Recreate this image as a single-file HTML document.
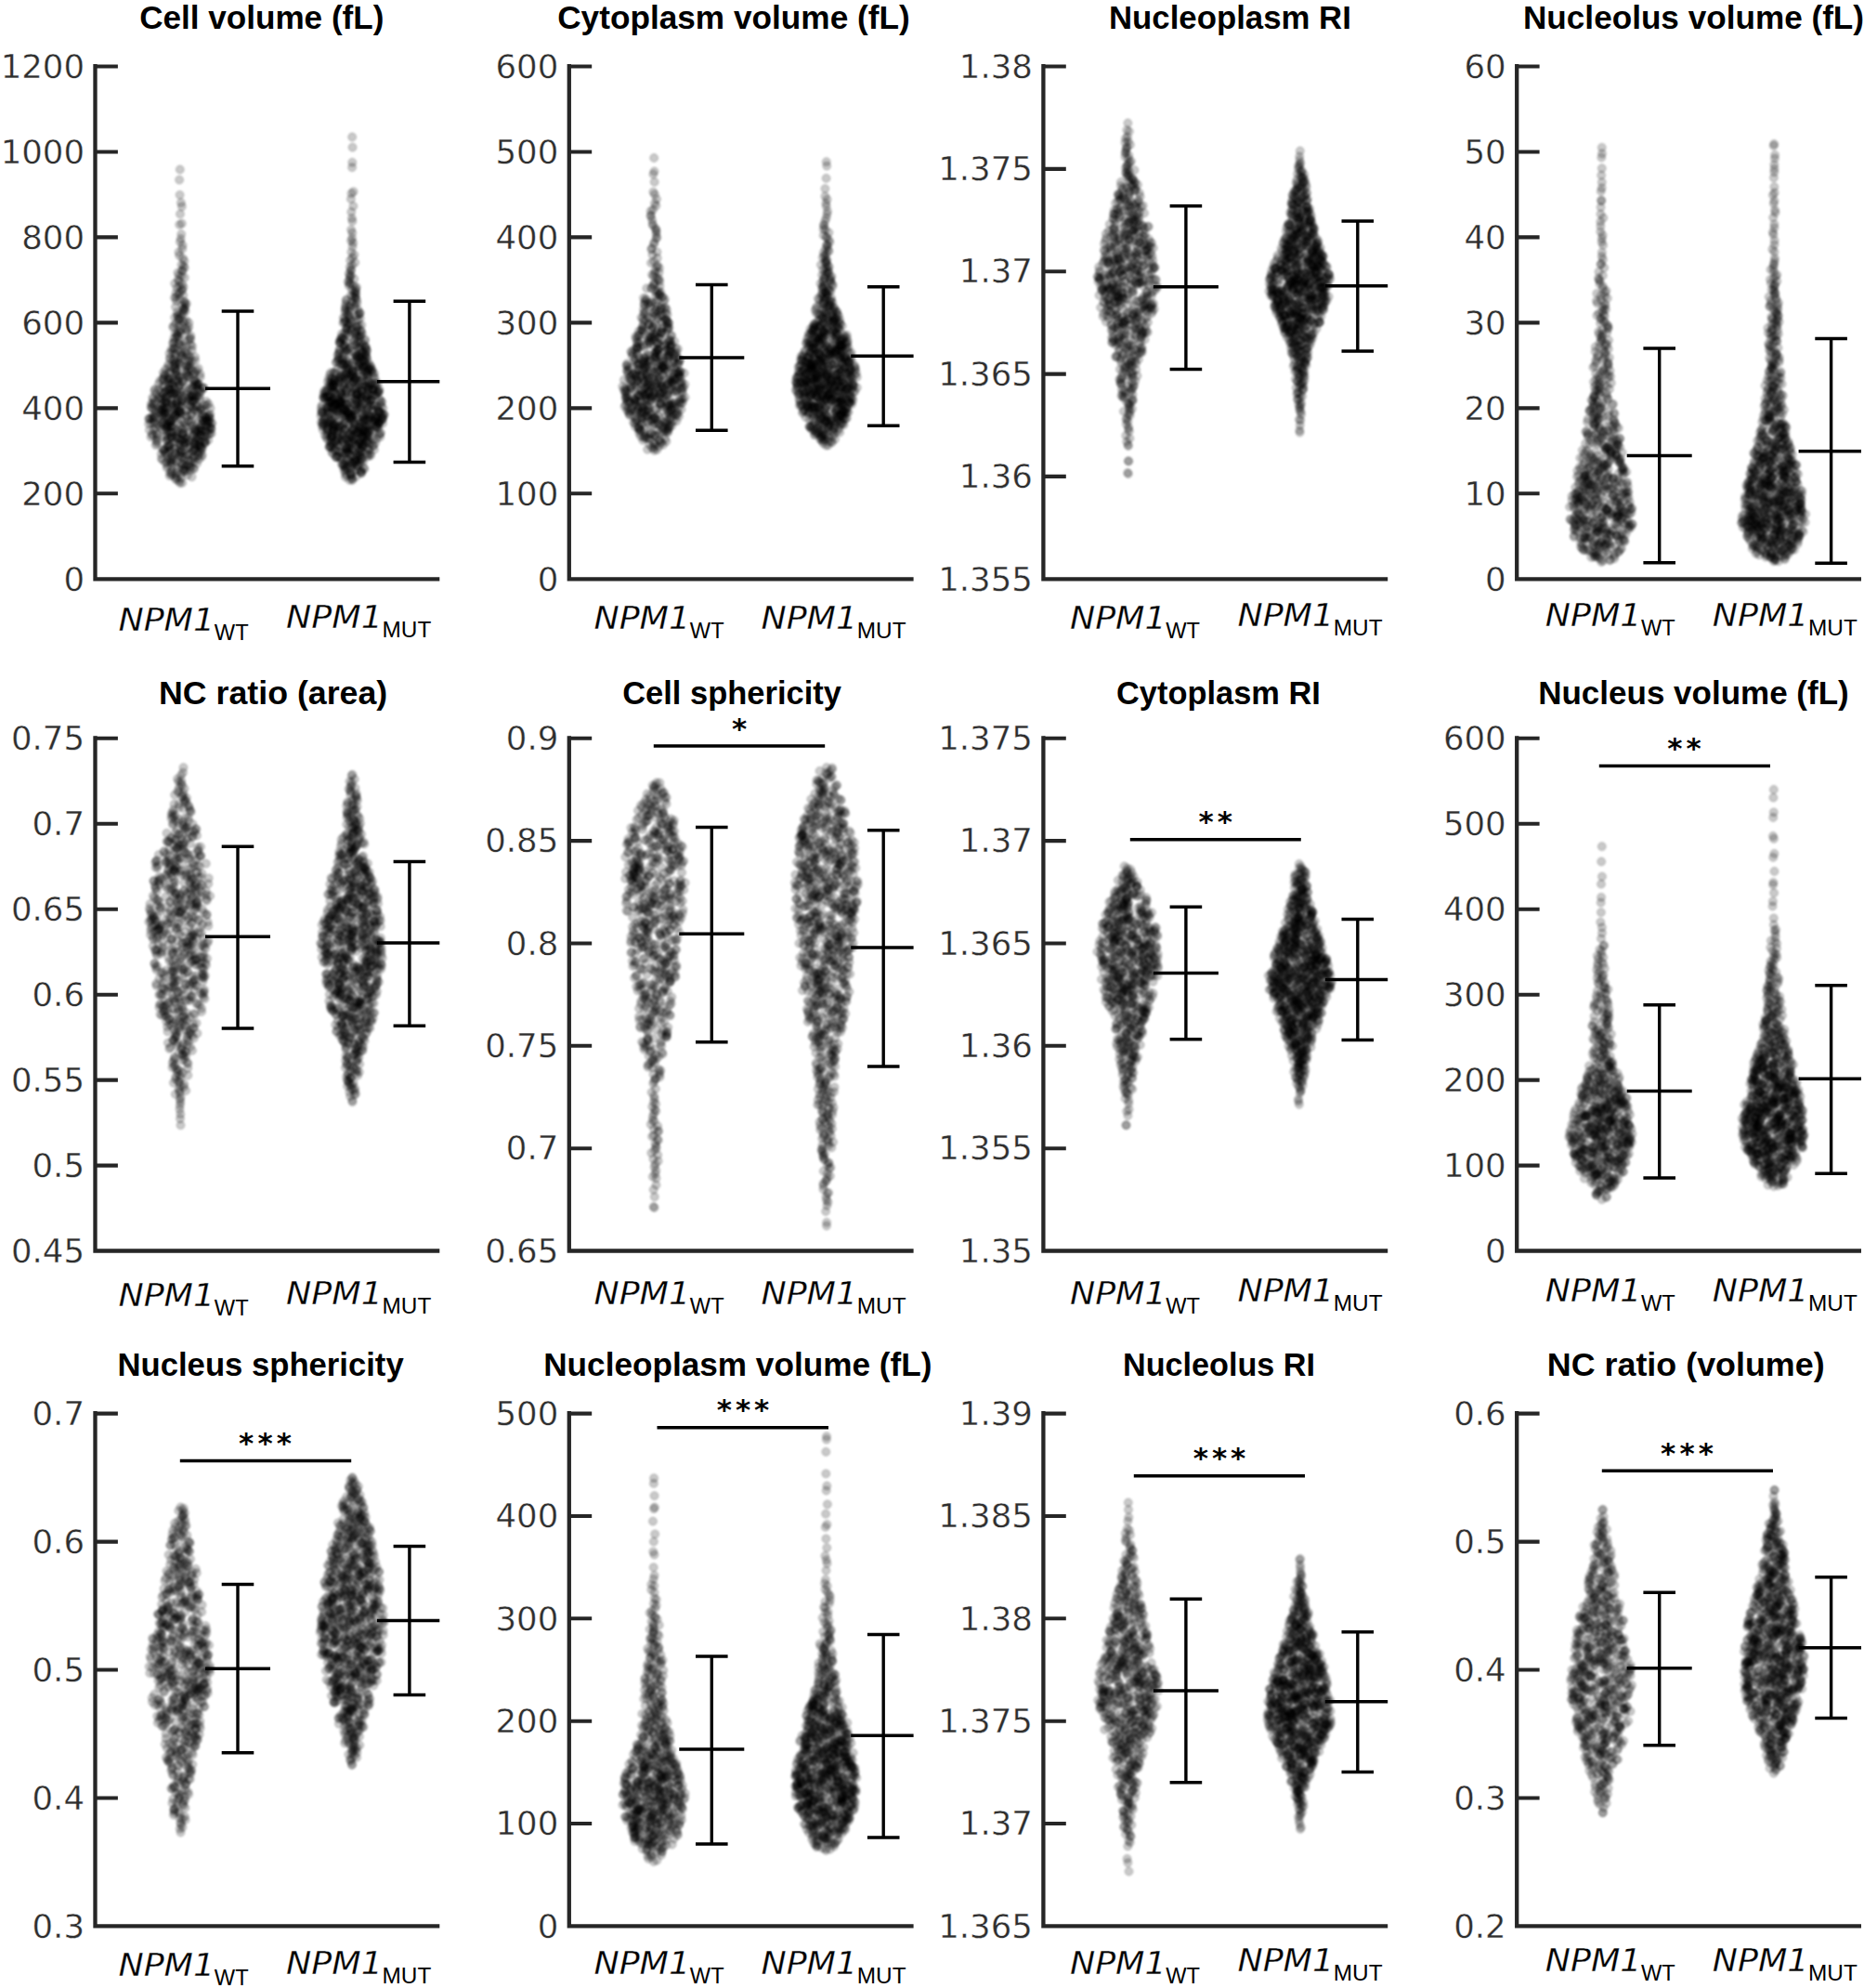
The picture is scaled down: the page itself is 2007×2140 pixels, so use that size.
<!DOCTYPE html><html lang="en"><head><meta charset="utf-8"><title>Figure</title><style>html,body{margin:0;padding:0;background:#fff}svg{display:block}.g{filter:blur(.85px)}.t{font:bold 35px "Liberation Sans",sans-serif;fill:#000}.k{font:35.5px "DejaVu Sans","Liberation Sans",sans-serif;fill:#2e2e2e;text-anchor:end;stroke:#fff;stroke-width:.35px}.n{font:italic 34px "DejaVu Sans","Liberation Sans",sans-serif;fill:#000;stroke:#fff;stroke-width:.3px}.s{font:23px "Liberation Sans",sans-serif;fill:#000}.a{font:bold 31px "DejaVu Sans","Liberation Sans",sans-serif;fill:#000;text-anchor:middle}.d{fill:none;stroke:none;marker-start:url(#d);marker-mid:url(#d);marker-end:url(#d)}.e{stroke:#000;stroke-width:3.4;fill:none}.x{stroke:#262626;stroke-width:4.3;fill:none}.y{stroke:#262626;stroke-width:4.1;fill:none}</style></head><body>
<svg width="2007" height="2140" viewBox="0 0 2007 2140">
<defs><marker id="d" markerUnits="userSpaceOnUse" markerWidth="12" markerHeight="12" refX="6" refY="6" orient="0"><circle cx="6" cy="6" r="4.4" fill="#000" fill-opacity=".21" stroke="#000" stroke-opacity=".2" stroke-width="1"/></marker></defs>
<g class="g"><rect x="-20" y="-20" width="2047" height="2180" fill="#fff"/>
<polyline class="d" points="171,412.9 209.7,493.3 192.5,415 219.8,476.7 175.1,408 169.6,457 193,391.7 180.1,456.3 176.6,416.6 208.8,481.8 217.4,463.5 165.6,453.9 225,463.3 189.4,320 200.9,326.9 226.7,459.6 183.4,459.9 177.3,470.6 195.9,311.3 180.3,439.1 199.6,484.3 179,433.5 203.8,475.9 212.6,418.9 199.7,354 172.8,426.9 179.6,503.5 209.6,441.7 205.2,371.2 213,442.8 227.4,461.2 213.5,469.7 188.3,486.9 194,230.4 184.6,494.6 209.7,400.3 174.5,462 226,466.9 202.1,389.6 183.8,453.5 209,461.6 193.1,405.4 179.6,469.5 173.8,436.3 188.7,436.6 180.3,480.2 192.8,296.3 188.7,395.8 227.7,466.7 222.1,432.2 198.5,281 179,427.5 207.7,403.7 190.1,471.3 160.1,456.3 196,445 183.8,470.8 192.2,486.9 195.1,433.2 211.7,398.7 189.2,363.2 191.2,425.4 175.8,401.1 165.4,462.3 178.7,487.2 167,442.1 181,494.1 219.6,417.7 212,498.9 196.3,328.6 189.8,403.5 198.5,366.5 200.8,457.3 186.9,422.7 213,413.9 208.8,468.2 201.4,490.1 169.3,470.9 182.5,485.5 174.8,495 193.6,209.8 205,506 213.7,462.7 205.3,365 222.1,436.1 165.3,435.8 183,464.4 189.6,390.4 170.9,428.9 182.9,478.5 183.1,407.8 225.2,449.3 208.4,415.7 196.5,410.4 216.6,440.4 222.2,453.3 213.7,465.1 214.8,429.4 192.4,271.5 191.5,455.8 171.8,458.4 187.9,320.5 192.8,442.6 178.9,438.9 187.2,364.4 195.9,462 188.2,305.2 218.5,452.5 206.9,473.6 222.5,458.6 183.1,466.1 173.7,450.9 203.3,352 199,454.2 185,491.1 194.1,342.2 197.3,317.8 179.9,497.6 208.4,485 198.8,298.8 202.7,452.9 189,348.6 173.8,493.4 187.5,428 193.1,478.4 179.9,458.3 197.1,337.2 178.8,420.5 217.8,461.1 177,483.8 178.8,474.3 204.9,396.2 192.4,465.3 203,365.8 178.2,397.7 211.9,416 218.1,417.4 180.8,408.3 193.2,307.5 162.7,437.8 196.1,312.8 178,431.2 175.8,449.7 177.2,444.2 224.3,474 204,440 180.9,481.5 191.2,340.3 194.1,442.3 207.4,451.6 181.7,418.6 194.8,484.5 176.5,437.9 191.2,443.4 194,414.4 210.3,482.5 214,413.1 198.9,325.9 193.7,390.9 209.7,413.9 197.4,421.4 198.1,480.6 191.5,361.9 202.4,397.2 207.9,492.7 206.9,389 176.2,484.9 199.5,492 189,514.9 184.7,464.8 197.7,286.5 186.7,465.4 216.6,480.9 202.6,429 189.1,488.2 196.4,435.3 221,475.9 187.9,393 216.4,468.5 201.8,393.7 203.5,428.3 194.9,218.2 212.3,411.8 190.1,462.5 194.6,425.5 224.4,448.1 199.3,331.1 206.9,431.5 199.6,500.6 194,442.9 214.1,494.5 190.7,336.1 162.5,470.4 166.2,420.6 205.4,447.6 187.3,418.5 194.8,354.9 192.9,472.4 202.5,482.1 201.4,421.3 203.4,388.4 179.5,432.8 205.2,503 216.2,486.2 214.9,474.7 216.4,438.8 228.4,455.5 188.5,359 188.3,423.5 183.3,401 199.2,399 204.1,426.6 224.2,456.8 225.2,453.4 219.3,469.8 193.2,241.8 205.3,361.4 197,278.1 192.9,518 183.4,386.7 188.1,448 191.9,369.9 181.6,394.8 190.1,399.7 178.2,488.1 209.8,409.5 203.6,394.4 215.4,464.7 168.1,444.7 194.8,487.4 221.8,469.4 195.1,433.1 211.6,425.4 206.7,420.3 201.1,472.6 186.4,352.5 215,452.2 185.3,433.8 174.9,434.5 224.4,467.4 212.4,437.3 168.8,477.5 188.9,470.4 209.1,426 195.5,385.9 162.8,434.7 197.7,346.8 209.1,497.2 195.5,297.1 193.6,367.1 184.4,376.1 176.4,446.8 200.5,402.2 186.6,495.5 193.1,193.6 164.3,427.9 207.8,459 187.8,387.6 180.9,471.7 178.8,427.3 188.1,341.7 192.8,344.4 188.7,391.2 208.4,504 185.7,445.6 210,478.1 213.7,396.7 190.8,361 189.5,315.4 167.6,479.1 198.5,324.6 208.9,504.8 194.4,445.5 210.7,464 162.6,455.2 168.4,466.8 217.4,464.4 184.5,484 181.8,419.3 189.8,399.4 186.4,368.7 205.5,437.5 197.1,466.4 180.9,402 198.9,506.5 180.5,501.7 191.8,357.9 185.9,415.6 201.5,380.9 166.7,432.1 211.2,477.8 212.1,414.7 206.5,513.3 181.6,405.9 193.6,489.1 190.8,508.5 207.9,431.9 202.3,489.5 181.6,444.9 189.7,516.5 174.8,455.7 196.3,306.2 198.4,476.6 190,434.1 160.2,450.6 210.2,475.4 215.7,460.9 207,372.6 204.5,436.9 188.5,368.4 217.8,483.1 192.8,477.9 204.8,392.1 210.6,460.8 202.1,404.1 216.4,481.5 204.6,363.8 183.6,496.7 199.6,378.9 204.5,489 174.2,422.5 175.5,416.1 205.8,454.1 225.3,460.3 218.3,446.3 193.7,459.3 169.6,467.8 207.7,485.2 194.6,379.7 227.2,455.9 200.9,424.5 200.7,383.8 221.6,463.8 194.5,338 198.8,432.5 188.7,510.8 194.7,498.7 213.6,480.3 212.7,426.4 209.3,483.7 216.7,441.8 203.4,496 189.9,472.4 187.2,374.6 219.9,436.1 217,482.4 168,423.3 195.8,222.3 203.3,405.2 217.1,449.7 180.1,463.6 199.4,476.4 207.5,469 190.3,496.8 190.2,468.1 201.7,466.2 181.2,408.5 183.6,493.9 206,427.2 176.9,463.3 183.9,470.1 186.6,350.8 188.5,446.7 191.1,404.6 171.4,443.9 200.3,507 196.6,291.2 186.1,387.6 196.6,264 203.7,499.5 213.3,444.4 177.9,498 226.4,446 192.8,302.8 181.6,487.8 207.3,438.2 203.2,474.9 187.7,378.1 167.5,460.8 192.4,417 206.7,377 196.3,519.7 183.7,480.5 194.8,514.8 210.9,437.3 215.9,460.5 179.4,429.7 196.2,491.5 188.5,409.1 214,486.2 205.6,431.3 166.3,456.4 203.5,382 207.3,426.7 196.3,430.4 194.9,473.9 193.9,260.4 212.1,471.4 181.1,392.7 189,330.4 218.1,451.9 200.7,345.1 193.9,482.8 220.4,473.1 215.7,422.1 211.5,474.4 203.8,481.1 195.4,284.9 222.2,451.7 171.3,440.2 183.5,411.4 184.9,435.4 223.5,454.4 222.4,449.5 176.2,407.1 191.8,301.2 180,473.4 168.6,473.8 177.7,403 201.2,404.9 207.8,457.6 183,509.2 174.1,447.6 193.3,370.9 200.7,373.2 215,426.2 166.9,418.8 184.7,507.3 217.7,489.7 209.7,402.3 181.1,411.7 194.9,393.2 195.8,240.7 194.7,422.2 184,422.9 196.8,411.2 198.1,495.4 193.8,182.5 195.2,252 186.7,438.4 202,511.3 206.7,425.8 190.9,434.5 172.5,436.9 161.8,450.1 195.9,431 176.4,485.3 188.2,416.8 189,381.1 169.2,475.3 178.4,443.9 185.9,436.4 180.8,435.2 196.9,375 173.5,429.9 197.4,334.5 187.5,386.6 163.6,467.2 164.8,468.9 198.1,507.9 213.4,490 186.9,424 199.7,335.1 185.8,471.9 197.2,468.5 194.3,451.3 180.9,457.8 193.2,275.2 198.8,288.3 216.6,420.7 188.1,397.8 185.3,452 193.4,443.4 184.2,395.5 196.7,466.3 207.7,440.7 201.3,476 206.1,445.7 194.6,257 204,465.9 175.7,454.3 179,461.6 180.4,443.9 202.1,500.6 174.1,440.8 221.2,475 209.1,422 178.1,421.4 224.6,434.9 172.3,409.6 196.7,475.4 203.6,430.8 181,454.6 176.1,409.9 211.9,434.1 221.3,448.7 198.5,472.8 197.8,332.5 188.1,476.2 196.7,407.1 210,384.3 184.4,502 193.6,424.6 196.1,473.3 189.1,501.1 192,390.5 221.1,449.3 190.8,423.8 183.9,459.6 209.4,477.3 197.6,309.1 214.9,476.9 227.6,461.8 164.5,434.3 186.3,369.6 186.6,492.8 217.6,457.1 194.5,348.9 184.3,419.8 197.4,499.8 199.9,442.2 208.7,431.4 203.4,347.5 200.7,356.2 184.8,509.7 182.3,414.9 184.5,413.3 217,491.8 215.5,402.7 191,450.2 200.8,394.2 180.3,460.3 221.3,458.7 196.7,467.5 206.3,496.3 196.3,267.9 198.2,457.4 207,398.5 190.8,359.7 199.4,328.2 189.5,446.5 186.7,408.6 204.8,406.9 176.2,439.7 160.9,463 191.1,504.3 177.8,442 182.7,479.3 164.3,439.7 181.6,479.7 187,449.1 225.2,446.9 196.6,383 187.4,375.4 191.9,410.6 194.9,358.4 194.4,383.5 210.1,388.1 188.7,482.3 202.5,413.4 174.8,429.6 190.6,513.7 170.8,419.4 211.5,465.6 219.5,441.2 174.8,483.4 192.3,350.7 182.8,385.4 209.5,410.2 166.1,448.6 209,490.8 209.6,462.9 178,433.3 200.8,400 192.4,490.9 173.3,454.9 185.2,469.7 216,468.1 218.8,417.3 179.1,447.9 191,408.7 176.9,404.4 160.6,451.1 171.7,441 170.5,427.8 221.5,465.5 216.7,456.6 185.3,378.4 198,505.2 195,438 195.7,291.5 193.4,321.7 184.1,430.4 199.2,471.6 182.7,512.2 186.3,458.1 194.4,509.9 201.9,354.4 191.9,343.2 203.9,418.4 183.4,455.3 193.7,406.5 176.6,445.3 189.9,323.8 177.3,422.6 198.2,333.2 226.5,439.4 179.1,459.5 216,468.9 196.3,372 210.9,428.8 187.9,443.5 212.7,413.5 226.4,450.5 193.8,520 210.6,411.9 195.8,500.1 175.5,424.9 188.6,440 195.1,486.4 214.2,478.8 191,446.6 182.5,380.4 189.8,432.9 182.3,452.5 183.8,424.2 164.9,451.1 204.9,502.2 192.5,317 199.8,460 191.4,293.6 174.3,441.4 164,450.3 164.7,447.3 191.4,339.5 184.6,458.9 206.7,417.8 197.6,345.4 204.5,385 194.3,479.5 173.6,488.5 215.4,479.6 181.2,423.8 184.1,453 196.5,505.5 176.4,458.1 193.5,357.1 165.1,429.5 166.9,448.8 185.2,511.5 201,448.2 162.9,439.1 191.9,464.4 185.9,412.4 200.5,447.4 224.2,452.8 195.3,381.9 191.7,442.9 190.8,438.4 183.8,419.7 191.5,430 191.5,377.2 186.4,424.4 187.7,396.3 210.6,485.7 189.3,400.7 199.7,502.7 220,453.7 213.8,490.2 174.3,444.8 184.5,498.3 211.2,472 215.6,405.9 193.3,314.7 190.4,309.9 195.3,492.3 193.5,415.2 209.2,428.4 183.4,455.1 182.2,450.9 214.2,420.6 220.7,477.3"/>
<polyline class="d" points="403.9,436.7 366.6,433.7 362.5,389.3 376.6,330.7 395.2,377.3 378,465 372.5,323.6 391.1,496.9 367.8,499 355.7,477 385.1,388 372.3,332.3 384.2,385.6 390.6,379.2 370.6,501.3 394.4,385.1 359,484.3 376.5,449.9 381.6,407 394.6,432.2 367.7,407.7 386.2,428.7 397.1,452.3 391.6,388.9 359.2,400.9 375.4,392.5 356.1,474.4 401.2,418.8 386.8,381.6 362.9,397.4 373,387.4 359,478 369,413.9 347,444 373.4,421.2 393.8,375.3 352.9,473.3 399.1,393.9 391.1,417.4 361.4,447.4 366.4,365.1 396.7,476.8 359.4,415.7 378.3,228.2 382.6,496.9 395.4,430.1 362.9,465.7 372.8,413.7 386,417.2 349.6,448.9 385.3,422.5 387.4,364.1 377.3,305.5 377.1,280.2 375.2,457.5 381.3,300.2 384.3,465 354.9,481.3 360,434.3 410.8,452.5 365.5,438.9 375.9,449.7 409.8,434 357.9,422.2 408.4,467.8 376.3,516.8 371,378.2 352.7,444.7 368.9,476.1 404.3,476.8 374.3,505 387.7,438.4 365.9,406.2 381.6,365.9 396.6,489.6 372.6,354.2 395.2,385.9 376.2,467.5 389.8,470.1 389.2,368.3 368.1,467.1 382.4,360.2 373.4,396.1 371.1,372.2 389.1,430.6 388.5,355.8 365.2,380.5 385.2,394.7 388.1,493.5 353.7,437.5 361.5,485.3 373.7,481.3 384.5,500.6 353.2,428 385.8,495.4 374.2,355 385.2,438.7 363.1,478.1 345.7,454.6 395,457 375,484.9 382.2,468.4 360,450 402,421.5 407.9,455.8 372.3,462.1 390.5,468 367.2,432.4 358.9,420.4 357.3,486.6 362.8,414.1 377,466.9 382.2,456.8 362,435.6 385.1,382.8 379.5,277.4 369.4,347.5 371.6,336.1 412.5,449.3 400.4,469.6 406.8,440.3 380.8,410.4 348.2,459.2 399.2,430.6 404.8,415.3 377.6,422.1 383.9,448.2 386.1,373.9 357.1,481.6 369.8,416.1 397,419.7 383.5,418.8 386.8,430 397.8,484.2 361.1,417.5 376.6,296.7 383.4,408.4 356.1,452.3 376.4,334.9 353.2,442.1 383.6,383.2 411.3,432.7 389,424.5 382.7,318.2 380.4,500.3 372.6,346.2 361.8,440.4 357.5,431.5 377,502.4 376.8,396.9 380.2,389.4 381.4,274.3 403,437 388.5,420.6 355.5,453.3 393.9,426.2 367.9,363.7 402.3,414.7 395.1,393.3 352.5,439.2 396.6,417.4 375.7,307.6 365,443 355.9,470.4 382.7,320.5 390.7,398.8 404,448 387.9,385 371.9,513.5 364.8,430.6 362.3,474.8 351.9,419.6 387.2,439.6 383.7,432.1 398.3,457.3 396.1,438.5 358.8,416.2 379.3,174.8 374.5,487.4 369.2,499.9 369.8,383.4 371.7,509.9 383.7,502.3 391.1,435.2 379.6,498.1 396.1,410.4 389.9,428.8 392.5,381.1 388.4,373.5 368.2,396.5 373.6,376.6 409.3,470.3 408,443.4 407.4,455.5 406.9,413 404.2,455.3 383.7,441.2 358.8,429.5 413.7,446.4 370.7,472.5 358.8,463.5 360.1,401.1 383.8,384 389.7,493 347.4,456 375.6,445.5 355.2,480 370.9,406.4 388.6,410.6 379.3,250.7 374.2,408.9 361.7,390.2 360.2,436.8 373.1,322.4 379,378.9 373.9,482.2 365.8,457.8 388.8,384.2 397,460.8 406.6,422.1 366,369.2 396.8,415.4 400.7,397.6 395.3,441.6 395.1,488.2 348.5,456.8 369.4,441.4 372.4,488.1 389,437.9 379.8,498.4 373.6,443 368,359.4 374.3,495.1 369.3,444.6 387.6,455 349,427.3 364.3,474.3 379.2,404.5 366,392.2 371.5,333.2 368.5,469.6 379.6,158.6 382.7,480.1 370.7,392 390.5,480.5 390.6,395.7 360.5,423.7 399,463.9 372.4,390.1 383.8,352.7 406.6,437.9 394.6,378.6 378.1,247.3 373.9,493.9 378.8,514.8 387.6,452.4 364.4,384.7 400.4,412.3 403,484 377.6,511.2 357.3,415.5 392.8,470.1 357.7,419.2 378.6,482.6 354.3,481.1 391,404.7 368.9,388.4 391.8,471.8 381.6,409.2 411.3,449.3 380.4,221.9 383.3,371.1 366.6,369.7 365.5,377 391.7,389.1 375.9,349.1 383.4,406.1 386.6,466.6 370.8,441 385.6,339.2 378.7,448.8 381.1,507.8 384,424.1 376,482.3 348.3,424.2 379.2,285.5 407.2,420.3 373.5,436 352.9,410.9 387.9,478.6 383,314.3 379.5,441.2 381,463.2 362.8,442.1 382.2,371.6 355.5,416.1 381.4,406.8 376.8,287.3 387.7,435.9 374.8,407.2 381,485.5 401,440.7 366.9,386.1 368,427.4 359.6,421.9 389.4,508.9 355.7,480.7 378.1,290.5 367.4,421.6 376.9,328.8 346.3,443.8 390.8,377.8 377.9,344.4 374.6,303.4 398.9,488.6 381.7,496.1 357.3,471.2 382.8,321 365.3,368.7 374.3,444 387.7,497.9 403.5,419.8 378,259.2 379.8,446.6 391.1,448 387.9,389.8 360.1,409.8 374.4,380.7 401.7,464.2 373.4,455.2 392.1,463.9 389.8,461.6 380.6,206.3 366.4,492.6 361.4,434.8 402.5,405.3 403.4,441.9 352,462.2 396.8,465.3 387.8,342.6 377.1,449.6 345.5,447.6 349.1,451.9 370.9,424.6 388.1,507 382.1,472.7 409.1,454 365,434.3 371.2,462.9 349.8,468.4 373.1,377.7 373.4,434.5 390.7,413.6 384.9,425.3 349.1,420.6 384.9,434.9 370.6,435.1 386.8,370 392.3,452.2 375.9,475.3 353.2,454.8 362.7,443.6 404.6,453 356.5,469.2 381.8,446.5 377.9,214.2 399.9,429.8 384.7,367.8 373.7,466 397,420 362.2,442 407.8,443.4 371.8,496.6 407.3,461 372.8,440.6 388.7,508.1 367.2,432.3 381,453.9 364.2,386.6 400.4,430.2 364.7,491.4 352.2,426.3 363.8,435.4 406,458.5 383.6,513 347.8,428 349.1,445.4 372.2,482.9 408.2,453.5 356.4,471.6 371.1,345.4 371.3,342 403.1,401.9 360.3,457.6 376.5,439.5 378.9,346 356,401.1 399,414.1 353.6,451.7 393.6,415.5 369.2,448.7 370.3,462.9 387,336.2 379.1,180.2 357.1,412.5 382.3,282.6 353.9,407.5 354,434.4 376.1,301.6 379.1,393.8 387,477.2 367.3,494.5 364.6,470.8 365.3,433.6 378.6,356.2 382.9,382 390.1,408.5 410.9,446.9 355.6,433 382,456.6 359.7,457.3 373.6,473.4 383.9,429.7 351.5,454.6 384.3,488.8 371.1,357.9 393.1,446.2 359.3,412 391.2,450.9 367.3,437.8 356.5,428.3 402.1,451.8 400.2,450.4 389.7,421 397.3,397.1 365.3,458.6 369.1,386.8 389.5,506.5 379.6,476.4 388.8,391 395.1,451.2 371.3,442.4 380.5,307.6 368.4,425.7 350,424.1 365.7,480.4 390.3,445.6 379.7,399.5 377.5,354.4 397.7,448.9 392.4,504.9 395.8,452.7 384.5,424.6 379.4,423.2 372.8,503.1 408.5,419.3 369.4,364.5 367.8,423.5 379.1,256.4 377.3,429 375,397.3 386.5,459.7 391,370.8 377.2,508.9 372.3,359.9 405.9,460.5 357.7,469.2 381.5,493.9 378.7,433.6 375.7,411.3 400.3,398.3 380.2,411.4 374.9,358.6 383.4,316.8 379.1,462.4 382.9,422.8 387.5,489.7 370.2,366 370.9,428.5 411.5,451.1 365,450.8 395.5,472.3 382.1,328.3 361.9,402.1 356.7,434 370.7,346.9 387.6,361.3 369.4,457.1 374.4,475.2 400.5,448.6 389.6,481.9 398.5,447.8 361.3,423 403.5,446.7 396.4,418.4 410.1,431.3 347.8,452.7 397.4,461.8 377.8,317.7 379.2,448.6 361.8,492 346.4,444.7 360.2,408.4 379.6,491.1 382.3,357.6 357.3,477.4 401.7,418.9 383.8,309 382.8,387.3 385.3,361.3 379.7,319.2 388.4,380.1 377.3,348 388,464.7 385.5,432.8 401.2,401.7 358.6,456.6 388.1,473.7 352.7,461.5 389.8,416.7 356.3,410.3 380.5,400.5 396.6,458.3 350.2,421.4 407.5,453.8 362.2,459.1 364.5,453.3 373.5,392.7 401.9,473.7 381.7,473 395,475.5 375.4,340.2 408.6,429.6 405,425.3 388.8,426.8 395.7,470.5 362.6,492.3 391,448.7 369.5,467.5 372.4,327.2 395.2,399.1 410.1,465.9 372.6,449.7 391.3,395.1 394.5,447.1 355.8,431.9 398.1,396.6 376.3,339.4 376.5,343.2 379.6,265.5 382.7,414.4 393.5,391.1 377.6,413.6 378.3,324.9 404.8,459 402.6,453.5 378,442.8 348.5,428.2 367.2,366.5 387.1,486.3 346.1,441.6 370.4,412.7 383.1,496.2 383.9,350.9 395.7,395.8 394.4,416.2 399.9,399.7 398.2,477.7 352.6,468.4 359.4,439.7 369,427.4 385.5,410 361.2,483.5 371.8,479.1 374.8,334.3 388.9,356.7 393.8,372.8 373.4,353.8 349.9,429.2 352.1,459.9 388.4,360.7 370.5,506.5 393.1,365.4 354.8,457.9 376,390.2 391.7,503.7 377.5,373.5 379.4,238.2 385.3,398.3 383.5,408.1 398.7,436.9 395.3,424.1 391.1,387.4 367.2,405.5 358.5,438.9 371.4,503.3 368.6,487.2 355.2,445.6 390.4,393.6 367.2,460.4 373.8,338.1 359.4,463.1 392.8,451.3 354.4,431.8 392.6,403.3 383.6,356.4 389.3,349.9 386,477.6 374,483.2 383.2,493.2 369.1,458.2 403.6,425.6 379.6,483.9 363.4,382.1 401.6,479.8 378.4,208.2 347.7,462.7 381.1,315.3 356.2,438.1 373.6,368.4 372.1,487 402,479.8 358.1,461.1 400,426.5 366.3,423.3 353.9,445 394.3,481.4 364.4,388.2 396.1,473.4 355.9,416.9 364.9,485.2 401.4,436.1 383.5,489.7 371.2,403.8 370.5,417.8 364,464.2 412.2,451 405.9,450.2 374.4,418.2 365.4,411.4 370.1,374.7 396.2,466.8 372.6,484.5 384.6,361.9 389.5,485.8 356.6,455.6 367.6,391.3 384.9,351.8 352.4,421 384.5,479.4 383,446 376.1,446.8 378,484.8 381.8,442.4 383.3,310.7 407.1,442.6 382.5,431.2 384.3,323.1 412,455.8 352.9,438.3 379.5,515.6 369.3,436.6 385.7,500.7 374.3,501.4 380.8,325.9 389.2,486 390.5,463.6 368.6,474 385.4,333.1 355.3,412.6 377.6,451.4 372.9,472.3 409.3,443.4 378.7,504.1 371.8,330.1 393.9,461.7 394.5,375.4 372.3,399.2 376.3,401.5 376.3,495.1 393.3,394.4 409.1,466.8 377.2,470.8 367.2,404.1 413.5,446.4 389.9,358.9 385.3,344.1 403.3,459.8 364.3,409 393.1,373.1 358.6,467.1 374.3,349 379.7,399.9 395.1,469.1 372.7,419.8 357.8,431.1 394.2,475.5 345.9,438.6 396.4,409.2 397.7,433.1 391.8,479 378.4,512.1 375.7,294.4 364.8,380 356.6,466.2 377.6,476.2 371.8,455 392.7,425.9 365.8,418.1 402.8,425.5 368.2,472.1 377.6,510.4 380.4,467.7 346.7,436.2 387.9,337.1 360.4,475.1 381,461.9 386.3,391.5 358.3,488.4 390.9,471.5 385.8,456.1 357.5,452.1 381.8,434.9 376.1,305 393.8,410.9 376.4,416.4 359.2,414.9 381.7,475.9 387.2,486.2 378.3,271.4 378,469.4 367.5,433.7 350.3,427.8 398.4,431.1 369.7,342.2 395.4,402.4 390.5,460.1 372.7,447.4 357.5,459.2 387.9,405.4 371,439.7 371,445.9 394.4,427.1 373,402.9 372.5,374.6 387.6,490.2 367.6,423.5 390,494.3 412.4,439.4 386.8,414.4 382.2,436.5 352.4,465.4 397.5,412.6 362.3,440.2 379.4,517 396.3,491.3 375.4,404.5 366.8,486.8 391.7,383.3 402.3,449.6 369.5,404.2 372.4,396.1 367.8,363 387.7,395.1 378,424.8 386.8,393.9 409.5,444.4 380.8,417.8 356.7,408.3 364.6,459.6 360.4,461 373.2,435 365.5,376.4 404,413.1 379.8,402.4 366.4,440.8 375.3,478.4 360.3,411.8 390.3,468.9 405.5,472.4 357.1,406.9 390.5,478.6 390,477.9 358.3,468.8 378.6,447.7 394.1,468 358.5,445.2 389.8,481 380,398.5 376.1,362.3 376.3,406 393.4,400.2 373.4,444.3 378.9,234.9 373.7,351.6 355.2,403.6 403.8,407.6 370.7,441 408.1,456.6 407,422.8 364.4,471.9 359,429.3 410.6,437.2 369.8,392.3 375,487.6 396,439.9 397,398.9 382.7,417.9 397,390.7 395.7,404.9 365.4,431.1 385.4,464.2 394.6,459.3 395.7,435.4 383,363.2 381.7,331.1 380.6,404.7 398.8,394.4 388.1,475.9 388.5,456.2 384.7,505.6 412.1,445.5 384,425.1 382.9,312.9 408.5,421.7 382.7,379.4 397.2,425 352.9,416.5 382.9,498.7 361.5,474.5 403.9,450.6 386.6,476.4 370.4,393 384.4,326.4 395.6,428.9 374.9,444.1 368.8,501.8 395.9,403 387.1,375 377.3,489.4 383,340.6 384.3,466.6 391.5,453.9 363.3,468.5 373.1,401.7 369.8,489 386.5,350.2 351.8,427.1 387.6,483 377.3,497.5 370.4,499.5 370.1,447.2 374.9,376.1 380,460.8 355.3,426.8 387.4,460.5 379.5,471.1 396.9,482.9 393,387.1 351.1,470.9 399,490.5 365.6,406.5 394.3,443.7 377.8,403.7 391.7,464.4 353,443 346.7,458.4 381.5,458.7 379.2,147.5 378.5,426 396.8,463.4 370.5,372 376.4,433.3 362.5,430.3 371.6,505.6 394.5,465.2 394.9,400.7 378.1,296.1 364.2,479.4 359.7,459.7 347.5,455 356.1,454.4 386.8,338.1 405.5,457.9 352.5,426.6 365,431.8 365.8,367.2 359.2,464.4 360.1,428.1 360.2,409.7 389.3,439.9 385.5,465.2 389,509.6 390.5,454.2 365.5,409.4 380,353.3 363.6,491 388.2,466.2 352.4,462.5 359.3,414.2 377.9,453 361.7,492.1 373.5,511.7 394.6,382.6 386.1,384.3 380.2,370.2 378,474.1 388.3,462.9 351.5,437.8 379,311.8 389.4,420.7 377.8,291.1 388.7,495.5 385.7,490.8 380.2,261.4 388.8,426.3 364.3,461.2 404.3,450.8 365.5,433.3 393.7,381.6 404.2,411.9 387.1,398 400.2,418.7 357.3,432.1 356.4,437.6 407.1,422.7 392.8,366.8 360.5,436.9 385.9,473.1 396.4,444.9 379.4,450.5 376.9,299"/>
<polyline class="d" points="692.4,438.6 692.6,392.4 686.2,409.6 691.1,354.7 698,471.6 686.8,374.7 698.8,349.8 702.7,458.5 675,441.5 719.6,384.5 702.5,274.2 691.7,397.3 702,295.7 687.5,459.3 680.8,403.3 684.6,364.5 712.6,353.6 701,283 706,319.1 727.9,446.5 737.6,427.8 727.9,407.9 725.5,446.3 677.9,442.1 728.5,446.9 708.1,369.6 725.3,421.7 709.2,420.4 676.5,428.3 699.1,422.8 722.7,455.1 722.4,405.6 699.6,431 690.6,444.8 717.3,457 687,413.2 718.3,348.9 711.5,419.2 713.9,389.6 719.8,347.5 719.3,352.7 712.2,339.6 696.8,454 685.3,403.1 699.7,329.9 713.9,454.6 730.5,406.9 701.8,426.6 711.1,428.9 715,438.5 725.3,387.1 732,431.4 709.2,457.3 720.8,430.4 704.4,260.9 694.4,384.8 713.9,422.6 722.6,440.6 687.9,356.4 699.5,383 699,411.2 719.2,412 713.5,416.6 712.5,411 709.7,466.7 694.7,409.4 701.3,427.4 707.6,394.2 684,431.2 709.2,447.9 707.9,329.2 713.4,353.9 710.4,308.1 705.2,413.8 705.1,385.9 714.3,393.9 722.9,370.4 701.7,452.1 692.2,350.6 699.5,472.7 731,448.2 693.4,389.6 719.3,368.4 710,317.3 707.8,277.9 705.1,480.1 704.1,281.5 720.9,459.5 698.5,368.2 705.6,429.9 695.1,448.1 704.7,195.9 686.6,426.3 715.9,322 706.9,338.7 732.8,410.6 695.2,443 698.8,468 704.9,294.5 711.6,372.5 694.1,324.5 727.5,435.6 725.3,382.5 697.6,439.6 729.2,420.8 724.9,405.8 717.2,344.1 719.9,381.6 722.4,378.5 700.3,343 724.7,419.5 733.4,434.3 716.6,330.9 718.7,376.4 693.8,411.2 704.8,477.5 704.6,455.7 704.9,209.3 721.7,372.6 709.9,474.3 671.7,419.7 685.5,404.9 697.3,414.4 701.7,325.6 717.5,397 725.9,389.9 713.2,460.7 716.1,472.4 696.1,404 682,454.8 692.3,440 705.6,379.9 703.6,336.3 709.5,334.9 714.3,425.9 687.4,391 732.8,418.3 691.8,456 718.7,453.9 710.3,386.2 695.1,392.1 689.5,432.1 703.4,306.2 711.4,314.5 693.4,465.3 683.1,388.1 699.9,367.9 690,366.7 690.4,456.5 732.3,412.9 675.2,398.3 703.4,187.5 707,214.3 697,423.6 686.1,410.6 696.3,310.3 693.6,327.4 693.1,398.9 706,440.2 670.3,416.1 675,419.4 673.7,435.8 702.8,352.1 693,436.1 694.1,417.4 693.4,336.4 686.5,451.6 691.8,351.8 676.3,402 696.6,371 684.1,421.2 711.4,423.9 704.2,482.5 707,287.3 682.6,429.1 684.3,400.8 706.4,256.7 692.2,473.9 704.7,400.3 706.2,470.1 698.5,381.3 694.7,396.2 707,315.6 714.6,385.7 712.5,346.6 685.8,443.6 705.9,379.1 689.3,463.4 725.3,453 693.9,328.4 705.4,451.1 695.3,406.4 678.3,406.4 710.9,391.3 680.7,383.3 728.4,379.1 712.9,396.3 709.9,288.4 706.7,404.9 715.9,358.8 711.5,412.6 690.6,437.8 716.9,337.3 721.6,441.9 684.4,362 702.1,236.7 716.1,454.6 684.7,452.9 708.8,301.6 703.8,359.3 704.5,337.2 695.8,402.9 695.4,321.3 731.9,387.6 718.6,345.5 711.9,475.9 714.9,324.2 680.2,409.4 698,405.8 699.3,443.3 701.3,268.6 724.3,435.6 687.6,397.7 701.8,481.9 701.3,467.2 724.2,391 699.4,478.7 683.4,412.4 692.7,445.2 719.3,465.4 703.1,225.8 732.9,406 713.7,319.6 722.8,397.7 716.8,393.7 695.9,428.5 718.8,444 690.3,355.7 711.9,476.6 702.7,341.1 678,446.9 717.3,452.5 697.6,448.7 728.6,443.7 717.4,475.2 693,333 693.6,385.3 719.6,382 701,388.6 731.2,403.5 702.4,417.5 685.7,380.9 692,408.1 693.6,418.3 683.2,432.4 700.1,387.1 675.2,430.9 722.1,374.7 696.8,400.9 701.6,310.9 703,242.7 687.6,391.9 705.3,291.4 711.9,366 715.5,418.7 704.5,184.5 700.6,227.2 726.5,408.1 691.8,451.8 685.7,368.7 697.1,483.8 677.6,445.8 700.4,366.9 723.5,433.8 721.1,436.1 683.3,433.8 723.9,444.9 707.4,359.6 687.8,438.2 708.1,369.3 722.7,449.2 703.9,404.5 690.5,341.9 706.7,249.1 702.1,414.3 693.5,387.3 684.2,459.6 704.3,396.7 679.9,417.8 727.1,380.5 687.4,397.9 714.9,416.1 684.4,390.4 710.7,398.5 705.2,348 721.4,445.6 688.9,403.8 678.6,415.1 705.3,468.6 698.9,439.6 717.3,385.1 691.2,404.4 715.3,331.8 679.8,379.6 713.6,404 735,433.2 716.4,463.2 719.9,410.1 716.5,461.3 689.4,421.1 720.2,457.4 718.6,432.8 718.7,462.9 717.9,414.1 734.7,418.5 697.1,393 677.3,395.6 672.6,437.6 711.2,434.5 673.4,428.6 681.8,436.6 687.1,361.6 706.6,252 683.8,415.2 698.2,348.4 708.3,375.9 733.9,429.2 710.4,340.3 690,443.4 705.8,334.5 705.8,383.5 696.6,417.9 679.1,418.9 708,375.7 735.4,429.6 718.2,441 677.1,407.6 689.4,373.7 694.6,345.1 683.8,386.2 691.6,423.2 705.6,325.3 725.4,412 703.4,206.7 698.4,366 709.8,316.6 717.6,426.8 707,388.2 683.7,430.5 713.4,403.4 676.9,443.8 675.2,391.3 697.7,326.9 712.5,458.1 712.3,356.7 716.8,344 734.3,411.3 703.8,421.9 731.5,433.5 711.9,330.6 700.8,231.6 709.9,382.3 703.6,297.3 725,409.8 702.6,240.8 688.4,425.8 686.2,441.2 690.9,450.6 704.4,485 714.9,465.9 715.4,373 680,441.7 701,414.8 717.3,370 700.7,453.4 705.8,362.5 674.6,393.3 695.9,470.7 687.7,462 735,422.8 701.8,354.2 701.8,267.2 731.8,429.8 695.6,323.4 704.2,449.9 700.9,395.5 718.4,425 686.4,374.2 721.3,367.6 714.8,402.1 737.4,413.8 729.9,375.5 713.7,340.1 712.7,319.9 698.2,349.4 708,369.5 728.1,399.5 709.7,427.7 719.4,414 725.4,380.9 687.6,460.6 718.6,338.6 710.1,407.3 704.7,360.3 718,465 715.5,419.2 675.7,423.9 708.9,446 723.2,361.1 693.7,461.6 696.6,447.5 719.5,437.9 709.2,313.7 707.8,452.4 679.5,378.1 712.9,394.4 710,424.2 690.9,434.1 727.6,375.2 720.3,347.8 692.4,357.2 696.8,415.6 699.5,445.3 707.9,397 696.4,436.7 728.8,391.6 684.2,434.9 704.2,423.2 713.9,396 702.2,450.9 693.2,390 697,430.3 674.1,428.1 696.6,396.5 682.8,448.9 700.9,447 689.6,406.6 724.6,437.3 718.8,352.4 711.9,434.4 726.1,395.3 687.9,360.7 706.1,379.5 709.9,363.6 697.7,341.1 694,423.5 694.2,425.4 697.7,442.5 692.2,447.4 689.6,463.9 711.3,332.3 675,427.3 675.1,432.5 730.6,438.9 708.7,408.4 720.4,444.4 708.4,323.1 694.8,430.8 702,429.9 727.8,384.4 734,414.8 691.2,413.2 685.1,405.4 682,402.7 711.6,416.5 718.7,424.5 730.5,390.8 692.3,342.7 710.7,433.9 684.3,442.8 676.3,438.9 688.5,385.4 697.8,390.5 712.1,415.4 685.4,373.8 701.3,328 705.1,449.9 707.2,378.2 712,358.1 686.6,411.4 693,470.8 700.7,364.4 706.7,440.1 729.5,384.7 691.9,388.7 719.8,400.5 706.7,333.7 698.3,436.7 700.3,362.2 712.4,332.4 709.6,293.1 704.7,304.6 714.7,344.8 690.9,442.6 730.1,444.9 677.3,398.2 682.6,376.1 713.2,464.3 730.1,401.6 722.2,361.3 719.8,386.5 692.3,399.1 705.6,427.2 685.6,376.3 699.7,458.1 719,435.3 706.7,350.2 699.1,421 731.5,399.6 704.9,218.8 708,462.7 692.8,345.8 710,317.4 721.5,408.3 714.9,372 719.9,383.5 709.5,480.5 718,377.4 701.1,431.6 732.1,400.5 728.4,453.3 731.5,404.5 695.6,426.9 730.6,402.2 708.8,364.5 722.9,371.8 711.9,357.5 703.9,426.1 709.7,300.1 727.3,415.8 726.7,433.3 729.4,400.9 721.6,371.2 707.4,255.6 717.2,448 736.7,401.7 714,428.4 713.9,478.8 733.2,400.1 688.9,425.5 704.3,408.8 720.7,352.9 707.4,484.1 710.3,303 695.5,425.1 687.6,393.2 713,394.2 705.5,384 687,424.5 701.2,467.2 703.9,406.5 696.9,388.9 679.2,405.1 717,437 705.7,312.7 701.1,356.1 709.2,398.9 687.1,441.2 736.1,417.2 703.8,365.6 707,357.8 680.2,439.4 708.3,380.3 679.2,416.2 699.1,325.9 706.4,221.4 683.5,455.5 701.4,309.6 706.9,412.6 689.8,469.6 721.6,378.9 683.9,402.5 722.6,411.6 721.1,377.5 698.8,407.1 704.2,423.7 708.6,377.1 696.2,382.7 722.4,410 702.9,351.4 725,407.5 685.7,392.7 705.8,388.7 715.1,397.5 733.6,440.6 726.3,401.8 723.6,414.9 695.5,335.4 694.3,395.1 706.5,247.4 704.8,373.3 707.5,271.3 708.4,376.9 719.2,421.5 684.5,451.3 688.1,466.1 709.7,473.4 720.9,419.8 699.3,416.7 690.7,420 719,354.8 686.1,431.8 693.3,374 700.5,363.8 692.7,371.5 723.6,412.3 685.7,372.9 720.1,459.9 693.5,337.9 708.3,342.5 726.1,367.4 707.2,417.1 710.9,435.1 712.5,358.4 692.9,320.8 694.5,469.2 679.5,409.4 711.8,437.3 728.3,420.2 704.2,307.3 719.8,462.4 709.2,456.3 673.5,421.9 694.6,359.9 704.2,170 703.8,362.7 704.5,468.3 730.9,391.6 705.5,416.7 706.8,298.8 673.3,417.9 692,426.4 717.9,333.5 727,422.1 700.2,370.5 720.5,365.6 714.4,389.1 710,456.7 721.9,366.6 705.6,401.4 721.5,436.2 697.8,363.1 671.9,408.9 697.9,408.6 703.4,476.8 711,425.2 675,399.8 673,421.4 687.2,369.3 715.6,393.1 684,429.3 734,420.5 700.6,232.8 681.5,380.9 708,285.8 690.9,449.6 698.7,422.5 677.4,432.5 673.3,424.8 704.1,262.7 721.6,450.6 721.7,394.9 723.2,458.7 675.1,394 731.9,387.8 695,472 726.3,438.1 692.1,355.5 723,440.8 704.9,449.5 700.5,399.2 706,384.3 686.8,382.1 708.9,410.5 688.4,460.9 697.4,413.3 678.5,432.9 705.7,245.8 715.8,377.9 718,346.4 713.8,394.7 686.6,364.9"/>
<polyline class="d" points="903.1,383.6 876.8,463.2 882,382.5 907.5,448.1 880.4,365 890.8,351.7 876.1,352.3 892.8,287.4 887.9,386.5 885.9,361.6 886.9,431.1 880.4,408.6 907.2,455.7 865.1,424.7 891.7,394.3 889.5,315.9 888.5,314.8 883.4,370.4 859.7,394.8 880,375.3 891.1,310.7 872,422.6 883.7,446.9 892.7,258.5 887.2,243.1 904.9,456.8 885.4,384.3 888.4,237.8 875.9,419.5 893.2,377.3 871.8,395.9 913.5,374.1 913.4,390.3 887.6,299.7 885.4,311.5 887.5,309.4 880,397.1 905.4,401.1 893.6,328.4 890.3,316.4 873.9,424.9 896.5,438.9 885,404.6 873.7,421.5 888.4,203.1 900,342.3 869.3,436.9 906.8,456.2 872.2,460.3 902.1,361 867.7,388.4 905.3,376.8 892.7,324.3 892.8,313.1 904.6,396.6 870.2,438.3 905.7,416.3 903.9,409.7 894.4,358.6 882.3,380.2 880.5,426.7 892.1,453.2 888.4,211.4 874.5,381.1 906.6,435.9 864.1,444.7 881.1,367.5 922.8,405.9 919,422.2 879.3,417.3 917.8,407.4 883.9,470.7 911,401.2 879.9,357.2 894.8,304.7 878,396.6 903.9,448.4 893,330.2 866.9,429.7 866.8,422.1 872.4,458.9 891.6,286.1 867.3,377.5 885.7,316.9 878.3,381.1 890.5,367.5 861.2,431.6 896.4,340.7 865.3,427.5 882.6,365.5 882.6,339.8 900.7,363.4 901,348.7 891.9,269.3 872.5,392 911.3,402.2 889.4,360.5 907.2,371.8 886.2,327.2 903.1,397.9 895.7,376.9 916.5,384.6 889.5,428.8 891.6,459.6 904.2,417.8 897,430.5 864.9,420.6 869.2,390 868.2,368.7 904.6,372.4 887.9,413.4 876,397.6 916.5,397.8 916.6,379.6 901.6,451.7 894.5,300.9 875.7,409.2 889.7,222.1 858.1,407.3 874.3,399.4 900.2,377.8 870,413.9 871,442.5 905.7,371.6 883.6,462.6 875.9,393.9 891.1,402.2 896.9,386.4 896.5,308.1 890.1,353.1 903,410.8 889.4,332.5 903.7,426.9 888.5,337.1 876.5,386.1 907.6,393.3 878.6,426.4 866.2,405.2 868.6,403.3 898.4,398.2 903.1,353.5 885.4,308.2 888.3,451.5 875,392.7 888.7,322 897,381.4 869.1,397.5 881.3,419.8 883.7,403.9 884.5,469.3 887.6,275.2 914.8,388 911.1,429.6 915.2,422.5 888.3,468.4 905.4,396.2 867.7,402.2 893.6,382 896.7,375.7 870.5,416.6 888,350.2 886.6,246.7 889.3,218.9 892.6,405.7 883.7,349.8 875.4,418.1 875.7,361.2 890.2,411.4 890.2,419.2 879.1,466.2 885.8,366.3 906.5,374.2 870.2,368.4 905.4,405.1 882.7,417.4 886.5,319.5 902.6,373.1 877.9,421.8 887.1,347.4 878,440 899.8,343.1 890.5,341.5 867.1,401.7 904.9,367.9 883.1,413.9 913.6,443.6 906.5,410 882.2,353.5 888.5,413.5 898.3,391.9 869.8,436.7 880.4,461.7 889.5,446.9 920.2,393.7 887.2,449.4 896.9,406.5 897,464.6 879.4,427.6 869.7,434.5 910,395.5 915.5,433.2 856.7,410.4 904.1,366.8 870.8,419.9 899.4,334.5 882.6,382.5 894.4,325.1 881.5,457 864.1,400.4 872.3,378.6 882.1,322.7 874.5,458.4 891,399 894.7,323.4 879.2,418.3 878,464.6 897.9,342.7 873.6,435.2 877.5,378 866,423.2 868.2,369.9 891.2,293.6 858.2,415.9 902.8,432.9 859.7,399.8 878.1,363.5 915.4,428.2 887.3,375 866.1,407.7 889.7,453.5 902.8,352.6 905.3,429.5 899.8,378.2 899.2,429.1 877.8,411 920.5,421.2 896,379.2 876.9,468.3 892.6,455.6 897,453.8 889.8,342.2 900.2,444.5 891.1,265.3 857.3,421.1 895.6,463.4 920.4,404 890.3,418.7 865.7,395.7 861.7,413.3 904.8,455.5 874.4,356.9 921.1,396.9 884.2,338.9 911.8,450.1 886.3,362.9 918.9,415.8 905.3,364.8 887.4,307.2 875.5,408 891.1,449.1 867.1,389.3 889.8,431.2 858.1,412.9 886.4,357.6 877.5,352.4 894.5,328.9 912.5,377.6 874.2,438.8 906.2,432.6 899.6,441.9 865.5,398.7 879.5,406.3 901,410.6 899.1,472.8 875.5,369.8 908.1,435.9 858.2,412.1 904.1,370.8 908,376.2 879.1,337.5 879.6,329.9 893.2,301.4 909.9,396.1 874.7,389.3 900,357.4 911.8,439.5 891.9,462.5 902.4,440.6 874.2,397.3 899.9,448.8 878,442.2 884.4,390.1 873.2,393.7 911.5,418.1 914.4,408.6 890.6,263.2 883.1,417.3 892.2,460.4 910.1,384.7 884.3,429.5 892.1,346.6 894.6,374.9 893.6,382.3 894.3,348.9 905.8,382.7 898,445.8 894,298.1 894.5,409.9 892.5,414.9 904.1,434.9 893.9,424.2 917.1,435.2 889.6,273.4 862.6,411.6 903,375.4 884.9,408.4 896.4,325.5 901.4,407.2 870.4,439.4 884.5,388.9 888,440.6 905.8,420.5 887.3,402.1 882,445 889.4,355.6 897.5,346.3 885.7,277.1 891.9,380.7 890.3,404.5 913.4,389.5 903.4,385 883.9,285.1 885.1,425.8 868.1,410 904.3,344.3 881.4,338.1 914.4,434.9 868.2,409.2 880.3,406.8 904.9,348.6 891.7,398.7 881.7,367.1 886.9,441.1 907.3,364.3 892.4,250.4 872.5,425.9 865.7,414.7 900.9,454.2 885.5,309.6 872.8,404.3 904.6,366.8 861.7,402.4 889.4,454.1 877.2,438.2 866.1,410.5 910.6,387.2 875.3,355.9 904.1,354.8 892.6,344.1 860.6,394.6 891.5,354.6 898.9,457.7 880.1,372.6 879.3,402.7 881,345 909.1,369.1 892.5,471.5 903.3,377.1 904.1,465.5 905.8,399.8 883.2,473.2 874.7,374.3 896.8,336 883.9,384.5 877.3,396 875.4,438.4 857.5,406.2 870.7,445.2 877.5,467.3 911.1,374.7 900.2,440.9 889,443.3 865.3,417.6 894.3,413.4 879.8,391.6 899.4,354.1 905.4,416.7 892.3,292 880.8,351.6 877.3,399.3 888.9,288.6 892.4,270.6 914.3,390.3 857.4,412.5 865.9,441.3 905.8,386.9 886.2,396.8 875,451.1 895.9,392.6 861.8,424 881,444.6 904.3,432.3 866.2,441.9 895.9,346.6 905.6,373.1 914.7,424.3 906.8,408.2 913.6,402.8 908.8,412.1 904.1,405.5 869.9,427.8 910.7,450.5 890.1,391.1 862.6,435.8 908.6,457.3 907.5,428.1 886.9,343.6 885.1,296.1 884.8,393.6 889.4,283.7 890,282.7 897.3,392.7 914,416.1 868.5,437 901.2,335.4 885,425.6 864.3,435.6 910.8,419.6 870.7,383.7 859.9,424.8 893.8,429.9 868.5,422.2 895.2,411.1 859.8,424.5 873.6,400.7 879.3,404.2 883.1,398.6 860.9,400.2 867.9,408 913.7,414.7 885.5,470.4 882,388.7 876.1,433.1 900.6,358.8 861.5,434.1 888.3,319.2 882.4,381.5 873.6,396.6 902.6,447.9 876.5,407.5 889,439.7 889.8,174.2 881.4,455 871.4,443.7 886.1,463.3 862.5,383.7 903.7,401.2 914.1,400.9 876.6,373.4 875,370.6 883.2,343.8 912.9,367.3 881.1,415.4 895.8,476.3 890.3,426.2 892.4,327.9 917.6,414.1 886.1,466 886.7,253.3 882.7,438.9 884.8,400.5 910.7,443.4 868.2,443.4 877.8,368.9 906.8,350.8 871.2,459 896.5,470.1 888.1,281.8 888.4,295.8 877.1,454.8 900.4,403.3 904.8,452.3 890.4,338.2 886.7,332.1 891.3,290 884.5,414.4 872.6,371.9 911.5,440.2 861.9,387.4 906.2,370.8 901.3,447.2 889.6,280.6 900.3,431.8 889.6,437.3 868.1,390.8 887.5,377 890.5,279.8 880.4,437.5 860.9,436.6 905.5,447.6 875.2,391.1 880.5,412.1 872.6,367.8 912.7,430.9 901.1,336.7 883.7,349.4 887,241.9 864.4,442.8 883.3,327.1 883.7,318.5 886.4,477.2 893.8,340.4 868,401.9 890.2,448.4 869.7,393.5 863.6,387.8 876.4,360 872,370.2 907.8,442.5 897.7,331.1 906.1,409.6 908.7,360.6 888.8,268.1 905.8,383 887.7,299.1 881.2,466.9 889.7,234.7 911.1,371.3 899.9,381.8 900,368.3 891.7,383.2 875.2,459.6 889.6,191.9 902.4,420.3 897,372.7 895.1,391.2 904.1,348.2 863.7,385.8 892.6,333.1 907.1,445 905.8,437.7 918,428.6 905.8,446.9 886.8,336.3 918.2,431.4 889.3,405.4 890.8,428.9 902,439.8 864.3,384.2 872.3,393.3 885.4,435.8 914,404.8 875.5,399.1 898.4,466.8 899,375.6 907,391.1 880.6,380.4 896.7,356.6 907.4,397.1 917.2,419 887.1,323.4 911.9,418.7 874.1,462.4 881.2,379.9 878,406.9 890.7,452.5 892.9,423.4 901.6,464 879.4,366.2 892.2,475.7 915.9,397.6 872.7,459.9 882.4,465 877.9,334.3 884.1,450.2 869.1,364.9 878.7,363.5 898.4,331.5 894.4,313.5 890.2,256 915.1,400 861.6,393 882.9,441.3 900.8,358.1 874.8,375.8 875.2,351.7 890,423 900.1,365.7 879.1,406.8 878.4,332.1 897.9,417.7 877.6,437.9 870,385.2 880.3,447.2 892.7,311.9 908.7,451.3 880.1,422.7 857,419.2 884.2,448.2 867.9,417 899.3,444.1 876.1,383.3 868.5,411.8 901.1,449.7 872.5,359.9 886.1,290.4 895.2,320.8 887.4,389.8 871.7,451.6 875.9,422.8 889.7,380.1 891.3,425.4 875.8,445.3 905.3,378.8 871.5,385.2 899.3,362.2 903.5,434.3 866.7,412.7 895.3,362.2 862.5,393.1 881.6,363 920.4,395.1 894.3,302.7 880.9,438.8 895.5,430.3 884.3,358.1 891.7,294 869.3,384.1 882.1,400.3 864.6,412.3 878.8,392 898.4,390.8 886.7,427.4 891.7,394.8 894.4,402.8 919.1,415.6 913.2,433.6 887.6,472.1 867.3,426.9 874.9,407.2 888.8,247.2 887.8,406.6 894.1,423.6 896.5,344.8 887.5,357.3 914.4,394.5 867.8,394 889,387.1 915.1,411.6 871.6,369.6 885.2,341.8 887.8,410.5 904.7,447.4 906.5,422.9 887.3,473.8 898.7,421.9 884.8,433.6 908.3,425.1 908.5,412.8 875.5,430.6 891.3,459.4 876.1,449.3 896.3,355 897.5,454.1 886.7,373.4 913.6,398.3 899.4,345.2 892.9,386 891,227.4 907,442 870.8,359.2 899.3,433.7 884.7,392.5 879.2,350.4 864.3,421.1 890.1,379.3 905.1,432.7 884.9,386 909.5,446.1 876.7,437.7 895.1,431.3 890.6,329.5 892,426 899.1,416 912.5,369.9 890.2,178.6 876.6,355.2 876.2,405.4 902.6,345.4 915,380.6 878.5,347.8 895.5,297.6 874.5,355.7 858.8,405.9 896.5,338.7 882.7,389.6 895.1,416.5 871.9,425.3 893.4,408.3 898.2,418.7 906.9,428.1 908.4,414.6 901.2,352.9 873.8,440 882.3,351.2 890,263.8 888.1,395.2 902.4,420.7 894.6,400.8 866.3,378.1 909.3,362.4 873.3,359.6 859.9,404.1 876.5,409 863,437.3 911.9,363.7 870.1,373.5 922,401.5 871.2,391.5 882.2,428.6 916.1,406 875.5,446.4 916.9,388.4 881.6,423.7 916.3,404.3 886.2,355.4 889.5,254.8 870.5,399.6 913.5,418.4 881.7,457.5 890.8,414.5 890.1,369.6 887,395.1 900,414.3 877.1,353.9 910.9,423.8 872.5,411.4 910.2,415.2 880,446.1 903.4,461.1 907.1,366.5 883,364 860.4,429.3 885.5,399.1 906.2,440.6 886.2,347.1 881.1,437.7 890.8,469.6 886.2,341.3 899.1,410.3 902.3,401.9 888.6,277.8 874.9,436.6 890.5,320.2 882,365.7 887.7,468.9 872.9,425.8 871.9,379.8 884,450.6 896.3,413.7 897.1,424.1 918.1,412.7 872.7,408.1 896.5,350.6 874.1,416.5 888.7,359 883.1,432.1 918.8,413.7 890.9,318 895.9,382.8 894.7,380.2 883.5,419.4 897.7,365.2 874.8,424.3 897.9,372.2 914.7,432.6 914.9,396.2 888.9,445.4 887.9,420.1 895,452 897.5,347.3 908.1,450 867,409.1 896.8,334.1 880.8,321.2 893.1,434.5 900.7,409.5 867.6,449.2 905.8,392.2 880.1,465.3 898.3,428.5 897.5,419.2 865.1,412.4 894.6,436.3 898.4,460.9 890.5,230.6 883.3,420.4 910.4,439.5 858.8,416.3 891,404.7 893.1,421.2 888,421.7 889.6,453.9 885.3,315.2 883.4,305.2 901.6,339.2 877.8,387.7 906,431.8 910.8,420.2 901.3,403.1 883.6,455.1 910.5,388.9 895.6,407.6 890.6,416.4 883.1,401.5 915.5,430.5 876.4,391.5 886.5,359 894.7,453.1 914.9,433.7 886.6,326.2 890.6,214.6 880.4,427.2 874.6,395.1 887,304 920.4,398.4 905.7,387.6 864.2,398.3 902.2,420.7 886.7,356.8 891.8,479.3 873.2,414.9 882.7,387.3 881.7,368.9 884.1,472.4 883.9,458 897.8,359.8 909.6,442.9 898.3,403.3 876.9,349.7 893.3,260.8 895.1,475.2 908.8,441.5 908.3,385.6 898.2,426.5 896.6,306.1 893.9,458 875.2,375.2 894.5,427.3 890.2,403.5 860.1,403.6 912,406.5 907.4,417.7 877.2,374.6 876.4,348.7 887.3,326.5 897.7,345.7 900.3,381.8 871.5,399.9 906.3,430.3 886.1,302.1 899.8,378.7 907,434.2 885.8,467.7 898.5,356.2 881.6,418.5 882.3,452.7 870.5,361.8 888.8,292.4 891.7,456.3 885.5,364.3 887.9,335 908.5,364.5 903.1,339.9 889.8,373.6 878.3,426.3 889.5,372 886.4,430.8 886.8,271.9 900.6,428 860.9,411.8 878,376.4 887,386.4 864.5,382.1 907.6,378.9 887,452.6 912.6,387.1 898.9,378.5 911.8,360.7 873.7,413 905.1,446.1 911.9,423.3 909.4,383.1 885.3,474.7 891.4,425 889.4,479.5 900.7,395.2 888.3,461.3 904,411 913.9,389.1 880.4,362.1 911.9,444 922.8,417.2 882.3,404.9 872.5,380.7 897.8,461.5 896.1,409.9 908,443.1 881.1,415.4 883,434.9 867,433.3 890.3,408.8 871.1,390.4 908.7,385.1 863.1,388.2 888,376.4 889.1,430.1 911.2,368.2 905,385.4 904.5,371.4 883.9,360.9 859.8,421.4 878.6,388.3 903.5,375.9 888.9,313.8 898.7,415.3 872.5,354.1 916,427 869.6,432.3 872.1,434.8 888.7,371.2 898.9,456.5"/>
<polyline class="d" points="1236.4,295.7 1209.1,400.7 1208.3,340.3 1234.4,314.5 1195.3,280.5 1203.1,348.3 1240.5,275.7 1224.1,271.2 1230.5,250 1216.3,286.7 1190.9,274.2 1215.3,496.6 1222.1,388.9 1199.6,324.2 1226.1,217.6 1206.5,409.3 1213.9,178.2 1196.1,255 1205.7,375.6 1233.4,351.3 1223.2,324.9 1199.8,245.1 1214.3,322.3 1211.5,215 1215.9,441.1 1205.2,211.1 1245.2,308.1 1222.4,291.2 1203.3,284.9 1219.8,402.5 1213.3,140.1 1208.4,204.2 1230.7,242.8 1215.4,227.9 1230.5,299.7 1219.8,235.9 1203.7,216.7 1192.4,267.3 1219.6,393.7 1208.6,262.1 1196.7,355.3 1205.2,255.9 1215.7,194.2 1215.8,343.9 1209.9,290.1 1200.6,319.4 1235,274.3 1237,306.4 1219.6,406.3 1229.6,357.1 1214.8,510 1202.7,285.4 1209.3,233.4 1210.2,348.4 1209.9,226.9 1195.2,265.4 1231.5,328.6 1204.3,277.6 1223.2,391.6 1216.9,155.8 1219,193 1205.9,293.7 1194.3,309.4 1223,335.8 1214.3,328.4 1228.7,363.3 1210.9,253.3 1184.3,293.2 1229,362.6 1189.4,314.9 1190.1,259.3 1224.9,266.3 1224.6,286.2 1241,334.9 1206.5,292.2 1221.4,359.6 1213.6,311.2 1222.5,304.4 1217.9,389.2 1230.3,348 1187.7,310.7 1202.7,340.5 1229.6,377.1 1196.1,268.5 1198.9,366.6 1207.4,426 1198.8,277.3 1214.8,407.9 1244.1,300.7 1192.6,329.3 1205.3,408.2 1197.1,363.6 1212.4,354.3 1210.2,315.8 1208.1,347.8 1226.9,303.8 1222.1,353.4 1214.3,373.2 1216.6,174.8 1225.5,272.8 1212.2,387.8 1222.9,221.3 1199.8,313.3 1214.8,187.3 1223.2,398 1192.3,282 1243.2,288.2 1220.7,339 1226.7,304.7 1223,203.9 1220.8,282.2 1222.1,283.3 1233.7,284.4 1191,256.4 1214.4,404 1211.6,302.6 1202,338.8 1217.8,344.5 1201.1,218.5 1216.2,257.7 1239.2,315.4 1189.4,270.6 1212.3,374.2 1210.9,345.6 1223.5,275.3 1225.1,291.1 1228.7,332.4 1194.8,241.4 1206.1,215.3 1186.1,312.6 1210.8,244.5 1208.6,360.7 1219.2,310.5 1230.2,243.1 1204.3,343.9 1237.6,297.5 1204,210.2 1223.2,270.9 1227.4,304.1 1218.4,228.1 1214,147.3 1205.5,208.5 1222.6,342.2 1204,259.2 1214.8,480 1199.6,254.5 1242,326.7 1232.5,327.9 1211.9,394.8 1230.1,330.2 1227.4,296.8 1216.4,471.9 1204.9,279.7 1204.9,253.1 1211.3,237.9 1204.3,324.1 1216.8,371.7 1203.7,275.4 1227.1,261 1209.8,308.9 1231.3,274.9 1207.1,289.9 1210.9,420.7 1208,296.9 1198.2,358.6 1222.1,233 1183.6,317.9 1216.8,422.1 1201.7,371.7 1203.4,319.8 1202.9,356.8 1207.2,385.4 1215.6,220 1189,262.6 1216.2,293.9 1226.2,336.1 1225.3,284.2 1214.7,343.2 1209.5,320.7 1207.4,414.2 1192.1,306.2 1225.7,243.2 1213.1,288 1214.2,252.5 1199.7,255.8 1189.7,280.4 1219.5,424.6 1199.8,325.9 1211.5,153.4 1240,337.4 1230.2,303.9 1215.5,258.2 1209,380.7 1208.3,330.8 1212.3,186.2 1212.5,451.7 1239.8,327.1 1232.1,246.2 1219.8,430.9 1205.3,329.7 1214.1,266.8 1211.8,399.1 1205.9,363 1205.3,271.7 1214.5,370.2 1198,354.1 1218.7,287 1214.9,461.8 1228.5,292.5 1217.2,223.1 1207,412.7 1215.8,141.5 1230.7,221.4 1227.1,228.4 1235.8,243.6 1215,378.9 1216.6,447.2 1235,341.6 1211.5,168.8 1201.3,332.7 1209.9,349.4 1220.6,416.2 1214.7,152.2 1233.5,333.2 1236.8,244.1 1221,328.9 1198.4,364.2 1203,317.2 1221.7,247.3 1234.9,320.5 1238.8,328.1 1218,300.3 1224.4,275.1 1200.4,352.3 1190.9,251.5 1235.8,357.6 1205.5,361.7 1224.3,290.5 1212.3,468.9 1197.7,369.1 1206.3,214.1 1221.7,195.2 1211.7,241.5 1218.2,290.4 1244.6,301.5 1222.1,236.6 1213.3,450.1 1212,181 1213.1,189.6 1243.1,287.4 1196,286.9 1228.2,367.5 1221.3,205.5 1209.4,364.4 1201.1,384.1 1194.5,327.9 1220.7,375.8 1193.9,248.6 1194.8,326.3 1216.2,239.6 1242.7,332.6 1233.5,269.9 1204,365.2 1214.1,182.3 1210.9,250.8 1199.1,230.1 1206.2,232.6 1211.8,359.1 1214,240.4 1232.8,343 1214.4,316.9 1225.4,215.4 1228.4,222.4 1241,289.2 1218.2,301.9 1231.3,285.9 1230.2,359.9 1199.2,230.7 1206.7,280.9 1214.5,453.7 1204.6,319.2 1214.5,291.6 1216.9,386.3 1211.2,302.5 1238.3,261.2 1188.4,308.5 1206,225.5 1194.8,321.1 1232,229.4 1207.7,316.3 1235.1,263.7 1215.1,273.2 1223,263.3 1244.4,311.6 1237.3,273.9 1246.2,308.9 1205.6,368.7 1215.6,392.4 1217.8,278 1188.1,325 1216.9,401.3 1206.9,196 1220.6,344.7 1235.9,347 1219.5,193.6 1203.7,307.6 1184.3,298.3 1213.6,268.9 1227.1,380.3 1222.2,204.9 1242.4,289 1231,322.6 1224.8,341.2 1222.2,303 1187.3,283.7 1212.8,456.6 1194.9,296.2 1228.7,375 1239,265.6 1212.8,220.8 1201.7,325.4 1209.1,277.5 1235.2,267 1212.7,201.9 1204,348.9 1208.5,212.7 1225.5,279.1 1196.3,269.6 1214.7,276.7 1227,323.8 1202.4,338.5 1212.8,263.9 1203.6,279 1200.6,342 1212.6,185.3 1194.4,309.2 1230.9,286 1222.9,244.5 1214.2,508.9 1200.7,249.5 1207,223.1 1217.9,349.9 1240,261.3 1219.3,418.1 1216.6,298.9 1208.1,314.9 1225.2,224.9 1208.6,210.8 1199.7,226.2 1213.2,475.5 1193.6,311.7 1218.4,419.8 1215,239.9 1205.8,257.2 1216.8,197.1 1225,198.8 1233.5,358.1 1213.5,252.2 1218.5,366.2 1226.9,353.4 1210.4,213.6 1203.9,229.2 1213.7,202.9 1232,262.9 1215.7,438.7 1220.1,316.4 1217.8,356 1196.2,298 1199.1,279.3 1207.6,284 1222.4,250.6 1212,260 1186.5,311 1212.2,249 1201,333.8 1237.3,265.2 1234.5,269.9 1202.5,299 1239.3,332 1218.8,314.2 1194.4,334.9 1222.9,361.3 1241.2,300.9 1237.8,302 1201.9,312.7 1220,313.4 1195.9,329.7 1183.2,287.5 1226.2,237.4 1198.9,235.8 1204.8,377.3 1227.2,242 1215.8,256.9 1204.8,366.9 1201.3,288.8 1203.1,224.9 1214,217.8 1202.5,273.5 1197.3,316.8 1200.4,264.5 1197.5,305.6 1219.6,192 1202.6,225.8 1195.6,312.3 1221.7,201.5 1211.9,149 1182,298.3 1222.7,384.9 1216,288.1 1212.1,267.9 1183.9,300.6 1211.8,165 1191.2,334.4 1191,346.4 1220.1,198.3 1231.6,264.9 1215.6,207.2 1222.3,410 1227.8,262.4 1216,238.4 1189.3,299.9 1197.5,295 1229.5,374 1184.2,301.4 1208.8,352.1 1221.4,183.1 1220.4,337.8 1226.7,298.9 1199.7,260.1 1201,231.2 1208,419.2 1239.1,331.2 1235.2,314.6 1199,292.2 1187,312.4 1221.1,253.8 1230.5,356.6 1216.1,436.3 1218.9,440.1 1193.6,299.1 1189.9,320.2 1224.9,230.3 1235,268.3 1219.3,429.7 1210.9,273.8 1216.4,417.5 1209.2,202.5 1206.5,387.6 1223.9,382.1 1205.4,293 1192.5,323.1 1223.4,347.6 1229.6,379.4 1237.1,257.5 1220.7,247.9 1206,282.9 1215.4,395 1217.9,231.9 1218.3,393.6 1230.1,321.7 1207.4,245.8 1212,163.8 1214.9,176 1210.9,345.4 1198.4,305.7 1202.3,382.8 1222.1,351.6 1240.6,329 1220.1,334.1 1203.7,208.8 1204.2,369.7 1193.1,289.4 1221,245.5 1200.6,316 1218.8,403.1 1222.1,197.4 1217.9,173.5 1190.5,307.6 1223.4,218.9 1185.3,308.6 1202.6,384.4 1197.7,339.6 1219.3,400.1 1199.6,246.7 1214.8,445.8 1211,360.7 1211.4,362.4 1223.5,355 1225.9,387 1236,306.8 1218.6,200.2 1209.7,372.6 1197.3,368.2 1182.5,303.1 1234,355.9 1226.5,370.5 1224.3,324.1 1218.6,378.2 1219.4,259.5 1218.3,276.2 1216.7,443.6 1183.9,300 1214.8,189 1183.6,291.7 1200.7,261.8 1226.9,256.2 1205,320.1 1206.1,412 1208.1,405.1 1215.2,459.9 1193,322 1204.1,352.6 1198.3,293.1 1208.8,426.6 1209.9,428.7 1241.2,280.3 1219.6,248.9 1221.8,364.7 1193.7,282.6 1199.8,279.9 1207.4,390.8 1212.4,161.1 1220,372.8 1188.2,337.5 1215.6,391.3 1208.7,321.4 1230.9,307.9 1207.8,346.6 1220.6,238.3 1227.7,211.7 1214.8,170.4 1196.7,349.6 1218.6,284.7 1226.3,354.7 1211.2,278.6 1235.4,335.3 1222.2,258.6 1202.7,272 1230.5,358.5 1217.8,247.4 1230.7,254.2 1198,307.3 1237.5,281 1224.9,294.7 1188.8,269.2 1214.6,381.3 1228.2,378.4 1213.7,158.2 1191.6,313.5 1239.2,272.2 1198.5,251.4 1211.5,423.6 1232.5,255.1 1208.5,297.1 1199.8,295.1 1181.8,297.6 1196.4,265.7 1234,323.1 1227,351.1 1185.1,331 1215.3,167 1200.5,368 1203.4,324.6 1215.8,464.2 1219.4,248.3 1209.9,442.8 1211.8,271.1 1216,184.6 1230.8,302.1 1189,325.6 1220.5,219.7 1226.2,250.2 1198.4,310.2 1208.3,319.1 1219.2,411.4 1215.6,221.6 1214.4,336.4 1240,318.2 1218.1,390.1 1241.6,313.8 1228.5,360.3 1208.3,290.8 1209.9,381.8 1214.2,415.8 1216.4,206.4 1212.8,159.3 1232.3,330.5 1224.4,234.3 1215.3,227.2 1214.7,479 1231.3,318.9 1223.8,343.5 1232.6,365.5 1211,427.2 1207.5,309.9 1234.9,276.5 1237.2,288.8 1190,317.4 1220.8,241 1198.4,246.6 1218.9,432.2 1195.8,311.8 1189.4,276.8 1212.8,321.4 1193.6,283.6 1224.6,306 1192.2,278.2 1192.8,333.1 1214.8,496.2 1206.6,305 1192,339.8 1235.2,318 1188.5,281.4 1205.9,323.5 1219.7,231.6 1232.9,251.7 1200.3,318.5 1206.9,200.1 1226.8,207.7 1209,295.9 1212.1,350.4 1205,234.6 1215.5,212.1 1222.1,272.9 1224.1,238.9 1213.5,433.6 1229.3,345.2 1213.1,338.3 1209.2,268.4 1201.2,236.9 1232.4,333.4 1224.1,305.5 1231.9,270.3 1194,342.8 1229.8,281.2 1216.3,190.5 1213,178.5 1214.4,132.5 1224.4,337.1 1196,335.6 1216.1,433.8 1218.1,236.3 1220.9,414.3 1216.1,336.4 1230.3,258.6 1234.9,327.3 1241.8,266.9 1226.2,260.9 1205.9,397.6 1236.5,331.6 1222.7,223.6 1222.7,295.3 1215.3,435.1 1207.5,407.3 1241.2,285.2 1203.1,310.1 1202.3,304.7 1200.7,240.8 1228.2,293.7 1198.5,234.9 1215.8,209.9 1193.2,295.8 1208.5,423.1 1220.3,383.1 1226.5,233.9 1206.7,326.6 1204.3,263.5 1203,315.1 1189,296.6 1210.1,396.5 1217.2,216.5 1213.4,371.1 1212,254.1 1196.9,350.3 1225.3,339.6 1223.5,376.4 1198.4,282.8 1210.7,346 1211.8,395.9 1208.4,341.7 1203.8,353.1 1187.7,340.7 1217.8,307.1 1239.5,294.3 1224.5,404.6 1203.1,302.8"/>
<polyline class="d" points="1399.9,438.4 1403.3,196.3 1420.1,327 1372.1,329.8 1397.6,293.9 1395.5,205.5 1398.6,387.7 1368.2,318.1 1371.8,305.4 1380.4,345.2 1411.2,235.7 1385.8,295.4 1417.7,257.1 1411.8,318.1 1403.1,351 1395.9,295.7 1424.2,327 1418.1,264.7 1378.8,317.1 1409.6,226.5 1407,363.4 1400.1,388.3 1412,327.5 1376.6,326 1396.3,193.7 1400.1,185 1388.4,248.6 1416.1,288.3 1397.1,341.1 1397.1,225 1411.5,310.7 1399.1,239.7 1425.4,309.8 1397.2,422.1 1402,378 1366.4,313.4 1394.4,348.8 1418.8,319 1401.3,294.1 1384.8,268.5 1405,392.1 1424.8,275.3 1402.1,360.3 1398.1,341.7 1416.9,335.6 1408,227.5 1398.9,353.3 1395.7,263.6 1380.9,328.5 1397.7,269.1 1429.8,306.2 1428.2,307.6 1395.4,364.9 1396.6,295.4 1384.9,312.5 1400.9,249.3 1384.1,340.4 1420.6,297.9 1385.9,344.2 1388.2,263.4 1405.3,270.6 1412.7,333.4 1380.8,290.1 1384.7,278.7 1382.9,257.7 1422.8,309.9 1405.4,356.9 1383.1,357.1 1416.1,293.5 1414,247 1413.8,243.4 1399.5,189.1 1386.2,308.7 1392.9,255.5 1397.7,315.4 1394,314.9 1384.2,287.6 1400.6,342.9 1402.1,211.9 1383.2,327.3 1415.3,276.2 1379.6,267.3 1407.4,260.7 1395.1,360.1 1418.7,285.4 1411.8,232.8 1417.2,329.2 1417.5,268 1419.4,259.5 1417.7,261.9 1412.2,239.3 1388.2,266.1 1374.5,324.8 1392.4,220.7 1401,200.8 1399.9,203.2 1406.4,349.5 1417.5,353.9 1394.3,380.9 1388.8,359.4 1389,338.6 1392,312.5 1374.8,332.7 1393.7,306.2 1386.3,333.9 1396.5,213.3 1388.3,258.7 1411.4,292.6 1387.3,307.7 1382.8,314.7 1370.4,319.5 1387.1,242.6 1405.2,389.4 1395.5,252.9 1426.5,324.4 1382.5,339.3 1390.8,258 1390.9,276.4 1396.5,300.3 1395,334.5 1414.9,271.8 1408.3,239.7 1412.3,251.4 1401.5,395.2 1408.2,227.7 1398.9,380.5 1424.3,317.2 1383.6,358.6 1372.1,282.9 1380.8,345.8 1390.7,338.6 1413.2,363.8 1394.9,408.2 1406.8,256.6 1391.6,214.7 1385.8,350.4 1369.4,297.6 1372.1,297.4 1399,439 1394.7,281.6 1423,294.3 1413.5,279 1397.7,333 1377.3,336.7 1394.5,277.3 1373.3,328.6 1424.2,322.1 1395.7,265.9 1394.9,303.1 1385.3,354.3 1393.1,310.3 1373.7,333.6 1378.2,334.6 1415.6,298.3 1389.1,283.5 1402.8,288.3 1393.7,220.9 1410,324.1 1400.6,414.4 1379.5,328.7 1421,272.1 1385.5,263.1 1381.4,320.9 1410.9,313.2 1391.5,230.7 1377.7,314.2 1399.1,416.7 1385.8,258.1 1416.2,275.2 1388.2,336.2 1383.9,281.9 1394.1,271.3 1420.6,279.3 1421.2,308.3 1420.1,271.8 1407.7,255.2 1415.5,291.9 1418.8,285.8 1379.2,335.6 1387.8,357.4 1399.3,172.4 1397.1,410.3 1387.7,306.5 1407.3,207.7 1410.4,319.7 1404,258.9 1386.3,349.7 1391.9,234.5 1389,369.6 1391.8,302.3 1406.2,370.3 1395.9,209 1423.8,332.2 1401.2,294.5 1389.5,324.5 1419.8,339.1 1380.5,286.1 1414.9,245.7 1410.1,322.7 1402.3,325.1 1390.2,267.1 1408.1,330.9 1384.6,274.1 1399.6,233.3 1409.9,224 1413.1,272.3 1392.9,269.9 1397,367 1400.8,435.8 1411.1,244.5 1394.8,361.7 1379.1,312.3 1414.5,251.7 1395.1,246.1 1400.1,343.2 1391.2,327.6 1402.3,315.2 1366.9,301.1 1429.4,308.1 1407.3,338.5 1389.6,302.4 1383.5,268.7 1400,366.1 1387.1,241.3 1420.4,347.1 1393.9,366.9 1393.8,387.2 1374.2,293.2 1420.9,289 1392,362.7 1390.7,238.6 1413.6,259.9 1391.1,341.6 1386.6,292.1 1394.8,349.4 1404.4,303.9 1406.9,275.8 1396.5,222.1 1391.9,210.4 1418.8,306.9 1424.9,282.9 1428,286.3 1404.5,192.7 1372.6,330.5 1381.7,329.4 1394.9,298.6 1408,282.4 1397,187.2 1405.9,294.1 1409.9,296.2 1369.3,290.8 1403.8,404.8 1414.8,286.8 1372.5,326.3 1398.3,250.9 1404,362.3 1399.9,377.4 1371.3,312 1398,233.8 1397.3,353 1397.8,199.5 1424.2,308.1 1406.6,268.1 1411.8,361.1 1424.5,303.5 1402.2,256.1 1398.1,357.6 1407,375.4 1407.6,252.7 1409.7,289.7 1370.4,315.2 1375.6,315.5 1412.2,321.8 1375.7,312.1 1390.6,217.7 1390.7,326.7 1426.6,323.7 1400.2,348.6 1430.6,295 1399.5,465.5 1380.4,270.2 1397.7,384.1 1406.7,201.4 1397.3,310.9 1388.1,278 1398.2,235.3 1397.5,300.5 1389.7,242.1 1399.4,402.7 1404.9,364 1418.8,320.2 1383.7,325.9 1419.8,347.6 1417.8,331.5 1382,302.5 1397.7,385.2 1381.5,262.4 1399.4,313.8 1422.4,340.4 1417.9,282.6 1409.4,239.3 1399.6,234.2 1383.1,322.4 1392.5,370 1405,335.7 1397.7,202.1 1392.7,394.1 1398.2,435.2 1384.1,264.1 1387.8,362 1426.3,301.8 1390.5,220.1 1403.3,401.6 1408.4,379.2 1416.9,265.5 1406.3,253.7 1407.3,216.5 1398,217.8 1406.5,393.1 1412.5,270.8 1405.9,351.3 1418.2,327.8 1375,322.8 1380,339.7 1393.2,358.9 1394.4,400 1396.6,323 1413.5,277.8 1370.2,313.9 1395,272.8 1399.2,168.4 1392.4,337.1 1383.6,319.3 1408.1,306 1408.3,321.4 1407,228.2 1403.2,331.6 1374.5,280.7 1402.6,330.9 1383.5,287.9 1393,350.4 1409.7,304.9 1398.9,216.2 1407.9,374.3 1426.2,292 1422.4,280.1 1430.8,295.9 1413.1,318.8 1383.5,354.5 1390.4,356.1 1401,306.8 1394.8,341.6 1399.7,428.8 1412.4,280.8 1410.6,283.3 1387.4,240.7 1410.2,371.8 1384.7,331.1 1374,288.6 1393.9,267.7 1398.7,274.6 1428.8,298.3 1414.4,262.9 1390.1,231.8 1382.3,295.9 1410,242.1 1389.1,342.6 1396.9,285.4 1389.1,278.6 1380.2,349.1 1405.7,390.3 1369,315.9 1405.2,195.3 1397.5,339.3 1384.6,271.5 1400.9,390.7 1394.4,247.5 1413.1,243.8 1404.6,405.2 1405.2,236.7 1414.8,308.2 1378.4,342.9 1379.3,284.9 1394.9,355.1 1406.4,386.6 1397.2,393.8 1396.3,424.1 1402,191.7 1403.1,419 1402.4,399.7 1424.3,319.7 1396.4,246.8 1403.1,343.6 1411,296.9 1407.1,222.4 1422.2,280.6 1393.5,273.6 1403.2,205.9 1423.9,310.4 1414.8,254.1 1390.8,219.3 1404.4,261.6 1385.1,352.1 1390.9,225.8 1411.4,346 1407.1,297.5 1374.1,315.8 1385.8,350.8 1397.5,335.1 1387.2,298.7 1367,305.5 1396,252.6 1396.7,355.5 1406.6,282.1 1400.4,342.2 1383.2,351.7 1387.9,284 1403.2,397.4 1404.3,390.9 1404.5,352.5 1400,336.5 1378.6,341.1 1424.4,314.7 1382.4,274.2 1403.7,388.9 1400.8,433.6 1404.8,313.2 1399.8,457.7 1402.4,331.6 1397.3,350.1 1390,375.1 1430.6,300.7 1410.7,251.6 1392,226.4 1396.4,382.1 1409.5,321.7 1410.5,304.7 1419.3,333.7 1424.6,334.2 1405.9,308.9 1403.1,411.4 1378.2,285.1 1405.8,331.3 1374.4,313 1420.4,268.4 1370.1,317.7 1419.2,287.4 1411.2,328.7 1396.7,236.3 1392.8,367.6 1408.7,284.2 1374.3,288.8 1391.1,306 1399,329.4 1385.2,353.9 1416.1,318.3 1423.2,316.6 1421.9,303.2 1402.8,232.4 1391.8,373.8 1398.5,406.9 1401.2,190.2 1404,226.7 1398.8,451.6 1421.8,286.9 1383.3,339.6 1401.8,199.9 1411.2,260.8 1422.4,330.8 1398,423 1421.1,283.7 1396.9,315.8 1425.5,314.9 1411.3,343.7 1391.1,380.4 1393.8,392.1 1408.2,279.2 1397.3,430.4 1393.5,337.4 1398.4,372.4 1402.5,291.9 1400.9,367.2 1399.8,162.5 1417.7,334 1407.1,231.1 1400.4,230.1 1407.6,223.3 1387.2,266.6 1414.8,246.4 1382.4,352.8 1392.5,334.6 1398.8,325.1 1399.6,245 1413.5,289.5 1402.4,307.2 1388.5,300 1379.4,281.8 1410.5,236.5 1380.3,312.3 1406,324 1382.1,353.6 1400.7,396.5 1394.5,283.4 1399.7,325.5 1417.5,321.3 1407.2,345 1400.3,373.1 1414.2,284.8 1404.2,301.7 1401.7,412.7 1382.2,296.3 1413.7,301.6 1416.4,293.8 1378.3,331.6 1402.5,420.2 1403,344.6 1387.3,270.7 1396.4,395.1 1368.2,308.6 1400.7,443.2 1390.6,356.2 1408.8,368.6 1381.3,317.6 1380.2,347.1 1423.1,273.4 1406.3,265 1380.7,293.1 1396.6,410.3 1415.1,267.6 1397.4,217 1406.1,208.6 1389.5,307.1 1386.3,309.9 1391.8,351.8 1391.7,254 1404.9,300.6 1381.2,325.4 1385.7,363.2 1389.3,338.1 1395.8,326.5 1410.7,254.8 1419.1,261.8 1402.9,280 1396.2,204.5 1391.8,263.9 1426.5,318.1 1373,289.3 1386.3,277 1402.9,337.4 1397.3,373.5 1425.4,311.2 1375.3,323.8 1372.9,297.1 1396.9,198 1405.9,312.8 1401.8,385.7 1396.9,256 1418.7,297.8 1412.1,276.5 1374.5,337 1416.3,264.3 1394.6,286.3 1381.9,260.9 1391.9,296.9 1412.6,273.1 1388.4,302.7 1397.9,396.3 1381.1,339.8 1386.1,265.1 1396.9,374.6 1414.5,249.5 1405,211.3 1418.1,293.6 1402.7,190.9 1405.1,253.6 1384.9,248.9 1400.2,452.4 1376.4,322.3 1425.3,329.9 1403.4,418 1406.4,320.3 1428.7,323.5 1430.8,294.7 1410.9,237.1 1394.3,305.7 1400.2,243.1 1384.2,256.8 1399.3,413.4 1412,318.8 1391.3,258.5 1383.7,279.5 1411.1,356 1407.6,278.6 1396.4,287.7 1371.2,318.5 1393.6,207 1402,403.7 1396.7,248.4 1380,289.7 1397.6,257 1407.4,385.9 1390.5,262.3 1408.2,384.2 1388.1,329 1411.2,364.9 1402.2,259.4 1378.2,330.1 1411.2,345.3 1385.7,272.3 1407.3,364.1 1385.6,281.5 1397.3,317.5 1406.6,259.6 1417.2,316.2 1384.5,282.1 1402.4,303.4 1407.2,222.6 1400.6,383.6 1409.7,237.8 1403.1,360.7 1389.6,303.8 1385.2,292.7 1403.3,337.5 1407.9,214.3 1393.5,269.9 1401.3,207.6 1410.8,229.7 1399.3,463.2 1397,294.6 1393.6,254.3 1422.9,304 1392.6,383 1388.7,242.1 1387.6,290.7 1398,178.1 1397.1,328.3 1404.6,210.7 1388.2,320.8 1431.5,296.8 1401.4,248 1390.3,369.2 1402.5,265.1 1382,337.9 1399.4,177.1 1397.8,376.4 1396.4,202.8 1389.9,336 1399.3,378.5 1392.8,378.7 1397.9,225.4 1375.6,293.2 1400.5,213.8 1399.3,442.1 1408.3,309 1420.8,335.1 1392.8,351.5 1419.1,298.5 1398.6,311.1 1406.6,341.1 1409.4,307.1 1390.1,250.6 1409.6,253.3 1414.4,270 1399.4,218.6 1395.8,291.5 1390.3,359.6 1404.6,238.5 1396.3,335.5 1394.2,255 1403.7,304.9 1385.6,310.5 1380.7,279.4 1376.3,302 1378.1,332.1 1402.4,304.4 1405.8,299.6 1397.8,316.6 1396.9,347.9 1393.7,370.7 1404.1,263.3 1397.4,274.7 1402.3,345.8 1399.4,406.3 1370.1,311.8 1375,327.3 1389.4,290.3 1397.6,281.9 1386.1,346.2 1391.1,292.2 1399.3,365.5 1391.8,282.8 1412.1,361.2 1412.7,286.1 1400.4,355.2 1412.9,360 1397.2,267.4 1423.4,309.2 1423.1,325 1399.1,180.2 1417.6,288 1401.8,250.3 1407.5,260.6 1404.4,409.1 1395.8,399.1 1402.4,339 1392.2,220.1 1415.6,309.7 1368.4,295.3 1380.1,291.5 1406.6,215.7 1415.4,290.6 1398.5,302.7 1412.2,344.8 1426.8,286.6 1425,284.1 1418.2,269.6 1405.7,376.9 1398.8,262.6 1372.6,289.5 1389.1,257.1 1403.2,414.7 1416.2,325.5 1410.2,280.1 1374.7,300.7 1396.7,302.4 1417.4,301.2 1391.8,311.3 1386.2,319.8 1397.6,356.6 1404.5,400.4 1411.8,291.3 1380,313.4 1411.8,237.5 1378.6,290.6 1391.7,357.8 1415.9,310.2 1402.4,245.4 1421.6,303.2 1415.9,280.9 1404.4,203.5 1407.9,342 1368.8,311.5 1388.8,335.3 1392,316.2 1393.4,301.6 1404.6,308.9 1424.1,276.3 1399.9,273 1415.6,347.9 1402.1,426.6 1397.1,397.9 1395.5,196.9 1424.7,329.3 1406.8,223.8 1397.6,402.7 1419.5,343.8 1406.9,343 1432.1,300.1 1421.7,266.5 1406,381.1 1426.7,326.5 1399.9,425 1405.3,354.9 1383.2,340.2 1399,238.2 1398.1,284.5 1393.2,257.7 1376,323.4 1375.9,277.7 1395.3,260 1414,300.9 1377.5,316.9 1407.9,231.4 1370.7,305.5 1410.2,292.8 1389.1,358 1398.9,274 1387.6,249.7 1406.5,298 1375.6,274.9 1369.9,309.4 1395.1,232.7 1367.7,299.2 1388,328 1402.1,221.7 1396.6,234 1403.8,346.9 1393.3,211.6 1397.1,429.4 1376,314.4 1420.5,309.5 1402.8,194.5 1407.3,306.4 1396.4,326.3 1406.5,381.9 1391.7,209.7 1417.7,272.5 1413.9,352.5 1402,371.1 1415.7,300.2 1403.6,215.3 1387,299 1422.6,297.3 1398.1,346.7 1381.7,292.6 1409.7,365.2 1401.2,371.1 1400.4,224.7 1396.4,228.8 1415.4,322.3 1412.5,268.8 1403.6,248 1404.1,321.1 1408.3,287.2 1424.6,299.2 1408,317.2 1412.3,269.3 1367.6,299.8 1413.1,330.1 1397.1,307.7 1426.9,320 1394.3,240.8 1393.5,372.6 1388.1,322 1369.4,306.8 1393.6,301.4 1385.5,244.7 1404.2,187.9 1414.6,358.6 1391.1,368.9 1403.5,240.4 1374.5,321.1 1428.2,298.9 1413.5,252 1397.9,251.1 1401.7,183.7 1417.6,261.2 1406.1,198.6 1413.3,271.1 1399.2,295.3 1368.9,296.3 1392.7,250 1413.2,336.4 1395.3,284.6 1398,229.4 1383.4,323.2 1389.6,304.7 1400.2,266.8 1403.9,241.8 1427,314.6 1399.9,342 1384.1,344.4 1390,291.3 1404.6,243.9 1388.4,366.4 1411.8,323.3 1419.6,304.5 1386.5,265.8 1400,303.7 1397.9,181.7 1421.4,275.8 1415.1,348.6 1377.3,340.5 1390,275.7 1393.7,205.3 1388.1,273.4 1409.5,316.6 1374.6,305.3 1401.3,289.2 1421,346.4 1389,350.1 1394.5,212.9 1398.9,343.9 1406.9,375.9 1372.1,288.7 1389.1,228.7 1423.8,313.6 1390.6,229.9 1401,446.3 1417.5,321.4 1392.9,309 1392.4,348.2 1418.5,285.2 1405.4,302.9 1370.9,286.8 1387.6,324.3 1394.8,244.5 1417.8,291 1388.6,276.8 1406.6,295 1423.8,290.3 1413.5,333.3 1420.8,278.2 1423.3,280.3 1395.7,417.3 1421,347.2 1381.5,320.6 1402.6,247.2 1403.7,196.5 1404.7,277.6 1395.2,332.4 1424.3,277.1 1430.6,319.3 1411.5,368.1 1416.2,299.8 1401.6,218.6 1384.9,255.4 1407.1,264.5 1390.8,379.4 1400.3,175.5 1399.8,234.9 1395.7,304.9 1423,275.1 1425.3,332.9 1414.3,312.8 1404,362.1 1393.4,296.5 1400.6,313.7 1401.3,316 1410.1,332.4 1412.2,284.6 1397,278.2 1392.1,310.7 1408.9,281.2 1421.9,311.6 1401.7,185.5 1389.3,318.9 1396.9,299.2 1394.9,337.7 1392.4,327.9 1384.9,273.8 1428.8,287.5"/>
<polyline class="d" points="1723.6,223.1 1704.3,519 1744.1,471.9 1732,546.3 1696.8,531.2 1726,279.4 1693.5,544.1 1732.8,483.5 1705.3,577.8 1716.2,587.3 1710.8,511.1 1724.2,503.7 1716.8,597.6 1741,535.9 1707.3,464.9 1722.8,563.9 1732.5,443.7 1744.2,496.3 1723.7,318.1 1713.3,522.1 1726.5,595.7 1701.4,538.6 1701.9,516.5 1741.3,562.6 1744,536.5 1725.4,359.3 1730.3,548.7 1730.2,573.6 1717.7,378.6 1700.7,536.5 1718.8,579.9 1734.1,489.3 1722.4,302.2 1746.1,507 1721.2,600.5 1703.2,535.3 1734,471.1 1741.5,553.8 1726.9,332.9 1718.3,517.3 1695.2,547.2 1741.7,479.9 1714.9,569 1722,374.2 1734.8,576.2 1723.6,363.7 1728.1,372.2 1719.6,510 1715.7,435.4 1724.8,563.5 1725.8,296.7 1740.5,543.1 1721.5,451.1 1744.6,591.6 1733.8,542.5 1704.5,493.4 1741.6,478.4 1740.7,489.7 1713.5,430.6 1698.8,534.4 1725.9,572.8 1698,513 1708.6,592.7 1721.5,571.9 1749.4,532 1728.3,522.9 1729.2,547.9 1747.5,574.7 1726.1,504.2 1733.6,568.2 1707.1,541.7 1714.1,439.3 1723.3,249.4 1702.1,588.6 1727.5,500.7 1723.9,514 1713.3,599.8 1705.9,546.8 1722.6,517.9 1739.8,481.9 1730.2,484.5 1718.4,556.5 1721,432.6 1716.9,508.6 1727.8,319 1737.6,452.1 1726.7,527.6 1732.2,522.2 1725.2,581.2 1743.9,529 1750.8,530.5 1723.9,322.7 1724.2,216.4 1724.5,583.6 1717.8,373.5 1716.9,416.5 1731.8,392.5 1729.8,423.7 1718.4,390.3 1719.8,326.4 1719.9,471.6 1729,333.2 1744.7,545.4 1709.7,451.1 1732.9,418.9 1702,534.7 1748.9,509.4 1709.4,466.8 1718.2,454.9 1705.9,512.1 1726.1,545.3 1721.6,424.7 1738.2,465.7 1747.4,510.2 1715.9,438.6 1695.2,531.9 1734.5,493.7 1749,583.2 1710.3,591.3 1726.6,562.1 1729.8,482.4 1748.5,503.9 1738.5,455.5 1731.2,353.6 1698,552.5 1757.5,564.2 1751.2,508 1738.3,445.9 1727.1,385.9 1709.8,513.5 1742.8,460.8 1740.4,557.1 1727.7,523.4 1697.6,532.3 1712.2,442.7 1709.3,561.1 1746.8,531.3 1746,573.3 1727.9,568.7 1701.1,579 1730.2,358.1 1705.5,522.5 1736.9,434.8 1730.3,549.6 1701.8,505 1739.5,484.1 1731.6,353 1720.4,382.3 1719.8,498.6 1708.5,559.6 1727.7,480.1 1756.7,548 1705,568.9 1710.1,567 1724.7,472.2 1732,366.2 1724.7,202.3 1706.8,508.5 1722.3,460.2 1711.9,495.2 1719,323.9 1730.8,321 1731.4,351 1719.3,572.8 1697.5,565.3 1731,514.2 1723.4,524.3 1754.8,566.6 1718,599.2 1723.9,445.3 1731.9,596.8 1731.5,406.5 1726.5,345.5 1750.3,559 1714.5,521.6 1724.8,196.1 1720.4,543.8 1737,473.1 1722.1,474.4 1722.9,457.8 1706.1,525 1722,449.8 1748.2,539.3 1718.3,402.2 1732.2,459.2 1753,531 1694.9,561.7 1723.6,439.7 1745.9,590.4 1698.4,506.7 1726,398.3 1712.6,489.4 1745.4,558.2 1718.6,467.3 1724.3,365.3 1729,547.9 1700.2,518.6 1724.8,256.8 1706.6,511.9 1704.3,550 1730,549.1 1750.9,528.1 1699.9,553.3 1738.5,598.5 1725.7,330.1 1717.5,513.1 1723.6,400.9 1704,586 1722,413.1 1723,496.6 1704.4,501.3 1742.7,509.7 1736,571 1756.5,551.8 1726.6,468.1 1727.3,487.9 1699,542 1719,436.9 1706.2,579.4 1724.1,605 1726.2,377 1733.5,398.9 1723.5,284.6 1742.5,580.3 1748.2,580.9 1718.9,431.8 1709.3,485.7 1734.8,412.3 1715.2,476.8 1718.1,486.1 1734.3,476.1 1740.6,459.7 1730.3,415.5 1708.5,578.2 1717.5,595.4 1723.9,583.9 1717,458 1695.4,564.5 1690.6,558.7 1698.6,551.1 1734.8,589.4 1721.3,508.4 1698.9,543.3 1744.9,494 1736.8,468.5 1744.1,481.2 1717.6,466.9 1711.5,577.4 1742.2,556 1710.6,534.8 1714.3,492.8 1730.4,500.1 1716,587 1713.1,544.1 1725.9,603.9 1740.8,540.3 1736.1,435.7 1738.5,520.7 1733,514.4 1755,548.5 1725,165.3 1717.7,538.4 1730.7,554.2 1741,576.9 1730.3,429.1 1742.2,515.6 1723.7,343.9 1724.6,260.7 1712,578.9 1724.2,188.7 1696.8,536.6 1717,425.4 1719.8,572.3 1728.1,380 1720.3,495.5 1728.8,369.7 1720.2,477.8 1733.4,586.1 1725.4,516.4 1744.5,519.2 1706.1,550.1 1719.2,449.2 1738.6,539.6 1754.8,540.6 1715,517.3 1722.9,505.7 1717.2,393.8 1698.8,571.8 1721.6,567.6 1711.4,477.6 1695.5,568.3 1751.4,535.7 1720.6,573.1 1716.8,548.5 1711.7,528.5 1730.1,575.6 1734.2,537.2 1695.7,557.2 1748.6,529.6 1739.7,488.6 1728.6,574.4 1752.7,523.3 1700,521.2 1738,453 1715.6,454.9 1716.1,426.1 1757.4,564.2 1742.1,478.9 1726.4,587.6 1757.1,547 1715.9,562.7 1723.9,557.9 1754.4,553.6 1725.7,307.9 1709.7,542 1694.8,576.4 1735.6,486.8 1724.8,421.9 1742.1,524.6 1725.4,556.3 1734.1,405.3 1723.4,243.4 1733.6,574.8 1745,541.2 1709.5,467.8 1749.8,551.9 1753.1,567.6 1737.6,533.7 1736.5,458.8 1723.9,470.5 1704.8,539.6 1725.4,552.2 1705.5,559.9 1737.3,515.2 1719.8,552.6 1716.2,582.6 1716.5,456.8 1744.2,544.8 1736.4,533.1 1715.2,556.8 1703.2,589.9 1738.8,479.2 1737.8,444.1 1723,517.1 1722.6,407.5 1753.2,528.8 1706.1,488.3 1727.9,509 1718.5,414.2 1721.7,409.5 1722.7,418.2 1721.2,357 1699.9,511.6 1738.1,601.3 1740.2,575.4 1724.7,569.1 1710.4,517.8 1746.6,502.1 1707.7,511.1 1709.8,519.9 1741.8,557.8 1722.4,305.7 1695.7,542.7 1725.3,433.3 1728.2,379 1715.1,446.7 1730.7,480.8 1704.6,591.8 1708.1,543.6 1711.4,503.2 1739.4,456.2 1735.7,491.1 1731.4,452.9 1733.8,602.6 1707.2,570.1 1727.8,340.4 1746.1,582 1728.9,593.3 1732.8,384.9 1707.9,519.4 1699.3,539.8 1726.3,234.5 1723.7,438 1715.1,525.4 1704.3,529.9 1720.7,586.4 1706.4,498 1753.7,544.4 1719.4,339.6 1709.7,521.2 1725.6,546 1718.7,408.3 1713,549.4 1721.5,292.6 1723.6,342.1 1723.9,581.4 1732.2,585 1705.7,592.2 1715.4,533.5 1725.7,590.7 1731.4,481.4 1729.5,491.7 1742.7,555.5 1716.1,434 1724.9,271.6 1744.2,472.4 1731.8,447.7 1698.2,559.2 1726.2,561.6 1709.5,579.7 1711.2,442.5 1704,526.7 1699.3,528.5 1695.9,566.2 1719.4,530.6 1712.7,546.9 1720.1,526.6 1699.9,540.8 1753.6,535.7 1731.8,505.1 1701,560.3 1722.5,368.9 1743.1,549.8 1696.3,524.6 1706.9,527.1 1702,584.5 1723.4,230.5 1736.2,524 1730.6,349.8 1711.7,525.5 1707.6,574.4 1710.5,500.5 1731.6,429.4 1701.4,493 1742.1,518.4 1743.5,554.4 1756.3,567.3 1721.6,337.2 1700.7,562.3 1696.8,554.1 1744,497.1 1743.2,582.9 1738,596.3 1732.1,403.7 1730.9,526.3 1717,560.2 1714.5,542.3 1732.1,582.6 1716.5,523 1734.8,487.4 1725.6,253.2 1700.4,554.7 1699.5,529.3 1736.1,475.7 1724.7,276 1714.9,562.8 1752.1,518.8 1743.8,494.2 1724.8,499.3 1744.9,499 1754.1,564.7 1704.1,561.3 1721.8,461 1694.7,570.2 1727.5,437 1729.4,588.3 1729.4,570.7 1725.2,448.6 1734,526.2 1706.7,534.2 1706.2,578.4 1721.5,420.2 1740.8,577 1709.6,469.8 1741.1,565.5 1714,492.1 1717.7,421.1 1723.3,440.4 1725.9,565.9 1702.9,579.7 1728.7,585.7 1703.8,537.6 1727.3,414.6 1711.7,440.8 1724.9,535.3 1720.2,597.4 1716.2,427.6 1724.8,158.8 1719.7,569.9 1753.7,544.5 1719.7,446.6 1731.2,389.9 1727,464.5 1691,559.8 1720.2,541.6 1724.8,366.8 1711.5,573.8 1722.3,423 1720.1,567.6 1733.5,576.8 1716.1,444.5 1748.9,555.3 1719.8,497.8 1750.5,575.1 1703.8,484.6 1725.9,465.4 1737.4,550.7 1712.9,532.7 1692.6,538.4 1739.4,563.7 1709.1,454.3 1716.6,428 1733.2,484.7 1728.5,329.1 1751.2,520.1 1727.4,499.8 1731.6,498.4 1724.2,215.4 1726.4,399.8 1736.6,525.7 1717.3,447.9 1710.2,545.1 1724.3,169.5 1728.1,327 1727.9,346.7 1730.6,513.7 1721.9,416.7 1733.3,603.1 1750.2,564.9 1739.6,588 1748.3,563.1 1723.8,205.9 1749.2,581.9 1729.1,469.3 1735.5,553.3 1719.8,490.8 1726.9,396.8 1716.7,507.5 1696.8,537.9 1731.8,462.9 1727.4,502 1723.9,601.9 1746.6,487.2 1720.5,475.2 1716,450.4 1708,566.1 1708.3,527.6 1736.7,571.5 1709.6,504.9 1714.8,431.3 1721.9,589.4 1716.7,457.2 1740.7,490.2 1728.1,483.1 1696.4,571.5 1718.6,589.6 1748,506.3 1734.2,553.8 1742.6,497.5 1729.9,463.6 1742.4,475.1 1746.3,557.8 1731.5,391.7 1721.5,507.3 1727.9,314.6 1726.1,264 1731.8,375.7 1734.6,486.1 1729.6,581 1718.4,570.7 1718.7,537.2 1747.2,551.6 1740.1,556.4 1716,411 1724.8,181.2 1706.2,512.7 1753.6,569.9 1706,514.7 1718.1,545.9 1692.5,534.1 1721.6,301.3 1725.9,310.4 1708.1,583.8 1694.8,578.1 1715.7,461.9 1722.1,587.5 1718.2,574 1744.6,576.1 1716.5,599.7 1729,402.7 1719.2,419.5 1719.4,453.5 1735.6,556.9 1747.2,519.9 1741.4,494.5 1730,585.2 1708.2,554.9 1711.1,492.3 1712.5,473.6 1719.3,315.9 1715.6,584.2 1712.5,521.9 1708.9,516.7 1707.8,511.5 1743.3,566.4 1714.7,470 1743.2,593.8 1705.1,559.6 1723.3,238.6 1700.8,563.4 1725.6,388.1 1715.5,500.2 1730.2,529.8 1725.1,355.3 1708.4,464 1716.2,495.3 1739.7,530 1718.4,387.5 1721.1,299.4 1736.9,462.4 1729.5,313 1727.5,520.5 1733.2,496.3 1718.1,524.7 1707.5,485.2 1725.2,335.2 1728.9,482.2 1702.8,569.4 1718.9,598 1729.8,501.5 1720.4,538.3 1731.3,510.7 1711.2,538 1690.1,545.7 1715.4,395.4 1723.2,532.3 1739.6,490.1 1725.8,555.6 1736.6,514.4 1723,463.3 1752.6,560.4 1727.1,541 1740.5,474 1693.3,560.8 1728.5,383 1745.9,549.2 1730.1,426.6 1723.1,348 1721.2,405 1720.3,527.9 1752,553.1 1711.5,593 1725.6,410.6 1724,284.1 1742.1,594.4 1747.7,550.7 1704.5,558.6 1745.4,547.2 1707.2,477.4 1721.2,441.2 1719.8,384.3 1717.6,532.7 1719.1,594.2 1727.2,288.2 1742.2,540 1701,502.6 1725,362.1 1740.8,550.5 1726.7,338.3 1736.2,515.8 1730.5,371.2 1731.3,394.8 1746.6,503.4 1733.1,551.3 1711.8,502.8 1721.8,359.9 1747.1,505.5 1719.7,506.3 1725.6,478.7 1737.2,533.4 1712.9,565.5 1715.3,595"/>
<polyline class="d" points="1912.3,558.3 1886.1,571.2 1928.6,559.2 1937,573.6 1903.6,439.5 1892.7,534 1910.1,503.7 1900.9,435.6 1900.1,557.8 1908.4,539.5 1890.3,531 1904.2,404.8 1910.2,575.4 1916.5,438 1917.2,580.9 1904.9,540.8 1910.9,170.7 1900.3,540.7 1903.4,590.6 1922.8,469 1912.5,361.6 1893.7,501.1 1907.1,396.7 1892.7,567 1909.5,477.9 1921.9,600.7 1929.1,525.5 1915.7,387.3 1894.5,510.3 1907.7,344 1896.4,469.3 1898.5,459.7 1917.2,534.6 1903.9,557.4 1919.5,465.2 1940.9,552.2 1917.2,550.4 1886.4,553.8 1908.7,420.5 1893.4,518 1889.4,557.6 1885.4,558.4 1915.4,544.7 1921.5,472.1 1911.2,598.5 1925.3,572.6 1894.3,495.8 1912.4,583.7 1937.2,552.5 1927.6,503.5 1909.7,430.5 1893,538.9 1938,546.9 1899.7,529 1907.8,568.8 1908.3,389.4 1894.3,504.6 1921.7,590.9 1914.8,359.6 1906.2,489.6 1931.9,538.8 1882.9,517.9 1908.4,268.4 1882,578.5 1888.5,508.5 1925.7,493.6 1909.1,461.9 1935.7,521.2 1927.4,557.1 1929.8,584.8 1898.1,493.2 1898.6,451 1922.4,471.2 1911.7,366 1883.2,559.9 1883.1,552.3 1916.6,571.8 1913.2,439.2 1922.2,457.6 1920.4,512.3 1907.1,561.1 1892.2,474.3 1910.8,586.7 1905.6,497.1 1921,458.9 1895,546 1927.7,530.5 1916.8,577.4 1906.8,505.6 1899,492.3 1904.9,371.8 1898.3,487.2 1910.1,308.7 1925.3,596.6 1935,549.7 1900,534 1896,544.7 1888.7,496.7 1901.2,599.7 1921.7,539.1 1929.9,573.6 1910.4,185.3 1918.7,536.3 1889.8,563.2 1929.6,489.1 1934.8,548.2 1909.8,494.3 1884,530.7 1911.8,481 1913.4,434.7 1933.5,549.9 1919.8,568.4 1881.5,566.1 1936,567.9 1916.2,575.6 1909.6,368.8 1914.7,557 1913.3,367.4 1927.6,483.2 1914,355.3 1910.8,280.9 1886.2,521.5 1916.9,531.8 1915.4,406.2 1915.2,440.2 1929.3,581.6 1915.5,590 1909.5,418.1 1916.2,498.1 1900.6,594.2 1926.5,494.2 1923.9,549.7 1929.6,535.8 1913.3,570.9 1888.9,512.6 1911.1,166.8 1882.4,519.4 1915.4,522.6 1898.9,491.1 1882.9,561.2 1897.2,550.2 1915.7,412.6 1908.2,513.6 1915.6,384.3 1909.2,234.2 1907.7,349.9 1895.4,490.5 1937.5,541.5 1894,597.3 1914.1,536.6 1891.3,579.2 1921.3,528.7 1902.6,487 1938.7,556 1923.5,459.9 1892.2,554 1910.8,417 1917.2,527.6 1919.2,502.1 1930.4,501.8 1898.9,515.4 1907.4,393.7 1903.9,550.9 1901.4,516.8 1932.2,551.9 1923.7,582 1913.6,565.9 1936,510.5 1907.9,514.1 1928.2,536 1906.3,543.5 1925.7,477.5 1917.6,570.7 1908.2,489.4 1917.2,457 1930.6,564.8 1895.2,522.7 1918.6,413.4 1926.9,525 1911.7,484.2 1888.5,515.9 1919.7,455.4 1917.3,400.1 1896.8,591.8 1913.7,419.5 1893.3,588.4 1919.5,518.5 1914.4,492.6 1915,543.2 1892.9,490.9 1883.2,524.3 1886.6,569.3 1889.9,508.2 1910.8,492.8 1889.1,556.2 1897.3,520.5 1909.8,586.8 1907.2,357.2 1903.8,547.5 1898.4,537.4 1886.8,545.6 1890.2,588.7 1886.8,506.5 1905.2,442.4 1890.7,565.2 1897.9,568.6 1907,527.4 1921.8,513.1 1900.6,441.8 1887.8,587.8 1911.5,579.5 1922.5,460.6 1883.4,531.6 1917.5,593.3 1939.5,549.4 1897,580.6 1939.9,532.2 1912.6,336.7 1921.7,589 1921.7,507.5 1905.4,535.6 1884,555.4 1878.1,553.9 1920.4,555.3 1889.7,537 1895.2,562.3 1895.8,522.9 1881.7,526.8 1884.3,556.7 1922.1,485.5 1913.3,295.8 1885.8,527.8 1935.5,578.3 1906.8,515.8 1926.2,575.1 1885.3,509.4 1926,549.6 1907.2,409.3 1919.3,532.4 1891,586.6 1908.5,480 1900.8,556.2 1912.5,487.9 1912.8,381.3 1922.3,555.1 1927.1,569.4 1902.4,423.1 1886.1,504 1911.2,335.2 1919.1,545.6 1903.7,427.9 1906.8,585.8 1933,525 1918.5,461.2 1886.2,548.4 1922.9,597.7 1919.9,528.2 1923.8,593.9 1881,524.4 1929.7,565.4 1905.8,450.6 1898.8,541 1902.9,453.1 1906.6,323.7 1938.7,528.1 1912.4,509.6 1913.5,582.2 1903.1,510.8 1900.4,585.6 1931,560.3 1902.3,547.9 1914.2,568.9 1886,560 1897.1,565.2 1931.6,529.7 1919.3,563.4 1888,553.5 1907.7,559.4 1923.4,488.6 1904.9,400.7 1887.3,551.8 1888.3,487.4 1938.7,535 1894.2,512.7 1914.1,328.3 1916.5,444.5 1888.9,586.1 1906,511.9 1934.2,517.8 1904,446.6 1882.1,566.5 1913.1,466.4 1930.8,514.8 1913.3,302.8 1891.8,594 1888.9,498.4 1919,570.2 1897.7,468.5 1922.3,473.1 1912.2,384.5 1890.3,490 1902.2,489.1 1920.1,546.3 1900.9,563.5 1908.9,391.2 1911.6,458.2 1920,491.8 1898.4,518.2 1910.9,377.5 1914.7,421.8 1917,556.9 1926.5,587 1933.1,542.2 1925.4,499.8 1920.2,584 1910,292.6 1922.6,509 1935.9,582.7 1886.8,590.7 1895.4,525.4 1883.6,580.3 1925.9,549 1887.2,545.1 1906.6,600.4 1916.2,465.6 1911.1,411.9 1923,585 1905.2,507.7 1924.9,491.5 1889.8,530 1932.6,576.9 1921.1,522.4 1908.5,583.4 1899.1,568.7 1912.9,367.1 1907.3,403.7 1915.2,470.9 1905,452 1935.9,544.4 1938.9,537.9 1881.8,544.1 1882.6,571.9 1931.9,591.8 1914.1,402.7 1915.8,560.8 1919.2,445.3 1901.2,556 1939.1,542.1 1886.4,534.6 1912.8,592.3 1921.2,581.8 1888.6,488.6 1937.7,536.1 1910.8,555.1 1902.4,597 1909.8,604.2 1898.8,493.4 1884.4,551.2 1910.7,392 1902.3,564.2 1912.3,576.2 1884.2,543.9 1911.9,297.4 1936.8,576 1889.2,563 1887.7,566.7 1906.9,490.2 1902,560 1913.5,566.3 1929.1,591.4 1897.6,526.3 1917,580.6 1939.1,550.9 1895.4,515.6 1915.5,389.9 1910.8,443.8 1905,376.5 1890.7,527.7 1884,509.9 1907,546.7 1902,472.8 1928.4,519.8 1917,538.4 1922.5,573.5 1895.4,578.6 1891.8,560.3 1892.1,481.6 1920.9,441 1912,550.5 1904.4,588.6 1904.8,523 1922.5,578.1 1910.4,201.2 1893.3,505.7 1934,518.7 1898,521.2 1882.6,522.1 1920.9,467.4 1929.5,581.4 1918,424.5 1897.3,577.8 1917.7,494.8 1928.1,587.2 1912.8,337.7 1906.4,432.8 1910.6,271.1 1909.1,533.8 1907.6,373.3 1911.2,519.6 1906.1,580.2 1905.5,453.8 1917.1,448.9 1912.9,570.4 1911.2,602.8 1909.3,430.9 1914.8,432.4 1911.8,603.2 1916.9,572 1907.2,564.3 1901.7,504.2 1896.5,554.9 1901.1,433.7 1901,569.2 1915.3,547.1 1916.1,537.1 1910.5,460.7 1916.1,545.8 1896.5,498.9 1914.5,374.4 1885.8,565.1 1900.1,470.3 1911.4,430.2 1905.3,524.7 1908.9,416.7 1907.9,569.4 1893.5,556.6 1906.6,496.9 1883.9,526.7 1901,497.6 1911.8,520.8 1913.4,437.4 1939,543 1918.8,592.8 1900.2,595.4 1904.9,449 1923.4,519.9 1882.6,574.3 1910.4,241.3 1906.4,423 1914.6,558.9 1911.5,463 1896,573.1 1906.9,599.2 1918.7,592.8 1897.5,466.9 1924.7,507.3 1918.6,483.2 1918.3,562.6 1908.9,463.8 1912.2,348.3 1897.5,493.1 1914.8,513.8 1886.4,515 1882.3,537.2 1915.7,472.2 1924.6,514.6 1907.9,447.4 1925.7,516.4 1925.1,520.2 1944.1,553.4 1923.8,584.9 1938.7,542 1909.7,414.5 1901.4,504 1900.4,527.9 1911,307.4 1913.6,411 1879.3,568.3 1915,482.7 1904.2,369.9 1905.2,385.4 1895.4,520.2 1903.9,541.1 1892.9,483.8 1903.7,580 1897.2,535.3 1891.5,525.9 1912.9,345.3 1888.7,505.9 1923.8,479.3 1884.8,528.8 1932.3,526.5 1910.2,155 1887.6,517 1885.4,561.4 1923,502.7 1906.7,499.9 1902,597.9 1922.9,534.9 1928.2,511.1 1939.7,546.6 1912.3,322.9 1903.3,517.3 1930.3,554.5 1875.1,562.8 1902.9,587.8 1911.1,570 1904.2,583 1909.7,510.4 1900.6,532.7 1912.2,480.5 1908.1,354.6 1935.7,545.3 1937.3,542.5 1885.8,517.5 1905.3,372.6 1908.9,581 1929.1,591.2 1932.8,513.4 1920.9,515.4 1876.7,567.8 1890.7,595.9 1901.5,508 1918.4,599 1913.4,456.1 1920.1,484 1882.1,560.5 1911.2,427.1 1880.9,577 1926.3,485.9 1894.8,499 1902.1,516.7 1910.3,542.7 1908.3,379.4 1915.6,346.3 1910.4,177.2 1909.9,541.2 1935.8,533.4 1887.3,571.4 1900.9,452.9 1899.5,548.9 1933.3,514.2 1919.4,476 1920.6,507.3 1905.6,547.7 1885.9,503 1900.1,488.3 1932.6,546.1 1891,575.1 1914.9,325.8 1919.1,503.3 1891.8,497.2 1892.2,589.9 1932.4,534.1 1916.7,579.2 1921.6,602.1 1916.4,425.5 1930.2,529.1 1907.3,507 1902.6,409.6 1904.9,399.1 1906.1,552.8 1919.2,478.5 1900.8,445.1 1918.6,471.7 1885.1,545.7 1928.1,486.6 1933.7,500.1 1925.9,541.8 1926.6,500.5 1909.3,595.7 1916.4,461.4 1889.4,545 1930.1,576.8 1899,446.9 1889.3,526.4 1917.4,567.3 1908.5,362.7 1910.7,539.1 1902.5,542.6 1933,501 1901.1,479.4 1911.7,572.8 1925.2,546.9 1906.8,305.1 1896.9,565.5 1902.7,558.1 1906,300.9 1910.4,318.3 1929.8,550.3 1910.2,312 1915.3,533.3 1937.7,561.7 1910.4,601.3 1896.9,463.9 1904,418.5 1927.5,509.7 1920.7,543.8 1911.6,315.6 1921.6,511.9 1921.8,572.7 1899.5,539.5 1909.8,156.9 1911.2,316.2 1905.2,468.5 1918.6,437.2 1925.9,572.2 1910.3,552.9 1911.1,226.1 1911.2,486.2 1922.7,465 1908.6,342.7 1906.6,364.4 1902.8,463.4 1901.9,534.8 1910,576.6 1899.8,569.7 1910.8,440.7 1933.9,574.8 1926.4,496.2 1880.4,521.9 1878.8,543.4 1910.1,502.8 1918.8,501.2 1902.6,474.3 1893.1,552.7 1914.1,551.1 1913.9,561 1922,480.5 1916.5,505.5 1909.8,219.1 1890.5,485.3 1894.1,532.2 1900.5,552.4 1917.5,565.7 1896.3,583.2 1894.5,563.8 1902.3,574 1928.6,539.9 1906.7,421.5 1923.7,529.5 1913,382.3 1915.3,505.3 1927.4,582 1879.3,547.2 1916.7,562.5 1906.4,435.6 1928.1,553.4 1882,567.4 1891.5,565.9 1906.9,327 1906.5,290.2 1905.6,330.2 1890.3,570.4 1912.6,442.7 1931.2,533.5 1919,456.4 1910.2,313.2 1910.9,277.9 1907.5,525.5 1909.6,449.5 1907.4,595.4 1927,593.4 1895,470.5 1904.9,498.4 1912.8,477.4 1912.8,554.1 1897.6,581.4 1908.8,589.2 1892.7,512.8 1936.5,575.5 1892.7,551.3 1900.2,523.7 1910.7,207.5 1914.8,340.3 1910.4,484.7 1894.8,465.6 1915.2,471.3 1933.5,518.9 1910.2,486.1 1904.9,446 1907.7,514.4 1928.2,495.5 1920.8,467 1909,492 1911,305.9 1929.9,589.5 1919.9,502.1 1923.5,549.9 1930.8,557.3 1903.2,419.8 1887.9,539.8 1908.8,250 1923.6,530.5 1907.4,584.1 1909.9,299.4 1918.9,543.9 1908.1,415.4 1905,523.6 1935.5,585.5 1927.9,499.5 1931.9,564.6 1916.9,576 1901.9,520.7 1914.7,594.6 1919.6,482.2 1908.1,354.3 1936.3,579.9 1896.2,462.4 1878.5,537.7 1910.5,575.7 1906.9,424.3 1905.4,496.1 1934.3,500.7 1900.6,428.9 1920.5,531.7 1907.3,563.8 1910,285.6 1913.9,343.3 1926.1,478.8 1917.4,406.7 1894.3,568.1 1914.6,339.2 1906.8,599.6 1919.8,425.9 1899.3,578.9 1925.2,588.3 1894.7,574.7 1897.4,454.1 1914.2,523.8 1892.5,490.7 1907.2,596.2 1919,517.1 1896.4,592.3 1922.6,529.2 1925.6,475.3 1915.8,455.7 1912.5,381 1914,334.1 1905.7,448.4 1917.2,402 1910.5,263.4 1903.3,431.7 1901.5,538.2 1916.7,558.6 1917.7,429.3 1905.8,506.3 1902.3,511.1 1885.5,512.3 1899.6,436.8 1882.4,533 1905.2,522.3 1909.4,332.6 1941.3,558.2 1898.7,487.7 1914.9,604.1 1926,531.2 1885.2,516.3 1900.9,452.1 1904.8,566.7 1890,533 1900.5,415.1 1907.3,521.7 1915.4,589.6 1926.3,553.2 1928.8,541.5 1924.3,555.9 1910.9,476.2 1910.7,258.8 1901.6,520.9 1894.8,558.6 1876,555.1 1913.4,540.5 1914.5,539.1 1917.2,457.4 1910.7,601.4 1883.5,568.1 1898.1,535.4 1875.3,562.6 1921,551.4 1912.4,458.8 1897.9,531.6 1894.3,544.5 1923.6,494.1 1885.2,583.2 1910.3,362.1 1881.6,574.5 1904.7,319.5 1909.9,191.3 1917.3,469.4 1939.7,538.1 1897.2,495.2 1894.4,474 1922.9,542.7 1921.5,513.9 1906.1,594.9 1943.6,562.1 1909.9,283.8 1884.5,523.3 1909.2,395.6 1908,476.7 1914.9,501.7 1880.9,543.2 1889.8,567.4 1912.8,473.6 1886.6,504.7 1919.9,510.9 1903.9,474.9 1882.2,556.6 1912.4,405.5 1937.5,577.7 1903.5,353 1910.3,347.1 1911.5,228.8 1879.7,536.7 1892.2,578.9 1905,509.4 1937.9,576.4 1889,573.2 1891.7,536.2 1901.4,475.4 1911.4,393.1 1909.4,288.8 1891.8,570.9 1926.4,528.3 1910.5,216.1 1914,585.9 1883.7,532 1885.7,551.7 1898.6,561.5 1894.2,502.4 1905.4,329.1 1902.6,496.6 1883.3,548 1903.1,479 1929.7,497.9 1924,524.3 1908.4,538.1 1909.5,252.6 1931.7,571.5 1907.3,341 1894.7,582.7 1927.2,563 1929.7,495 1913.7,554.2 1912.5,352.1 1907.4,394.6 1923.1,500.2 1906.3,360 1891.7,564.7 1878,559.9 1919.7,468.1 1913.2,530.3 1941.7,572.4 1939.7,548.7 1914,559.1 1895.7,476.5 1920.4,506.7 1892.6,481.6 1904.9,410.4 1907.5,311.6 1917.8,434.3 1908.9,210 1939.9,570.9 1898.2,564.1 1891.6,559.6 1940.4,562 1909.7,529.8 1915.4,598.4 1896.5,573.9 1903.9,358.3 1918.7,525.9 1907.2,482.6 1931.1,506.1 1876.5,561.5 1916.3,540.3 1911.6,555.4 1904.1,485.2 1906.3,388 1895.6,548.1 1879,534.2 1897.9,479.8 1908.3,524 1926,548.4 1875.6,558.1 1915.5,526.9 1905.7,519 1908.9,427.3 1905.5,516 1929,570 1910.4,245.1 1940.3,528.5 1906.2,378.9 1904.5,450.1 1898.1,574.4 1924.4,505.1 1906.3,524.4 1913.8,350.5 1929.5,566.7 1922.5,540.5 1934,508.8 1936.4,531.1 1901.1,519.1 1900.4,499.2 1910.5,181.7 1917.6,478.1 1917.4,511.5 1910.2,539.9 1902.2,577.4 1900.8,547 1907.8,397.7 1909,443.8 1907.6,495.3 1885.5,560.6 1931.7,584.2 1908.8,464.3 1901.6,584.6 1914.2,331.5 1896.2,578.6 1923.1,537.5 1917.1,484.2 1921.4,597.2 1887.2,587.4 1938.3,554.4 1919.6,508.6 1908.3,408.4 1912.4,321 1879,564.2 1927.9,481.9 1907.6,454.7 1889.6,549.2 1909.7,398.2"/>
<polyline class="d" points="219.8,1016 186.9,1141.6 207.9,928.9 197.1,1100 200.5,974.2 210.4,957.9 203.6,996.9 193.1,1165.1 222.6,969.5 201.2,1098.5 211.3,1050.2 199.5,1103.8 181.4,1063.2 189.1,903.6 176,1023.7 188.9,1116 184.4,1011.6 190.6,893.4 184.7,1085.5 196.1,1015 198.5,917.7 186.7,951 201.3,890 198.1,950.2 187.5,1049.3 186.2,886 202.6,880 217,1085.3 189.9,1110.9 196.1,845.4 212.3,961 180.5,1080.4 204.6,871.4 207,900.3 201.3,1119.1 206.5,1017.1 194.7,981 168.1,926.8 191.1,838.4 197.9,1170.1 181.5,1097 217.7,1048.4 207.8,1050.8 169.1,968.5 211.7,1032.8 200.9,1108.8 170.2,1001.3 190.6,913 177.7,954.4 208.2,1091.3 180.5,994.5 200.7,1013.6 185.1,1021.5 200.2,1014.5 199.9,1059.7 198.6,1027.9 166.3,966.4 170.7,1016.6 164.9,964.2 194.3,1199.3 172.4,1070 178.3,927.8 193,1005.8 174.8,1069.8 188.8,1177.8 204.8,1018.1 180.9,937.3 165.6,948.5 187.4,1042 222,1039 171.5,952.2 187.7,1061.9 196.7,978.8 167.9,956 192.4,1086.2 202.4,1113.6 198.2,1093.4 172.8,997.7 205.3,1007.7 168.2,991.7 212.4,1112.4 190.2,1002.2 204.9,1108.9 183,930.2 189.2,1113.2 219,1073.2 223.7,992.5 195.4,1072.2 214.8,921.6 163.7,989.8 189,1161.9 181.3,957.1 179.5,905.8 175.4,1046.7 194.3,1169 190.1,1124.9 169.3,986.1 218.3,1056.6 198.9,1047.7 191.2,1122.4 200.3,1076.6 201.6,1124.8 201.3,1019.6 187.1,1046.3 188,935.8 211.7,964 194.9,834.6 185.4,1011.1 181.9,928.2 198.5,1140.3 178.2,965.5 201.4,962.2 196.9,1087.8 192.9,868.9 204.8,1073 179.5,896.8 198.4,958.9 224.3,996.7 190.8,999.5 182,922.1 186.6,1075.9 194.8,1031.2 183.6,1127.4 195.6,1130.1 191,1154.6 199,890.8 190,1151 193.7,1183.5 191.9,975.7 179.6,919.3 198.7,1025.3 187.5,910 179.3,976.2 166.7,1022.4 200.2,1174 168.8,926.3 212,1009.6 160.3,992.3 197.1,1044.1 191.4,922.9 193.5,982.9 193.5,1109.9 206.2,1004 193.2,961.8 188.8,896.4 166.4,1037.8 209.6,1054.6 207.1,987.1 191.1,1089.9 171.6,1053.4 224.3,951.3 204.9,1112.7 213.1,912 170.9,920.1 176.3,1063.6 181.6,905.2 201.2,903.9 199.4,1104.4 195.7,1126.2 203.1,920.5 185.7,957.7 193.4,910.9 176,1083.3 191.1,1067.7 201.2,1116.4 216.6,1041.9 208.8,1054.9 174,1071.8 219.4,982.6 207.4,965.8 172,995.3 192.4,1133.4 171.8,977.2 169.8,974.2 184.7,1104 168.5,1010.4 192.3,987.1 210.4,976.5 178,1077.8 175,1020.4 191.6,1107.5 183.8,933.1 162.1,1006.4 217.4,1070.4 197.3,888.6 222.4,985.2 181.5,1030.8 214.6,1081.9 208.6,919.7 212,970 193.2,1174.5 195.9,1129 216.1,921.8 211.9,953.1 194.7,1096.1 209.8,953.9 208.1,1014.1 217.9,995.1 189,932.8 204.8,873.4 187.7,1147.8 196.6,1155 194.6,1181.2 207.6,1057.1 202.8,867 186.3,1119 186.4,872 194.5,1035.3 186.6,1097.6 196.8,1083.8 192.3,1042.9 187.3,947.1 188.9,904.5 202.4,1017 193.5,1194.1 207.7,1012.1 194.5,1066 187.8,1052.6 200.9,858.8 200.5,891.3 167.6,933.8 188,993.8 220.4,1075.2 184.5,877.9 190.7,1012.3 182.2,914.6 193.5,1176.9 206.1,985.5 217.8,978.5 184.5,983.8 202,1045.7 199.6,985.1 178.6,1044.7 215.8,999 180.7,906.1 183.5,988.3 204.6,969.7 171.6,971.1 210.1,1038.5 191.4,926 186.4,1100.9 169.4,1022.4 185.1,943.5 196.9,1015.4 206.5,967.2 209.3,1065.9 183.2,971.1 204,1013.3 208.3,1106.7 199.3,917.2 206.2,1072.5 175.5,1084.6 187.5,931.4 207,1130.8 192.8,882.1 178.6,929.2 162.6,992.1 197.5,826.2 198.9,861.5 205.7,1036.1 181.1,1016.5 165,1009 196.7,930.8 173.2,977.2 182.3,1128.8 183.9,939.7 208.3,1007.1 195.4,981.5 207.3,1034.2 211.4,1033.8 173.2,1026.7 189.7,938.7 196.6,1051.6 202.3,1029.4 195,843.5 175,1007 209.3,1029.1 194,968.4 178.8,1082.5 217.5,1017.5 169.7,933.9 165.7,989 185.8,1062.9 199.1,880.4 211.9,1060.8 189.2,961.1 222.7,984.1 212.7,1080 190.5,934.7 170,969.2 224.3,1012.6 181.2,1091.1 166.1,1002.3 205.1,943.1 178.9,1094.1 179.4,1005.3 188.4,1146.2 209.9,1026.1 187.6,865.7 193.8,1189.9 197.3,870.1 168.6,1044.2 197,1094.7 208.1,1058.6 213.5,916.7 161,977.9 195.1,1075.1 183.5,970.2 192.6,897.9 207.1,1114.6 182.8,1102.4 209.2,955.1 170.5,996.1 184,1048.3 198.1,907.6 204.1,1028.6 177,1065.3 197.4,1019.7 193.3,1055.3 206,934.2 223.3,1015.2 216,911.6 198.6,849 161.6,973 219.5,1030.4 204.8,1009.7 215.8,1068.7 185.9,1034.8 193.9,1152.8 202.7,960 207.2,1073.4 170.4,1000.2 204.4,974.9 220.8,1050.2 205.1,972.2 214.1,990.8 219,1048.9 197.4,913.9 169.6,931.2 204.2,1111.5 197,884.8 177.8,1093 163.1,982.1 188.1,855.7 203.1,1121.4 200.4,1132.5 204.7,908.1 189.9,924.1 198.2,958.5 165.4,948.2 194.2,1103 198.2,1166.9 176.8,917.6 192.2,973.8 208.7,1117.7 205,1127 217.4,940.1 186.9,1165.6 194.1,963.8 186.1,887.8 171.5,1084.5 214.9,932.5 201.6,942.9 204.2,1076 171.9,1081.2 175.6,1005 221.8,929.7 191.5,994.7 218.5,1009.3 204.6,940.7 204.1,935.2 170.9,947.8 212.9,1038.7 185.9,1027.2 202.5,1145 203.6,868.6 195.2,1040.4 180.5,1110.4 206.8,993.9 222.4,968 187.7,1059.1 213.2,915 219,1027 180.3,941.6 167.4,996.5 186.7,879.2 174,1024.3 187,937.2 206,957.3 216.7,952.2 187.8,1137.9 195.2,966.8 185,875 188.4,981.6 197.7,1136.9 189.5,963.1 181.8,1078.8 197.2,853.7 206.9,1007.7 218.8,1052.1 175.2,1014.1 192.1,1074.7 197.2,856.9 186.5,876 162.3,1001.8 219.8,1052.5 190,998.6 208.9,1002.9 190.2,1098.1 197.9,1064.6 194.4,1160.8 182.6,906.4 216.2,920.7 202.9,901.2 171.8,946.6 214.6,955.2 188,1078 199.1,942.5 169.2,1008.3 226.1,964.5 199.3,1096.1 173.3,1081.4 171.7,999.1 189.4,1020.3 181.6,935.7 191.7,1151.6 202.3,1046.8 203.2,883.6 184.6,1045.3 180.3,945 187.9,938.2 192.8,852.9 176.2,1053.5 202.1,924.4 200.5,1059.4 176.6,1088.3 211.9,973.3 209.1,1033.8 188,927.7 187.9,915.6 180.2,1067.1 179.8,1087.3 187.6,1120.5 193.2,982.4 217.9,1030.5 192.9,847.9 211.5,1101.3 219.3,1067.5 189.3,1158.8 168.1,1026 196.1,988.7 219.3,1043.8 167.7,1041.1 164.2,997.3 166.8,953.2 209.7,987.5 202.4,1157.5 212.8,931.7 216.7,1004.4 168.5,1061.1 212.7,971.6 212,899.4 176.7,916.1 210.1,1091.7 170.8,1006.3 162.6,984.2 208.6,1005.4 197.5,976.8 192,908.9 223,1031.8 171.9,980.4 179.1,1099.5 185.8,1053.9 200.9,979.5 194.6,923.6 198.5,860.4 184.1,1062.2 202.2,1149.8 170.3,948.8 172.5,1091.9 165.5,986.3 191.2,851.7 182.5,1000.8 191.7,885.2 193.1,1105.7 209.6,979.4 213,975.3 211.3,977.9 187.4,954.8 193.7,997.9 162.2,989.6 185.3,1071 204.1,949.2 182.6,1096.9 207.7,900.6 188.9,877.4 195.4,941.7 200.3,1136.5 167.4,956.3 218.2,952.8 201.5,1143.6 185.2,1039.4 178.7,926.9 211.4,939.3 179.9,983.5 167.2,928.5 197,831.7 184.3,959.5 194.1,1079.4 221.3,1021.1 188.4,949.4 200.3,940.4 194.3,1186.5 193.5,923.2 188.5,1078.6 204.3,924.7 206.2,1027.6 210.4,1032.3 169.3,1039.9 178.6,942 184,992.8 190.5,971.5 168.5,1001.3 224.7,945.3 215.3,1018.8 213.8,1003.8 193.1,898.6 214,990 202.9,988.1 204.9,950.9 195.1,902.8 164.9,986.7 215.9,964.9 198.7,864 173.7,945.7 166.4,1036.8 216,1030 204.5,1094.9 204.3,1060.1 180.1,1105.1 199.2,1132.1 205.3,955.8 194.2,1023.6 208.1,1101.9 161.6,980.1 206.4,946 213.8,944.5 217.4,960.6 182.6,1034.7 197.2,1123.6 184.6,881.2 218.1,1035.8 205.7,874 191.9,1068.4 217.1,1089 211.5,972.3 193.4,1157.6 192.9,1088.5 185.6,1149.1 185.3,902.4 219.6,1069.1 168.2,1058.8 194,1204.2 180.9,1122.6 195,909.4 176.6,1089.3 197.5,888.7 167.9,1023.1 198.3,1043.1 187.4,936.2 196.2,1135.4 191.8,1163.6 208.7,1106.3 181,993 190.8,1055.6 174.3,1092.9 195.3,840.5 188.9,961.8 196.3,1141.6 166.6,989.1 190.5,912.5 219.9,1065.4 203,895.3 188.5,1116.9 183.3,979.8 176.9,1049.7 165,1011.2 187.7,984.5 184.3,956.7 185.2,1056.7 193.1,1033.1 188.8,974.9 171.4,943.6 186,1024.7 186.7,1074.2 186.8,1045.3 192.6,1172 188,1039.9 206,993.6 189.1,883.9 202.8,1021 190.4,1024.4 189.7,1032.5 215.6,1037.6 218.6,1041.6 211.4,892.7 201.1,918.5 209.2,932.3 187.6,1086.5 190.5,913.4 192.8,1099.8 216.7,944.3 194.5,1211.2 199.4,1003.2 203.5,1077.2 171.4,1071.1 178.7,990.6 174.1,1063 195.8,857.4 192.2,841.4 210.6,892.1 208.1,894.7 184.4,1010.4 188.2,1139.6 210.4,950.1 221.2,1036.6 189,1064.3 186.8,966 176.2,1057.9 174.5,995.4 186.3,1119.8 206.6,1022 208.4,946.2 185.8,1144.2 212.5,939.1 182,925.4 200.6,862.9 217.3,1051.4 209.5,973.4 199.4,967.8 197.1,1134.4 196.8,1008.4 199.3,892.9 221.9,959.3 207.4,887 203.2,1038.1 168.9,1028.5 196.3,898.8 192.4,865.6 203.7,1057.8 185.6,1025.6 177.1,1002.6 205.3,962.5 221.9,963.2 164.8,1018.3 211.7,1080.9 190.4,1115.4 189.9,918.6 162.7,998.9 210.4,1061.2 171.8,1000.2 195.6,1043.3 195.6,936.8 197.1,910.5 184.1,901.8 197.1,908.2 211.2,925.4 206.7,947.4 219.7,1019.2 173.6,1047.3 191.3,981.1 187.2,1108.1 202.2,1066.8 188,1055.9 192.9,937.9 168.9,959.7 199.4,991.1 195.5,1083.4 201.2,1090.5 209.8,895.9 177.9,951.5 192.2,966.9"/>
<polyline class="d" points="346.7,995.5 368.2,920.5 386.1,1104 377.1,1180.1 381.5,1038.5 396.4,1074.5 377.1,902 360.3,1026.5 385.8,1079.5 356.4,1000 379.9,1101.5 356.7,944.9 387,925.7 398.6,1066.7 360.9,1026.3 409.1,986.7 379.4,1100 380.9,1103.5 356,1084 350.7,1020.5 393.6,1060.8 372.7,1113.7 384.9,973.9 398.9,1097.8 392.9,990.7 382.1,1171.4 363.3,1067.8 377.9,916.5 394.4,1098.3 377.2,1005.3 380.6,1040.9 370.9,1122.5 408.7,1015.1 357.6,1034.7 403,972.4 367.6,903.7 390,977.2 389.5,990.5 363.5,928 368.9,999.2 403.5,1021.2 361.2,988.9 378.8,891.2 404.2,1028.9 383.4,857.5 373.2,930.9 369,969.1 360.7,1066 381,866.3 354.2,999.5 367.2,1047.5 365.9,1001.5 394.6,965 402.5,1080 375.6,914 369.8,954.7 376.2,883.7 368.4,1053.6 375.3,928.8 347.6,1017.6 372.8,1126.5 364,1057.7 399.3,1033.7 384.2,1041.2 374.9,905.3 386.9,1045 395.3,955.5 366.7,920.7 390.7,959.8 351.5,1059 376.9,918.1 384,1009.4 395.7,960.8 362.6,1092.4 351.5,1020.3 386.8,974.1 378.3,1098.3 358.4,981.4 384.1,877.6 393.3,935.7 372.3,1096 399.2,1089.5 351,1055.5 384.9,1060.3 385.2,1126.6 392.8,1018.9 378.4,845.7 373.1,947.6 387.7,1107.8 352.1,1018 363.4,977.5 384.9,1083.3 386.5,1138 365.3,1060.6 408.5,1022 374.4,1032.5 365.8,1089.7 359.4,1000.8 410.5,1024.8 393.5,943.4 372.1,1027.5 388.2,1044.1 368.6,1119 403.5,957.5 390.5,1031.6 391.5,1061.8 406.3,1028.4 367.1,1113.6 409.7,990.9 404,964.8 373.5,1105.2 400.4,1099.5 397,1072.5 371.9,1100 370.8,1035.9 386.8,894.7 397.9,943.7 378.5,1020.8 394,1041.1 382.7,1017.5 367.7,907.9 410.7,1038 353.1,1048.2 396.7,975.6 362.8,1066.6 368.4,1026.1 388.4,949.3 356,958.5 363.5,942.9 363,988 407.1,1039 358.2,961.1 353.9,1035.6 380.6,882.7 390.3,1056.6 391.2,1007.6 380.4,896 381,966.6 379.2,966.7 371.2,1092.4 379.5,918.3 381.3,1097.4 361.5,974.9 381.9,1083.8 409.8,1014.2 388.3,953.2 375.9,1050.4 377.8,1159.6 358.3,1015.9 362.5,978.3 398.1,946 396.3,1069.4 377.3,855.5 381.1,932 377.2,1071.2 365.7,990.1 384.5,1040.4 385,943.6 383,1177.5 390.9,1017.1 387.2,881.2 370.8,1073.4 371.3,968.1 398,963.4 402.4,965.7 378.9,899.5 377,1160.2 366.4,978.9 402.2,1072.1 385.5,1124.9 384.7,934.8 383.9,967.4 387.9,1078.5 393.2,1029.9 358.4,1056.3 383.6,1085.7 370.4,1121.1 384.9,962.3 380.7,952 389.2,907.9 386.2,1001.4 364.4,1005.8 392.3,974 351.3,1048.4 386.1,1108.2 408,991.4 403.1,991.3 392.9,934.3 373.4,873.5 382.1,1174.1 391.8,933.1 370.8,1030.9 379.5,970.6 373.6,968.4 380.2,1054.7 400.7,1012.6 377.2,1014.6 404.7,1018.8 407,972.7 397.5,1088.1 387,1010.9 395.8,1030.1 392.8,956 391.3,998.8 361.1,984.7 361.5,937.3 404.9,1071 400,1010.3 386.9,1052.6 369.1,1041.7 376.2,946.5 376,1094.5 402.1,968.1 382.7,887.5 378.9,1006.3 358,1065.1 379.4,982.6 411.7,1031.1 375,1073.9 360.1,978.7 370,1051.6 400.3,951.1 377.4,1161 375.9,1166.2 375.9,967.4 397.9,1058.3 374.3,964.4 389.5,1055.5 386.9,1042.3 375.8,1013 369.4,948.8 372.4,978.1 369.4,1054.6 348.2,1008.6 354.8,1070.5 380.2,916.9 376.7,986.1 376,890.1 376.7,1030.7 397.9,1080.7 393.4,1091.3 405.2,1022.9 367.1,1071.7 404.8,1011.7 352.1,1011.2 361.7,958.4 364.9,920.9 353.1,962.7 377,1063.8 410,1043.3 391.8,1117.7 376.4,961.8 368.2,974.8 379.3,996 373.9,1038.8 366.8,1008.4 394.6,1074.7 367,957.2 406.2,1056.1 380.7,981.4 367,1019.5 367.1,1066.8 378.1,947 404,1024.5 399.3,996.5 352.3,1038 381.6,884 366.7,993 355,986.6 403,1090 406.4,980.1 374.7,864.8 396.9,1031.5 379.8,954.4 380,897.4 353.6,1027 395.1,1047.6 394.3,938.7 363.7,1098.8 383.4,856.5 378.9,861.9 394.5,1005.6 371.8,1087.1 351.5,994.5 386.9,1095.6 370.4,929.7 410.8,1039.9 391.1,939.5 393.5,993.5 398.7,951.4 380.4,902.3 410.4,1018.5 369,1114.3 399.4,999.7 390.5,1009.8 394.4,1022.6 364.9,1068.5 394.6,1101.3 384.4,1135.3 370.6,948.1 376.9,1076.1 368.3,1093.7 403.7,960.4 385.9,1068.7 389.2,933.6 373.7,1013.7 389.6,959.4 379.5,1084.3 372.5,898.8 373.5,996.7 368.3,1102.2 379.2,961.6 355.6,997.1 391.9,1057.7 389.6,922.7 387,964.1 399.3,945.2 369.7,901.1 406.3,994.1 391.8,1059.8 399,1019.7 371.4,924.7 401.5,1039.5 358.2,1087.6 382.8,940 369.5,1081.5 374,863.5 374.9,966.9 351.2,1008.7 383,888.2 372.9,1075.7 376.8,1010.1 396.4,955.3 403.3,992 367.4,1102.3 352.6,1026.6 405.7,1052.6 381.4,954.9 392.3,996.7 395.9,929.4 366.6,1029.9 398.3,968.7 364.7,1025.5 390.4,1117.3 363.3,1010.5 363.2,988.8 378.7,842.2 402.2,1046.9 409.8,1009.6 404.5,997.5 346.9,1008.1 384.9,1131.9 368.9,946.8 360.6,1028.3 391,1127.1 393.8,1113.2 370.2,992.9 382.5,848.2 382,954 387.1,1145.4 384.3,893.7 375.7,936.3 380.2,1085.8 378.8,1118.5 356.4,996.2 373.2,867.5 383,1002.6 405.9,1067.2 379.4,1091.1 360.9,1069.7 406.6,965.4 357.5,955.8 383,1045.2 388.3,1001.1 375.9,1147.7 379.5,1095.4 379.2,1073.1 369.1,973.2 368.8,935.1 375.6,1123.4 373.5,1162.5 354.4,1061.2 399.5,1034.3 374.8,911.9 374.4,1066.4 394.9,1090 384.7,1111.2 385.8,878.5 392.6,936.7 379.3,1184.7 384.9,909.1 363.8,1035.3 373.9,1138.4 398.2,992.4 390.2,982 353.8,1062.3 383.8,885.6 369.3,1094.1 363.8,1036.3 383.3,1155.3 356.3,1024.5 378.1,953.8 409.2,1013 373.6,879.9 360.4,1084.7 379,1009.1 373.6,1146.3 405.5,1059.6 370.6,1115.3 407.5,1012.2 394.9,1111.3 394.7,984 395.1,1107.2 365.8,1048.1 405.4,1060.2 387.2,1086.2 402.3,1002.7 387.9,958.8 369.3,1091.4 377.7,1152.8 393.8,1023.3 379.6,949.6 365.8,978.6 371.2,1111.9 391.1,933.9 345.2,1015.2 374.4,924.3 390.2,1012.5 377.8,1171.3 388.3,956.4 347.6,1007.3 354.8,989.6 362.9,1087.4 346.2,1021.9 398.4,1041.9 375,971.4 379.3,1112.7 385,976.6 379,1019.2 368,1100.7 391.7,977.7 379.5,1142.7 384.6,1079.8 376.7,1067.5 381.5,1134.3 400,1015.5 380.4,988.2 357.4,1082.8 389.7,1125.5 371,1050 382.1,927 357.6,963.7 355.3,951.8 381.4,892.5 378.6,910.9 395,1044.6 353.1,1057.4 393.3,966.2 373.1,1158.8 378.5,1105.1 383.2,909.7 389.7,949.9 399.5,1021.6 365.2,916.9 359.4,1049.2 381.3,860.6 379.5,1186.2 372.5,1129.7 379.7,1003.5 369.6,1033.3 366.3,970.7 396.9,1106.2 397.6,1021.6 380.3,923.6 396.9,1082.5 395.5,984.5 372,1141.7 383.2,910.6 378.9,998.3 405.5,980.7 367.5,971.1 368.2,1104.3 348.5,992.2 372.7,998 359.8,952.5 366.5,918.7 352.2,1029.5 371.5,930.7 347,1003.4 405.7,986.2 369.2,987.5 393.6,998.8 364.3,1064.7 385.2,973.5 391,1005.2 364.8,995.3 379.7,1172.9 380.1,870.2 398.6,1065.7 350.3,1028.1 369,1008 386.5,889.2 395.7,1003.1 395.3,1051.3 346.7,1030.4 351.1,1033.1 360.5,1033.4 401.7,1063.3 371.7,1004.3 396.6,1050.7 384,929.7 373.2,887.4 398.5,983.5 408,1057 394.8,1034.8 377.3,851.1 405.5,1036.8 387.5,903 388.2,1077.7 365.4,1058.7 370.5,1063.1 386.8,901.1 367.3,1078.3 373.5,1075.5 377.1,1168 366.8,1043 348.3,1035.7 382.5,1128.7 380.7,881.8 359.4,989.3 364.3,933.3 372.5,980.5 401.2,961.3 370.6,1018.4 361,966 361.8,1051.9 377.2,1116.6 363.2,974.5 385.3,1017.3 356.4,1086.4 374.5,1122.1 370.5,1109.3 381.1,913.9 381.9,937.8 375.5,849.3 389.3,1081.8 391.6,928.5 397.9,1029.2 353.9,990.3 365.3,1013.6 377,963.3 383.8,1141.6 372.8,1049.6 376.2,1000.5 380.2,872.6 397.7,938.7 409.7,997.2 396.3,1016.9 375.5,988.5 374.3,1139.3 402.8,1037.2 373.9,952.2 382.4,894.1 402.3,971.9 372.5,1136.4 377.8,1018.9 378.6,905.9 356.6,1085.2 389.6,1115.5 355.3,969.7 395.2,937.5 406.1,1050.3 369.4,1036.8 376.8,1077.1 362.8,970.3 362.7,950.6 362.1,1110.6 365.1,926.6 392.2,908.6 391.2,926.3 399,1099 388.6,953.5 389.7,958.3 362.3,1070.3 363.1,1039 355.8,1014.5 359,1073 366.9,924.3 358.4,1088.6 393.8,1016.7 366.6,1044.1 394.5,1097.4 373.9,981.2 377.8,874.3 402.2,1090.6 371.9,1149.2 381,916 379,866.2 392.6,1040.6 360.4,995 396.3,970.1 374.6,1155.6 366.7,1069 360.4,985.8 379.2,1167.8 405.7,1011.8 394.4,1088.4 360,1006.6 380.9,896.8 405.1,1026.5 373.9,1005 378.3,885.1 364.5,940 405.7,1054.8 393,1106.1 364.9,1059.1 378.2,914.5 384.3,859.2 393.6,932.6 388.4,1093.2 368.7,919.7 390.2,993.5 385.5,1089 394.7,1037 395.1,1076.2 393.1,1039.4 354.4,1077.5 383.2,1108.7 394.3,1008.4 390.2,936.1 371.2,915.2 365.6,1053.7 408.8,1015 364.7,1074.1 388.7,976.9 379.8,890.8 377,879.4 388.3,1080.6 382.1,913.2 396.9,942.3 385.7,1043 349.6,1023.4 372.3,1028.9 382.6,1129.2 377.5,847.1 353.1,989.9 393.8,950.3 397.7,1024.1 358.2,1048.5 387.8,1096.5 368.2,972.4 369,1003.5 382.5,871.9 374.4,875 391.1,921.5 369.4,1013.7 387.9,1110.3 389.6,983.7 379.8,1047.1 352.5,982.7 377.1,1081.1 376.5,1076.7 379.4,833.8 378.1,1020.9 361.5,1092.1 394.2,1033.5 390,1007.8 403,957.7 361.5,1044.5 398.4,960.4 386,1103 390.5,976.3 393,1010.4 360.7,942.5 356,1028.4 358.5,959.4 384.8,861.8 377.4,945.1 380.5,1003.7 386.4,1077 385.7,891.9 403.7,1063.9 396.7,1050.4 386.9,1132.9 410.5,1028 389.1,898 383.1,1096.6 385.5,904.4 385.8,927.7 364.9,1006.2 395.1,1038.3 374.5,999.4 373.6,1092.9 379.4,999.9 390.1,1067.9 366.9,1070.3 403.3,1004.4 386.8,1045.9 378.9,1014 381.8,1178.3 366.3,1061.3 399.6,1025.3 380.9,1135.5 378.6,1046.3 401.5,1096.2 381.8,949.9 378.4,1023.3 365.6,976.2 378.2,1083.6 387.9,886.4 393.8,984.8 368.8,1027.2 399.3,1040.4 374.6,1056.5 392.5,1120.4 376.4,940.4 383.8,1143.2 379.9,1002.4 381,1150.6 390.7,987.4 369.1,1044.9 374.5,1064.9 384.5,868.5 391.6,1036.6 383.2,1132.2 379.5,1006.8 384,1058.6 361.2,1042.8 360.4,1045.8 362.4,1016.4 403.7,1034.5 352.6,1000.5 369.9,1075.3 378.8,912.8 382.9,1133.8 384.3,987.7 355.8,976 354.6,962.9 389.9,969.6 364.3,939.4 397.7,1002 398.2,1106.9 345.9,1016.2 362.8,1109.8 376.4,841.2 377.2,956.7 364.4,980.9 387.7,984.3 383.5,1077.9 404,995.9 369.3,1104.7 386.2,1078.7 374,1169.2 364.3,1037.4 376.1,919 367,911 384.1,1152.4 357.2,985.4 349.7,989.3 387.5,931.8 364,1085.6 368.3,1063.5 382.3,922.3 390.5,1130.8 374.5,904.3 391.5,906.5 376.5,1115.9 378.4,907.2 373.8,1032.8 381,1051 370.9,1043.8 363,965.1 354.8,1018.3 375.6,959.6 381.2,1109.5 352.5,1053.4 399,1046.4 392.6,941.7 384.8,930.2 380.3,1041.4 391.8,1051.7 406.6,967.8 350.8,1001.2 360.5,1055.1 392.2,1052.3 377.4,852.2 377.4,1146.8 378,940.8 362.1,980.2 375.2,922.9 401,948.5 400.5,1080.1 376.3,1175.6 362.3,935.4 356.1,1004.1 397.2,1062.5 387.1,998.6 405.1,979.4 401.4,1039.6 372.4,1127.7 396.9,994.2 378.4,1094.7 373.5,897.4 378.2,982.1 397.7,982.5 383.4,1054.1 373.7,969.2 383.8,854.4 363.3,1031.4 356.9,985.3 410.6,1022.3 401.2,985 390.8,953 355.6,1082 370.2,983.2 389.2,1048.1 385.2,895 382.7,962 399,1068.5 383.8,1023.8 380.2,1148.7 354.3,1060 389.4,1074 387.9,1119.4 399.6,1006.1 365.8,1114.9 385.2,1157.6 370.4,1052.5 379.2,1022.8 378.6,834.8 382.5,938.6 368.9,1119.9 376.6,1090.7 382.7,871 386.2,925 380.6,1165.3 375,1163.4 374.4,877.3 397,1046.7 405.6,1043.5 386.8,1153.9 403.9,1062.1 350,994.7 375.7,1084.4 375.2,1157.1 364.7,1012.1 368.1,1064.1 387.3,1079.1 375.4,1136.9 353.5,997.7 366,1031.9 392.1,1100.3 369.7,1011.4 354.6,987 403.2,1032.3 387.3,1049.5 391.6,991.2 371.1,1111.8 395.8,1069.7 383.4,1151.7 403.5,993.2 361.2,1103.1 395.5,947.5 373.5,1145.1 400.6,1072.6 354.7,1004.5 388.8,1020.7 391.9,975.8 373.8,876.1 365,948.2 389.6,1130.6 391.9,1062.2 384.1,971.9 385,1140.3 351.1,1048.9 356.3,1053 366.1,1001.8 369.7,1093.7 376.2,1117.4 361.2,1057.6 384,941.3 391.3,1087.6 389.8,1101.7 372.1,1107.5 388.4,1065.5 377.4,956.5 387.4,1122.9 375.1,1010.9 375.9,1033.9 357.3,946.2 377.9,986.9 387.4,1081.9 381.3,1124.3 381.4,1123.7 366.3,1071.5 379.6,1064.2 379.8,1013.2 381.8,838.8 364.1,1105.7 377.2,1006.9 377,1055.8 409.9,1037 373.2,1030.4 373.6,994 374.8,942.1 350.9,1025.9 381.1,1020.1 371.9,979.8 370.2,1045.4 374.8,900 384.1,944.4 386.2,1120.8 381.6,971.1 375.9,975.4 406.3,983.1 370.8,1024.4 397.5,962.4 400.1,973 352.7,1027.2 408.1,1042.2 402.2,991.8 383.1,912.2 352.7,1015.8 379.9,976.5 375.1,1164.5 379.7,1072.2 349.9,1035.2 406.4,1025 352.9,979.2 367.4,951.2 383.6,995.7 364.6,944.6"/>
<polyline class="d" points="690.3,921.9 717.7,1090.7 690.5,1013.5 688.8,929.5 698.9,1025.9 677.8,942.6 703.7,968.9 700.5,1042.4 721.2,1056.1 694.5,948.4 693.9,1007.5 693.2,1126.9 720.5,986.7 692.5,998.5 698.9,918.8 711,885.7 683.6,916.5 684.2,949.7 682.1,1005.5 702.9,1266.7 701.3,1015.4 687.1,980.6 686.2,906.3 711.7,962.9 689.4,951.3 737.6,950.2 710.6,893 712.2,1112.2 693.8,1064.9 694.5,994.2 702.6,1149.2 706,1135.7 715.6,899.1 718.9,996.4 714.3,1054.7 697.3,883.4 725.1,932.1 702.4,1080.9 699.7,933 697,1108.7 704.1,851.5 724.3,987.5 714.6,1109.4 715.7,1064.6 695.1,1075.7 718.4,1034.1 710,1032.7 736.2,958 722.2,975.1 695.5,1125 684.5,920.8 689,1059.1 714.6,1083.8 701.3,1241.1 721,1092.1 705.9,928.8 688.1,1094.4 689.3,1043 703,928.3 704.2,993.7 687.7,930.9 719.4,938.6 689.4,954.6 708.1,1212.2 698.3,943.7 702.4,1023.4 686,934.7 704.7,1045.4 705.5,1161.5 725.7,1027.9 720.8,990.6 690.2,953 711.3,975.9 706.9,842.5 705.7,1088.5 683.5,901.5 719,915.9 732.3,949.1 700.7,963.9 720.6,926.9 733.6,953.4 697.1,877.8 707.7,856.4 684.5,933.8 722.1,962.2 705.9,1161.1 719.8,916.5 687,927.9 730,956.4 711.7,849.1 725.1,1029.6 682.9,890.4 688.4,978.8 713.8,871.9 702.3,1060.5 728.5,961.6 717.1,1115.6 683.2,941 717.6,1020.5 695,955.3 709.8,1003.4 685.7,945.5 704.6,1256.3 724.8,888 693.4,864.3 710.2,1156.7 704.6,1028 702.7,939.5 731.4,991.5 704.8,1288.3 725.9,909.1 715.9,879.2 714.1,1066 722.2,1056.7 722.1,989.5 733.4,910.4 713.8,1090 703.7,1280.6 683.1,930.3 690.8,984.5 690.2,1042.6 699.1,1024.2 676.2,906.5 710.2,1076.4 685.2,944.7 700.3,1099.3 723.1,967.8 699.5,907.8 716.5,957.7 716,955.9 678.5,912.9 697.2,1097.2 705.1,968.2 734.9,969.8 728.9,1011.2 718.4,1087.8 698.4,999 711.3,1032 689,1010 704.2,1078 689.2,936.3 704.9,1238.1 710.6,1006.9 700.3,1132.5 717.9,907 684.8,1005.9 701.2,868.6 691.7,1057.3 684,1035.5 704.3,1060.9 706.5,1268.3 703,910.1 688.1,1085.5 692.8,1123 710.4,1053.6 725.6,985.5 679.4,891.2 686.9,993.4 679.9,954.6 697.1,1101 710.5,909.5 681.2,987.5 704.9,1129.3 716,1036.5 718.5,955.9 725.9,948.2 705,1194.3 702.7,1205.9 702.4,1043.9 699.6,856.7 707,983.9 720.2,967 706.1,1233.8 731.8,959.3 705.5,1040.3 711.6,1038.7 696.4,1085 718.2,1110.2 699.3,974.3 679.3,1012.7 704.8,953.2 708.8,876.1 708.9,1217.1 715.4,880.3 699.3,1145.4 712.3,1011.4 700.2,1096.3 684.6,893.7 690.7,953.8 683,1052.6 683.6,891.8 699.5,1126.1 678.6,942.1 705,1017.2 684.6,901.3 726.1,894.7 731.2,984.2 705.8,958.4 683.4,1038.5 680.7,949.6 708.8,1218.3 712.4,946.9 719.5,1036.3 716.9,967.6 732,917 704.4,1000.4 674.8,908.8 703.3,918.3 707.8,950.6 724,895.3 723.9,914.4 686.5,1022.5 699.1,943.4 694.2,1002.2 702.4,1063.9 691.3,996 708.7,1227.6 696.3,878.8 700.6,1131.4 704.2,1075.6 714.2,1046.9 685.6,882.1 702.1,1223.4 724.3,914.5 706.6,1054.5 718.8,1066.9 715.1,853.4 675.9,917.7 696.9,864.3 702.3,870.6 697.6,1148.6 694.6,977.7 685,927.1 703.9,1029 695,1071.1 697.1,1000.2 692,889.2 694,1104.2 705.2,1083.3 716.6,985.9 694.9,884.7 704.2,1179.9 693.6,1129.9 683.2,897.3 723.2,1073.3 676.9,917.3 686.4,957 703.9,1186.5 705.6,1253.2 706.4,1140.2 681.4,962.9 705.7,910.8 715.8,982.3 706.3,1084 673.2,945.8 703.8,1117.9 707.8,923.1 690.8,1020 703.7,1299 703.5,991.1 709.3,896.7 711.1,1123.4 693.7,1058.4 734.8,928.2 686.7,945.6 677.8,905.9 721.8,979.1 710.2,1055.2 715.6,908.8 704.4,1163.8 692.8,1072 697.9,971.1 717.9,1016.5 694.9,1069.7 695.8,920 718.7,912.3 699.4,866.2 704,1198.6 705.7,993.1 717.5,1113.5 682.1,939.9 692.3,886.8 698.2,981.4 721,1082.1 705.8,895.2 691.1,1121.5 710.9,989.1 698.8,878 693.7,1031.4 684,903.1 709.5,1047.3 726.9,1051.8 713.9,875.7 691.2,876.9 692.5,968.9 707.8,874.3 721.7,1077.4 734.1,939.3 689.7,1106.4 703.3,1166.3 726.5,1048.2 680.7,896.2 726.2,905.8 702.7,845.3 702.2,1031.4 681.5,949.4 713.9,903.6 728.2,1039.2 731.2,986.7 729.4,952.1 690.3,918.8 727.7,1013.3 716.9,1003.3 720.4,965.9 702,923.5 729.4,932.3 721.2,1024.1 710.2,1088.1 692.8,940.9 690.2,1060 721.4,1053.3 710.3,1159.5 719.3,911 712.2,969.2 721.5,963.3 679,947.4 698.7,941.9 701.7,1142.4 713,1132.9 728.3,1041.1 712.5,887.4 715.1,958.7 701.6,1175.8 725.9,1033.3 711.8,1101.7 716.9,1044.4 693.3,973.4 687.3,937 720.2,895.9 705.8,845.2 709.4,1151.2 685.5,1050.2 711.3,1152.4 725.7,883 714.1,903.9 688.5,1009.2 703.6,1139.3 730.9,924 724,1012.3 694.1,952.3 693.9,965.8 702.8,932.7 714.1,1001.6 721.3,1029.2 721.8,892.7 684,1026.8 707.4,1072.4 712,1121.4 719,1051.9 709.2,901.1 715.4,964.7 689,933 698.1,902.5 687,872.6 696.8,1004 721.7,1093.4 721.3,1056.5 704.9,867.7 689.1,1104.9 721.6,1000.9 680.5,946.6 711.5,1078.9 687.5,1009.5 721.6,884.9 704.4,896.9 703.7,1100 712.3,933.7 684.2,1014.3 716.1,1019.1 723.7,926.2 682.6,935.9 714.1,874.9 723.7,1045.9 705.6,880 719,888.6 681.1,937.4 690,866.9 699.9,899.2 713.6,1021.1 704.3,984.9 715.3,1018.2 711.5,1045.3 681.1,997.6 706,898.4 696.8,981.9 674.9,970 710.8,1093 673.3,922.5 689.9,919.4 697.3,1111 724.9,885.7 680.2,1025 729.4,919.6 706.8,974 713.5,852.8 715.8,862.5 697.1,1002.7 708.7,1249.8 697.6,1007.7 713.2,886.8 704.4,862.7 719.4,891.8 712.3,1095.9 704.6,1206.9 697.2,1120.3 694,992.2 726.6,995.3 699.3,977.4 722.4,881.5 706.5,1108.3 700.8,1210.3 695,1037.5 727.3,1022.1 676.1,980.9 718.5,946.3 696.8,854.5 687.7,880.7 685.5,925.1 711.1,905 721.3,936.4 716.2,1038.1 731.6,1004.3 732.2,971.9 697.5,1146.4 728,970.4 682.5,943 692.5,1043.8 704.1,1222.3 679.5,1025.7 700.2,876.6 691.8,1020.4 693.4,1086.3 692.2,978 735.4,979.2 721.1,897.9 708.3,898 703.9,966.4 697.8,1012.3 707.2,941.7 712.7,988.4 721.5,1028.3 700.9,1067.7 715,940.1 709.3,960.5 713.2,854.8 710,1154.1 710.5,944.3 690.8,978.2 686.7,956.6 687.2,913.1 711,1004.9 687.8,970.7 697.5,1117.1 703.5,1156.4 706,1086.7 720.7,981.5 730.7,921.8 727.4,921 698.6,983.2 696.2,904.7 721.3,1001 715.8,1063 711.4,1006.5 717.5,865.4 674.1,972.3 703.2,965.1 684.2,1035.3 698.6,1102.5 729.7,963.7 734.7,911.7 724.2,914 718.1,1115.1 711.3,871.1 701.8,1103.3 685.9,998.4 720.5,888.9 681.9,976.4 693.1,921.2 717.8,1116.7 691.6,1097.5 722.3,937.1 731.8,925.6 685.7,916.3 690.3,991.9 699.7,997.2 704.8,1182.7 674.2,965.5 724.9,995.7 693,1018.1 703.6,1089.1 680.9,1034.7 698.6,1136.8 732.9,947.5 681.8,940.5 703.5,1247.7 702.9,1202 679.5,1008 722.4,920.3 711,915.2 688.3,934.3 718.4,1112 708.4,1030.5 720.7,976 685.2,1062 706.3,1196.1 726.7,901.9 708.1,1226.5 713.4,1134.6 708.4,859.4 693.5,1019 699.5,988.5 704.4,847.4 706.3,1259.9 726.3,982.8 719.7,924.8 715.6,996.7 713.5,1114.3 689.4,961.6 698,1079.1 690,1080.6 708.2,1243.3 698.3,1023.7 696,1009.7 713.3,968.1 703.1,973.1 705.3,1021.6 695.9,1127.7 696.9,1016.2 712.6,975.1 707.7,1027.2 695.2,992.7 720.7,1048.5 714.6,1068 706.8,1235.8 674.1,938.7 710.9,924.5 714.6,1034.2 690.3,1077.3 681.3,959.2 686.7,935.7 715.1,1100.1 675.3,964.4 698,1119.4 706.1,1188.4 704,894.1 726.9,930.7 723.2,929.8 692.2,1032.6 716.4,1049.9 688.9,974.9 701.3,1092.8 707.7,973.7 702.3,1191.3 717.9,915.6 705.9,1172.1 727.3,1050.9 695.9,979.8 687.9,1061.6 717.7,858.4 716,858.1 736.2,926.8 725,899.9 717.1,1037.3 676.8,930.8 720.2,951.2 694.3,999.6 727.3,990 688.4,1098 700.2,872.7 696.4,870.1 676.9,957.5 706,923.6 732.5,955.5 695,994.1 733.5,987.9 711.7,882.7 678.5,960.9 722.7,1080.3 720.8,1058 726.9,1011.1 724.6,985.7 683.1,938.3 691.5,959.8 709.2,1137.3 701.3,971.8 695.4,860.7 719.2,1105.8 712.1,1125.8 676.4,903.2 680.1,929.2 704.5,1300 706.5,1275.6 718.6,889.8 701.9,912.5 693.9,904.3 700.4,859.9 703.6,1090.9 729.4,999 706.9,861.7 691.1,943.2 703,1141.5 699.6,1074.7 681.3,927.2 723.7,900.8 700.6,1059.6 731.9,922.2 702.6,959.9 717.1,1048 705.2,1017 705.6,1230.8 706.5,867.1 681.4,1040 734.9,983 720.9,951.4 682.5,976.8 717.2,1005.1 697.4,1103.7 683.8,1014.5 682.2,944.8 697.1,1118.4 681.7,1002.1 712.8,1041.4 689.9,1065.3 695.8,884.2 676.8,908.3 732.7,952.8 719.2,1008.6 706.8,1069.5 674.5,980.3 705.8,990.5 732.3,966.4 686.6,1066.4 729.6,907.4 733.7,931.4 710.3,842.6 696.7,1049 695.4,1073 713.2,1068.6 701.4,972.6 690.8,1015.4 694.6,938.1 694.9,873.7 691.8,892.8 718.4,1030.4 704.1,1215.4 708.6,925.8 683.8,994.8 703.9,848.3 731.6,913.5 707.4,850.4 691.2,869.1 723.9,1025.2 707,1070.7 692.9,1074.3 695.9,947.9 704.8,1144.4 706.1,1046.5 699.7,961.3 703.5,900 682.8,934.8 721.1,935 695.6,1095.2 705.5,1263.5 706.5,1063.2 684.8,1050.5 695.2,1082.8 679.4,1014.9 694,1107.1 706.8,890.4 707.2,911.4 726.4,1041 728.1,1022.4"/>
<polyline class="d" points="899.5,1018.4 881.9,1157.4 877.6,1050.4 905.9,1103.7 886.2,984.1 865.1,987.8 857,953.3 900.7,1107.7 892.7,914.6 896.6,972.4 868.1,961.1 886.6,1080.5 888.7,917.2 922.1,948.8 884.2,1001.5 886.7,1010.7 871,988 913.6,906.4 884.6,1112.8 893.7,1049.9 896.3,942.1 913.6,921.3 904.1,916.4 908.5,1043.8 911.4,1078.2 895.7,1136.7 901.6,888.5 867.3,955.8 897.9,1175.4 888.6,944.1 878.7,1027.3 881.6,866.7 869,887.4 889.7,879.1 880.2,1189.2 903.2,872.2 884.7,1239.1 911.9,1063.7 910.4,973.9 920.8,961.4 905.5,873.1 870.1,947.1 865.5,889.1 891.4,1201 896.5,1196.1 867.1,905.3 880.6,923.6 870.1,869.9 895.6,985.2 911.4,1060.9 875,1029.5 878.2,1093.6 886.7,1063 880.1,1155.1 905.1,1110.7 879.2,1103.3 873.4,1080 879.4,1082.9 868.8,881.8 878.4,960.6 908.3,1096 899.3,1117.1 914,954.4 906.8,971.8 886.5,1280.2 896.8,894.4 909.3,943.5 908.9,962.6 856.5,941.7 898.6,976.7 903.6,901.5 888.1,1034.6 864.5,891.9 911.9,1048.2 899.6,1131.7 885.8,1075.5 872.4,986.1 889.6,1271.6 892.7,1095.6 868.8,1051 886.2,1204.9 905.3,930.9 881,1098.5 895.2,1235.4 885.4,1068.8 916.2,948.2 891.4,1174.8 902.4,998.4 884.8,998 865,905.2 917.7,986.8 861.3,919.7 891.5,970.9 891,956.6 874,1096.8 890.4,947 884.7,1213.9 861.2,900.3 860.4,930.6 871.5,1020.9 882.3,1152.2 878.1,878.6 862.6,1006.9 870,903.5 910.5,1076.9 899.6,995.7 883.2,1166.1 915.7,896.7 858.6,952.7 908.6,952.5 866.9,1061.1 890.1,1315.8 882.6,887.8 892.5,1252.2 873,1013.5 857.9,928 870.9,909.5 887.6,1045.6 885.5,936 887.3,1153.9 861.9,908.4 885.4,959 917.2,1009.5 905.9,1091.5 874.8,991.5 882.5,992.9 865.5,976.2 869.1,993.6 911.8,961.9 903.3,891.4 858,987.1 884.8,1050.8 881.7,908.3 882.1,997.6 883.8,1066.7 896.4,1029.1 867,924.8 875.7,1046.5 887.7,1114.5 887.7,950.4 916.3,982.3 865.8,1057.8 865,895.7 882.5,1207.7 885.8,886.3 909.1,962.1 888.9,995.8 912.2,933.6 903.4,930.4 886.9,848.8 883.6,1037.3 917.3,915.6 897.3,911 885.2,1080.7 884.9,1150.4 901.7,1111.2 880.4,1108.8 905.1,1087.4 905.4,860.7 905.4,1010.5 906,877.3 870.2,1089.3 860.5,902.1 885.8,1177.6 889.5,1270.4 885.6,891.8 875.3,911.8 907.1,1030.4 896.8,1101.5 876.6,1076 891.8,1025.2 873,968.4 886.2,1243.8 879.1,1104.8 872.5,1059.1 910.3,1091.1 876.6,920.9 892.8,1193.2 905.7,1004.9 908.1,887.1 877.9,950.1 901.6,1085.2 870.7,928.5 870.6,1012.6 898.8,1073.7 877.6,864 914.2,934.8 901.2,935.2 879.8,1000.9 882.2,1149.8 880.3,936.8 894.4,919 887.2,1003.3 885.5,1232.5 886.5,915.2 868,989.3 886.6,918.2 902.2,1050 880.4,1100.4 892.6,1008.6 904.2,1071.7 886.8,1260.7 873.4,947.8 898.8,977.2 883.2,1163.2 869.7,1077.1 891.5,1294 869.3,877.8 902.1,879.9 904.9,1023 886.9,842.1 881.4,907 879.3,980.9 875,965.4 883.3,1093 865.1,1025.8 896.9,889.1 883.2,842.6 881.6,1122 902.9,900.8 882.2,1188.8 879.9,1047.2 905.6,1043.7 877.6,958.9 876.8,1085.8 869.8,969.7 876.3,940.3 889.2,831.8 879,1065.6 905.4,969.7 903.5,929.9 881.5,1070.5 895.1,1105.9 909.3,967.9 894.7,1176.8 884.3,905.9 884.4,1060.5 885,1127.4 898.5,917.8 913.2,1007.5 867.3,1040.1 883.7,1046.3 881.8,841.6 888.7,1065.9 864,1066.1 884.9,1125.4 892.9,1017.2 879.8,988.4 912.8,907.2 881.7,1028.6 874.8,1116.2 884.6,1237.4 867.3,1008.7 855.8,950.2 886.6,1042.2 874.8,1094.5 908.5,940.9 890.4,1297.8 860.6,985.5 893.4,1218.9 881.1,840.2 905.7,928.9 892.6,1108.4 878.1,1123 872.4,904.8 906.2,981.8 880.3,983.1 911.5,979.1 874.9,1026.7 920.1,989.5 904.5,947.4 866.3,932 899.3,1104.9 890.4,1102.4 874.7,1027.2 902,1026.4 859.8,953.8 888.9,1052.2 900.9,941.2 918.2,933.7 895.7,916.4 888.4,904.3 863.7,900.5 860.5,1015.5 876,980.9 906.5,1098.3 869.9,1067 883.3,1115.7 914.4,1035.9 860.7,963.3 902.7,1077.6 870.5,974.5 908.1,926.5 878.3,998.4 886.2,1072.8 874.5,1068.8 922.2,972.5 863.5,940.6 907.2,967.4 877,1006.3 909.5,874.8 873.8,944.3 900.8,1023.4 908.6,1085.7 896.8,851.6 885.8,1070.1 894.8,835.6 902.3,1092.2 919.8,959.3 923.4,948.6 913.6,983.3 894.2,857.6 899.2,1139.4 869.2,938.8 883.1,1127.2 907,1051.8 883.2,1216.2 920.3,927.5 884.7,1028 921.9,954.6 871.3,896.6 905.4,909 908.4,1057 886.2,1240.5 881.9,939.9 890.9,1263 891.8,916.6 901.9,934.6 896.8,1084.2 860.1,971.4 890.8,1254.2 903.8,1074.8 882.4,1178.1 895.8,836.5 888.7,1172.8 860.9,945.8 886.6,1220 902.5,859.7 868.9,935.7 870.5,1042.3 864.1,898.7 893.7,1016.9 906.1,1079.7 864.6,989.7 862.4,990.7 894.2,1125.2 904.8,1102.2 890.6,1014.4 880.6,1059.4 887,1223.7 917.5,918.8 891.7,1017.6 913.6,1029.9 882.9,964.7 892.5,1192.1 896.3,1136.3 872,945.9 910.9,976 881.2,1048 892.6,1033.4 910.2,1055.5 904.3,932.2 891.1,964.2 900,951.3 889.7,922.1 857.5,967.3 881.5,1112.1 895.8,828.5 879.3,839.9 873.2,1061.9 901.6,1082.5 898,854.5 874.4,892.7 893.1,1257.7 886.9,1247.4 886.9,1000.2 883.4,1131.8 888.5,1109.6 893.2,1069.8 879.3,878.1 878.7,1144.2 897.1,1033.2 891.7,1120.2 913.5,996.4 891.8,1122.1 878.5,1133.5 877,926.6 877.3,938.4 879.4,1079 911.9,949.4 866.1,1017.9 900.8,1071.7 897,1022.2 871.7,1097.7 872.5,1037.7 892.4,1217.6 905.6,1032.2 901.7,1129.1 891.2,1210.7 890.4,1179.5 872.7,880.8 896.3,955.9 865.9,933.1 905,886 879.5,966.8 892.9,1160.7 873.3,960.7 876.1,1089.8 892.5,949.2 906.5,980.2 866.4,943.8 880.1,955.4 889.6,964 893.5,1130.2 904.4,1107.2 899.6,975.2 892.3,1062.4 887.9,901.8 881.8,995.3 870,952.3 896,1075 901.9,971.8 862.4,1039.5 906.7,921 891.9,863 886.4,1197.8 894.1,965.9 860,995.1 898.7,1141.8 891.6,1018.6 869.9,1088.6 883.7,1109.9 884,850.4 891.6,1023.5 918.9,927.6 890,826.2 861.9,1001.9 876.6,934.1 870,965.1 858.1,988.7 912.8,926.2 894.7,1222.7 873.4,1032.6 892.3,1230.2 902.9,1009.7 917.6,999.5 900.8,1011.5 890.9,1284.3 879.1,1152.2 868.1,937.7 881.4,1054.1 894.1,1009.2 905.2,871.1 885.5,1236.1 880.8,966.5 889.1,1304 886.5,1276.2 918.6,977.8 862.3,945.1 916.9,931.4 917.6,981.4 882.2,849.6 882,1054.6 862.8,897.3 899.8,1038.7 919.4,958.5 893.8,1001 884.2,986.2 908.5,1058.2 899.1,884.9 892,1251.3 907,1013.4 914.5,894.7 896.7,1045.4 920,913.2 874.9,1051.6 886.1,939.5 861.2,1030.9 882.8,994.1 898.5,847.1 895.7,1090.2 913.4,1041.3 877.9,899.6 898.1,1087.8 866.8,1036.9 893.2,837.8 881,857.8 914.4,990.5 860.7,910.8 901.9,896 902.3,978.2 899.6,893.9 902.3,1041 907.4,994.9 879.8,936.2 900.7,846 870.8,914.7 918.7,960 888.7,890.2 870.5,993.8 895.8,1098.9 863.9,899.3 880.8,1183.9 896,1200 884.2,1113.6 889.6,1103.9 879.1,924.6 879.3,1117.6 877.5,854.3 911,961.7 891.5,1091 877.7,982.7 895.9,1215 885.3,1194.9 879,903.8 882.5,830 886.5,1186.9 876.8,923.1 891.3,1199.1 885.6,1190.1 899.2,1040.5 882.4,1138.4 879.2,844 913.6,1021.9 881.8,862.2 899.1,1148 879.2,919.2 892.1,1284 898.4,966.3 869.7,975.1 885.3,1204.4 893.2,991.1 888.5,935.3 885.2,1225.5 907.8,1026.4 902.3,1008.3 876.4,1005.1 871.2,939.5 880.2,1056.5 884.1,912.4 890.4,954.9 895.6,1035.3 904,925.5 914.5,969.9 874.2,963.7 911.4,902.7 882.6,1067.6 865.8,881.3 899.2,1132.4 917,904.6 879,1054 878.8,972.7 905.7,1003 889.5,1288.4 900.9,1093.9 911.9,973.9 890.5,1227.6 889,1022.4 887.4,1020.7 872.2,955 904.8,1074.5 894.3,1134.5 862.6,893.4 873.1,984.8 892.1,928.2 894.9,973.5 902.3,874.3 877.5,1030.1 877.7,1014.8 902,879.1 893.6,937.6 880.6,915.8 880.6,1049.3 918.3,1019.8 923.8,951.9 899.6,1100.9 888.8,1165.7 877.3,1047.4 890.7,865.4 888.4,1046.4 892.6,956.9 887.8,1248.2 916.2,1011 859.8,978.9 889.5,1063.7 866.9,922.8 883.4,1000.6 889.8,893.5 896,826.7 862.3,930.6 885.4,838.2 881.5,865.8 877.9,883.7 888.2,1057.7 886,866.9 905.3,861.8 874.9,897.4 908.7,891.3 890.1,1169.2 893.4,1206.4 910.7,1024.4 880.6,1081.8 885,1137.3 885.1,1196.9 900.4,929.3 897.9,1024.9 907.9,895.3 863.9,908 886,853.3 894,1064.8 892.4,996.3 878.5,888.4 897,1229.4 869.4,914.2 891.7,1226.9 882.9,1180.8 919.6,918.4 876.5,1126.7 919.8,906.8 882,879.9 899.7,868.8 900.5,902 881.1,1056.2 869.8,1099.9 913.2,938.9 915.5,1020.6 895.2,865.6 867.9,901.2 882.1,997.3 900.9,942.1 887.7,850.3 889.7,920.1 877.5,1082.2 895.4,945 871.6,1095.1 894.3,1181.6 889.5,1162.2 889,925.9 904.6,955.9 875.4,1011.5 889.1,1142.7 893.5,1158.3 902.4,1013.9 907,892.4 862.9,932.9 895.7,1147.5 888.2,1208.6 873.4,875.5 893.8,898.3 866.8,1061.8 895.5,1209.7 871.9,912.2 879.6,1100.1 915.1,1048.5 892.7,863.4 908.8,1034.3 897.5,1142.4 867.4,975.7 874.7,932.4 918.6,1015.2 898.5,953.8 877,1002.5 870.6,1012.5 876.5,1056.6 877,982 896.5,957.7 922.2,971.1 904.7,996.8 900,1007.8 902.3,1123.7 893.1,1135.2 863.8,938 918.8,941.3 898.6,953 888.5,847.7 889.8,1184.7 885.9,844.3 899.9,924.2 912.5,947.5 922.8,970.3 864,898.5 882.1,1167.4 884.6,1065 916.2,937.3 896.4,1052.4 886.6,1273.9 909.9,979.6 875.4,923.9 885.6,1173.8 881,1060.1 872.7,992 895,1016.1 871.4,1019.9 882.3,1118.2 866.7,882.7 874.7,951.8 868.9,1086.2 907.9,1021.8 873.2,885.1 885.9,1170.9 870.5,1092.5 878.4,986.9 870.8,1078.3 908.1,1045 886.9,884.4 892.2,1027.6 911.9,923.2 894.4,1256.6 857.5,968.2 894.9,1058.6 907,1106.4 881,1063.2 856.4,978 914.5,912 890,951.1 913.1,1024.1 874.7,1115.4 898.6,920.5 887,1113.8 887.9,968.7 867.8,1036.9 881.8,869 880.7,876.6 869.8,946.2 859.9,916.7 888.1,1242.5 920.2,980.4 889.7,1081.4 885.9,1140.8 856.5,957.4 890.9,1079.2 917,968.9 893.4,1069.6 892.3,856.3 915.7,956.8 893.4,880.7 910.1,913.8 897.4,1128.8 901.9,1036.3 877.6,873.5 896.9,994.4 883,853 897.5,1033.9 897.5,1192.3 887.4,1221.6 890,882 862.3,991.5 898.4,1124.1 919.1,979.4 876.5,962.9 887.8,1168.1 870,1028.9 870,1038.3 901.1,845 885.9,851.7 882.7,946.5 892.3,1145.3 885.8,855.6 919.2,1004 880.2,1159.5 863.6,1035.7 867,909.7 893.8,1265.9 911.4,1003.8 901.3,1053.2 901.3,897.7 892,1203 900.6,1084.6 895.1,871.2 868.9,1025 879,931.8 880.9,1172.2 875.9,1112.4 892.7,1213.4 902,1070.9 918,993.1 878.9,1073.3 898.2,1038.8 877.5,1021.3 902.8,913.7 892.3,958.3 901.3,1007.4 917.2,919.7 881.8,965.8 898.8,925.2 876.2,864.5 890.4,1106.8 898.6,1158.5 876.4,969.3 894.5,925.8 877.7,869.4 910.7,992.5 864.2,890.5 911.7,986.5 888.5,908.9 911.6,1010.1 893,830.6 908.1,1019.2 888.4,1182.6 893,1087 916.1,982.8 886.4,1245.1 872.8,1016.5 896.7,1130.9 883.9,1161.7 885.2,1095.5 864.2,1031.7 887.1,1084.1 890,1319.5 890.4,884.4 882.3,965.3 877.1,1083.6 879,1005.4 914.4,1067.6 911.7,1073.4 890.3,959.5 892.2,1233.4 901.2,936.5 864.9,1002 885.7,943.1 883.9,1149.3 871.9,871.7 879.1,1146.4 876.4,910.5 877.5,1119.8 894.5,883.2 876.8,929.7 898.1,856.5 870.9,928.8 883.4,859.1 905.5,1006.5 893.5,985.1 888.8,868.5 877.7,890.7 864.6,1016.7 874.7,868 891,1267.7 895.4,1004.7 895,989.1 876.9,992 873.3,860.3 898.8,949 861.4,973.1 902.7,1018.9 890.4,833.8 882.6,945.2 888.6,875.3 872.4,999 907.7,942.4 900.2,1002.7 902.5,1064.3 887.4,960.1 863.1,942.6 860.8,911.1 872.4,1005.9 907.2,983.7 887.1,1032.9 899.6,903.2 867.1,905.7 921.3,934.3 872.6,922.3 907.1,886.8 869.9,944.8 881.2,958.1 888.7,1055.3 871.3,1044.3 903.2,1015 889.6,1044.6 905.8,1076.1 893.7,1034.7 909.6,1004.2 905.3,921.7 908.1,1097.4 891.3,833.5 905.3,976.8 889.7,1031.5 868.5,1054.7 917.1,910 912.5,1040.6 894.5,1144.7 877.8,963.4 878.4,1071.2 904.8,938.9 887.8,1039.6 888.3,1164.8 901.4,980 895.2,895.2 895.4,1154.6 916.6,984.2 897.7,1155.9 906.5,926.9 867.2,1043.1 907.6,1089.2 889.9,1291.9 908.4,885.8 865.6,950.7 865.3,1000.1 860.6,917.7 914.3,1030.8 906.3,1052.9 875.5,889.7 896.4,1088.3 862.8,899.7 877.7,1042.9 898.5,1170.4 885.9,858.5 893,1119.2 884.4,1049.1 896.6,999.4 909.8,1059.8 916.1,990 905.4,907.5 899.2,1068.1 889.3,1202.3 903.1,876.8 884.8,974.6 866,1012.3 903,1012.9 910.4,875.6 909.3,872.7 883,1211.5 872.8,882.4 895.9,1187.4 920,977.3 868.2,997.4 912.1,1072.3 886,912.9 906.2,1041.6 898.7,1138.8 892.1,1186.1 917.9,974.3 881.5,1121.1"/>
<polyline class="d" points="1203,1025 1229.6,981.9 1238.7,1005 1210.6,932.5 1208.2,967.7 1199.2,975.4 1183.6,1017 1218.9,1024.4 1211.2,989.6 1246,1006.1 1216.3,1108.3 1202.2,1123.2 1197.3,1039.3 1219.4,1071.9 1208.1,1138.2 1213.8,991.6 1219.5,1009.5 1218.5,1091.9 1219.5,1028.3 1239.1,1049.6 1227.6,1027.4 1188.3,1046.3 1228,975.3 1199.8,966.8 1197.2,1044 1190.4,1057.1 1198.8,1000.3 1199,1012 1215.8,981.7 1212.2,1162.7 1219,1042 1209.4,990 1197.5,988.8 1214.5,985.9 1189.1,1022.3 1207.9,1129.3 1206.3,1025.2 1206.5,1116.9 1226.1,964.6 1211.3,1135.5 1218.6,1029.8 1212.1,1047 1203.5,978.1 1197.5,1088.1 1219.5,1021.4 1219.9,1047.2 1202.5,1069.8 1200.9,1043.7 1231,1094.2 1208.7,973 1237.6,984.5 1235.8,998.4 1214.9,1124.8 1211.6,1182.5 1216.2,1133.9 1217.5,1080.7 1228.9,1045.2 1207.2,990.9 1232.6,1038.4 1188.2,1037.6 1213.8,1061.6 1218.5,1142.9 1218.8,945.8 1206.8,1070.2 1204.1,1012.4 1213.5,966.9 1231.9,1096.4 1227,1019.3 1210.3,976 1231.5,1089.1 1200.4,965.5 1215.6,1194.3 1212.4,1074.5 1243.4,1030.6 1229.2,1109.4 1214.7,1060 1187.2,994.6 1192.2,1002.2 1224.2,1010 1227.4,1070.4 1226.4,1111.1 1214.4,1099.6 1199.4,1044.3 1207.8,1110.1 1228.4,963.3 1201.9,1108 1214.8,1094.9 1202.2,987.9 1246.2,1050.3 1199.4,1079.5 1213.2,1093.1 1214.7,1156 1189.8,993.1 1206.3,959 1209.3,1034.2 1208.2,1006.8 1204.6,1064.2 1213,1020.1 1214.4,972.4 1208.1,1077.9 1195,1063.1 1200.1,962.3 1212.9,1043.5 1218.4,1150.6 1194.7,977.9 1212,1112 1207.9,978.9 1212.9,1175.4 1199,1039.4 1232.1,1060.7 1230.4,1028.7 1207.7,1070.1 1209.9,951.8 1224.3,1098.2 1213,952.8 1237.7,1002.6 1232,1060 1200.7,1009.3 1209.4,1056.6 1209.2,1069 1195.8,1020.8 1220.4,1049 1228.3,1048.7 1212.8,960.5 1191.5,1061.4 1205,1055.9 1229.7,1112.6 1218,1106.7 1219.2,1071.7 1215.5,1071 1199.4,1068.7 1188.8,1033.6 1246.7,1042.4 1234.7,990.7 1241.5,1056.8 1211.4,1011.2 1230.2,1081.1 1196.3,1062.3 1235.6,981.1 1189.2,1031.4 1240.6,1049.7 1237,1084.6 1220,992.2 1223.9,995.7 1208.2,948.6 1212,1035.4 1200.5,1093.2 1206.9,1015.1 1221.4,1082.7 1213.3,940.6 1213.2,967.2 1229,1058.5 1235.4,1011.1 1238.2,1026.5 1224.4,1089.6 1211,1052.4 1215.9,1116.1 1243.4,1001.3 1218.5,1095.9 1236.8,1072 1218.9,1127.2 1186.4,1033.5 1218.5,939.5 1214.4,944.6 1223.6,1113.9 1188.8,1000.9 1246.4,1030.8 1213.2,1114.6 1228.7,993.4 1220.6,1133.6 1236.6,1018.9 1203.9,947.7 1210.5,1122 1205.3,1096.7 1203.7,1023.8 1201.1,1079.7 1186,1054.3 1205.7,1134.8 1217.2,935.9 1201.1,1107.6 1193.8,1056.1 1233.2,972.5 1245.2,1034.4 1237.8,987.6 1219.3,1148.8 1223.2,1009.7 1219.7,960.9 1232.9,1086 1242.7,1009.8 1201.2,1041.5 1212.9,1113 1232.1,1094.9 1231.9,1014.9 1190.4,984.5 1242.7,1037.1 1213.3,957 1235,1038 1217.5,1065.6 1243.2,1004.5 1203.7,992.1 1221.7,1046.1 1206.8,961.6 1200.9,978.7 1229.2,1100.3 1208.7,1066.7 1213.1,1081.8 1187.1,1031.4 1236,1017.7 1234.3,1048.2 1221.1,949.9 1246.7,1027.1 1207.8,1058.4 1202.7,1051.5 1219.4,1140.7 1209.6,974.8 1244.9,998.9 1205,1035.1 1199,1064.3 1197.2,1031.2 1209.9,1164.3 1234,974.1 1212,1002.6 1209.7,1081.4 1211.3,1162.1 1246.2,1008.1 1239.7,1039.7 1207.8,1067.6 1222.2,1126.2 1242.6,1044.7 1234.1,1091 1234.3,1016.3 1230.4,1028 1229.9,1110.2 1205.3,1140.1 1213.6,1100.7 1207,990.4 1208.6,1004.4 1203.1,987.1 1213.6,985.4 1215.2,1184.7 1218.2,951.3 1197.1,1008.8 1226.3,1036.7 1214.6,1158.1 1225,1012 1193.9,989.8 1203.7,1052.6 1231.7,1069.4 1187.4,994 1240.2,1028.9 1208.3,1002.4 1197.4,991.7 1214,948.6 1220.1,1070.8 1245.9,1037.5 1229.3,1029.2 1193.6,983.1 1214.8,1178.9 1194.1,1010.5 1201.6,1009.1 1199.1,1065 1192.1,1074.1 1218.7,1060.7 1199.9,1014.4 1218,1103.7 1209.8,1144.7 1227.7,1124.8 1212.9,1121.3 1212,968.4 1222.3,1023.4 1228.7,977.6 1217.2,1007 1192.8,1043 1229.7,1088.1 1213.7,1064.4 1212.6,1211.2 1199.2,1050.4 1237.7,1033.3 1217.2,952.4 1242.8,1023 1214.3,976.3 1221.8,1101.6 1225.9,1034.7 1231.2,1044.8 1230.9,1083.9 1219,999.6 1200.6,1055.8 1200.1,996.6 1190.5,1073.6 1194.8,1083.8 1206.6,1001.5 1225,1000.5 1227.1,1104.6 1200.2,1028.6 1219.2,1059.4 1229.7,1041.1 1212.6,986.6 1234.8,983.4 1204,960 1214.6,996.8 1232.1,1097.2 1210.9,1060.2 1195.4,1043.2 1193.8,1037.7 1223.9,953.2 1227.8,957.9 1211.2,1086.4 1196.7,1008.8 1206.5,1087.4 1209.5,1063.9 1214.8,973.8 1203.7,1008.1 1240.1,982.4 1196.4,970 1234.8,1086.4 1228.1,1104.1 1236.8,1030.1 1209.3,1078.7 1234.4,1040.2 1220.1,1030.2 1218.3,1109 1210.5,1131.5 1224.3,1083.1 1235.5,1006.5 1210.6,1172.8 1207.8,1024.7 1234.2,1075.6 1203.6,973.4 1193.2,980.8 1208.6,1047.7 1215.7,1013.3 1239.5,1042.1 1223.6,964.3 1198.5,1047.4 1198.1,1022.6 1203.8,1075.1 1242.6,1031.7 1213.4,1166.3 1202.9,1106.1 1221.8,1131.8 1199.9,1031.1 1214,976.7 1209.6,1100.4 1217.6,1080.4 1222.2,1075.3 1206.1,1049.7 1217,946.1 1239.2,1013.6 1218.7,1159.8 1216.1,1146.8 1228.5,1056.7 1215,1165 1229.6,981.4 1193.8,1082.5 1210.3,1040.6 1233.7,1090.7 1203.5,997.6 1234.7,1045.4 1187.4,1014.1 1209.3,1000 1238.6,1002.1 1228.8,984.7 1198.5,1072.4 1199.9,1004.3 1193.3,983.2 1229.9,1021.4 1211.7,1089.1 1198.9,1045.8 1238.1,1023.2 1205.5,980.3 1233.5,1051.7 1228.4,1065.6 1188,1036 1197.7,1054.6 1209.6,1151.6 1216.9,1106.9 1242.5,1001.9 1207.4,979.4 1203.5,1058.9 1213.3,937 1219.6,1024 1201.7,1030 1225.4,1113.6 1190.8,1078.5 1228.3,1022.8 1209.7,1093.5 1218.8,1006 1195.9,979.4 1217.6,1171 1222.8,1142.1 1197.8,1078.1 1209.8,978.4 1216,1038.3 1216.1,1038.9 1184.9,1026.9 1210.7,974.3 1225.2,1085.1 1208.5,942 1220.6,1052.7 1213.7,1177.2 1230.9,984 1198.3,985.8 1213.7,934.5 1196.2,1062.4 1221.8,1032.3 1234.2,1089.3 1213.9,1023.6 1213.2,1196.2 1230.9,1003.6 1212.3,1018.7 1236.2,985.3 1202.8,1126.7 1213.8,946.7 1193,1005.6 1227.3,1017.7 1190.1,1067.6 1202.5,980.8 1194.3,1021.4 1220.6,1077.6 1216.9,1055 1200.1,1005.3 1244.5,1017.6 1239.2,1015.6 1225.8,1094.6 1214.4,1200.9 1202.2,1103 1226.6,1115.4 1213.9,958.9 1215,971.2 1225.3,1016.5 1224,954 1211.7,1176.6 1237.8,1076.3 1220,1067.1 1240.7,1072.6 1206.3,1076.7 1224.9,1016.7 1219.6,1000.8 1208.8,1157.2 1215.1,988.8 1241.5,1069.2 1217.5,1141 1192.4,1063.1 1204.2,1075.8 1219.8,963.6 1207.5,968.7 1202.9,1016.6 1217.1,1026.6 1219.1,1025.8 1194.1,997.9 1229.9,1099.1 1220.3,1154.7 1210.4,955.6 1219.9,1136.8 1210.5,1128.4 1200.1,972.3 1212.8,968.3 1194.9,1075.6 1205.2,1053.9 1205.2,995.2 1233.6,994.3 1222.2,1128.7 1215.4,1010.9 1221.9,991.4 1224,1097.8 1205.2,1048.8 1202.9,1077.2 1207.6,1143.9 1199.3,1071.2 1232.8,1046.5 1215.2,1121.7 1219.6,1136 1186.1,1040.4 1203.2,1118.3 1204.5,1051.9 1231.2,1036.1 1211.4,1018.3 1212.5,1211.2 1208.4,1082.1 1219.8,1085.6 1227.9,1047.6 1228.6,1085.2 1223.8,1011.5 1220.5,1091.9 1197.5,1079.6 1220.2,1035 1219.1,1160.9 1227.8,980.1 1226.8,1099.8 1218.1,1057.5 1210.7,1027.7 1206.6,1146.1 1200.5,959.5 1230.3,1045.2 1212.3,966.3 1214.2,1127.5 1190,1038.8 1216.9,987.9 1201.4,999.6 1213.4,1066.3 1230.5,988.3 1238.8,1025.4 1231.3,1087.4 1232.3,1067.4 1242.5,1050.4 1192.7,998.6 1230.9,1032.4 1232.1,1019.6 1208.1,1149.9 1211.7,1017.2 1210.3,941.4 1209.5,1169.5 1196.5,1031.9 1237,1033 1204.5,1092.6 1206.3,1084.2 1226.7,983.6 1233.4,1061 1188.5,1065.2 1224,1063.6 1221,961.6 1194.4,970.9 1204.3,993.7 1205.5,1129.7 1220.3,1105.5 1217,1142.3 1226.1,1055.5 1208.3,1120.2 1219.9,1118.5 1213.2,1079 1227.9,1058.1 1194.3,995 1235.8,1042.7 1218.9,1044.2 1243.8,997.9 1234.2,966.1 1217,942.7 1209.8,943.8 1208.6,1046.5 1226.2,1116.4 1209,1132.2 1200.2,997 1193.1,997.3 1208.9,956.4 1206.6,1025.7 1206.7,1034 1238.2,998.7 1215.1,1132.8 1234.3,1083.5 1212.9,1130.2 1190.5,992.8 1202.5,1003.4 1206.5,1123.7 1211.3,1097.7 1212.6,970.3 1246.8,1040.3 1212.7,1111.6 1208.6,1073.2 1230.7,1020.6 1217.2,1152.2 1234.7,969.4 1212,1036.5 1224.2,954.3 1194.2,1053.2 1199.4,975.3 1245.2,1020.9 1233,987 1210.4,1066 1219.7,1062 1210.3,986.8 1223.2,1139.1 1187.3,1015.8 1209.8,1063.3 1215.5,963.7 1206.3,1013.4 1213.4,938.5 1233.6,1054.8 1211.6,1148.2 1184.2,1012.9 1216.4,1123 1202.4,965.2 1187.8,1034 1185.8,1022.3 1210.7,1102.2 1202.5,1049.4 1215.8,1147 1196.7,1036 1232,1057.4 1204.5,1007.5 1223.7,994.5 1219.1,1172.5 1224.3,1053.5 1211.4,1091.4 1221,1125.6 1215.3,1068.4 1219.9,1050.7 1225,1137.8 1245.2,1019.7 1238,1042.4 1224.2,955 1199.3,1087 1223.9,1119.2 1228.7,995.6 1232.7,1002.9 1220.4,962.4 1198.6,1017.9 1218.7,1155.1 1207,1014.5 1194.6,1054 1231,1019.4 1186.1,1020.5 1206.3,970.5 1215.2,1187.8 1216.1,990.5 1238,1051.4 1223.7,1114.8 1211.2,1167.6 1206.8,1102.9 1217.7,1096 1227.1,1035.6 1233.7,1004.1 1232.2,1090.1 1208.9,1153.7 1207.6,976.9 1186.9,999.2 1214.4,989.3 1195.1,1022.1 1231.4,1027.2 1212.6,1117.7 1221.5,1059.1 1208.7,993.1 1210.1,1026.3 1194.5,1012.2 1238.1,1015.3 1204.5,1119.8 1209.3,971.9 1219.7,1007.1 1207.7,958.3 1233.9,1018.4 1236.8,1032.7 1231.8,1055.1 1217.8,1007.4 1225.1,977.3 1185.7,1029.4 1200.3,1014.8 1199.5,1005.4 1203.7,957.2 1202.6,1057.7 1228,1010.6 1231.1,996.3 1224.6,949.4 1219.3,1080.3 1212.7,1066.4 1220.2,1004.8 1219.5,1074.2 1207.7,1041.8 1187.2,1008.3 1212.1,955.3 1239.7,1027 1221.7,1137.2 1215.4,996.3 1215.7,982.8 1231,1037.3 1221.3,1051.2 1198.2,1013.7 1206.7,1120.5 1202.2,1101.5 1220.7,943.6 1243.5,1039.5 1223.3,1047.9 1181.4,1024.6 1203.7,1041.3 1206.6,1062.1 1217.8,950.6 1217.4,1059.8 1234.3,969.3 1191.4,1053 1200.6,1012.6 1220.6,1105.2 1238,1076.7 1237.5,1068.1 1192.8,1073"/>
<polyline class="d" points="1398.1,1134.5 1389.4,1086.5 1425,1061.8 1379,1041.6 1402,1083.1 1395.6,942.4 1413.2,1090.5 1390.9,1112.9 1394.5,1075.8 1404.2,937.3 1413.6,1056.1 1383.7,1000.8 1430.2,1064.5 1395.4,1160.2 1380.1,1029.1 1406.3,955 1412.7,1069.4 1414.9,1028.8 1408.1,1007.6 1406.7,1140.7 1383.3,1014.3 1408.1,1074.8 1403.6,1146.8 1397.2,990.6 1395.2,995.7 1396.7,1059.3 1421.6,1033 1386,1025.1 1385.1,1056.1 1401.5,959.6 1408.4,1060.6 1398,1072.9 1408.1,1110 1379.3,1088.4 1408.1,1109.6 1377.8,1062.3 1397.9,1084.6 1390.2,1051.7 1397.8,1101.1 1417.1,1052.7 1398.7,1149.7 1406.2,1123.3 1394.7,1011.3 1429.1,1035.9 1386.1,1091.9 1408.9,1061.9 1404.1,1100.7 1407.3,981.8 1418.8,1078.1 1399,959.7 1411.9,979.4 1381.9,1061.1 1368.2,1049 1398.8,1087.3 1420.1,1098.6 1402.6,1024.7 1422,1044.7 1401.6,971.4 1393.3,1051 1401.6,1069.1 1393.1,1107.9 1369.5,1047.6 1397.5,1004.8 1395.2,966.3 1411,995 1385.5,1012.3 1377.5,1082.1 1397.1,1052.3 1432.4,1049.9 1397.2,1060.8 1372.5,1043.7 1430.2,1048.5 1396.4,1102.2 1409.8,1071.2 1416.8,1031 1406.1,939.2 1380.6,1100.5 1384.9,1058.6 1420.1,1089.4 1379.6,1062.4 1384.3,1012.8 1382.8,1057.8 1386.9,978.7 1382.5,1108 1398.7,977.1 1402.9,1103.4 1395.4,1033.8 1403.2,1141 1412.4,1099.5 1422.3,1014.5 1415.4,1083.3 1397.2,1138.7 1409.6,1040.4 1398.6,1009.1 1389.7,1067 1416.7,1090.2 1396.3,951.5 1402.4,1073.3 1415.9,1003.3 1401.1,962.5 1409.5,1073.8 1399.9,1135.3 1407.9,968.5 1391.3,1059.4 1399.7,1016.3 1399.1,1143.6 1395.1,1125.7 1406.8,1130.1 1365.8,1050.2 1395.5,1002.9 1424.1,1079.5 1410.9,1043.3 1412.4,1118.4 1397.1,1120.6 1392.7,967.9 1401,1142.5 1418.9,1028 1379,1072.4 1421.6,1023 1390.1,975.8 1427.6,1033.1 1383.9,1040.9 1389.7,1096.7 1381.7,1005.8 1423.4,1030.2 1371.4,1074.7 1402,1030 1382.2,1089.7 1384.4,1087.6 1384,1038.6 1407,1113.5 1393.5,1015.5 1404.2,1126.9 1391.9,1106.8 1391.1,1076.8 1410.7,1038.9 1418.6,1085.4 1387.8,1020 1404.4,950.1 1405.1,1017.5 1391.4,993 1403,1132.3 1393.8,955.6 1398.1,965.5 1415.8,1029.2 1403.5,1134.8 1402.3,1106.8 1404,965.1 1393.9,992.6 1398,1117.4 1377.8,1074.2 1392.4,1031.6 1412.2,1104.4 1401,1162.7 1389.8,1077.5 1376.6,1088.3 1397.6,1089 1378.4,1024.5 1395.1,1006.1 1391,1136.4 1395.1,1011.6 1371.8,1069.4 1414.3,1102.4 1411,1064.2 1398.4,1169.5 1382.8,1030.3 1392.3,1066.1 1383.3,1110.1 1403.6,1139.2 1405.7,1048.7 1415.8,1058.3 1403.5,1053.5 1413.6,1095.7 1413.6,981.5 1423.1,1044.1 1383.6,1050.9 1404.7,1147.2 1392,1086.8 1384,1014.3 1390.2,1067.7 1377.7,1058.2 1377,1053.1 1398.9,934.3 1393.4,1024.5 1404.7,961.6 1386.3,1094.6 1388.3,1019.1 1414.4,1031.8 1421.4,1079.9 1400.5,1145.4 1412.7,1112.8 1370.3,1049.8 1402.6,997.4 1394.8,1095.4 1412.2,1059.7 1408.4,1055.3 1386.2,1052 1419.4,1064.8 1397.6,986.3 1401.9,1037.1 1395,988.9 1401.4,1053.8 1412.1,1079.1 1393.3,1110.7 1398.8,1003.5 1381,1002.2 1411.9,1085.2 1386.6,1106.1 1395,1015.3 1388.2,1029.6 1428.2,1032.2 1402.1,1131.4 1410,1077.8 1413.7,1019.7 1395.9,953.6 1413.2,1043.5 1386.7,997.1 1398.8,930 1383.7,1053.2 1387.9,1049.5 1396.3,1078.2 1389.2,1040.9 1403.6,1084.6 1399.8,1119.9 1407.2,996.4 1396.9,1080.1 1409.8,1018.5 1398.3,1003.7 1399.3,1068 1398.2,1147.7 1393.9,994.9 1422,1066.6 1422.6,1034.8 1405.9,942.8 1416.9,1063.5 1418.1,1012.1 1392.3,1078.3 1420.5,1031.8 1398.9,1054.3 1407.7,960.2 1395,1122.6 1395.4,1096 1388,1108.5 1409,1036 1401.4,1121.3 1404.9,1071.1 1385.4,1117.5 1417.4,1044.6 1407.8,1054.5 1375.5,1032.8 1390,1113.7 1400.8,971.3 1382.1,1064.8 1383.8,1008.9 1413.9,993.4 1396.7,999.7 1422.4,1031.5 1383.4,1001.8 1400.9,1051.5 1419.4,1011.8 1432.4,1061.1 1406.3,1128.3 1421.8,1050.5 1401.4,945.9 1375.3,1073.7 1393.2,1153.8 1426.5,1043.8 1401.9,1042.4 1397.3,1161.7 1393.5,949.7 1388,1023.4 1395.8,1012.1 1399.7,1075.1 1393.9,999.6 1400.1,983.6 1377.3,1035.3 1395.7,1018.7 1411.8,1111.7 1405.7,995.5 1398.2,963.4 1387.8,990.1 1411.7,1119.7 1404.3,958 1395.4,1041.4 1391.4,1112.2 1400.7,1017.1 1392.1,964.6 1406.4,1114.6 1416.7,1046.9 1426.5,1036.5 1405.7,1151.4 1412.4,1013 1402.5,1085.1 1418.1,1038.2 1398.5,1080.5 1394.5,1150.2 1404,1040.6 1374.9,1038.4 1400.3,991.9 1375.8,1050.1 1412.6,1033.2 1427.3,1034.9 1414.8,1044.4 1395.5,996 1390.8,1047.9 1406.8,1119.2 1393.9,1010.3 1392.7,1106.9 1400.9,1133.6 1382.7,1035.8 1418.2,1036.6 1389.3,1010.2 1407.1,973.3 1431.1,1046.6 1428.2,1032 1407.6,1105.2 1399.4,1078.4 1380.5,1049 1401.8,946.7 1396.5,1027.8 1394.4,985.4 1388.6,1050.3 1376.6,1065.4 1431,1063.3 1406.4,1096.3 1402.2,987.4 1406.5,1078.7 1412.3,1027.4 1382.5,1083.5 1420.1,1006.8 1399.3,1171.1 1410.9,1013.2 1407.3,1096.1 1374.1,1066 1390,1104.1 1376.7,1082.9 1416.7,1038.3 1389.1,1120.9 1371.3,1071.6 1395,1091.5 1417.5,1107.3 1383.1,1026 1390.1,1103.3 1388.7,1004 1378.9,1043 1409.7,1092.5 1396.4,1077 1407.3,966.5 1375.6,1057.4 1406.3,990.8 1373.5,1058.8 1403,992.4 1402.6,1164 1405.2,970.2 1403,1103.6 1396.7,967.4 1404.8,1042.1 1403.4,943.4 1414.4,1053.2 1401.8,1116 1405.8,1061.2 1388.9,1031 1392.5,1125.4 1387.8,1042.4 1412.4,983.1 1379.5,1074.6 1402.8,956 1396.8,949.2 1392.5,963.6 1389.1,1013.6 1381.9,1006.9 1424.4,1030.3 1392.2,1026.8 1405.1,1154.9 1405.6,1048.3 1414.7,1094.4 1412.3,984.5 1425.4,1066.6 1395.7,982.5 1395.1,1045.9 1383.3,1021.8 1373.3,1025 1383.4,1098.5 1407.9,1023.9 1422.5,1070.4 1397.4,1139.6 1415.2,1022.8 1401.1,954.6 1395.6,1027.3 1421.9,1030.4 1391.4,1105 1406.6,1061.8 1406.6,1037.2 1378.6,1018.7 1378.6,1053.8 1396.7,1149.3 1423,1048.3 1411.7,986.7 1381.6,1063.7 1415.8,991.4 1420.1,1076 1405.1,944.9 1398,1183.1 1394.7,1030.7 1407.6,1022.9 1385.8,1041.2 1383.2,1016.6 1395.1,1159.4 1394.4,1069.3 1380.8,1063.6 1413.3,1095.1 1397,1126.4 1399.2,977.6 1397.2,1086.4 1387.3,1023.4 1410.1,1076.6 1377.5,1022.2 1381.3,1009.6 1395.8,1004.4 1398.2,988.3 1401.6,1127.5 1390.8,1002.7 1378.5,1052.5 1397.6,952.1 1399.6,994.6 1394.1,1121.4 1395,1025.3 1377.5,1047.2 1408.7,1118 1403,961.6 1429,1060.1 1385.1,1095.4 1375.3,1020.4 1394.8,1002.3 1394.4,1045 1403.3,1011 1407.2,1045.4 1404.8,1105.5 1366.8,1065.3 1404.7,998.5 1415.1,1020.7 1418.7,1089.7 1409,1034.4 1390.5,1099.8 1425.5,1038 1421.2,1024.4 1393,975.9 1401.9,1143 1383.1,1065.7 1425.9,1054.8 1378.9,1045.4 1409.7,1105.2 1398.9,1032.3 1401,1088.9 1408.4,1092.6 1403.6,1157.6 1404.9,1117 1388.8,1100.3 1414,1072.7 1418,1066.7 1399.4,972.6 1407,1056.2 1406.3,1007.6 1374,1037.5 1374.4,1088.8 1418.3,1000.1 1400.2,1120.7 1417.9,1056.5 1418,1098.2 1378,1096.5 1377.6,1013.6 1402.1,1146.2 1401.4,1124.6 1395.8,1124.8 1401.8,935.4 1419.5,1050.4 1399.9,1059 1414.9,1086.1 1388.4,985.2 1419,1034.2 1399.7,1176.6 1406,975.1 1399.1,1134 1404.1,991.5 1390.1,1075 1403.3,973.8 1393.7,1010.6 1389.5,1128.5 1388.9,1052.8 1380.2,1042.5 1397.9,1020.5 1420.4,1051.7 1410.1,990.4 1413.7,1016 1428.9,1049.6 1384.4,1103 1412,1029.7 1417,1028.4 1397,1050.8 1413.4,1060.3 1405.9,1014.7 1370.6,1063 1389.6,1079.5 1389,970.7 1412.5,1035.6 1417.4,1039.5 1378.8,1081.1 1418.6,1090.9 1408.5,1115.8 1369.6,1046.3 1404.8,1055.8 1389.2,975.2 1412.1,1082.6 1408.3,984.9 1395.5,1061.6 1428.3,1073.1 1429,1047.9 1376.7,1035.9 1414.7,1056.5 1406.8,978.5 1385.5,1092.3 1395.3,1129.3 1395.1,948.4 1407.5,1006.6 1399.5,1142.7 1380.6,1008.7 1401.7,1085 1376.6,1023.2 1417,1026.8 1400.5,1090.4 1397.8,940.7 1385.1,1067.6 1401,966.9 1419.1,1102.7 1376.5,1075.6 1386.2,1074 1398.8,1188.8 1367.7,1055.8 1386.2,984.2 1398.3,1145.3 1400.5,939.9 1407,1032.4 1423.2,1082.7 1420.9,1060.5 1397.5,969.3 1387.9,1054.7 1388.1,1110.4 1395.4,964.1 1387.4,1126.2 1401.4,1152.4 1410.9,1064.2 1384.2,1006.1 1386.3,1103.9 1398.1,1185.5 1369.8,1056.7 1388.6,1099.2 1396.2,1166.4 1396,1101.9 1416.4,1085.2 1404.9,1093.9 1411.3,1013.3 1385.5,1115.1 1402.9,1080.8 1373.4,1069.2 1412.3,1021.5 1406.9,953 1420.6,1055.5 1397.5,1068.7 1408,1118.8 1375.6,1056 1397.6,1144.4 1398.3,1111.8 1375.8,1054.1 1393.8,1077.2 1421.3,1065.7 1393.6,1057.9 1418.2,1009.5 1401.2,936.2 1407.9,1106.1 1408.7,1081.3 1384.1,1037.7 1402.9,1041.2 1398,972 1427.6,1035.2 1399.3,1041.6 1397.8,1063.8 1412.1,985.9 1401.3,997.7 1398.8,1046.7 1408.5,1065.2 1375.6,1084.5 1378.4,1072.4 1395.1,1081.7 1398,987.2 1391.2,969.1 1392.1,1098.4 1371.9,1031.3 1373.1,1047.6 1385.7,1010.8 1415.3,1008 1423.6,1020.4 1391.9,1041.8 1383,1018.1 1406,1001.5 1387.7,998 1405.1,1079.7 1388,1059.6 1390,1084.3 1389.7,1046 1375.6,1020.9 1388.1,1070.3 1401.3,958.9 1394.8,1125 1391.7,1017.5 1411.1,985.9 1406,1140.2 1368.6,1055 1411.3,1127.3 1386.7,1049.6 1412.2,980.4 1394.4,941.3 1393.7,944.4 1382.6,1034.6 1421,1070.5 1382.5,1083.6 1401.1,1165.1 1398.2,1039.1 1382.3,1016.7 1397.1,1055.2 1410.7,973.2 1385.7,1004.9 1411.8,1051.6 1402.6,1168.3 1391.3,1114.9 1400.6,1109.5 1399.1,1054.1 1395.4,1138.1 1378,1026 1413.6,994.2 1420.6,1069.9 1382.7,1101.7 1384.2,1039.8 1398.5,1112.1 1394.8,1071 1405.4,1111.1 1404.2,1026.6 1392.2,978.3 1414.8,1092.9 1390.2,1123 1396,980 1394.2,1083.7 1394.9,1124 1413.1,1046.9 1423,1090.1 1373.9,1067.9 1413.5,1083.1 1397.8,1091.4 1404.2,1025.8 1387,1113 1400.2,1155.4 1396.1,1005.8 1401.2,947.8 1396.2,999 1383.6,1070.4 1431,1058.9 1392,1007.1 1390.1,1096.5 1378.3,1016.1 1378.9,1058.8 1387.2,988.9 1423.7,1026.1 1386.4,1119.1 1383,1083.9 1397.8,987.9 1402.5,1069.7 1399,947.2 1392.8,1081.4 1400.7,1173.7 1406.7,1130.1 1383.8,1115.2 1422,1076.1 1406.8,1068.6 1433.1,1057.8 1401.7,958.1 1390.1,996.9 1415.3,1057.5 1431,1046.6 1371.4,1056.8 1423.9,1048.4 1402,1081.6 1412.6,1094.6 1392.7,998.3 1420.1,1019.5 1406.6,968 1405.2,1077.6 1418.2,1058.8 1398.8,977.7 1416.8,1035.1 1411.8,1086.2 1399.4,1156.5 1409,979.3 1422.4,1090.9 1385.7,1086.2 1399.8,1136.4 1403.4,1052.1 1391.8,1021.7 1425.3,1051.3 1403.4,1152.4 1390.2,974.4 1373.3,1063 1386.8,1106.1 1387.2,1033.5 1395.6,1077.4 1387.3,1042.4 1393.9,1009.9 1419.5,1092.7 1401.5,1016.8 1427.6,1061.4 1402.1,996.1 1381.7,1097.8 1412.3,1091.8 1388.2,1111 1417,1028.9 1418.3,1033.4 1404.3,1097.2 1403.2,1098.1 1374.2,1037.1 1400.2,974.1 1381.6,1004 1412.2,1040.9 1412.5,983.1 1410.6,1022.2 1403.3,1023.7 1409.7,1045.7 1408.3,960.7 1406.2,1093.2 1401.8,957.2 1390,1071.6 1403.2,1100.7 1420.3,1017.3 1371.2,1068.3 1407.2,1047.1 1397.7,989.9 1418.9,1085.9 1397.1,1136 1400.8,1101.4 1404.6,938.7 1371.1,1057.9 1393.4,1017.8 1371.9,1067.6 1397.4,1150.9 1413.3,1079.2 1411.5,1040 1404.7,1123.6 1409.6,1094 1417.6,1008.4 1400.1,984.1 1414.7,1033.5 1420.8,1015.5 1430.2,1039.9 1378.8,1034.1 1433.8,1057.1 1415.7,1093.5 1419.6,1098.9 1402.7,1047.8 1381,1088.1 1387.9,1001.4 1417,1074 1391.6,1014 1402.2,989.6 1421.6,1012.4 1392.5,1090.1 1389.2,981.3 1412.6,1097.6 1425.7,1060.3 1379.1,1007.8 1407.3,953.9 1411.5,1122 1393.5,1000.6 1372.2,1052.1 1425.8,1036.8 1414.4,1005 1407.5,1137.2 1412.7,1075.8 1413.6,982.4 1397.3,1108.5 1416.1,1074.5 1382.1,1028.3 1404.7,1040.4 1426.7,1043.1 1424.7,1071.9 1406.7,1133.3 1367.9,1065 1406.7,1057.1 1396.3,1048.8 1396.4,1075.5 1382.8,1108.7 1380,1042.8 1400.8,932.8 1418.8,1008.6 1400.4,1018.9 1404.3,1000.9 1388.9,1071.8 1381.7,1068.7 1375.5,1044.3 1383.5,1076.1 1396.5,1036.3 1405.6,1029.4 1407.2,1067.2 1386.1,1067.2 1420.8,1082.2 1427.5,1045.1 1404,1101.2 1413.6,1000.1 1425.4,1077.5 1420.8,1047.3 1412.1,1116.2 1404.5,1131.7 1385,1059.8 1394.1,1080.3 1404.1,1087 1430,1049.2 1399,1158.3 1393.5,1021.4 1379.3,1080.4 1371.9,1028.6 1404,1159.3 1387.4,1009.2 1415.9,1073.5 1419.6,1076.6 1428.1,1055.1 1394.4,991.9 1418.6,1021.3 1419.3,1015.1 1398.5,1081.8 1421.2,1073.2 1411.8,999 1391,1104.2 1388.5,1113.9 1413.6,997.3 1395,962.9 1398.1,976.2 1413.5,1070.7 1384,993.2 1407.8,1095 1371.9,1057.5 1416.1,1025.8 1405.9,1027.9 1370,1062.6 1384.8,1081 1395.4,1019.9 1387.3,1026.6 1381.3,1045 1395.6,1099.9 1393.7,981 1383.2,1037.6 1379.2,1062.2 1406.6,1107.9 1396.2,1015 1380.9,1088.1 1403.5,1118.6 1409.4,1034 1424.8,1079.2 1412.3,999.8 1383,1064.5 1394.1,1114.3 1398.2,1072.2 1392.6,1141.8 1391.9,1097 1373.9,1039.6 1415.3,1043.6 1395.1,1087.3 1378.2,1039.5 1416.2,1038 1397.9,1163.7 1405.7,1039.1 1384.6,1087.8 1386,1024.9 1402.1,957.1 1394,993.8 1374.4,1054.5 1398.1,971.7 1417.2,1005.4 1412.8,1022.6 1432.4,1064.1 1385.8,1018.2 1379.5,1088.9 1432.2,1061.7 1388.2,1027 1402.1,1131.3 1407.8,1022.4 1417.5,1039.1 1391.5,1116.6 1385.3,1093.8 1391.6,1127.7 1417.4,1053.8 1387.2,1053 1381.5,1045.9 1399.9,980.7 1403.7,1065.4 1397.2,1132.6 1382.2,1091.7 1411.8,1066.4 1398.9,1148.4 1404.7,1062.8 1403.7,1066.2 1405.4,1137.9 1393.5,969.8 1416.3,1002.5 1398.1,1154.1 1385.9,1067.3 1430.3,1062.6 1398.7,994.1 1394.5,1109.4 1389.9,1130.7 1400.3,1174.6 1394.8,1122.8 1382.4,1044.1 1394.1,1019.3 1396.1,1044.5 1422.1,1060.8 1409.6,1072.3 1411.3,988.2 1413.9,1050.8 1407.6,1068.3 1372.1,1027.7 1399.4,950.9 1377.9,1071.6 1395.2,1129.3 1427.6,1069.7 1404.7,976.8 1394.5,989.2"/>
<polyline class="d" points="1700.3,1212 1753.1,1196.4 1726.8,1122.5 1705.6,1237.9 1731.5,1250.1 1738.4,1158.7 1739.8,1230.6 1710.6,1254.4 1726.7,1239.5 1719.7,1252.5 1713.3,1157.5 1732.8,1148.6 1741.5,1155.1 1716.5,1222.6 1749.1,1188.1 1736.2,1145.4 1740.8,1237.5 1716.4,1100.1 1715.1,1254 1713,1239.8 1743.9,1179.9 1732.5,1094.8 1723.2,1205.4 1736.4,1204.5 1716.7,1236 1756,1225.1 1733.5,1172.1 1706.9,1224.1 1747.1,1217.8 1730,1102.3 1703.5,1179.1 1727.8,1062.9 1694.3,1204.5 1732,1205.9 1730.5,1280.1 1715.1,1240.4 1737,1168.9 1733.5,1151.2 1726.6,1132.9 1734.1,1271.4 1736.2,1267.1 1716.2,1084.5 1702.7,1249 1730.5,1232 1747,1233.9 1713.4,1254.3 1724.2,1187.8 1726.8,1255.8 1730.5,1239.6 1754.5,1234.4 1703.6,1182.1 1748.3,1213.6 1723.3,992.7 1700.9,1238.7 1690.1,1222.3 1747.4,1225.8 1728.4,1188.9 1718.9,1208.9 1743,1194.5 1724.9,1226 1707.4,1166.6 1713.1,1179.6 1740.9,1191.5 1703.8,1224.8 1720.7,1109.6 1737,1152.9 1724.6,1035.6 1700.2,1187.1 1718.3,1198.3 1700.6,1219.8 1718.7,1179.2 1707.5,1231.7 1713.4,1261.6 1726.4,1097.3 1728.4,1180.2 1736.8,1192.9 1717.6,1232.1 1715.5,1257.9 1720.7,1203.9 1721.2,1213.2 1696.7,1251.6 1750.2,1241.3 1732.2,1086.8 1718.6,1155.5 1717.5,1227.4 1717.3,1110.9 1726.4,1037.8 1710.9,1163.3 1715.4,1199.2 1733.2,1123.3 1727,1207.6 1728.4,1193.6 1702.2,1255.3 1727.6,1217.1 1722.4,1022 1700.3,1204 1728.7,1214 1694.9,1242.4 1716.5,1174.3 1707.6,1182.1 1727.8,1042.7 1715,1104.7 1739,1245.5 1724.2,1112.5 1725.9,1270.7 1725.9,1281.7 1748.1,1209.5 1725.6,1157.2 1723.4,1214.9 1727.7,1198.9 1703.7,1202.1 1742,1233.1 1734.7,1247.8 1755.4,1227.8 1724.1,965.9 1718.9,1071.7 1737.8,1211.2 1723.8,1115.4 1737.4,1256.1 1728.5,1249.6 1704.7,1198.8 1701.6,1236.1 1746.4,1176.6 1714.9,1134.4 1732.2,1254.7 1704.2,1238.3 1732.8,1123.8 1705.9,1268.7 1699.5,1219.2 1722.9,1275.8 1746.9,1185.7 1728.1,1106.4 1731.4,1064.9 1730.5,1140.2 1723.9,982.1 1734.2,1196.9 1724.5,1023.7 1727.9,1161.8 1751.4,1189 1717.6,1189.9 1733.7,1182.1 1718.4,1216.2 1750.6,1191.5 1742,1167.5 1722.7,1169.8 1746.8,1183.8 1729.9,1279.4 1693.6,1231 1715.3,1117.9 1743,1175.5 1723.5,1164.3 1703.7,1257.8 1725,1087.2 1707.8,1220.6 1729.1,1069.8 1695.2,1226.2 1723.8,1250.3 1720,1197.3 1734,1199.9 1721.7,1282.7 1719.7,1283.7 1723.7,1234.9 1695.8,1223.8 1720.8,1181.4 1721.7,1118 1722.7,1238 1700.6,1190 1724.5,1277.9 1730.3,1091.6 1724.1,1193.7 1721.2,1282.4 1718.1,1211.6 1703,1248 1732,1166.8 1708,1257.3 1733.8,1148.9 1702.6,1230.1 1725.9,1178.2 1746.9,1230.8 1732.4,1218.2 1722.2,1114.5 1717.9,1128.5 1706.9,1245.2 1749.6,1191.2 1703.8,1170.1 1714,1221.5 1725.5,1116.7 1717.7,1133.8 1707.2,1168.5 1707.6,1170.3 1708,1194.5 1692.3,1228.8 1739.9,1233.4 1710.7,1252.6 1751.9,1243.8 1701.7,1207.3 1700,1255 1724.1,1027.5 1752.5,1191.1 1741.5,1188.4 1737.3,1184.4 1743.2,1214.5 1738.9,1223.3 1721.8,1174.2 1756.9,1229.6 1717.9,1109 1722.5,1222.2 1747,1253.7 1703.7,1245.9 1724.2,1120.7 1742.2,1231.2 1733.7,1267.9 1729.8,1262.6 1720.5,1048.3 1702.9,1193.4 1711.6,1202.6 1719.1,1224.9 1717.1,1195.4 1734.7,1185.4 1731.5,1218.1 1708.9,1162.4 1714.3,1257 1717.1,1275.2 1715.8,1131.3 1722.6,1262.2 1730.9,1093.1 1706.2,1252.3 1731.5,1193.2 1731.7,1097.7 1723.1,1055.2 1732.8,1119.1 1729.3,1188.3 1726.4,1235.7 1700.3,1210 1727.7,1247.2 1715.6,1190.8 1720.2,1228.1 1738.3,1256.4 1726.3,1135.1 1720,1265.5 1723.7,971.6 1719.9,1088.2 1706.7,1201.3 1717.2,1259.9 1730.5,1267.9 1724.6,1252.8 1708.8,1238.8 1694.3,1241.5 1734.2,1143.8 1711.4,1173.6 1715.3,1235.1 1723.2,1150.6 1704.3,1248.5 1711.3,1232.6 1698.5,1228.2 1748.3,1205.9 1728.7,1064.2 1712.7,1221.3 1735.9,1214.7 1753.7,1231.2 1692,1232.6 1733.6,1136.9 1723.7,1281.1 1719.3,1074.6 1692.4,1210.4 1739.8,1185.1 1756.4,1215.2 1727.2,1061.3 1717.2,1209.6 1728.4,1095.5 1740.6,1248.6 1741.9,1249 1716.7,1219.8 1719.4,1149.4 1733.4,1206.2 1730.5,1077 1745.2,1180 1707.3,1201.9 1746.5,1229 1742.8,1162.1 1724,1192.2 1724.8,911.2 1699.7,1244.2 1739.3,1225.8 1714.6,1235.4 1732.6,1200.7 1723.5,1213.8 1743.9,1246.9 1740.4,1217.5 1740.2,1251 1709,1161.2 1724.7,1233.2 1742.3,1253.1 1726.3,1222.5 1713.8,1235.5 1724,1068.5 1726.3,1121.5 1747.3,1229.2 1718.3,1264.9 1690.2,1219.1 1718,1114 1750.3,1250.8 1722.2,1177.9 1724.2,1203.2 1748.2,1243.5 1743.2,1219.1 1702.8,1172.4 1725.3,1215.4 1733.3,1164.5 1718.9,1286.6 1719.7,1165.2 1730.5,1102.6 1704.4,1236.7 1709.5,1159.4 1747.1,1174.5 1726.3,1195 1719.7,1080.4 1742,1177.2 1754.2,1230.2 1754.7,1211.9 1734.2,1206.6 1702.8,1227 1722.8,1156.9 1720.6,1057.6 1747,1244.3 1712.1,1175.1 1753.8,1242 1737.9,1176 1727.9,1173.2 1741.8,1169 1728.7,1150 1733.3,1277.7 1749,1211 1719.1,1191.7 1716.6,1119.9 1724.2,1166.6 1737.9,1227.4 1715.9,1266.4 1741.9,1269.8 1750.1,1217.8 1724.2,927.5 1723.1,1164 1748.9,1199.9 1744.9,1246.7 1711,1153.6 1713.9,1247.6 1730.6,1098.9 1724.9,998.3 1716.6,1243.4 1746.4,1253.5 1733.2,1172 1711.3,1168.1 1726.7,1167.9 1726,1197.4 1730.6,1216.1 1740.4,1184 1744.1,1242.8 1714.3,1104.1 1723.1,1073.1 1746.4,1189.1 1744.1,1263.4 1746.5,1208.5 1748.9,1222.1 1738.5,1183 1695.1,1197.1 1733.4,1185.8 1711,1183.5 1751.1,1181.5 1742.6,1260.9 1744.1,1216.3 1716.9,1080.3 1730.9,1246.2 1718.6,1272.9 1715.5,1150.9 1741.4,1167.6 1724,951.7 1750.3,1251.9 1727.5,1234 1740.9,1180.9 1716.9,1264.7 1703.9,1180.7 1714.5,1195.1 1725,1004.3 1725.1,1050.4 1738.6,1198.3 1705.5,1237.7 1716.6,1093.9 1736,1208.2 1703.7,1249.1 1707.9,1200.1 1709.3,1175.3 1729.2,1135.9 1748,1261.1 1726.3,1030.5 1716.9,1176.2 1730.1,1288 1729.3,1225.4 1737.2,1272.6 1707.3,1214.3 1713.4,1273.2 1754.1,1226 1693.7,1228.4 1691.9,1225.2 1711.1,1212.2 1722.6,1045.6 1729.8,1231.9 1734.8,1113.1 1723.8,1265.9 1695.6,1238.2 1752,1216.6 1724.9,1177.1 1737.8,1203.6 1724.8,1209.2 1695.2,1242.6 1714,1207.9 1738.6,1239.1 1746.7,1237.3 1743.5,1170.9 1731.1,1141.8 1707.1,1202.2 1716.1,1220.4 1742.8,1250.6 1729.5,1273.9 1732,1105.7 1713.4,1184.1 1696.3,1246.3 1715.5,1253 1709.1,1158.1 1745.4,1187 1710.3,1201.4 1721.6,1161.6 1718.6,1169.5 1723.9,1200.2 1724.8,1291.2 1751.8,1203.1 1726.3,1128.1 1733.8,1207.5 1754.3,1227.5 1720.4,1263.2 1757.5,1220.6 1714.3,1208.9 1730.6,1240.3 1715.3,1240.1 1719.4,1264 1710.5,1256.2 1736.3,1148.1 1730.8,1078.7 1714.5,1196 1726.2,1111.6 1726.2,1144.9 1737.3,1213.2 1734.6,1172.9 1739.6,1176.3 1743.9,1183.2 1718.8,1165 1738.1,1249.8 1746.5,1226.4 1737.6,1276.7 1746.5,1251 1717.7,1221.7 1745.3,1234.6 1717.8,1265.1 1732.1,1245.8 1745.4,1258.4 1732.4,1127.7 1708.8,1219.5 1719,1250 1724,1010.4 1724.4,1229.6 1719.5,1200.9 1752.3,1205.5 1711.4,1217.1 1734,1247.9 1736,1125.8 1749.7,1207.4 1733.4,1182.5 1720.7,1125.1 1708.2,1201.2 1709.4,1245.8 1696.5,1193.9 1734,1144 1728.4,1075.8 1705.5,1177.8 1731.2,1251.2 1734.4,1197.8 1717.7,1241.3 1704.5,1258.9 1742.8,1220.8 1720.1,1241.9 1716.9,1217.3 1744.5,1188.7 1721.1,1259.4 1721.7,1142.5 1751.2,1182.7 1712,1256.7 1708.6,1261.7 1709.5,1212.9 1716.3,1138.6 1721.7,1059.3 1722.1,1154.5 1727.1,1017.6 1724.1,1234.4 1731.2,1239.1 1699.4,1222.8 1737.3,1175.4 1724.8,1259.8 1730.4,1215.7 1727.4,1178.4 1742.5,1204.3 1751.7,1223 1719.5,1226.8 1728,1131.6 1742.2,1186.9 1728.7,1192.8 1728.7,1123.9 1722.1,1192.3 1726.6,1049.6 1710.6,1199.2 1700.8,1240.7 1728.6,1170.7 1734,1246.7 1748.6,1186.4 1732.6,1147.5 1713.3,1266.4 1691,1216.2 1743.6,1159.7 1754.8,1223.5 1730,1116.1 1720.5,1216.4 1735.8,1227.8 1706.9,1201.6 1754.2,1212.5 1701.8,1198.4 1734.5,1276.5 1720.4,1108.2 1731.5,1258.2 1693.3,1220.9 1733,1205.9 1728.4,1186 1699.4,1218.7 1752.6,1221.2 1736.7,1211.7 1749.8,1236.6 1726.4,1129.8 1743,1172.8 1739.5,1271.2 1702.6,1202.8 1713.8,1270.2 1717,1221.8 1713,1152.3 1696.7,1241.8 1731,1275 1728.1,1058.1 1736.1,1143 1722.6,1126.6 1725.5,1130.4 1725.3,1223.7 1725.5,1089.6 1747.5,1261.6 1728,1156.5 1726.6,1018.3 1741.4,1197 1718.4,1218.4 1718.8,1286.3 1730.9,1107.4 1736,1159.8 1744.1,1184.8 1738.7,1206.6 1717.1,1192.6 1702.1,1177.8 1695.4,1230.8 1719.4,1139.7 1698.6,1205.1 1740.5,1208.6 1731.8,1146.1 1710.5,1215.5 1718.1,1196.6 1728.1,1068.8 1720.9,1032.2 1722.6,1217.9 1728.5,1233.4 1719.8,1052.9 1730.8,1190.4 1706.9,1262.9 1732.9,1180.4 1722.3,1205.2 1722.8,1212.7 1703.8,1179 1748.9,1224.5 1718.1,1174 1720.3,1039.9 1724.3,1100.5 1719.9,1186.6 1735.9,1152.4 1703.2,1235.3 1721.4,1269.2 1731.9,1209.1 1716,1166 1719.9,1028.8 1754.9,1199.9 1694.6,1210.5 1708.4,1171.5 1731.5,1081.5 1730.2,1214.8 1703,1240.8 1716.7,1171.5 1707.3,1185.1 1719.8,1197.9 1717.7,1262.7 1732.3,1090.8 1744.1,1203.4 1725.4,1155.1 1734,1204.8 1733,1239.9 1727.1,1141.1 1701.9,1228.4 1753.9,1232.9 1737.1,1269.5 1731.7,1267.2 1701.2,1255.5 1735.2,1195.5 1732.2,1190.3 1724.1,1258.8 1719.3,1043.9 1723.5,1137.6 1694.3,1200.7 1724,1195.7 1727.2,1085.5 1726.6,1203.6 1696.5,1211 1727.6,1165.7 1747.7,1243.3 1725.2,1226.8 1705.4,1188.1 1724.7,1196 1738.7,1274.2 1709,1210.3 1725,943.6 1725.6,1053.2 1743.8,1220.1 1731.5,1153.8 1715.3,1160.2 1753.8,1210.9 1731.4,1206.9 1738.4,1268.5 1734.8,1278.7 1698,1244.1 1739.2,1257.5 1752.1,1229.3 1730.5,1260.1 1722.4,1234.8 1718.1,1146.4 1753.2,1210.1 1713.1,1242.6 1689.5,1224.3 1729.7,1229.7 1752.2,1231.4 1696.5,1244.7 1711.1,1147.3 1726,1244.4 1720.4,1036.9 1725.7,1264.3 1730.5,1189.8 1718.5,1284.5 1733.5,1271.8 1729.4,1289.1 1736,1194.3 1732.4,1224.3 1750.1,1207.9 1713.7,1212.6 1719.4,1155.9 1720,1066.7 1701.2,1260.6 1707.4,1237.1 1724.3,1076.4 1719.4,1244.9 1708.9,1213.8 1733.6,1163 1716.6,1082.6 1726.5,1160.8 1723.4,1137.9 1738.6,1236.5"/>
<polyline class="d" points="1879.2,1227.1 1892.6,1213.7 1887.6,1170.2 1913,1020.9 1925.7,1135.2 1919.8,1252.5 1902.8,1192.1 1929.3,1200.2 1900.7,1095.5 1925.5,1131.8 1884.5,1200.1 1912.3,1046.2 1910.6,1001.5 1889.8,1161.6 1892.2,1178.9 1915.1,1165.8 1880.8,1190.6 1910.1,1145 1891.8,1248.7 1927.5,1219.5 1937.4,1208.4 1919.3,1269.5 1918,1118.9 1915.4,1082 1910.5,1252.2 1886.6,1207.7 1911,1013.3 1907.1,1127 1896.5,1123 1907.2,1157.1 1924.6,1237.5 1928.5,1230.5 1909.8,995.5 1940.1,1234.8 1894.2,1255.6 1898.2,1223.1 1924.2,1152 1942.5,1221.2 1931.4,1215.9 1908,1229.3 1922.8,1210.6 1891.7,1149 1920.9,1112.2 1895,1248.8 1917.1,1213.6 1892.5,1163.6 1892,1134.1 1891.4,1152.8 1933.9,1245.2 1916.5,1105.8 1903.4,1089.4 1908,1111.7 1921.3,1185.1 1914,1204.1 1910.4,1193.6 1885.5,1174.2 1927.3,1159.2 1899,1192 1933.1,1203.1 1935.5,1224.9 1913.7,1202 1901.8,1195.9 1912.1,1164.3 1933.9,1213.9 1918.3,1171.5 1928,1190.6 1936.4,1216.4 1906,1160.2 1929.8,1237.1 1894.1,1136.5 1907.3,1171.7 1909.8,1029.7 1922.1,1227.9 1891.3,1187.7 1895.1,1214.7 1936.5,1190 1914.2,1261.4 1900,1178.7 1906.4,1262.5 1913.4,1156.5 1891.5,1214.6 1890,1207.9 1912.6,1233.4 1902,1226.1 1924.9,1227.9 1906,1040.8 1923.8,1218.5 1904.7,1239.9 1935,1247.7 1885.6,1179.9 1933.2,1189.7 1889.8,1201.8 1883.7,1195.4 1904.1,1256.9 1907.4,1121.8 1903.8,1218.1 1926.8,1175.5 1885.2,1182.8 1900.2,1137.4 1930.9,1145.9 1886.4,1220.7 1904.9,1156.6 1892.6,1169 1894.5,1192.6 1915.1,1156.1 1902.9,1151.2 1910.6,1032.7 1895.2,1197.5 1937.6,1190.9 1926.8,1244.3 1916.8,1125.7 1904.9,1258.3 1914.6,1172.4 1910.9,1154.9 1910.9,1064.3 1894.6,1143.8 1911.1,1203.6 1900.9,1156.8 1917,1257.5 1884.7,1193.1 1886.2,1197.2 1887.7,1220 1901.8,1222.7 1930.4,1166 1904.4,1261.4 1907.8,1182.9 1903.2,1212.4 1930.1,1177.9 1910.1,961.2 1925.3,1133 1913,1214.2 1889.3,1202.7 1896.5,1266.7 1927.9,1225.7 1929.1,1245.4 1880.5,1208.3 1909.2,1272.2 1899.3,1139.5 1934.3,1177.1 1922.6,1154.3 1895.9,1150.8 1898.8,1253.9 1915.8,1168.6 1911.4,1211.7 1915.6,1271.1 1888.6,1151.8 1903.9,1069.9 1914,1058.8 1918.4,1206.5 1909.8,874.4 1939.1,1200.9 1904.3,1061.7 1920.7,1197.7 1900.9,1172.7 1894.2,1207.7 1918.7,1166.1 1901.6,1098.1 1885.3,1191.5 1925.1,1182.2 1889.1,1215.4 1921.6,1221.3 1898.7,1148.1 1882.9,1234.1 1914.1,1273.4 1905.6,1048.9 1896.6,1142.4 1905.5,1055.4 1889.6,1157.2 1917.3,1209.4 1921.1,1136.9 1908,1148.2 1888.2,1143.9 1927.1,1207.2 1888.2,1149 1909.1,1251.6 1923.7,1257.7 1903.3,1185.7 1891.5,1218.8 1878.8,1207 1924.6,1165.6 1909.8,850 1938,1185.9 1879.5,1211.1 1884.1,1193.9 1878.5,1199 1912.7,1260.4 1892.8,1254.2 1898.2,1238.5 1895.3,1193 1911.7,1069.4 1899.6,1254.4 1893.9,1175 1904.4,1044.5 1918.8,1208.9 1899,1134.2 1886.1,1161.1 1909.9,1091.2 1927.9,1176.3 1911.8,1110 1896,1187.2 1925.8,1136.5 1920,1265.9 1893.1,1173.8 1909.6,1038.6 1909,1235.9 1887.3,1180 1911.6,1250.5 1911.7,1162.4 1908.6,1236.1 1908.9,970.3 1898.6,1146.8 1907.7,1049.9 1910.9,1151 1919.7,1260.3 1914.5,1202.4 1893.5,1143.2 1920.1,1171.5 1932.4,1176.2 1897.2,1167 1894.2,1209.4 1916.5,1097.1 1907.2,1230 1907.6,1186.5 1918.6,1211.3 1936.5,1177.2 1906.1,1197.6 1928.4,1214.6 1896.4,1168 1910.3,1188.7 1900.5,1167.6 1881.7,1214.9 1907.9,1270.6 1906.3,1264.7 1909.1,1094.7 1895.3,1206.4 1921.8,1248.3 1908,1210.3 1889.1,1160.6 1941.3,1215.7 1893.7,1222.5 1912.8,1072.3 1912.3,1176.7 1912.1,1000.6 1918.3,1110.9 1899.4,1191.6 1919.5,1221.9 1924.4,1182.7 1920.4,1270.3 1902.3,1066.7 1930,1168.2 1899.4,1259.6 1895.1,1176.4 1910.7,1178.9 1881,1209.8 1897.1,1194.1 1909.4,1262.8 1905.9,1270.1 1894,1175.3 1925.6,1237.6 1923,1164.9 1917.1,1202.2 1886.4,1244.4 1891.3,1230 1878.1,1189.2 1922,1127.4 1896.2,1227.7 1932.6,1178.3 1908.2,1267.6 1902.5,1259.1 1930.7,1173.9 1913.7,1085 1922.3,1210.8 1938.7,1192.3 1921,1268.4 1902.3,1074.1 1888.1,1203.4 1912.2,1127.7 1923.5,1209.2 1918.9,1218.4 1937.4,1231.6 1925.1,1243.2 1903.6,1083.6 1902.2,1219.2 1897.2,1177.7 1877.2,1216.8 1917.6,1205.5 1933.5,1167.8 1900.5,1229.3 1920.8,1157.5 1905.5,1123.9 1890.7,1235.2 1906.3,1232.8 1941.2,1235.4 1898.5,1262.3 1939.2,1218.3 1911,1132.5 1925.3,1129.8 1903.6,1071.5 1892.5,1212.4 1899.1,1117 1880.3,1199.9 1897.7,1122.1 1924.9,1179.6 1913.2,1030.8 1927.5,1152.2 1899.7,1216.9 1894.4,1230.3 1912.2,1215.1 1882.6,1221.4 1910.4,918.9 1908.8,1263.1 1905.9,1255.4 1906.8,1191.2 1891.5,1249.7 1900.8,1253.5 1901.4,1245.1 1918.6,1123.2 1898.3,1155.2 1906.9,1208.9 1906.3,1066.4 1927.1,1155.9 1912.4,1082.8 1911.1,1121.6 1927.7,1154.5 1926.3,1158.7 1904.1,1108.6 1890.5,1138.7 1911.4,1114.5 1890.5,1211.3 1904.4,1109.1 1912.9,1187.2 1903.6,1170.1 1879.1,1205.9 1888.8,1158.4 1906.2,1039.5 1893.5,1198.5 1881.9,1237.8 1893.5,1229.6 1883.3,1239.4 1918.8,1246 1919.6,1274 1883.5,1220.9 1899.2,1138.4 1921.2,1181.9 1921.6,1169.1 1914.6,1104.1 1919.9,1125.4 1918.8,1246.8 1903.2,1087.9 1903.9,1243.9 1925.3,1194.6 1908.6,1266.3 1892.7,1242.2 1886.7,1162.3 1917,1247.4 1918.6,1252.1 1915.1,1087.7 1910.3,1160.8 1907.4,1272.8 1900.5,1225.9 1933.5,1174.3 1900.8,1137.3 1909.4,949.9 1889.1,1209.8 1924.4,1140.1 1921.9,1141.4 1906,1268.2 1906.9,1012.5 1893.4,1223.2 1886.9,1193.8 1912.6,1138.1 1922.3,1248.6 1938.4,1180.3 1911.6,1004.6 1887.7,1249.1 1892.9,1145.6 1920.7,1181.9 1905.2,1202.9 1903.1,1061.6 1903.6,1275.6 1909,1184.5 1920.9,1118 1899.8,1163.3 1924.8,1161.6 1935.4,1211.9 1910.9,1187.9 1926,1234.2 1925.7,1186.7 1929.4,1228.7 1894.3,1180.6 1881.6,1189 1901.3,1179.8 1912.2,1199.1 1913.6,1051.8 1916,1199.5 1879.6,1198.1 1907.5,1242.1 1926.8,1180.6 1901.6,1184.8 1906.5,1134.6 1899.9,1129.2 1919.8,1189.1 1898.9,1149.1 1940.4,1199 1894.5,1241.1 1883.5,1199.4 1889.8,1141.9 1879.8,1222.1 1905.5,1047.8 1884.3,1217.7 1909.9,902.9 1902.4,1212.1 1895,1243.4 1911.8,1135.7 1933.6,1221.6 1937.3,1202 1922.9,1170.8 1900.2,1223.8 1904,1229.7 1887.4,1214.6 1886.2,1239.5 1908.6,1084.7 1890.8,1241.4 1890.4,1203.3 1909.3,1168 1887.5,1217.3 1892,1189.6 1899.9,1221.8 1912.1,1089.9 1916.2,1144.5 1915.9,1167.3 1922.7,1241.3 1902.7,1195.4 1927.4,1245.7 1888,1174.7 1933.8,1202.9 1909.7,1148.1 1928.8,1223.8 1875.8,1203.9 1934.4,1250.3 1901.4,1185.1 1940.1,1206.2 1898.9,1231 1897.4,1217.2 1909.2,1090.9 1877.7,1227.4 1928.8,1220.3 1907.4,1093.1 1930,1237.1 1923.2,1196.5 1910.4,1068.1 1913.4,1246.3 1901.2,1190 1909.8,1216.2 1902.5,1147.6 1912.9,1101.6 1930,1216.9 1911.2,1208.2 1917.3,1169.3 1876.3,1219.9 1914.4,1212.3 1919,1093.1 1885.2,1190.6 1905.5,1198.5 1928.7,1147.1 1905.1,1080.1 1925.2,1227.4 1902.9,1115.7 1899.4,1154.3 1901.2,1114.9 1894,1213.4 1908.9,1045.1 1903.6,1250.9 1887.9,1155.6 1902.7,1065.3 1911.6,1239.1 1931.6,1200.8 1896.4,1264 1895.6,1247.4 1912.2,1179.8 1896.6,1217.6 1922.7,1217.5 1876.1,1213.8 1906.4,1034.7 1891.1,1235.4 1925,1186.3 1906.5,1251.6 1928.1,1220.7 1927.3,1220.4 1891.7,1165.3 1913.3,1230.7 1904.8,1181.3 1892.1,1152.6 1895.6,1125 1910.7,1166 1905.7,1053.9 1910.5,938 1904.7,1246.4 1928.5,1142.8 1881.2,1198.3 1899.1,1190.7 1888.7,1158.2 1880.8,1230.6 1903,1086.1 1931.3,1162 1915.2,1188.2 1921.9,1124 1940.7,1228 1896.7,1127.9 1924.9,1189 1892.9,1219 1914.2,1263.7 1914.6,1238.1 1904.3,1128.8 1911.8,1008.7 1882,1236 1936.1,1187.4 1921.2,1183.4 1938.5,1228.3 1906,1130.8 1921.7,1161.3 1922.4,1259.3 1923.8,1163.1 1925.2,1207.5 1880.6,1196.7 1904.2,1230.3 1921.7,1176 1904.5,1126.2 1913.8,1146.4 1910.6,1186.4 1909.2,880 1916.6,1224.4 1926.4,1248 1938.8,1210.4 1936.4,1173.1 1940.6,1234.4 1914.4,1276.3 1930.6,1239.9 1913.1,1091.8 1907.2,1110.6 1918.4,1140.3 1894.6,1219.8 1909.5,1178.7 1890.7,1241 1937.2,1198.6 1907.6,1133.6 1931.5,1180.8 1903.5,1198.2 1906.3,1020 1940.3,1232.6 1887,1232.5 1886.9,1166.8 1885.6,1162.4 1909.8,1277 1910.8,1026.1 1887.5,1224.5 1903.6,1253.2 1909.8,988.4 1893,1169.9 1899.4,1265.2 1895.2,1176 1935.9,1215.2 1908.2,1188.5 1893.6,1198.9 1893.1,1231.4 1927.1,1238 1877.1,1206.9 1922.6,1259.5 1886.4,1242.6 1921.9,1192.1 1893.6,1196.9 1911.7,1121.2 1903.3,1096.7 1903.5,1151.4 1911.4,1154.9 1880.8,1210.4 1902.8,1238.8 1940.9,1216.1 1928.1,1153.8 1909,900 1916.1,1072.6 1905.6,1057.4 1936.3,1211.7 1890.4,1162.8 1894.6,1209 1908.6,975.5 1924.9,1169.6 1915.5,1170.9 1896,1146.9 1915.5,1244.5 1888.9,1207 1913.3,1196.4 1879,1234.9 1901.6,1183.6 1919.4,1238.9 1929.6,1226.3 1915.4,1233.9 1914.7,1129.6 1888.5,1250.9 1927,1227.1 1904.4,1158 1919.9,1135.9 1905.5,1212.3 1904.2,1157.9 1892.4,1237.3 1916.7,1207.9 1913.1,1170.6 1891.8,1185.2 1937,1188.4 1913.1,1015.6 1914.3,1258.5 1918.2,1211.1 1908.4,1230.9 1910.5,1159.7 1883.6,1206.7 1916.1,1201.2 1904.5,1191.8 1890.8,1205.2 1930.5,1242.9 1897.6,1233 1899.3,1139.2 1921.5,1225.1 1904.2,1146.3 1878.1,1201.4 1886.7,1179.3 1903.3,1145.3 1907.8,1254.9 1914.6,1171.9 1914,1186.2 1906.6,1159.1 1908.6,1240.5 1905.5,1266.5 1927,1220.3 1890.9,1213 1922.8,1227.5 1901.2,1268.9 1919.6,1205.4 1904.1,1257.9 1921,1182.2 1900.5,1104.5 1885.3,1202.2 1893.9,1167 1901.5,1103.6 1931.8,1201.2 1933.6,1228.4 1918.4,1086.5 1915.1,1130.3 1913.3,1226.7 1907.9,1060.2 1908.3,1140.9 1901.6,1099.3 1891.5,1184.7 1906.2,1081.2 1928.3,1249.9 1884.3,1166.5 1913.5,1228.2 1900.6,1239.2 1912.7,1102.2 1923.4,1256 1894.5,1185.3 1908.9,1101 1909.4,1257.1 1889.3,1253.1 1917.1,1078.2 1913.6,1174.6 1908.8,1185.6 1917.5,1255.7 1928.5,1217.9 1918.7,1177.9 1939.8,1219.1 1928.8,1160 1907.1,1173.6 1904.4,1119.1 1930.2,1196.2 1898.2,1240.2 1915.7,1117.3 1898.7,1153.2 1926.3,1226.4 1887.9,1183.9 1902.3,1264.9 1886.9,1236.4 1903.5,1079.2 1919.3,1232.9 1879.9,1205.4 1931.8,1244.6 1907.4,1158.1 1908.3,1237.4 1885.1,1231.9 1915.3,1077.1 1878.1,1219.7 1936.3,1195 1910.9,1169.8 1890.1,1197.2 1923.4,1138.9 1910,1100.5 1897,1140.4 1901,1196.7 1900.3,1193.2 1887.7,1154.1 1913.5,1222.2 1914.9,1109.2 1908.6,1132.7 1901.2,1099.9 1906.3,1062.8 1930.9,1220.9 1929.4,1231.3 1895.2,1175.8 1913.8,1164 1888.3,1163.4 1901.9,1199.8 1911.9,1113.5 1901.7,1243.9 1930.8,1204.9 1894.7,1141 1897.7,1240 1885.6,1240.8 1901.6,1161.2 1916,1200.4 1941,1205.6 1912.8,1027.5 1920.4,1147.8 1927.6,1150.3 1915.4,1263.1 1910.2,1077.2 1915.2,1184.3 1914.2,1170.4 1930.2,1168.7 1914.9,1219.1 1890.5,1225 1922.9,1213.2 1900.8,1260.9 1902.3,1236.7 1906,1075.1 1910.4,1180.9 1922.3,1193.7 1883.4,1203.9 1908.3,1203.7 1901.9,1215.7 1927.3,1245.7 1922.4,1181.3 1937.1,1212.9 1927.1,1202.5 1908,1036.3 1910.5,1183.3 1931.8,1204.9 1930.3,1208.6 1878.2,1216.8 1932.8,1184 1916.5,1119.5 1916.4,1246.9 1902.4,1248.2 1935,1228.9 1914,1113.3 1909.7,1153.1 1918,1150 1905.5,1096.2 1920.3,1175.2 1921.6,1250.6 1893.6,1242.2 1896.2,1203.7 1912.3,1144.3 1915.8,1234.9 1894.9,1150.6 1892.2,1177.4 1910.2,1155.4 1883.9,1238.2 1922.4,1194.7 1899.9,1165.4 1920.4,1271.4 1909.2,922.9 1924.6,1267.3 1928.2,1173.2 1909.6,1235.5 1915.9,1115.2 1893.7,1130.5 1890.7,1151.5 1898.4,1148.7 1898.3,1178.4 1902.9,1118.6 1892.3,1241.4 1898.3,1187 1899.5,1232 1923.3,1120.6 1900.6,1233.2 1938.7,1225.5 1894.8,1256.4 1902.3,1194.1 1917.4,1159.9 1918.8,1183.9 1922.3,1243 1902.9,1236.4 1939.8,1217.7 1911.9,1126.5 1910.5,1209.4 1912.4,1076.3 1908.5,1023.7 1890.4,1224 1935.5,1183.3 1909.1,952.5 1916.8,1163.6 1909.8,1122.7 1915.4,1131.3 1889.5,1210.1 1888.5,1244.8 1898.9,1107.6 1913.1,1206.1 1908.6,1164.2 1933.1,1194.6 1922.5,1231.3 1892.5,1210.8 1931.7,1181.4 1891.3,1139.8 1891.6,1192.8 1920.3,1274.7 1886.5,1232.8 1931.8,1176.7 1897.8,1168.4 1901.2,1229.5 1893.2,1211.6 1899,1135.6 1931.4,1254 1933.3,1240.8 1934.1,1174.5 1904.2,1226.1 1926.3,1223.2 1904.4,1133.3 1905.2,1236.2 1903.1,1226.7 1899.1,1105.1 1899.5,1114 1901.3,1246.7 1915.2,1204.2 1892.7,1134.8 1913.8,1213.1 1908.8,1042.6 1921.1,1232.3 1923,1189.7 1885.1,1234.2 1896.8,1201 1921,1143.1 1919.1,1195.8 1941.9,1224.4 1942.2,1222.1 1932.4,1173.1 1923.7,1171.1 1940.8,1222.8 1923.7,1242.8 1896.6,1204.6 1917.7,1274.6 1904.4,1252.7 1908.7,1145.7 1889.2,1191.3 1906.1,1249.8 1911.5,1233.9 1934,1225.3 1914.6,1056.2 1931.2,1224.5 1897.1,1143.6 1921.2,1108.2 1898.1,1200.1 1912,1141.6 1913.8,1106.9 1906.9,1106.2 1886.8,1164.9 1920.7,1261.9 1916,1200 1908.9,1145 1932.4,1195.8 1889.9,1226.4 1880.5,1186 1919.9,1116.2 1891.6,1243.4 1918.2,1181.7 1907.8,1232 1934.7,1164.5 1928.6,1188 1889.9,1153 1881.4,1238.5 1941.1,1195.3 1885.5,1192.6 1901.7,1172.2 1926.6,1193.3 1909.4,1190.1 1893.2,1159.3 1891.2,1196 1909.2,1160.4 1891.7,1149.8 1896,1204.4 1898.4,1102.4 1927,1225.4 1887.5,1212.7 1929.1,1233.7 1935,1194.9 1918.5,1213.9 1883.5,1218.5 1912,1182.5 1913.3,1204.6 1927,1142 1915.2,1053.3 1921.3,1150 1888.8,1251.3 1929,1200.8 1910.8,1215.2 1889.5,1224 1907.8,1093.7 1876.3,1222.5 1924.9,1249.2 1910.2,1223.5 1912.5,1254.7 1926.3,1156.3 1906.9,1112.1 1922.1,1132 1938.9,1229 1921.8,1124.5 1904.7,1241.7 1900.2,1215.8 1899.8,1177.8 1909.4,858.6 1912.6,1137.8 1905.7,1120 1915.4,1256.8 1921.5,1171.9 1940.2,1195.3 1893.1,1201.8 1909.7,1207.6 1939.6,1206.2 1897.8,1128.7 1900.8,1098.6 1925.5,1172.4 1892.8,1197.4 1909.5,1187.8 1878.5,1223.5"/>
<polyline class="d" points="175.7,1717.2 222.3,1758 188.9,1853.5 181.2,1802.1 185.4,1902.5 194.7,1884.1 186.9,1701.4 164,1832.1 170.2,1737.6 187,1836.3 193.2,1935.1 192.3,1936.1 199.1,1828.2 187.6,1861.7 187,1827.1 178.3,1849.2 181.3,1895 204.1,1703.2 203.5,1793.3 195,1635.9 197.6,1943.4 174.2,1773.7 182.3,1694.5 204.8,1780.8 185.3,1904 174.6,1858.1 205.9,1905.1 169.3,1794.3 174.3,1789.4 172.8,1831.3 179.8,1881.9 169,1767 207.2,1899.3 208.3,1844.6 171.6,1786.8 210.2,1868.6 186.9,1953.7 186.9,1782.8 184.1,1725.2 174.2,1734.8 197.7,1630.4 196.9,1787.4 193.5,1865.9 185,1863.8 204,1670.2 191.6,1647.9 185.3,1838.6 188,1946.9 222.2,1753.9 204.4,1704 183.8,1739.2 177.7,1877.5 210.7,1879.6 199.7,1959 189.6,1840.5 180.4,1728.9 184.5,1807.2 200.3,1808.5 220.4,1825.8 187.4,1654.9 209.3,1869.8 166.2,1823.8 221.9,1795.5 198.6,1889.6 211.7,1873.7 171.6,1747 186.4,1760.9 191.9,1673 196.5,1832.9 205.8,1708.1 174,1746.7 195.3,1706.4 168.4,1763.3 183.8,1798.9 199.7,1811.3 188.3,1754.5 199.1,1828.9 197.8,1724.6 186.1,1797.7 188.8,1643.8 178.4,1698.9 211,1793.6 180.2,1805.3 208.2,1851.9 206.8,1760.4 178.9,1750.7 184.3,1886 207.7,1743.8 187.3,1872 193.7,1649.9 165.7,1778.8 187.8,1828.6 196.6,1835.4 211.8,1693.2 181.8,1747.6 192.1,1707.5 187.3,1662.1 195.8,1872.2 169.2,1759.6 173.7,1803.7 179,1891.7 174,1769.4 213.2,1771.6 196.8,1646.2 187.2,1947.8 164.2,1763.4 184.7,1884.6 197.2,1751.9 209,1810.3 183.6,1714.2 209.7,1805.1 174.6,1806.6 172.5,1807.8 188.1,1639.7 186.8,1922.2 187.2,1830.6 192.1,1731.3 174.3,1849.9 188.3,1680.2 187.5,1924 174.7,1760.3 195.1,1704.6 195.9,1831.5 225.7,1793 187.6,1736.8 196.2,1850.9 196.8,1654.1 203.7,1669.5 185.7,1909.6 190.3,1939.9 171.5,1851.6 175.7,1753.6 199.6,1921.7 211.3,1786.6 197.4,1761.8 202.9,1895.6 205,1823.5 191.9,1743.9 217.9,1767.6 193.5,1669.1 199.5,1785.8 187,1736.4 215,1800 170.2,1829.8 211.1,1796.8 221.2,1799.7 213.1,1829.4 191,1843.6 185,1753.7 198.4,1667 207.8,1798.4 202.6,1682.5 222.7,1820.1 183.5,1764.6 205.2,1822.8 171.3,1791.4 200.8,1689.7 191.5,1912 218.8,1754.8 187.8,1842.7 216.8,1759.7 187.7,1655.7 214.9,1857.2 192.8,1822.9 198.8,1758.3 200,1699.2 197.6,1848 176.8,1789.5 172.7,1784 187.3,1948.8 162.4,1785.7 191.3,1907.7 190.2,1726.1 191.9,1764 170.1,1737.5 195.2,1718.7 206.1,1730.4 176.3,1775.4 222.9,1787.4 203.2,1859.2 191.6,1815.5 188.9,1779.6 210.7,1859.8 201,1664.4 195.8,1859 196.5,1632.7 190.7,1887.1 205.9,1720 160.7,1794 188,1923.7 174.8,1751.5 200.3,1864.9 180.1,1894.6 201,1782.1 210.8,1861.1 177.4,1811.5 174.3,1763 205.1,1709.3 215.3,1817 182.6,1731 175.9,1820.7 194.6,1760.2 181.8,1814.6 179.5,1845.1 214.5,1716.1 185.9,1696.1 165.8,1801.3 183.2,1684.2 213.7,1802.9 206.9,1696.2 210.7,1688.9 192.2,1671.4 202.9,1868.7 179.1,1748 203,1931.6 183.6,1663.2 177.2,1821.4 199.8,1719.8 195.5,1726.2 196.9,1913.5 202.1,1776.4 218,1768.7 203.6,1864.2 192.7,1644.5 176,1782.3 209.4,1817.2 199.2,1722.6 217,1825.8 197.1,1836 192.4,1864.4 204.4,1660.5 212.9,1872.9 215.3,1852.9 199.8,1692 194.4,1809.6 169.7,1802.8 213.5,1745.8 198.6,1913 199,1910.8 195.9,1883.4 223.3,1783.4 174.9,1746.3 184.1,1804.5 223.7,1781.4 192.4,1930.6 202.3,1685.6 208.9,1730.4 195.4,1658.5 204.9,1783.5 178.7,1855.2 202.7,1799.4 206.8,1800.4 174.9,1734.1 199.4,1874.5 212,1717.9 198.9,1955.4 199.9,1920.3 194.1,1839 199.2,1814.4 171.6,1738.6 182.9,1751 198.8,1722.9 219.6,1812.1 213.8,1717 179.8,1838.3 184.2,1792 202.5,1703.5 188.6,1690.7 186.1,1834.3 207.5,1741.9 182.5,1802.4 181.9,1778.5 185.1,1657.2 225,1770.9 199.3,1638 197.4,1917.3 213.8,1765.4 181.4,1694 173.6,1758.4 172.3,1773.4 193.2,1676.9 194.1,1919.3 207.6,1888.8 196.7,1625.8 204.3,1777.7 209.5,1769 181.7,1673.7 190.3,1741.5 196.5,1690.1 189.1,1821.7 186.2,1647.4 202.4,1902.1 198.3,1824.5 204.2,1706.8 217.2,1785.2 207.1,1839.6 217.7,1819 200.3,1724.8 214.4,1808.7 204.5,1780.3 206.6,1713.9 218.5,1788.6 211.4,1745.4 168.7,1784.2 201.6,1667.8 170,1801.9 200.7,1853.8 213.2,1772.8 196.3,1791.3 208.2,1788.1 198.3,1881.5 181.2,1852.5 182.8,1893.2 222.4,1805.4 184.3,1925.1 179,1716.4 189.8,1724 189.2,1712.6 191.8,1839.7 198.8,1880.5 200.6,1681.5 179.6,1715.6 210,1878.8 210.8,1751.4 192.5,1684.4 191.1,1821.1 188.8,1882.5 206.9,1812.9 202.4,1888.4 207.3,1865.4 175.3,1744.6 206.2,1855.9 221.4,1750.1 213,1722.3 208.7,1880.7 194.7,1742.5 199.4,1806.3 198.3,1725.8 194.4,1622.5 188.2,1869.6 186.6,1815 195,1963.9 204.7,1915.1 169.8,1854.5 183.2,1663.5 210.9,1815.6 178.7,1871.5 203.3,1659.5 178.4,1799 173.4,1834.3 181.5,1897 188.4,1795.3 178.3,1795.9 184.6,1840.8 187.4,1744.2 185.4,1736 199.2,1735.4 185.5,1651.6 206.6,1819.8 173.6,1846.6 212,1855.4 169.8,1834.7 220.1,1813.9 205.7,1695.6 196.9,1784.4 200.2,1867.5 192.1,1901.2 200.1,1830.9 212.4,1818.8 223.3,1817.9 212.7,1844 220.2,1796.9 173.5,1806.9 204.1,1729.8 205.5,1756.8 196.7,1941.9 175.2,1858 186.5,1712 200.4,1919.6 207.8,1809 195.2,1882.8 198.5,1797.4 219.2,1813.2 196.9,1891.5 167.6,1792.6 172.6,1847.3 206.6,1868 211.1,1813.1 214.3,1764.6 176.7,1732.6 207.9,1824.1 194.2,1766.2 214.5,1845.9 200,1698.2 206.9,1717.9 214.6,1838.8 173.6,1787 176.5,1710.2 200.6,1833.3 219.4,1837.4 192.5,1803.7 226.5,1796.2 210.2,1826.5 192.9,1708.4 199.3,1900.2 183.8,1767.7 198,1683 181.1,1729.2 187,1688 191.8,1950.5 172,1829.2 188.6,1889.8 200,1827.5 187.8,1686.8 205.3,1843.2 191.7,1915.9 221.3,1755.8 201.7,1727.8 202.2,1898.4 221.8,1768.4 189.2,1675.1 192.3,1626.2 192.1,1637 194.4,1774.8 194.6,1752.2 193.4,1687.2 175.4,1799.1 213.1,1747.9 202.9,1875.4 212.6,1738.4 195,1697.1 181.9,1710.7 170.3,1809.2 196.4,1753.2 221.2,1770.9 182.7,1702.4 182.3,1887.4 199.1,1937.9 174.8,1733.8 195,1680.6 199.1,1934.3 196.2,1958.5 195.7,1640.3 161.3,1801 217.1,1735.2 200.6,1892.5 201.6,1685.8 206.1,1745.1 223.2,1811 194.2,1962.2 185.7,1812.1 199.4,1946 175.1,1731.8 174.5,1719.2 208.5,1756.9 207.9,1749.8 172.9,1814.1 205.9,1906.5 170.5,1791.6 185.6,1740.4 191.3,1899.9 193.5,1932.5 177.7,1857.6 214.4,1817.6 212.2,1757.5 179.4,1691.3 198.9,1628.6 190.3,1808 208.6,1755.3 212.5,1870.7 193.3,1715.1 213,1789.9 197.8,1623.7 195.3,1927.8 200.3,1863.3 205,1678.3 202.6,1762.3 214,1820.7 175.8,1767.1 220.1,1811.7 181.5,1749.8 192.4,1694.7 195.8,1847.9 171.2,1762.6 184.6,1710 194.5,1972.5 186.6,1772.3 193.7,1968.6 215.2,1790.7 198.3,1780.2 212.9,1775.9 178.2,1805.6 218.4,1832.5 212.3,1720.5 200.5,1642.1 218.4,1771.4 207.7,1786.2 220.3,1837 177.2,1736.9 199.4,1927.1 177.7,1788.1 202.4,1928.8 185.2,1809.7 202.1,1825.1 204.2,1661.4 211,1861.3 184.1,1679.4 223.7,1822.6 219.7,1801.8 197.8,1649.2 199.4,1643.3 180.1,1733.2 206.3,1728.2 189.7,1666 164.9,1775.7 189.6,1930.2 193.4,1957.1 200.3,1836.6 178.7,1866.4 212.9,1721.1 224.4,1781.1 186.8,1911.5 208.3,1833.9 200.7,1778.2 171.3,1816.7 218.5,1807.2 197.8,1842.2 185.5,1940.9 191.7,1740 199.9,1820.2 192.2,1697.8 198.9,1634.8 195.2,1896.6 204.1,1845.8 178.9,1748.9 187.1,1810.8 198.1,1851.7 193.2,1893.6 208.3,1856.2 181.2,1794.6 220.5,1761.1 194.4,1652.7 197.6,1938.5 200.4,1848.6 210,1821.9 194,1700.5 195.2,1739.6 208.4,1705.4 185.1,1830.1 183.2,1752.9 194.3,1742.7 210.7,1765.4 191.4,1688.3 175.1,1846.2 187.9,1862.2 178.3,1768.3 215.9,1794.9 191,1877.1 171.9,1777.7 195,1833.5 171.1,1755.8 203.6,1818.6 195.2,1860.4 197.7,1774.8 190.2,1785.1 166.8,1835.4 181.3,1711.3 189.2,1742.3 193.4,1757.2 213.2,1819.3 179.3,1842.4 176.4,1740.7 185.5,1762.4 172.8,1748.2 185.7,1804.3 211.4,1782.1 190.7,1944.1 193,1705.5 191.2,1918.4 187,1674.3 164.5,1770.6 164.1,1794.8 186.9,1708.9 216.5,1831.9 212.4,1817.6 215.7,1816.4 185.2,1788.8 213.5,1791 193.7,1683.7 217.5,1727.7 196.4,1631.5 177.4,1701.7 215.9,1770.1 220.4,1824.4 211.5,1792.7 214.6,1866.9 179.1,1723.6 193.9,1953 201.3,1652.5 215.6,1860.3 183.6,1897.5 186.6,1862.9 172.8,1758.6 203.6,1904.5 212,1712.8 211.1,1849.3 198.9,1756.2 187.2,1743.6 194.7,1739 200.3,1672.1 185.5,1925.7 200.2,1789.3 178.9,1850.5 205.5,1856.7 181.1,1732.3 204.2,1875.9 184.6,1766.1 176.2,1773.1 169.2,1847.3 206.6,1886.5 190.7,1890.6 186.7,1874.6 202.6,1809.9 195.2,1713.3 199.3,1873.2 206.7,1877.9 225.9,1800.1 165.9,1773.2 164.9,1764.6 204,1907.8 207,1776.8 182.7,1850.7 181.8,1816.4 186.4,1936.6 163.8,1827.7 196.9,1679 201.8,1668.5 207.6,1805.7 187.7,1951.4 212.3,1826.2 197.2,1748.7 220.5,1779.8 196.5,1967 199.4,1701.7 209.2,1700.1 192.9,1781.6 191,1769.8 219.5,1774.2 185.8,1879 209.9,1870.2 178.8,1841.2 209.9,1732.9 221.6,1778.9 174.1,1726.9 207.4,1692.5 191.8,1841.8 209.2,1721.6 194.4,1826.8 196.8,1840.2 184.3,1905.7 189.2,1675.8 193.6,1772.3 185.2,1656.3 203.2,1814.9 210.5,1854.9 188,1777.1 182.4,1876.5 224.4,1797.9 171.8,1837.8 205.5,1909.1 162.8,1775.2 194.6,1777.3 194.8,1677.3 174.5,1766.8 183.4,1797.2 198.4,1825.1 189.2,1885.6 189.7,1803.3 203.1,1915.3 214.5,1790.3 212.3,1844.6 161.7,1783.1"/>
<polyline class="d" points="381.4,1674.3 411,1770.8 397.6,1761.7 361.4,1668.4 370.2,1697.7 387.1,1729.5 357.8,1703.9 356.6,1792.7 380.4,1607.6 412.6,1755.3 389.4,1774.9 385.5,1626.9 379.8,1806 377.6,1750.2 399,1648.4 366.4,1825.5 384.4,1638.1 382.1,1744.5 378.3,1680.8 381.3,1594.1 378.2,1639.5 387.2,1878.7 403.2,1773.7 405.6,1802.8 364.1,1825.9 396.1,1812.6 359.4,1735.5 366.9,1846.4 366.2,1753.7 408,1776.3 389.9,1806.4 369.7,1851 400,1744.2 376.9,1756.4 354.9,1778.8 364.9,1704.7 370.4,1863.3 404.2,1709.1 391.4,1698.9 389.4,1773.9 397.5,1700.2 361.4,1805.8 364.6,1785.9 364.5,1651 361.4,1823.8 377.8,1635.8 352.5,1775.4 390,1673.6 394.1,1669.1 362.9,1688.4 370,1764.5 378.8,1887.8 372,1773.5 379,1712.7 358.9,1769.7 392.5,1738.5 388.2,1807.5 349.2,1749.7 357.6,1697.2 399.4,1693.2 392.4,1733.7 354.1,1795.6 375.6,1765.2 395.3,1772 376.6,1842.3 394.9,1801.6 364.4,1769 388.8,1630.1 378.3,1862.2 382.7,1606.6 380.4,1642.1 371.5,1773.6 365.5,1803.1 362.7,1817.9 356.4,1708.2 348.2,1734.4 374.7,1720.7 372.1,1817.5 396.9,1645.7 386.4,1743.5 348.4,1750.2 388.8,1631.4 364.1,1740.3 374.5,1701.2 357.5,1741 384.9,1690.3 371.1,1857.5 378.2,1734.9 396.3,1686.2 377,1612.3 379.3,1899.2 412.7,1738.4 391.5,1858.8 401.7,1720.4 383.2,1709.1 360.4,1782 363.9,1805 408.2,1692.3 354.6,1740.6 395.6,1710.5 376.4,1677.5 364.9,1855.6 374,1696.5 396.9,1828.9 405.6,1686.6 372,1873.7 385.3,1829.4 397.6,1657 380.1,1615 400.7,1663.2 402.4,1731.4 355.6,1793.5 378.9,1646.6 377.5,1627.3 350.7,1707.8 355.3,1702.2 367.6,1654.1 359.5,1796 385.5,1711.6 376.5,1688.8 391.5,1622.3 370.8,1658.3 393.8,1633.1 363.4,1721.3 366.4,1694.8 370.9,1711.7 382.5,1801.6 365.1,1666.6 399.7,1793.4 353,1694.6 355.4,1736.4 361.7,1758.6 387.8,1739.2 366.5,1819 376.2,1745.3 379.4,1885.4 379.1,1770.3 354.9,1768 405.9,1756.4 373.6,1780 357.6,1722.5 381.8,1765.5 345.4,1754.1 396.1,1831.7 376.2,1826.4 374.9,1727.8 388.4,1759 368,1703.4 378.3,1632.6 360.7,1757.6 359.2,1809.1 404.5,1727.9 393.2,1791.9 391,1675.7 373.9,1786.3 401.1,1683.1 410.2,1774.7 366.3,1795.7 347.1,1728.9 401.3,1711.4 405.1,1732.3 398.6,1799.5 363.9,1639.3 357.8,1676.5 363.8,1751.5 363.3,1725.2 359.9,1832.9 363.9,1802.1 384.5,1724.4 375.4,1638.8 378.1,1679.6 369.5,1635.5 391.4,1661.4 357.6,1809.8 392.8,1678.4 361.9,1783.2 373.7,1691 369.6,1730.6 387.7,1633.3 384.7,1761.8 393.5,1757.2 377.4,1648.2 387.5,1634.4 377.2,1822.8 379.8,1717.6 376.9,1655.2 390.3,1649 381,1646.8 355.6,1680.6 393.2,1768.2 393.1,1692.2 400.9,1807.4 388.3,1773 357.3,1789.5 372.3,1753 389.3,1643.4 382.5,1608.3 389.3,1661.6 383.3,1700 356.7,1738 386,1701.7 384,1747.4 375.8,1760.1 370.8,1625.3 364.9,1780.2 398.5,1682.1 378.6,1717.4 397.7,1682.3 373.2,1855.2 387.8,1677 377.5,1731.3 369.7,1743.2 390.7,1691.5 376,1683.9 386.7,1755.9 398.4,1647.5 387.2,1851.6 405.2,1776 377.7,1791.3 380.2,1874.1 391.2,1665 381.4,1833.9 366.7,1816.8 389.3,1781.5 364.6,1848.8 361,1666 386.9,1869.3 346.6,1747.7 368.1,1676.9 361.9,1657.5 408.6,1754.8 375.9,1840.3 388.7,1619.9 382.9,1597.3 385.5,1628.6 392.3,1846.1 358.2,1714.3 385.1,1614.3 365.5,1745.5 380.4,1733.6 393.2,1736 381.3,1859.2 346.4,1755.3 385.9,1600.1 381.1,1881.8 391.9,1693.9 378,1726.9 361.4,1767.5 382.6,1677.9 397,1836.1 383.7,1763.6 370.1,1626.4 373.4,1704.4 380.8,1837.4 405.5,1794.2 368.7,1673.2 384.5,1838.1 353,1723.3 382.8,1758 367.3,1658.6 372.7,1803.4 365.7,1678.3 367.1,1642.5 383.3,1633.9 361.9,1826.9 373.8,1738.9 369.3,1618.5 379.8,1705 370,1776.8 383.9,1865.3 396.3,1835.1 392.5,1628.7 384.4,1782.8 407.1,1726.1 385.5,1763.1 398.3,1739.5 349.5,1704.3 412,1747 409.1,1710 374.3,1654.9 371.2,1710.8 397.4,1671.8 377.6,1724.7 398.1,1644.3 382.5,1802.7 367,1778.1 397.2,1695 395.8,1662.4 409.2,1712.7 403.6,1779.1 378.2,1695.7 386.9,1796.4 379.4,1776.5 371.2,1790.6 386.3,1640.9 375.7,1830.4 391.5,1760.7 407.4,1747.3 349.6,1753.8 365.7,1642.3 402.6,1796.8 387.2,1663 397.3,1664.5 385.9,1858.2 380,1870.3 383.8,1719.2 384.1,1687.8 363.2,1749 359.8,1792.4 379.3,1591 402.8,1750.6 373.3,1751.3 370.4,1830.3 354.4,1810.4 368.6,1768.5 346.2,1750 406.6,1713 373.7,1847.3 396.3,1706 409.2,1737.7 397.9,1701.9 403.4,1703.5 374.6,1800.6 370.9,1804 390.2,1752.5 395.3,1786.9 394.2,1705.5 373.1,1862.8 358.6,1755 354.4,1796.9 397.2,1670.8 377,1709.8 395.3,1795.2 396.8,1652.6 372.7,1737.8 367.3,1719.1 392.3,1775.2 349.2,1752 371.3,1866.8 386.8,1775.8 371.5,1667.2 347.6,1777.3 367,1849.3 384.5,1603.3 377.8,1791.8 397.1,1684 360,1715.3 369.8,1806.2 413.6,1746.2 355.7,1753.4 352.9,1684.8 377.7,1805.4 399.8,1800.2 349.9,1764.7 378.8,1700.1 384.4,1881.4 356.3,1815.3 407.1,1777.1 390,1712.5 373.5,1659 389.6,1817.1 386.7,1856.4 409.9,1730.5 385.7,1826.5 381.4,1879.9 364.4,1762.2 390.9,1766.1 350,1763.8 395.7,1779.6 380.9,1774.1 385.3,1671.2 396.7,1824.4 358.9,1769.3 362.9,1679 412.7,1759.8 372.3,1619.3 351.7,1808.3 384.3,1736.9 365.4,1715.4 370.2,1784.3 364.2,1741.3 370,1616 376.9,1761.2 389.3,1692.9 372,1835.5 379.7,1827.9 369.6,1815.7 389.1,1740.3 395.8,1681.1 354.8,1716 407.6,1706.7 382.4,1801.2 362.4,1734.1 369.6,1708.5 388.2,1649.9 374.4,1791.1 385.3,1778.6 358.4,1719.8 389.9,1616.9 355.2,1729.7 389.5,1685.3 397.5,1705.3 382.4,1872.6 394.2,1656.8 376.6,1729.2 367.6,1698.3 377.7,1816 372.6,1771.6 393,1719.5 398.2,1828.6 361.1,1713.7 407.4,1716.4 357.2,1744.4 378,1866.6 382.8,1836.8 387.5,1794.6 353.5,1728.2 382.9,1868.6 382.6,1805.5 373.3,1841.2 363.6,1717.5 375.9,1601.2 374.4,1766.5 378.8,1900 379.2,1819.3 398,1833.5 383,1883.8 383.9,1677.3 376.8,1698.1 384.1,1891.8 365.9,1664.7 361,1807.2 369.4,1746.5 381.6,1889.9 400.2,1767.2 388.2,1769.9 403.4,1727.9 366.8,1816.5 400.7,1752.2 359.6,1831.4 381.3,1876.1 381.1,1767.9 373.6,1624.5 388.4,1696.7 401.4,1732 386.8,1861.7 367.1,1681.6 375.6,1660.5 387.5,1797.4 395.5,1672.5 364.9,1789.2 350.8,1781.4 369.1,1793.8 412.1,1743.8 393.8,1818.8 352.9,1780.4 385.5,1835.7 397.5,1707.9 373.4,1831 366.9,1741.6 369.5,1848.9 387.6,1742.2 379.4,1590.5 379.8,1653 355.9,1737.2 407.9,1709.6 379.3,1605.7 359.3,1766.7 366.8,1731.6 386.9,1853.8 353.6,1780.4 376.4,1798.6 390.8,1715.8 389.7,1652.1 395.7,1808.8 345.8,1744.9 359.5,1678.7 390.1,1726.4 388.8,1746.8 376.3,1713.3 387.2,1846.3 373.1,1829.5 359.1,1686.9 400.3,1755.6 368,1718.4 405.9,1723 373.8,1724.3 360.5,1749.2 347.5,1739.8 362.3,1765.3 354.1,1779.3 380.8,1871.9 365.7,1813.2 401.9,1713.9 374.5,1771.3 372.3,1814 387,1636.2 379.1,1879.4 346,1781 381,1645.2 387.3,1696.3 387,1617.4 371,1716.9 360.8,1669.7 369.6,1714.8 371.2,1876.5 368.5,1695.6 360.3,1760 352.3,1783.9 353.1,1725.6 362.3,1663.6 350.9,1751.1 370.4,1844 380.2,1839.8 378.4,1716.7 377.4,1864.6 380.9,1685.7 393.8,1733.9 379,1842.4 403,1791.4 378.2,1610.3 354,1735.1 359.3,1806.7 359.3,1738.9 384.7,1784.6 384.9,1799.4 391.8,1787 383.8,1740.8 358.1,1729.9 363,1819.7 362.9,1811.8 401.2,1669.4 383.1,1804 375.9,1599.4 395.6,1823.5 351.4,1719.8 398.7,1686.6 357.5,1674.8 385.5,1644.8 367.5,1784.9 379.7,1856 376.2,1634.5 348.6,1777.7 386.6,1657.7 378.9,1741.1 364.8,1672.9 406.1,1762.7 360.4,1689 349.4,1702.5 366.9,1737.5 408,1691.5 396.9,1689.5 392,1735.9 399.3,1742.2 384.4,1886.5 376,1853.4 386.9,1795 349.3,1762.1 368.9,1782.9 378.9,1811 370.7,1762.6 398.9,1664 391.6,1637.3 346.7,1763.9 392.2,1788.3 384.3,1604.2 365.7,1647.9 362,1683.4 371.1,1762.7 365.9,1819.4 358.9,1721 358.3,1720 358.2,1812 390.8,1836.2 370.1,1621.2 378.1,1840.9 357,1742.8 377.7,1686.7 390.7,1844.4 353.5,1748.8 373.7,1785.3 396.3,1713.5 408.8,1766.6 356.3,1761.1 357.7,1720.8 354.3,1685.5 374.9,1625.6 350.1,1778.6 357,1718.1 384.2,1788.5 354.6,1703 382.8,1782.4 391.3,1790.4 349.2,1748.8 381.7,1684.5 352.9,1789.7 352.3,1699 388.5,1722.7 374.1,1647.1 366.6,1800.7 403.6,1739.7 374.1,1741.7 354.5,1764.1 394.2,1708.4 361.5,1758.8 408.5,1700.5 372.8,1765.7 362.8,1771.8 395,1670.2 370.4,1841.8 402.8,1675.5 402.1,1725.4 394.1,1705.7 396.2,1689.3 364.5,1821 358,1797.9 385.9,1718.4 360.9,1822.6 370.3,1753 400.3,1810.1 392.8,1776.5 404.5,1689.8 400.5,1758.2 362.4,1801.9 400.5,1727.3 399.2,1786.4 385,1630.8 348.7,1767.8 387.5,1772.8 402.7,1808.6 370.5,1684.4 376.9,1894.1 364.9,1789 404.1,1749.4 350.9,1798.5 351.3,1745.8 399.1,1760.3 394.8,1641.5 350.7,1757.8 377.8,1675.9 406.3,1753.3 350,1721.9 392.2,1804.7 359.3,1702.6 348.8,1774.2 374.8,1845.6 382.9,1666.6 374.2,1723.9 376.7,1629.6 391.6,1632 362.3,1672.1 391.2,1623.7 354.7,1692.7 378.5,1732.7 375.8,1693.6 395.1,1799.2 358.2,1662.8 387.8,1780.7 346.5,1729.7 396.1,1758.7 362,1814.9 410.5,1789.3 371.7,1837.6 398.3,1759.2 361.1,1690.5 385.2,1851.9 381.1,1723.8 367.4,1714.1 349.1,1737.4 375.7,1847.6 379,1596 397.4,1752.3 346.9,1744 377.2,1771.1 373.4,1825.1 381.3,1655.6 379.7,1655.7 348.1,1781.4 377.2,1593.3 407.2,1723.4 356.5,1670.3 394.1,1793.1 380.8,1884.7 375.5,1662.1 361.4,1832.7 402.3,1672.4 384.4,1650.2 345.8,1768.9 402.2,1814.3 406,1802.2 393.9,1656.3 379.9,1865.5 357.3,1785.3 402.5,1730.3 404.3,1709.2 393.6,1813.3 393.8,1666.1 372.7,1667.6 391.2,1790.6 392.6,1844.7 372.3,1645.8 401.4,1706.3 373.3,1611.1 389.5,1852.4 393.1,1638.2 360.9,1819.9 376.5,1734.8 355.3,1725 367.9,1621.1 359.6,1820.6 404.1,1681.2 392.6,1637.8 371.3,1853 378.8,1883 376.1,1602.3 375.8,1748.6 368.4,1824.1 393,1728.5 389,1721.8 377.7,1895.9 382.7,1800.8 376.3,1860.2 368.6,1690.9 377.4,1820.7 389.3,1815 376.8,1745.6 359,1679.2 369.6,1751.2 374.4,1650.6 386.6,1783.4 359.1,1683.2 399.6,1752 357,1727.5 408.4,1790 384.4,1768.6 387.4,1812.1 378.9,1812.7 390.5,1827.3 370.4,1650.7 356,1692.4 395.6,1665.9 374.2,1688.2 378.5,1623 386.2,1691.6 386.1,1822.9 377.8,1860.7 379.1,1822 369.7,1667.6 375.5,1630.8 407,1777.6 348,1724.1 374.1,1838.7 381.5,1651.5 387.5,1609.3 402.2,1690.2 368.5,1824.2 399.5,1735.2 358.5,1748.2 359.5,1705.7 374.7,1644.1 388.1,1834.6 377.9,1714.8 352.3,1707.3 364.6,1850.1 386.1,1612.9 377.5,1717.8 385.3,1654.2 360.1,1782 356.8,1669.2 405.6,1778.2 388.3,1810.7 378.2,1802.9 400.8,1736.8 390.1,1640.4 389.4,1857.1 374.1,1782.2 390.6,1716.3 358.7,1756.7 399.5,1808 401,1796.3 393.2,1807.8 390.9,1726.8 372.7,1699.3 378.4,1787.5 362.9,1660 380.7,1869.8 369.3,1623 388.4,1721.2 378.6,1611.9 367.8,1697.5 367.8,1732.5 357,1825.3 364.1,1813.6 344.7,1756.9 381,1744.7 362.4,1698.7 380.4,1748.1 380.4,1798.8 366.3,1733 391.5,1735.7 370.6,1798.1 384,1746.2 376.8,1668.3 399.6,1787.4 379.4,1833.7 405.4,1761.4 397.9,1772.2 366.1,1706.9 380.8,1671 369.9,1682.5 375.6,1875.1 380.9,1728.9 385.8,1628 375.7,1814.6 381.6,1679.5 374.7,1867.8 384.9,1828.6 381.1,1674.8 379,1685 361.6,1785.7 394.8,1679.9 404.9,1794.5 358.7,1696.9 361.1,1765.6 401.5,1763.2 396.9,1787.8 390.7,1694.4 373.1,1688.1 373.9,1850.5 346.9,1769.6 396.4,1710.3 397.4,1770.4 382.5,1827.9 346.3,1750.5 360.4,1783.9 388.9,1660.5 376.1,1854.8 378.3,1838.4 371.5,1643.2 400.3,1659.6 363.2,1652.2 346.2,1741.9 393.9,1747.6 373.4,1706.6 364.4,1783.7 387,1804.6 372,1711.6 373,1818.1 380.2,1597.9 378.6,1892.8 375.4,1742.7 380.5,1848 407.7,1788.7 392.1,1840.5 401.1,1733.2 370.9,1700.5 386.3,1687.5 377.7,1794.8 388.3,1615.2 358.5,1757.2 369.2,1640 406.3,1772.3 398.4,1811.5 390.4,1754.7 382.2,1636.4 352.6,1727 381.2,1843 386,1696 395.6,1788 402.8,1722.2 363.3,1830.9 376,1877.3 365.3,1733.2 400.3,1786.8 374.4,1665.2 378,1839.3 410.8,1779.4 379.3,1605 379.4,1711 379.3,1791.5 379.9,1764.8 386.1,1863.9 382.8,1715.6 358.4,1725.8 373.8,1843.5 391.9,1759.3 390.2,1661.1 376.6,1818.2 366.9,1809.9 356.1,1701.3 381,1619 379.1,1656.8 381.5,1653.4 370.9,1718.7 378.7,1659.8 389.9,1859.8 385.7,1703.4 386.8,1721.9 386.4,1693.6 363.7,1799.7 393.9,1743 395.3,1675.2 405.7,1809.2 363.2,1785.6 406.8,1774.5 382.7,1707.5 400.4,1797.3 412.2,1731.1 385.2,1792.2 383.5,1755.7 373.9,1871.2 363.1,1673.7 399.5,1797.1 388.3,1773 368.9,1695.5 369.5,1754.4 384.5,1770.6 375.3,1888.5 387.7,1766.9 359.2,1832.6 393.7,1649.2 396.7,1682.1 362.9,1816.2 364.5,1732.1 399.2,1674.1 392.6,1712.1 406,1760.5 364.5,1653.9 388.9,1700.9 373.2,1821.6 383.1,1821.8 405,1699.7"/>
<polyline class="d" points="704.4,1951.6 698.3,1980.8 708.1,1846 692,1951 704.8,1830.1 704.4,1707 712.1,1983.4 671.8,1920.2 696.9,1799.7 706,1820 711.3,1893.6 694.5,1854.9 700.8,1888.1 712.3,1911.8 674.9,1932.2 692,1897.8 704.4,1769.9 734.8,1921.9 682.1,1888.3 704.9,1859.2 733.9,1958.9 714.4,1833.7 681.1,1964 724.2,1930.8 705.6,1981.8 723.2,1912 728.5,1970.1 701.3,1711.4 702,1953.8 710.3,1926.8 736.1,1937.4 686.6,1881.1 714.1,1938.8 691.7,1914 703.9,1726.2 681.4,1902.2 689.2,1956.8 723.2,1884 699.6,1753.8 717,1851.4 708.6,1957.2 692.6,1958.7 701.8,1734.1 694.8,1898.9 698.1,1926.4 675.9,1956.1 691.4,1844.9 721.5,1892 680.3,1920.1 704.8,1622.5 686.3,1951.2 686.3,1957 681.4,1903.6 702,1960.4 719.3,1952.7 699.9,1792.8 718,1936 699.3,1957.5 734.9,1947.4 700.6,1967.1 697.2,1863.2 714.9,1956.5 695,1929.9 725.7,1979.3 694.3,1927.7 697.9,1944.3 707.2,1833.8 711.9,1853.6 713.5,1847.9 721.5,1890 681.8,1966.6 705.7,1872.2 708.8,1963.5 703.7,1699.8 684.8,1977.1 686.7,1905.3 700.1,1764.7 709.7,1865.8 710.7,1969.7 711.3,1950.8 702.2,1976.2 694.3,1905.1 689.1,1916.2 708.7,1987.2 728.9,1916.4 700.3,1762.9 698.4,1925.5 693.7,1934.3 682.3,1946.4 691.6,1892.6 691.1,1857.3 730.2,1939.3 677.2,1905.6 679.6,1967.8 680.5,1922.4 686.3,1928.2 697,1989.7 712.9,1947.1 694.2,1903.5 702.1,1816.9 721.3,1930.5 726.2,1934.8 700,1924.3 674.3,1943.5 697.7,1985.4 729.7,1973.9 711.3,1789.7 721.2,1874.5 685.5,1924.9 700.9,1835.1 690.7,1949.6 716.8,1876 718.8,1883.8 720.6,1971.2 706.9,1847.1 699,1929.7 674.2,1921.4 700.5,1955.1 714.8,1928.5 713,1993.1 699.5,1986.6 703.7,1766.4 717.2,1954.9 711.6,1963.8 686.4,1918.6 713.5,1914.6 686.9,1948.8 716.1,1881.4 687.8,1977.5 680.9,1972.5 711.1,1787.5 703.3,1670.3 695.7,1979.8 709.7,1749.3 700.8,1818.3 703,1975.8 723.2,1918.3 695.6,1939.7 732.1,1911.1 693.8,1913.6 686.3,1937.4 700.3,1886.1 691.8,1907.1 730.6,1908 709.4,1760.9 712.6,1821.8 700,1938.4 692.7,1923.8 700.4,1848.2 712.9,1855.8 715.9,1913.3 702.3,1933.6 672.5,1941 704,1752.9 675.3,1934.7 702.3,1915.8 713.4,1868 703.8,1946.5 696.3,1933.8 703.2,1826.6 704.3,1867.2 724.3,1906.1 684,1978.1 723.7,1985.5 683.2,1968.2 682.2,1961.1 695,1982.2 689.8,1976.7 725.8,1912 704.5,1900.3 691.9,1908.6 678.2,1952.6 713.2,1906 711.3,1847.8 702.2,1995.5 707.7,1799.6 700.1,1966.1 708.4,1954.1 683,1973.7 684.7,1936.1 698.9,1920.9 707.7,1916.5 705.4,1917.2 685.8,1964.7 705.9,1923.3 720,1906.4 696.1,1914.8 724.9,1945.7 731.8,1935.7 688,1982.5 706.7,1728.1 705.5,1782.9 718.5,1863.7 713,1891.7 696.9,1963.2 710.8,1880.8 703,1949.8 716.2,1896.2 713.2,1988.4 684.8,1891.6 701.5,1986 718.7,1965.5 689.9,1941.1 706.6,1988 698.6,1890.8 723.6,1943.5 695.6,1882.6 683.2,1978.9 703,1637.6 711.8,1791.2 723.8,1898 691.1,1885.3 696.4,1991.3 678.5,1959.4 697,1793.8 732.8,1916.1 706.6,1929.2 734.3,1945.4 711.8,1809.7 673,1955.8 679.3,1910.7 710.7,1857 719.2,1936.5 691.1,1920.6 684.6,1955.2 704.7,1796.9 685.7,1877.6 704.2,1958.3 703.4,1825.6 698.6,1801.3 674,1920.5 713.5,1954.5 715.7,1871.8 726.2,1953.1 700.4,1996.7 712.2,1993.5 711,1928.1 711.1,1990.5 707.5,1979.2 695.2,1845.8 718.8,1925.8 694.4,1858.1 670.5,1942.9 713.3,1904.2 727.5,1902.4 731.1,1964.1 702,1738.4 701.9,1797.1 731.5,1964.1 720.5,1864.2 704.5,1840.9 722.2,1902.7 698.4,1980.1 706,1874.1 686.4,1968.5 699.3,1852.9 703.6,1756.8 688.1,1980.3 694.3,1807.9 718,1913.1 701.4,1768.7 719.3,1950.1 729,1971.3 705.1,1808.8 714.7,1981.3 696.5,1894.7 701.4,1999 699.8,1785 672.6,1914.5 709.4,1874.9 711.4,1827.3 672.4,1917.7 674.2,1908.4 712.6,1917.1 685.6,1960 706.2,1850.5 690,1962 714.6,1929 690,1922.9 713.2,1861.3 703.8,2004 696,1992 715.2,1947.2 710.2,1831.8 706.7,1721.8 675,1921.5 679.6,1934.5 726.5,1931.7 700.7,1960.7 689,1949.4 716.7,1860.5 703.8,1755.5 733.7,1931.1 705.3,1844.3 708.6,1837.9 706.4,1805.5 710.8,1911.6 707.9,1974.3 704.7,1958.3 714.9,1948.4 684.1,1885.1 705.1,1842.6 704.1,1881.7 677.5,1940.2 710.1,1862.6 692.5,1860 681.3,1954 703.1,1887.5 674.4,1945.1 705.1,1973.3 697.7,1901.6 678.2,1926.3 712.9,1896.6 701.9,1781.9 732.7,1932.1 698.5,1822.5 686.3,1917.5 693.2,1984.6 697.4,1997.9 693.1,1901.9 713.5,1943.1 689.3,1946.8 715.5,1942.4 683.4,1982 711.3,1781.3 712.3,1869.6 683.3,1934 708.2,1919.3 703.7,1750.6 713.3,1915.1 707,1962 686.7,1878.7 713.9,1804 708.6,1908.4 706.8,1901.7 681.3,1928.7 700.9,1910.3 711.1,1912.3 676.5,1939.9 708.4,1926.7 705.4,1731.3 700.8,1918 709.6,1903.6 731.9,1961.2 712.9,1822.3 702.2,1969 707.3,2002.7 698.3,1971.5 715.7,1889.1 679.4,1909.6 732.2,1913 693.2,1828.7 725,1892.7 715,1896 704.2,1937.8 714.2,1797.9 691.3,1875.5 708.1,1759.1 700.9,1832.6 707.6,1812.7 707.5,1902.9 693.9,1900 673.7,1955.5 704.7,1720.6 709.1,1895.2 710,1814.1 718.3,1897.1 685.9,1886.4 670.6,1931.6 700.9,1950.2 732.3,1940.4 702.3,1876.5 704.5,1673.6 721.4,1868.3 699.1,1871.7 698.6,1795.9 729.8,1944.8 697,1953.4 727.8,1962.9 708.8,1876.8 732.3,1943.2 719.3,1911.8 698.1,2000.8 710.6,1935.1 702.8,1889.7 718.7,1940.8 706.2,1892.6 701.6,1853.2 692.7,1869.3 687.9,1962.5 727.7,1900.9 722.4,1925.2 711.4,1807.6 677.4,1898.8 705.2,1879.9 692.9,1870 718.6,1854.7 730.1,1922.4 706.4,1882.9 683.8,1942.4 704.6,1610.1 712,1996.8 702.9,1952.9 700.3,1784.1 696.7,1849.8 702,1983.9 690.2,1895.1 716,1975.2 698,1903.2 686.5,1882.8 677.8,1941.5 710.9,1950.4 687.5,1921.3 704.7,1926.1 703.4,1978.2 709.9,1924.1 694.3,1970.8 729.5,1904.4 713.3,1972.9 688.1,1932.6 672.6,1912.7 700.1,1900.8 687.8,1966.2 729.6,1975.7 690.5,1984.8 699.5,1919.5 707.4,1909 711.9,1961.7 708.3,1919.7 703.9,1659.5 685.3,1969.4 680,1952.3 725.2,1956.6 709,1776.5 704.6,1714.2 701.4,1944.4 680.1,1942.5 687.6,1947.3 717.3,1916.7 695.4,1885.8 718.5,1872.9 714.9,1866 679.6,1941.9 705.9,1880.6 695.3,1852.1 675.6,1909.6 693.3,1901.2 737.6,1930.5 685.6,1927.5 723.4,1967.1 697.3,1774.7 717.5,1986.2 671,1932.1 687.2,1883.6 703.7,1747.6 713.7,1873.8 729.8,1909.9 685.4,1938.7 720.8,1974.5 703.3,1939.7 702.7,1839.1 692.3,1884.4 709.7,1939.6 681.6,1961.5 724.5,1951.8 689.8,1890.3 697.3,1919.3 730.9,1921.8 712.4,1960.7 702.4,1987.1 703.9,1596.9 703.7,1687.2 695.1,1958.5 725.1,1931.6 690.5,1899.5 704.6,1815.2 688.3,1968.8 684.2,1923.7 700.8,1778 716.6,1879.1 698.7,1974.8 719.5,1899.2 684.8,1953.1 701.4,1956.1 717,1944.9 712.4,1830.7 682.1,1965.1 709.6,1835.3 725.6,1964.5 705.7,1858.4 714.8,1841.3 705.5,1740.6 731.3,1929.5 680.9,1937.2 681.5,1897.4 702.3,1763.1 711.9,1941.1 701.3,1705.6 717.1,1906.6 710.4,1886.9 714.8,1870.9 700.6,1820.4 702.2,1900.5 698.3,1951.5 704,1856.1 703.6,1932.8 713.7,1924.2 708.1,1789.3 712,1947.7 703.5,1758.2 698.5,1777.7 733.5,1954.3 707.6,1886.9 682.7,1977.6 703.4,1864.6 693,1909 699.6,1736.1 721.1,1923.1 711.4,1866.6 697.7,1868.9 695.9,1815.8 690.3,1927.6 706.2,1907.3 707.4,1884.7 691.7,1870.5 730.8,1922.2 727.2,1899.7 686.8,1945.9 706.6,1962.8 680.1,1895.9 708,1924.8 702.9,1795.1 726,1936.5 677.9,1930.3 695.2,1824.3 704.6,1933.7 721,1962.4 700.1,1971.7 711.4,1933.3 722.1,1965.3 705.1,1741.3 699.4,1843 726.3,1918.5 711.3,1910.6 731.1,1950.1 719.7,1959.5 690.1,1867.5 696.3,1891.3 698.4,1983.9 691.8,1990.3 699.5,1960.3 737.4,1935.1 723.8,1957.9 697.4,1791.1 694.3,1811.8 707.7,1743 701.5,1745.6 696.3,1828.2 700.1,1813.3 715.6,1913.9 682.3,1973.5 717.2,1877.8 722.9,1893.3 689,1972.4 703,1865.1 712.5,1816.3 719.3,1879.5 704.7,1976.2 674.1,1913.8 694.6,1806.1 698.4,1924.5 703,1823.4 717.3,1981.1 714.4,1988.8 704.1,1591.2 713.5,1787.1 674.2,1930.1 706.9,1993.9 713.2,1836.6 721.5,1928.1 675,1959.8 711.3,1975.1 684.3,1971.9 703.8,1983.1 710.9,1897.1 699.8,1894.1 726,1936.8 695.2,1967.7 706.9,1938.3 696.7,1944.1 704.1,1624.1 713,1944.3 720,1957.4 722.2,1954.9 691.4,1917.2 685.3,1948.8 705.1,1771.1 688.9,1878 680.9,1966.4 697.3,1810.4 682.5,1970.7 685.1,1959.1 721.1,1909.7 699.8,1861.6 719.7,1921.1 722,1970.3 686.5,1949.3 672.5,1929.1 697.9,1904.7 715.2,1906.7 705.7,1785.6 716.4,1910.9 718.2,1888.7 693.2,1946.3 711.7,1915.4 720.9,1933 713.6,1968.4 703,1851.3 698.4,1863 689.5,1895.5 704.2,1889.5 680.5,1904.6 672.8,1927.3 716.5,1874.8 733.9,1945.4 728.4,1898.4 689.1,1905.7 704.1,1922.8 694.9,1836 707.6,1767.4 709.4,1839.8 707,1965.8 708.9,1773.4 710,1933.2 711,1936.9 722.1,1888 679.4,1925.1 708.4,1802.9 686.9,1915.1 708.2,1948.9 706.5,1969.4 687.9,1948 712.6,1978.4 705.2,1651.4 711.5,1931.1 719.1,1937.9 698.7,1842 703.7,1779.7 690.2,1947.8 729.4,1908.6 702.1,1894 718.2,1941.6 694.2,1943.8 713.2,1838.2 695.4,1935.5 694,1819.1 717.9,1890.5 698.9,1918.9 686.3,1918.7 696.3,1967.1 720.9,1894.6 705.4,1849 721.2,1873.3 729.1,1938.9 705.1,1941.4 694.7,1907.5 715.7,1860.9 698.8,1825.4 680.1,1938.6 714.2,1926.9 725.2,1898.1 707.1,1802.2 714.1,1935.7 704.6,1695.9 699.8,1804.8 734.2,1925.8 730.4,1915.4 682.5,1952.1 709.4,1773.6 713.1,1830 693.5,1879.3 696.7,1858.8"/>
<polyline class="d" points="917.5,1902.6 875.2,1862.1 887.8,1950.1 894.5,1900.9 882.3,1879.5 878.7,1869.9 902.8,1873.2 905.2,1952.2 889.8,1768 907.8,1962.4 884.9,1975.5 897.2,1945.8 880.4,1852.4 903.9,1887.8 883.3,1928.6 877.9,1962.7 919.2,1947.8 910.3,1880.8 894.5,1754.2 872.2,1965.3 860.1,1924.4 917.7,1928.4 888.5,1724.1 902,1886.4 874.9,1890.2 902.9,1971.6 861.7,1891 888.9,1700.4 900.4,1900.2 880.7,1948.6 872.6,1869.8 886.8,1965.2 906.5,1856 874.3,1938.3 914.1,1959.7 886.1,1869.1 912.3,1854.5 892.8,1926.1 870.2,1914.7 861.2,1915.3 918.6,1922.3 885.7,1907.8 888.9,1796 873.2,1906.8 890.5,1769.2 862.1,1916.8 922.2,1913.6 889.8,1679.3 887.2,1819.3 882.1,1838.6 889.7,1909.5 882,1971.9 900.9,1967.2 917.8,1901.2 912.9,1932.4 889.1,1629.7 882.7,1886 876.4,1840.5 887.6,1746.4 864,1901.8 891,1881 896.2,1788.7 887,1918.9 897.8,1931.1 864.9,1895.9 888.8,1844 898.3,1809.4 876,1831.8 881.6,1918 876.6,1824.1 865.4,1883.3 881.4,1794.7 890.7,1707.2 891,1902.2 885.7,1956.3 892.7,1821.6 882.3,1838.9 899,1802.9 871.9,1930 891.9,1910.4 866.2,1887.3 883.8,1940.6 897.5,1871.1 902.6,1916.1 878.1,1827.7 888.5,1710.8 875.1,1832.9 901.9,1953.1 874.6,1875.9 903,1886.9 910.9,1915.5 896.3,1804.7 886.7,1782.6 856.8,1906 882.2,1926.5 866.5,1876.7 889.7,1748.3 905.2,1958.7 892.6,1796.7 865.4,1954.3 877,1856.6 914.7,1923.7 893,1806.8 897.6,1881.3 898.9,1928.9 905,1847.7 856,1922.7 881.5,1807.6 911.3,1910.7 891.4,1792 901.7,1917.5 865.9,1963.6 875,1835 888.8,1979 887,1834.6 875,1977.5 894.5,1755.8 915.1,1933.1 891.4,1760 862.7,1920.3 862.8,1919.9 874,1842 874.3,1980.1 906.8,1837.8 888.7,1885.9 866.1,1899.7 900.3,1854.7 898.5,1847.7 902,1909.9 900.7,1903.5 861.7,1943.2 885.7,1836 870.6,1852.8 880,1985.4 896.4,1780.1 900.6,1917.3 891.5,1925.1 900.9,1877.9 871.5,1926.5 883.5,1863.7 911.1,1953.8 881.2,1914.3 904.4,1858.3 884.5,1927.3 875.6,1830.6 871.5,1889.6 864.1,1899 906.6,1913.4 874.2,1901.5 874.9,1839.8 915.7,1943.8 872.3,1853.9 895.2,1914.4 911.4,1959.1 888.2,1907.9 867.3,1905.6 907.9,1952.8 886.5,1980.6 907.3,1924.6 877.1,1819.9 914,1895.6 859.5,1946.1 865.9,1954.7 887.5,1920.7 878.3,1904.5 889.4,1858.7 880.7,1812.4 918.1,1911.6 907.4,1926.7 885.4,1917 893.3,1975.9 890.6,1883.4 898.9,1802.3 872.1,1882.8 877.6,1952.5 917.8,1926.1 901.2,1981.8 858.6,1921.4 880.6,1987 897.9,1876.2 902.1,1844.5 890.9,1880.2 898.2,1906.3 879.6,1882.4 916.1,1902 901.6,1894.6 882.2,1876.6 880.8,1981.6 875.3,1891 883.1,1826.3 918.8,1948.6 891.8,1795.8 893.1,1892.9 899.8,1933.1 879.6,1843.3 917.1,1943.8 869.1,1941.3 895.2,1811.8 896.3,1787.7 886.2,1872 896.4,1958.8 869.4,1943 884.4,1919.6 868.4,1879.1 875.8,1919.4 878.6,1986.5 881.7,1870.3 911.6,1962.5 886.1,1887.9 896.2,1916.2 913.2,1896.7 910.7,1955.4 867.5,1964 889.6,1955 876.5,1922.1 893.3,1861.4 882.8,1844.3 888.3,1951.3 893.6,1973.5 894.3,1850.8 894.3,1930.2 885.8,1899 909.1,1928 897.1,1953.6 879.4,1962 909.5,1917.8 892.7,1761.2 886.6,1841.1 906.5,1845.3 889.2,1936.4 893.9,1848.3 873.4,1912.5 894.8,1958.5 889,1897.4 886,1826.7 895,1983.3 871.9,1850.1 913.3,1879.3 884,1858.6 888.8,1805 888.9,1971 862.5,1917.3 885.6,1842.7 866.7,1931.4 889.6,1955.8 906.3,1922.5 898.4,1929.7 921.5,1925.8 908.6,1960.4 898.8,1864 890.5,1818.6 893.8,1764.2 883.4,1923 901.7,1940.6 889.9,1890.1 908.4,1913.4 908.3,1938.9 877.8,1842.8 897.9,1883.4 861.8,1918.6 882.9,1824.8 915.8,1894.8 921.2,1928 884,1798.2 909.5,1890.3 912.8,1949.7 907.7,1857.5 890.4,1916.6 883.6,1772.1 901.1,1845.9 891.8,1888.7 872.8,1949.7 896.5,1801.1 895.4,1953.7 909.4,1907.1 913.6,1956.2 886.8,1898.4 874.7,1882 886.4,1863.2 908.2,1856 920.8,1907.3 871.2,1948.9 905.7,1879.8 877.6,1933.4 909.5,1897.8 887.2,1814.1 871.4,1838 864.2,1904.8 889,1990.2 908.9,1925.1 910.2,1877.8 863,1950.7 886.3,1756.4 911,1921.3 866.9,1873 910.4,1890.6 882.7,1913.9 883.2,1841.4 881,1888.9 879.3,1988.3 888.8,1945.4 866.1,1929.3 906.7,1873.7 885,1934 878.9,1853.3 881.2,1963.9 886.3,1946.2 868.3,1908.1 902.1,1889.4 886.8,1978.3 867.6,1865.6 900.6,1900.8 899.9,1829.8 911.2,1947 890.5,1683 869.7,1954 894.5,1905.1 911.9,1891.6 883.8,1884.6 879.7,1829.9 893.4,1923.8 897.8,1888.5 897.8,1904.4 916,1922.5 912.6,1871.4 890.1,1880.5 886.8,1934.6 881.3,1874.4 886,1793.7 867.8,1870.7 888.7,1979.2 870.6,1939.6 874.3,1914.2 865,1903.3 905.7,1936.3 907.5,1932 905.8,1844.9 909.4,1936.1 890.9,1619.3 885.4,1961.9 906.8,1933.3 916,1891.7 890.7,1915.8 878.3,1948.3 910.3,1927.1 895,1776.8 906.4,1935.8 903.2,1968.3 906.2,1864.1 887.5,1798.6 888.9,1953.5 902.7,1979.9 895.3,1784.2 875,1966.2 858.2,1897.1 899.8,1817.5 915.7,1930.7 881.5,1790.1 889.3,1825 903.4,1839.5 871.8,1950.7 888.3,1770.7 919.9,1911.1 890.8,1828.7 870.8,1952.3 865.9,1938.1 862.8,1889.7 891.4,1739 877.7,1856.2 897.7,1852 900.8,1874.4 887.5,1894.1 888,1761.7 865.8,1924 884.2,1909.8 899,1827.2 876.4,1862.5 885,1867.9 859,1945.3 898.9,1984.7 901.3,1855.7 888.2,1946.7 891.8,1972.2 900.2,1863 868.8,1928.7 864.6,1918.2 885.8,1915.4 882.1,1933.7 908.5,1861 888.6,1821.8 889.3,1586.4 910.7,1886.4 880.4,1884.9 883.9,1893 909.1,1970.5 905.9,1852.1 917.9,1904.2 887,1775.5 920.5,1907.8 869.4,1841.7 912.1,1902.1 903.1,1922.9 882.1,1813 897.8,1860.1 903.3,1918.5 899.1,1885.7 911.7,1885.3 874.9,1895.8 878,1859.5 896.2,1805.7 872.6,1919.3 907.5,1868.4 867.8,1957 857.7,1924.3 884.2,1976.7 858.9,1918.9 878.2,1976.7 903.1,1943.2 856.7,1929.5 917.9,1941.4 879.5,1876.2 868.1,1881.4 871.2,1839 892.8,1716.7 890.3,1599.5 872.6,1870.5 869.4,1947 905.1,1906 901.7,1939 899.4,1878.4 907.2,1920.7 873.8,1865.1 869.4,1932.8 902.4,1837.4 874.1,1864.8 893.7,1990.7 885.2,1944.2 883.8,1918.2 893.7,1718.7 872.3,1930.4 871.6,1893.4 886.8,1884.6 870.7,1958.4 890.3,1862.1 871.6,1866.5 867.5,1884 896.8,1882.7 912.3,1894.5 882.3,1948.1 892.9,1940.2 916.8,1934.3 918,1935.2 868.7,1969.1 875.1,1931.4 917.8,1913.8 880.8,1949.4 916.8,1917.9 900.9,1923.2 888,1849.2 896.9,1954.5 894.3,1867.7 879,1864.5 891.5,1816.9 905.8,1940.1 909.9,1865.1 872.2,1943.3 911.7,1866.1 894,1856.8 880.8,1836.7 874.9,1836.2 895.2,1895.5 894.7,1864 861.2,1932.2 860.5,1906.6 898.5,1971.1 886.8,1853.2 893.3,1954.6 866.9,1905.4 869.7,1851.3 895.8,1913 877,1867.6 884.9,1843.7 887.9,1893.7 888.8,1982.7 897.5,1840.2 889.9,1912.5 902.6,1916.8 912.3,1957.4 908.1,1927.9 918.6,1886.8 888.1,1704.6 872.8,1969.5 890.7,1866.6 898.3,1901.5 885.6,1785.6 892.3,1865.6 898.3,1841.3 921.7,1928.9 918.7,1921.1 874,1941.7 885.7,1741.5 875.7,1836.9 899.7,1907.2 881.4,1817.9 861.6,1902.8 870.5,1877.2 857.7,1920.9 883,1867.3 909.3,1885.1 908.9,1897.3 894,1905 873.6,1960.9 920.6,1911.7 904.8,1852.8 907.7,1961.7 905,1942.4 879.5,1957.9 916.4,1902.6 860.8,1944.4 902.1,1955.3 891.7,1893.5 879.7,1829.3 886.9,1974.8 914.7,1951.5 891.6,1846 889.5,1690.6 887.1,1839.9 890.3,1666.1 899,1869.3 899,1811.5 872.1,1835.8 913.9,1951.8 869.2,1869 890.4,1956 920.1,1945 893.9,1793.4 902.8,1924.1 869,1930.8 896.1,1938.5 867.2,1870 900.8,1851.3 891,1898.9 908.1,1886.3 900.3,1937.5 888.4,1674.8 882.3,1905.4 911.9,1892.3 899.9,1823.7 890.8,1980 911.2,1937.1 889.2,1778.5 905,1855.3 915,1899.8 911.8,1946 861.7,1873.1 888.8,1643.9 868.5,1877.5 892.4,1949.2 868.9,1929.7 915,1871.7 902.4,1951.3 877.3,1927.7 894.1,1904.4 891.3,1874 869.9,1957 909.7,1891.1 889.7,1848.4 910.4,1959.6 887.3,1928.2 862,1944.7 886.9,1977.9 866.1,1908.6 876.2,1835.5 894.1,1891.9 893.9,1766.8 875.4,1939.8 887.2,1833.9 883.9,1833.4 869.7,1919 909.4,1886.1 903.1,1965.6 901.8,1853.9 899.8,1897.3 872.7,1849.9 868.2,1846.7 917.6,1936.5 897.4,1880 874.6,1842.6 879.8,1966.8 877.9,1925.6 894.6,1911.9 906,1891.6 874.1,1945.7 895.6,1985.8 865.8,1921.8 861.7,1889.2 917.3,1909.8 877,1921.7 898,1987.6 870.8,1934.5 899.7,1822.3 881.7,1910 906.7,1939.2 885.1,1801.9 886.2,1951 902,1912.7 875.3,1971.6 874.9,1832.3 879.4,1892.3 893.7,1815.5 889.9,1549.6 898.2,1890.5 867.9,1857.7 873.5,1835.3 905.4,1926.4 887.2,1847.5 892.8,1726.2 895.9,1923.1 893.4,1968.7 897.6,1947.6 861.3,1896 893.3,1854.3 912,1948.9 910.9,1871.1 909.2,1902.7 872.7,1894.1 872.3,1915.1 863.7,1868.2 881.3,1976.1 894.4,1967.1 885,1959.8 870.8,1935.5 906,1874.9 861.5,1914.5 874.2,1847.9 895.4,1881.2 880.8,1947.3 893.4,1764.7 878.2,1818.7 869.6,1857.9 892.3,1973.1 859.9,1925.5 889.5,1906.9 861,1903.7 910.8,1931.1 862.8,1919.8 869,1915.5 885.2,1989.4 878.9,1849.6 874.3,1942 891.6,1946.5 868.5,1904 886.9,1908.5 860.7,1911.5 869.4,1898.2 888.9,1735.5 867.7,1878.1 892.5,1832.1 893,1851.8 875.8,1938.9 901.5,1831.2 875.3,1966.1 891.1,1970.5 919.4,1902.9 876.7,1875.9 870.8,1972.8 891.8,1749.3 870.6,1860.7 879.8,1822.9 858.1,1912.2 901.5,1912.1 884.8,1950.5 858,1910.4 877.4,1859 868.7,1941.6 861.9,1934.7 893.4,1927.4 883.3,1854.6 907.5,1940.1 917.7,1894.7 882.4,1940.7 915.4,1898 895.1,1871.7 906.7,1963.3 902.3,1974.2 880.6,1828.2 887.4,1816.2 875.8,1938 869.1,1943.7 866.3,1879.1 918.2,1925.3 909.6,1896 906,1934.5 884.1,1859.4 904.4,1875.5 878.6,1900.2 870.9,1920.5 879.9,1975.2 899.4,1959.2 872.1,1917.5 891.1,1905.7 876.8,1933.7 895,1907.5 898.6,1908.9 885.3,1790.1 880,1883.7 888.3,1730.9 894.9,1906 882.7,1769.4 874.7,1908.2 864.2,1948.3 896.1,1960.5 907.6,1968.1 881.4,1810.3 909.5,1863.4 868.8,1913.9 858.8,1932.6 890,1546.2 879.5,1858.9 902.3,1877.3 901.6,1974 901.2,1884.8 881.4,1800 875.2,1974.9 889.6,1882.9 872.5,1931.2 888.6,1909.2 914.3,1957.5 900.4,1960.8 903.9,1857.1 877.6,1868.8 917,1900.7 881.8,1803.6 889.7,1604.5 891,1752.2 909.5,1940.9 904.4,1872.4 880.8,1942.3 871.8,1964.9 888.8,1861 901.1,1913 908.8,1949.4 893,1887.2 912,1861.8 901,1969.9 866.8,1929.4 893.9,1892.7 889.1,1867.6 906,1939.4 879.2,1896.5 857.8,1899.4 876.6,1984.4 911.3,1937.6 889.8,1946.8 885.2,1887.9 910.4,1933.9 891.5,1820.8 876.1,1896.4 890.5,1897.5 887.5,1777.5 869.7,1862.2 862.6,1898 889.2,1799.6 915.5,1931.2 876.5,1969.2 916.3,1876.6 895.3,1967.5 898.5,1855.3 890.4,1641 887.7,1865.3 907.6,1935 879.1,1872.4 875.9,1828.5 893.1,1758.4 881.4,1952 893.7,1862.7 894.2,1878.3 881.3,1845.4 866.7,1869.6 912.2,1921.9 919.4,1928.3 920.4,1938.6 889.6,1781.7 873.3,1909.3 920.7,1941.1 870,1884.1 899.9,1860.1 897.3,1859.8 874.9,1961.2 898.9,1984 892.6,1744.8 890.7,1713.8 856.6,1933.3 910.6,1895.3 886.7,1791.8 900.3,1808.6 887.5,1883.1 864.5,1931.8 884.8,1860.6 879.1,1982.3 859.3,1893.2 887.4,1813.7 901,1821 912.7,1866.9 893.6,1722.7 872.3,1940.3 873.2,1915.1 918.8,1936.7 887,1956.8 896.4,1889.1 856.9,1908.6 888.9,1783.6 890.7,1963.9 880.4,1891.4 889.4,1656.4 880,1906.4 868.6,1847 905.3,1942.8 897.4,1923.6 902,1898.2 889.7,1964.3 891.6,1735.1 885.3,1780.3 906.2,1973.7 889.3,1562.8 867.1,1944.4 906.1,1936.1 895.7,1787.5 868.3,1885.4 902.3,1920 898,1888.2 897.7,1877.4 909,1887.6 895.7,1849.3 906.1,1872.9 887.6,1911.4 856.3,1911.2 907.5,1846.6 892.2,1945.1 862.7,1925.7 874.3,1871 881.6,1936.9 887,1873.6 918.7,1926.7 870.4,1927 880.1,1935.3 900.4,1881.7 857.8,1910.6 858,1920.4 907.8,1875.3 888.7,1961.3 911.4,1875.3 884.9,1908.8 911.9,1880.7 889.4,1992 880.7,1916.6 905,1969.7 903.2,1892.6 883.1,1936.7 903.7,1830.7 877.2,1937.8 866.2,1882.3 871.2,1896.3 877.5,1834.1 856.2,1912.5 886.4,1861.2 908.2,1878.7 898.6,1843.3 861.3,1874.8 895.6,1903.7 857.8,1922.6 885.7,1824.1 882.8,1951.7 883.5,1894.9 877.1,1894.3 873.8,1866.7 915.7,1944 892.1,1810.4 903.8,1879.6 867.9,1900 908.9,1915.9 863.3,1950.2 879.7,1888.1 874.7,1953.1 910.4,1968.5 901.6,1848.9 881.6,1960 905.9,1873.7 886.9,1825.6 887.1,1729.9 875.9,1964.4 903.3,1851 892.8,1978.6 891.1,1983.1 870.8,1857.4 909.1,1966.5 887.3,1846.3 898,1832.4 893.5,1814.6 867.5,1874.2 887.9,1773.6 898.7,1923.9 906.2,1958.1 880,1965.8 889,1806.9 890.1,1899.5 912,1901.1 905.8,1930.2 886.4,1774.7 860,1947.4 895.9,1955.6 904.4,1900.6 884.2,1963.1 897,1899.2 861.4,1932.1 880.9,1919.2 874.4,1853.4 890.4,1785.4 867.1,1910.6 896.2,1937.8 864.4,1942.5 892,1815.6 869,1941.4 912.9,1866.4 871.7,1882 915.1,1956.6 863.7,1935.8 858.2,1924.7 887.8,1809 864.8,1889 894.3,1850 920.4,1903.1"/>
<polyline class="d" points="1197.1,1785.8 1217.4,1764.5 1206.1,1908.1 1220.4,1892.5 1228.7,1799.2 1214.9,1893.7 1222.1,1769.4 1201.3,1868.6 1223.8,1840.1 1222.3,1769.1 1240.9,1821.4 1222.8,1733.5 1208.2,1690.7 1226.7,1733.9 1205,1711.9 1194.7,1808.6 1217.4,1908.8 1203.9,1923.7 1196,1751.1 1234.1,1838.6 1220.5,1757.6 1205.9,1782.5 1215.2,1905.9 1199,1848.6 1209.6,1949.7 1183.8,1812.3 1211.8,1852.8 1209.1,1729.2 1243.5,1802.3 1210.3,1680.1 1213.5,1679 1241.2,1798 1206.7,1931.7 1201.3,1748.8 1214.8,1617.5 1207.6,1850 1218.8,1776.9 1217,1671.9 1222.8,1872.2 1230,1857.7 1212.5,1783.8 1201.4,1746.6 1245.1,1803.4 1210.3,1951 1229,1793.5 1204.8,1824 1201.9,1854.6 1218.2,1749 1223.4,1881.8 1230.3,1742.7 1230.8,1866.6 1234.7,1757.6 1215,1625.1 1216.7,1846.8 1192.9,1783 1207.4,1698.3 1230.5,1801.7 1202.5,1803.6 1214.2,1827.1 1222.1,1799 1216.7,1675.4 1195.4,1845.9 1233.6,1765.1 1198.7,1875.3 1228.3,1836.4 1217.7,1899.3 1212.1,1974.5 1239.7,1817.8 1220.1,1865.2 1217.5,1873.5 1205.6,1710.3 1192.8,1793.1 1211.2,1767.5 1194.3,1822.1 1232.2,1858.4 1203.6,1792.4 1245.8,1805.7 1187.6,1843.1 1231.5,1841.9 1212.5,1712.4 1210.7,1786.9 1226.8,1811.9 1213.1,1685 1213.9,1804.6 1200.4,1767.2 1215.4,1946.9 1197.4,1784.8 1208.9,1705.6 1191,1829.6 1227.9,1811.2 1236.3,1856.3 1213.6,1775 1198.7,1741.9 1210.9,1795.9 1214.4,1745.2 1207.9,1696.1 1229.5,1838 1219.4,1927.8 1211.6,1868.9 1242.6,1817.9 1226.9,1898.2 1244.8,1805 1217.9,1896.8 1206.5,1819.7 1213.8,1912 1212,1885.4 1219.5,1818.9 1215,1763.4 1201.5,1738.9 1225.4,1787.3 1222.4,1735.1 1215.3,1827.6 1213.2,1772.2 1189.2,1820.6 1204,1883.3 1212.8,1835.9 1194.3,1819.6 1226.1,1728.5 1207.4,1844.9 1225.6,1806 1221.3,1740.8 1221.9,1747.4 1231.3,1857.2 1223.1,1851.6 1213.8,1645.6 1189.5,1805.1 1215.8,1972.8 1215.3,1981.3 1203.1,1835.5 1219.4,1674.9 1215.1,1760 1222.6,1900.5 1232,1816.9 1212.4,1716.5 1187.4,1822.1 1211.7,1764.5 1220,1775.8 1227.7,1828.8 1223.6,1902.2 1209.1,1706.1 1197.3,1776.4 1243.6,1829 1209.2,1765.9 1194.6,1831.2 1228.9,1774.8 1217.4,1842.7 1184.5,1837.6 1225.9,1822.9 1228.6,1731.7 1197.8,1876.1 1205.6,1795.3 1228.7,1803.4 1216.1,1901.7 1243.1,1809 1212.8,1697 1217.4,1900.7 1202.5,1796.9 1213.5,1790.9 1207.8,1718.8 1219.8,1895.3 1226.2,1888.9 1207.5,1858.8 1200.6,1891 1190.4,1836.9 1188.1,1821.1 1230.7,1859.9 1199.9,1826.5 1224.6,1919.4 1240.6,1834.3 1194.8,1824.5 1238.3,1844.3 1204,1770 1216.1,1712.7 1234.4,1759.6 1234.7,1810.2 1185.3,1831.9 1215.5,1934.3 1198.3,1892.1 1208.7,1733.9 1214.4,1637.5 1239.1,1851.5 1221.3,1772.1 1214,1969.7 1216.9,1666.9 1215.3,1940.2 1215.4,1960.7 1198.4,1863.7 1214.9,1941 1233.4,1834.9 1201.7,1754.1 1205.6,1871.3 1204.4,1895.5 1214.6,1780.3 1216.5,1872.7 1213.8,1684.1 1217.1,1725.1 1207,1790.7 1227.7,1835.5 1199.5,1823.3 1228.8,1862.8 1217.5,1955.2 1215.6,1855.5 1216.5,1846.1 1240.1,1807.4 1236.5,1817.2 1184.2,1802.5 1237.9,1827.7 1196.5,1759.4 1193.3,1859.5 1199.5,1730.8 1194,1850.8 1210.4,1754.9 1191.9,1832.4 1219.6,1926.7 1234,1793.5 1216.6,1664.8 1220.9,1810.6 1209.7,1794.4 1202.1,1800.2 1191.4,1784.3 1202.5,1788.9 1238.2,1774.5 1209.3,1816.7 1237.1,1771 1221.8,1725.1 1203.3,1739.4 1205.6,1722.3 1219.9,1947.6 1191.6,1773.4 1213.7,1875.7 1219.5,1843.1 1211.8,1913.2 1200,1843.5 1215.5,2014.5 1243.6,1838.5 1213.5,1822 1187.8,1789.2 1203.1,1720.5 1207,1931.6 1215.1,1736.2 1187.2,1837.2 1234.2,1762.5 1203.8,1832.6 1230.5,1780.5 1215.5,1942 1223.7,1752.7 1229.3,1867.4 1212.4,1843.8 1216.9,1652.2 1208.3,1933.5 1225.8,1790.2 1182.6,1809.7 1219.4,1846.4 1221.5,1826.3 1235.6,1760.2 1207.6,1884.6 1225.5,1807.4 1235.1,1870.4 1213.5,1828.2 1225.2,1714.5 1212.7,1715.3 1204.6,1794.8 1238.7,1864.3 1225.8,1796.5 1217.4,1811.1 1227.7,1781.6 1205.9,1860.8 1201.8,1804.3 1212.9,1801.5 1188.3,1825.9 1188.9,1816.1 1212,1939 1207.8,1785.3 1219.8,1761.1 1212.5,1673.4 1218.3,1964.4 1194.4,1808.3 1214.1,1838.5 1232.8,1847.5 1206.2,1788.7 1220.5,1726.4 1227.2,1823.6 1217.6,1976.9 1234.7,1763.4 1216.8,1909.5 1229.6,1799.6 1197,1874.6 1226.1,1894.7 1220.8,1806.8 1204.4,1884.5 1208,1937.5 1219.1,1694.4 1221,1686.9 1246.9,1811.6 1217.1,1905.3 1218.1,1688.9 1210.3,1773.2 1213.2,1682.8 1216.3,1878.2 1216.8,1930.3 1210.4,1833.8 1196.4,1869.6 1187.7,1832.4 1230.9,1801.4 1228.1,1852.9 1214.8,1886.9 1205.4,1862.2 1225,1847 1186.9,1817.6 1194,1801.4 1218.9,1943.2 1214.8,1937.4 1211.8,1887.9 1226.9,1781.1 1230.2,1736.5 1214.4,1922.9 1212.9,1791.8 1202.1,1896 1204.2,1809.6 1215.4,1779.1 1212.2,1907.5 1241.8,1847.2 1210.7,1782.3 1199.5,1748.5 1221.3,1864.8 1214.8,1886.3 1214.2,1702.4 1211.5,1856.8 1213.6,2000.8 1226.4,1717.2 1224.5,1873.7 1236.6,1799.9 1201.3,1822.9 1207.5,1879.3 1243.4,1803 1199.5,1744.8 1184.3,1839.7 1219.3,1830 1222.6,1924.2 1209.1,1893.2 1200.6,1761.2 1194.6,1769 1202.7,1715.9 1184,1799.8 1225.7,1902.7 1206.5,1877.8 1220.9,1676.9 1220.7,1794.1 1206.6,1706.4 1210.8,1746.7 1187.4,1806.1 1220.5,1860.6 1201.3,1785 1209.1,1949.1 1222.9,1930 1212,1863.3 1196.9,1828.8 1201.8,1767.1 1234.4,1826.7 1229,1891 1217.5,1855 1194.6,1770.8 1223.8,1879.5 1231.7,1813.7 1184.1,1833.4 1222.1,1691.8 1217.1,1815 1219.3,1668.6 1233.4,1750.2 1233,1841.5 1202.6,1800.8 1205.7,1922.2 1226.1,1814.8 1239.1,1830.7 1224.6,1777.3 1221.4,1899.4 1193.6,1821.3 1233.5,1807.1 1244.9,1813.9 1221,1761.5 1197.1,1806.9 1211.8,1650.6 1208.2,1914.3 1194.1,1791.2 1241.2,1814.1 1218.5,1945.6 1228.1,1727.1 1210.7,1703.7 1211.5,1681.4 1237.2,1857.8 1226.3,1766.2 1220.7,1743.2 1215.5,1717.9 1207.9,1849.2 1241.7,1813.5 1200.6,1852.4 1198,1856 1205,1834.2 1211.6,1873 1216.4,1871.2 1207.3,1910.3 1227.4,1772.6 1216,1647.3 1224.7,1866.9 1219,1687.8 1220.7,1906.3 1207.3,1824.2 1232.3,1779.7 1219.7,1732.5 1223,1918.5 1214.3,1987.4 1194.5,1755.3 1236,1771.7 1205.1,1869 1226.7,1777.6 1201.9,1721 1196.3,1820.5 1218.2,1912.7 1214.6,1723.3 1215.5,1865.7 1208.3,1699.5 1220.1,1921.4 1233.5,1845.2 1216.7,1849.5 1229.5,1761.9 1195.4,1756.9 1221.9,1935.2 1222.1,1859.3 1219.4,1756.7 1233.1,1849.1 1185.8,1822.4 1196.4,1841.2 1210.2,1954.2 1211.3,1880.8 1208.5,1752.2 1213.4,1800.6 1226.4,1737.5 1214.3,1958.4 1187.5,1818.1 1205,1756.1 1241.3,1829.2 1234.4,1825.5 1210,1749.9 1203.6,1735.9 1191.5,1765.6 1216,1878.8 1214.8,1915 1223,1864.7 1208.6,1904.3 1209.6,1898.2 1216.1,1812.9 1190.8,1850.4 1205,1751.8 1204.4,1819.4 1212.1,1798.5 1216.7,1983.3 1209.1,1789.7 1211.6,1719.8 1245.8,1836.8 1211.9,1914.4 1199.8,1834.7 1215.1,1910.3 1214.1,1962.3 1221.7,1707.5 1231.3,1880.9 1238.2,1808.8 1202.6,1874.3 1216.7,1792.2 1240,1848.2 1214.2,1953.1 1213.8,1969.1 1216.6,1916.2 1219.4,1927.4 1208.8,1777.4 1205.2,1811.8 1225.7,1853.6 1211.7,1723.5 1189.1,1786.5 1219.6,1768.2 1228.3,1727.2 1185.7,1791.6 1217.3,1662.7 1211.9,1817.1 1235.6,1795.2 1189.9,1783.6 1236.5,1842.3 1193.7,1851.3 1216.4,1794.1 1194.5,1788.1 1247.5,1819.9 1201.6,1853.4 1203,1729.9 1222.6,1719.6 1210.3,1773.7 1222.1,1774 1210.2,1967.4 1215.8,1709.6 1221.8,1804.3 1198.7,1770.3 1234.7,1814.5 1211.8,1694.1 1209.3,1741.7 1220.6,1787 1182.2,1830.3 1214.6,1732.4 1193.4,1798.7 1208.5,1788 1203.2,1745.9 1202.2,1797.6 1196,1778.9 1215.3,1633.3 1214.5,1935.5 1235.8,1831.5 1223,1810.3 1217.9,1839.3 1221.7,1787.7 1194.1,1766.6 1237.5,1779.5 1238.6,1836.5 1208.9,1890.4 1209.7,1747.8 1246.4,1812.7 1238.1,1823.5 1214.4,2005.1 1240.2,1860.3 1210.4,1786.2 1234.6,1847.9 1223.7,1786.1 1232.6,1863.6 1242.2,1845.1 1232.7,1758.5 1201.7,1866.1 1205.7,1870.1 1214.6,1831.8 1229.5,1731 1203.2,1740.1 1206.8,1928.7 1207.5,1749.6 1200.7,1753.6 1234.7,1830 1218.6,1854.4 1186.9,1798.2 1218.8,1918.8 1239.7,1790 1226.4,1876.5 1205,1740.9 1205.6,1739.2 1204.3,1816.2 1231.2,1808 1227.6,1742.4 1224.7,1789.5 1211.1,1920.3 1196.8,1795.8 1232.9,1812.4 1213.9,1883.7 1203.3,1910.6 1221,1722 1211,1862.1 1194.9,1756.4 1230.6,1887.4 1242.7,1797 1221,1889.6 1231.2,1738.1 1221.8,1775.3 1221.3,1840.6 1201.6,1904.7 1210.7,1701.4 1212.8,1659.9 1199.7,1884.9 1211.7,1658.3 1209.3,1956.2 1221.3,1796.3 1226.9,1868.1 1236.4,1839.5 1208.7,1743.8 1184.1,1818.6 1219.5,1755.4 1200.3,1725.8 1224,1903.3 1224.9,1810.5 1232.9,1827.2 1191.2,1816 1226.7,1852 1188.9,1824.8 1205.7,1854.5 1209,1835 1234.7,1840 1229.9,1753.1 1217.5,1758.6 1225.8,1814.3 1192.1,1840.5 1209,1924.9 1211.7,1861.4 1209.8,1877.2 1218.6,1882.8 1221.3,1728.1 1223.7,1806.1 1221,1840.9 1214.2,1867.4 1202.3,1793.2 1216.9,1875.3 1196.6,1778.1 1204.4,1710.7 1187.2,1833.5 1217,1976.4 1196.7,1831.3 1236.6,1861 1187.1,1825.1 1213.5,1944.6 1207.6,1882 1224.5,1704.3 1197.9,1850.3 1219.1,1696.7 1222.7,1781.1 1208.9,1824.9 1205.8,1815.6 1239.5,1797.2 1230.1,1782.9 1210.8,1688.9 1218.6,1784.4 1231.1,1842 1206.2,1825.7 1225,1805.2 1206.2,1792.4 1222.6,1846.3 1226.1,1897.8 1223.8,1708.5 1209.6,1764 1206.6,1889.4 1197.4,1802.8 1195.6,1778 1219.3,1669.2 1231.4,1821.1 1223.5,1701.1 1211.7,1744.4 1184.9,1837.8 1219.6,1852.2 1209.7,1917.4 1228.6,1746.1 1227.6,1882.5 1227,1832.9 1214.9,1730 1212.5,1713.9 1222.5,1717.4 1227,1815.2 1202.1,1809.3 1221.9,1700.1 1220.5,1708.7 1203,1880 1212.5,1655.5 1211.3,1959.8 1222.8,1858.3 1220.6,1870.4 1191,1844.7 1206.8,1926.1 1212.1,1692.7 1215,1763 1209.7,1723.9 1211,1768.1 1229.3,1775.9 1197.6,1781.6 1216.3,1735.3 1202.5,1736.9 1210.2,1965.7 1226.2,1828.2 1195.8,1856.8 1220.5,1916.6 1230.7,1751.1 1205.6,1780.1 1237.4,1866 1189.2,1848.4 1211.8,1887.6 1231.1,1855.4 1210.1,1754.5 1217.5,1771 1229.9,1872 1189.3,1861.9 1227.9,1830.8 1207.2,1877.5 1210.7,1819 1212,1844 1203.9,1893.8"/>
<polyline class="d" points="1404.3,1730.9 1395,1748.9 1386.7,1896.6 1384.7,1848.2 1390.2,1811.5 1380.6,1835.2 1398.8,1804.9 1400,1932.8 1410,1759 1390.9,1793.5 1430.3,1838.7 1419.2,1805.7 1412.1,1833.3 1421.5,1836 1408.4,1796 1392.9,1815.4 1426.1,1870.6 1405.9,1892.2 1424.1,1801.2 1402.1,1755 1367.3,1832.6 1384.6,1900.7 1392.3,1815.9 1418.1,1863.7 1389.7,1813 1422.8,1873.9 1399.1,1928.5 1405.4,1820 1416.5,1880.3 1390.7,1902.9 1402,1773.9 1410.3,1772.3 1399.8,1712.1 1415.1,1836.3 1400.2,1808.4 1401.1,1875.4 1396.5,1929.9 1378.9,1792 1393.6,1826.7 1398,1955.5 1409.5,1800.7 1407.3,1819.8 1369.9,1833.7 1393.9,1800 1416.4,1886 1400.1,1954.8 1376.7,1851.2 1390.8,1741 1389.8,1858.1 1375.3,1809.7 1370.1,1840 1416.3,1798.6 1413.6,1783.2 1378.1,1822.6 1398.5,1770 1401.9,1716.1 1384,1875.7 1368.6,1835.5 1406.5,1871.6 1380.4,1826.5 1407.4,1774.8 1390.9,1743 1387.3,1858.9 1413.2,1849.1 1419.5,1859.6 1388.2,1793.9 1412.6,1879.5 1385.8,1889.2 1396.6,1916.6 1389,1789.9 1394,1738.8 1396,1867.1 1369.6,1835.7 1368,1827.7 1382.6,1798 1389.3,1843.7 1412.9,1894.9 1378.2,1816 1368.4,1851.2 1380.9,1797.3 1376.4,1793 1385.9,1813.7 1392.7,1766.2 1376.9,1860.6 1408.3,1876.4 1371.3,1844.3 1387.3,1848 1403.1,1882.7 1392.3,1784.5 1428,1856.5 1397.6,1727 1393.6,1767.7 1391.4,1863.1 1385.5,1832.7 1388.3,1748 1401.3,1788.9 1420.4,1802.5 1413.6,1781.6 1372.4,1806.7 1421.1,1853.4 1426.7,1819.8 1366.8,1846.6 1379.7,1828.2 1400.3,1870.8 1391,1843.5 1395.2,1842.7 1388.3,1807.3 1403.5,1885.8 1416.5,1785.8 1404.7,1867.7 1400.6,1694.8 1409.9,1864.7 1398,1709.8 1374.5,1869 1399.1,1769.8 1385.9,1755.9 1421.6,1799.4 1408.9,1792.1 1410.4,1773 1406.2,1885.5 1390.8,1871.6 1412.4,1891.2 1389.4,1906.3 1406.3,1762.1 1399.9,1800.5 1408.2,1805.4 1400.2,1952.4 1400.1,1692.2 1426.4,1827.8 1379.1,1826.6 1399.7,1838.4 1415.1,1842.3 1394.5,1933.6 1419.3,1878.1 1376.2,1796.6 1408.7,1883.7 1403.6,1794.3 1375.3,1805.9 1406.7,1891.9 1379.4,1840 1399.8,1768.2 1423.1,1787.9 1429,1830.7 1409.7,1771.1 1414.1,1875.3 1418.8,1781.2 1392.5,1854.3 1395.6,1843.3 1396.8,1927.7 1412.2,1833.9 1408.9,1913.3 1395.3,1750.6 1368.4,1823.9 1412.7,1790.4 1370.4,1858.8 1380.9,1814.5 1409.1,1803.1 1410.8,1795.7 1429.2,1855.5 1381.5,1889.6 1388.8,1839.3 1380.9,1842.8 1408.6,1735.5 1391.3,1820.3 1366.3,1849 1425.1,1830.8 1424.4,1816.9 1427.4,1805 1382.3,1778.2 1407.8,1823.1 1409.6,1844.4 1401,1762.3 1389.9,1918.1 1379.7,1855.8 1403.2,1782.4 1399.7,1941.3 1383.9,1813.5 1413.4,1900.1 1388.2,1764.4 1400.4,1880.5 1399.1,1907.3 1398.5,1850.6 1407.7,1880.7 1416.5,1853.9 1392.7,1777.2 1366.8,1818.1 1392.8,1757.3 1392.9,1862.1 1397.8,1918.4 1377.9,1806.5 1406.8,1766.8 1404.4,1908 1400.6,1723 1393.5,1879.7 1404.3,1775.6 1407.2,1873.2 1426,1857.1 1419.1,1817.9 1395.7,1847.1 1391.9,1739.2 1404.1,1840.5 1413.5,1758.5 1393.5,1873.3 1412.9,1882.2 1393.1,1793.1 1365.6,1842.9 1400.5,1890.4 1391.5,1852.7 1378.8,1838.6 1411.3,1766 1404.9,1726 1382.9,1846.2 1425,1836.9 1399.6,1759.8 1397.4,1921.5 1401.9,1945.6 1381.9,1841.6 1417.4,1805.4 1413.5,1856 1368.8,1836.9 1388.8,1770.8 1390.6,1898.3 1385.3,1861.2 1378.7,1831.1 1400.5,1753.1 1400,1968.8 1432.5,1842 1402.3,1768 1382.8,1845.3 1380.5,1808.3 1395,1890.1 1404.9,1791.8 1399.9,1684.7 1416.2,1771.6 1423.5,1824.9 1390,1789.2 1389.6,1850.8 1402.1,1920.4 1375,1809.1 1387.6,1865 1400,1688 1368.6,1824.4 1429.4,1825.2 1420.2,1885.6 1419.4,1817.2 1409.7,1801.7 1428.1,1821.6 1402.8,1756.7 1390.2,1744.3 1393.3,1880.2 1413.6,1817.4 1396.5,1927.3 1376,1790.8 1391.7,1759.6 1406.3,1740.4 1398,1927.1 1377.4,1785.5 1425.8,1863.9 1384.6,1771.9 1414,1891.1 1396.4,1702.4 1414.7,1897 1374.7,1876 1396.8,1841.5 1387.9,1749.8 1404.9,1759.2 1398.4,1725 1379.2,1842.3 1392.7,1787.2 1390.5,1776.5 1403.9,1835.2 1386.4,1780 1388.7,1820.4 1412.1,1801.6 1396.3,1924.8 1395.7,1772.7 1408.9,1851.5 1403.5,1740.5 1421.4,1847.5 1413.3,1897.4 1409.7,1891.6 1398.7,1947.6 1400.2,1753.1 1392.9,1871 1409.7,1804.2 1389.5,1829.6 1382.3,1808.4 1384.2,1821.1 1407.8,1739.9 1401.7,1786.2 1424,1795 1394.7,1828.4 1375.5,1799.9 1402.8,1865.4 1372.3,1812.2 1415.6,1805.2 1416.9,1783.5 1411.6,1832.2 1401.2,1695.6 1427.4,1867 1402.3,1913.9 1425.8,1851 1384.6,1771.2 1398,1829.1 1399.4,1799.3 1417.4,1849.2 1403,1790.6 1419.1,1862.8 1397.9,1730.4 1432.8,1855.5 1401,1825 1421.6,1867.6 1386.7,1892.3 1425.4,1861.8 1389.2,1895.8 1424,1819.3 1370.2,1869.1 1396.1,1910.4 1398.3,1911.4 1406.4,1764.1 1373.6,1844.6 1403,1882.2 1392.9,1829.5 1430.7,1859.6 1379.8,1782.3 1385.1,1828.9 1393.5,1825.2 1396.6,1830.4 1406.4,1851.4 1391.4,1742.2 1375.2,1834.9 1400,1911.8 1381.3,1884.4 1421.9,1861.3 1402.8,1751.1 1415.4,1882.9 1386.3,1879.1 1369.6,1853.8 1415.9,1855 1376.8,1877.4 1378.7,1792 1416.3,1822.4 1372.5,1815.8 1407.1,1768.4 1413.6,1855.2 1402.2,1707.1 1372.9,1802.2 1418.3,1782.8 1370.1,1824.1 1400.9,1762.6 1397.5,1935.6 1420.9,1796.7 1374.8,1845.9 1389.8,1874.7 1415.6,1830.3 1367.2,1819 1403.5,1893.3 1399.5,1752.8 1403.7,1862.3 1391,1899 1401.8,1836.5 1421.5,1839.7 1402.1,1821.5 1398.7,1895.3 1384.7,1811.5 1397.8,1798.2 1386.4,1841.3 1428.2,1812 1422.4,1867.5 1413.7,1814 1409.2,1837.5 1426.3,1853.3 1402.4,1915.1 1402.1,1836.6 1403.7,1734.1 1400.3,1753.9 1404.8,1847.8 1408.5,1887.8 1391.9,1849.7 1426.4,1862.4 1410.6,1893.6 1385.2,1902.1 1374.5,1862.3 1382.3,1773.7 1401.1,1829.1 1414.3,1788.5 1373.9,1833.1 1384.7,1875.9 1412.3,1784.7 1405.7,1736.5 1382.9,1849.5 1397.3,1881.9 1403,1724.8 1381.5,1776.9 1403.9,1840.4 1398.8,1700.5 1386.3,1863.2 1431,1831.3 1400.2,1866.3 1412.9,1798.2 1383.6,1849.2 1409.6,1868.7 1416.1,1887.5 1395.5,1785 1372.6,1872.4 1425.8,1849.8 1405.9,1825.7 1432.6,1850.3 1396,1804 1395.3,1844.1 1391.1,1899.1 1415.5,1786.3 1405.2,1844.9 1416.6,1816.7 1386.9,1778.1 1381.3,1807.7 1425.2,1806.2 1372.1,1820.7 1393,1732.8 1427.4,1816.2 1411.9,1863.4 1396,1813.9 1389.4,1896.2 1395.9,1828.8 1410.6,1796.3 1390,1903.8 1382.4,1847.4 1376.8,1833.2 1414.6,1840.5 1412.6,1769.3 1400.7,1878.2 1419.1,1799.8 1388.8,1849 1404.9,1822.2 1404.7,1788.6 1370.2,1809.5 1393.6,1769.1 1394.7,1892.8 1401.9,1907.1 1389.3,1909.2 1389.9,1789.5 1387.5,1854.6 1378.6,1863.3 1367.6,1846.7 1411.7,1896 1403.9,1788.7 1403.9,1774.6 1415.2,1810.9 1403.8,1879.9 1395.1,1786.6 1406,1763.7 1411.3,1897.5 1423.3,1854.9 1374,1858.3 1394.3,1881.7 1378.9,1831.7 1416.1,1876.3 1399.2,1866.1 1399.4,1705.7 1410.6,1792.7 1418.1,1869.8 1406.1,1767.3 1418.3,1865.5 1377.7,1820.2 1400.5,1714 1380.7,1824.6 1400.3,1888.3 1388.4,1887.1 1404.1,1916.1 1411.5,1808.7 1398.7,1881.6 1427.6,1846.6 1426.7,1855.9 1408.4,1869.3 1411.9,1818.6 1419.9,1838.4 1398,1881.1 1404.2,1810.5 1400.9,1942.7 1417.8,1830 1400.6,1882.8 1400.4,1937.9 1403.7,1798.8 1386.2,1774.5 1398.5,1772.4 1414.2,1804.8 1403.5,1885 1382.3,1839.8 1364.7,1846.4 1417.5,1872.4 1393.3,1852.8 1395.2,1756.5 1392.2,1813.3 1381.3,1854.1 1399.9,1926.2 1382.3,1797.2 1410.6,1909.8 1425.5,1803.1 1398.6,1824.3 1404.5,1843.3 1395,1750.6 1376.2,1864.6 1392.6,1886.8 1396,1802.1 1396.6,1902.7 1399.8,1948.6 1390.3,1818.5 1419.4,1825.8 1422.2,1821.2 1396.2,1807.7 1388.4,1758.1 1393.3,1837.7 1394.6,1776 1379,1782.8 1370.8,1807 1375.3,1852.3 1406.8,1797.1 1403.2,1908.7 1418.5,1831.9 1405.7,1899.8 1381.7,1770.2 1410.3,1823.7 1368,1817.7 1411,1804.4 1411.9,1781.4 1416.5,1794.8 1384,1789.4 1383.4,1769.3 1425.2,1818.3 1393.1,1879.3 1407.4,1878.6 1420.5,1872.3 1376.1,1876.2 1424.3,1815.1 1422.5,1820.9 1397,1874.4 1396.1,1721.3 1392.7,1793.7 1376.9,1845.3 1400.8,1698.7 1416.4,1829.2 1416.5,1857.7 1366.5,1857.2 1408.8,1785 1396.2,1900.4 1396.1,1749.5 1410,1871.8 1370.9,1831.3 1413.5,1781.1 1390.6,1830.2 1409.2,1877.6 1401,1839.6 1403.5,1801.2 1399.9,1811.8 1403.9,1719.9 1391.6,1826.1 1398.9,1719 1394.7,1803.3 1386,1781.9 1382.3,1807.5 1395.7,1762.8 1396.1,1723.8 1397.4,1746.1 1367.4,1834.7 1406.4,1857.9 1416,1837.6 1405.3,1738.1 1422.1,1853.1 1396.2,1827.1 1391.1,1840.4 1394.8,1823.8 1397.9,1823 1398.7,1747.1 1388.1,1844.6 1368.3,1861.9 1396.4,1898.4 1394.9,1825.5 1396.5,1767.3 1380.1,1892.6 1411.7,1758.1 1401.4,1912.5 1405.5,1906.9 1395.6,1786.9 1401.5,1745 1406,1848.2 1415.8,1822.1 1394.5,1728.3 1379.4,1886.2 1388.4,1826.3 1418.8,1791.5 1401.1,1864.2 1403.4,1810.1 1412.5,1870.3 1408.8,1850 1396.3,1793.6 1398.6,1872.9 1406.3,1828.4 1410.3,1810.3 1410.3,1751.2 1384,1884.1 1429.7,1858.2 1405.1,1745.2 1381.8,1809.3 1379.3,1868.2 1425.5,1871.1 1385.8,1816.7 1397.9,1729.2 1387.9,1776.2 1388.5,1777.7 1379.1,1877.4 1375.4,1827.6 1393.1,1718.5 1405.8,1919.3 1407,1869.9 1391.3,1870 1388.4,1811.3 1403,1807.9 1429.8,1853 1376.4,1837.7 1398.2,1734.1 1390.8,1846.4 1385.5,1853.8 1390.9,1812.7 1395.1,1865.2 1397.4,1783.9 1418.2,1796.8 1411.1,1797.6 1391.6,1904.2 1398.6,1702.7 1391.4,1917.5 1410.6,1904.7 1369.3,1841.3 1395.4,1807.5 1396.7,1712.6 1381,1776.4 1391.4,1860.2 1396.8,1822.5 1390.7,1764.9 1381.9,1815.3 1379.8,1871.5 1402.4,1803.9 1402.4,1730.1 1395.8,1761.5 1405.3,1722.4 1395.9,1922.9 1377.5,1840.9 1400.2,1932.1 1374.1,1833.9 1402.7,1838.4 1388.4,1879.4 1416.5,1786.9 1385,1847.8 1374.2,1852.3 1401.6,1862.7 1410,1903.9 1403.6,1944.1 1428,1838.9 1420.9,1780.4 1405.8,1818 1399.3,1963.2 1377,1866.7 1397.8,1883.2 1407.9,1883.6 1395.8,1914.5 1402,1748.8 1384.5,1792.5 1397,1929.3 1418.8,1807 1404.4,1888.8 1429.8,1843.6 1366.9,1858.9 1407.7,1745.8 1385.4,1860 1378.7,1856.6 1403.5,1804.3 1412.4,1760.5 1404.1,1742.5 1368.4,1826.2 1378.2,1850.2 1390.7,1844.3 1382.9,1866 1419.6,1835.6 1411.1,1810.7 1397,1856.8 1389.1,1764.2 1413.7,1811 1432.8,1853.1 1380.8,1878 1412.5,1815.1 1408.7,1737.6 1391,1847.6 1390.8,1852.4 1409.9,1824.3 1379.6,1838.1 1400.2,1900.9 1414.8,1886.4 1403.8,1890.2 1396.6,1766.6 1402,1773.5 1418.8,1823.2 1410.3,1755.7 1431.9,1857.4 1416.4,1802.8 1369.6,1859.7 1397.8,1936.9 1393.5,1735.4 1392.2,1787.2 1401.3,1720.4 1432,1829.8 1406.5,1775.7 1420.3,1836.1 1425.2,1860.6 1408.5,1785.6 1413.9,1836.7 1396.2,1935.4 1419.8,1827.2 1401.4,1819.6 1422.4,1869 1382.7,1814.7 1394.3,1857 1428.8,1860.9 1400.9,1715.9 1419.2,1872.7 1420.5,1794.6 1419.1,1851.7 1405.5,1729.1 1415.6,1859.3 1378.6,1884.5 1404.3,1912.3 1387,1833.3 1429.1,1831.7 1422.3,1790.9 1408.7,1752.3 1378.1,1795.5 1421.2,1791.3 1405.4,1732.1 1399.8,1746.8 1410,1905.2 1411.1,1897.9 1403.1,1922.3 1389.1,1863.9 1386.5,1841.8 1384.4,1855.4 1374.4,1812.4 1409.4,1780.4 1423.1,1799 1401.9,1845.9 1396,1741.9 1397.7,1828 1429.1,1839.2 1396.6,1787.7 1403.8,1924 1402.3,1816.4 1402.6,1814.5 1393.6,1751.7 1381.2,1783.6 1402.8,1737.1 1375.9,1877 1420.1,1821.7 1414.9,1894 1397.2,1734.6 1411.5,1894.8 1425.7,1794.4 1365.3,1831.6 1400.8,1966.9 1401,1908.4 1424.9,1868 1388.6,1873.5 1402.1,1765.3 1413.6,1854.7 1411.1,1874.3 1393.1,1812.7 1403.9,1803.5 1394.5,1773.2 1425.8,1845.9 1410.8,1875.2 1378.3,1815.5 1411.7,1781 1403,1860.2 1375.5,1810.2 1408,1793.2 1381.7,1813.6 1418.1,1788 1397.2,1942.4 1404.4,1888.5 1395.1,1747.3 1401.2,1771.5 1372.1,1812.2 1400.1,1887.3 1379.7,1838.2 1393.5,1757.4 1408.8,1834.9 1388.2,1816.8 1420.6,1873.8 1426.5,1817.6 1388.2,1890.7 1403.2,1939.9 1400.9,1727.5 1371.8,1800.1 1400.6,1704 1388.5,1744.2 1378,1871.2 1408.9,1754.4 1377.5,1784.3 1410,1779.7 1405,1834.4 1398.2,1847.3 1400.5,1714 1376,1850.5 1382.4,1876.8 1412.1,1819.4 1412.1,1899.5 1399.6,1717.1 1392.8,1733.1 1402,1950.6 1395.8,1911.1 1404.8,1827.2 1392.9,1894.3 1412.6,1861.5 1394,1842.4 1397.6,1848.5 1388.8,1874 1401.1,1903.2 1413.3,1777.5 1405.3,1800.2 1413.9,1895.4 1411.5,1787.6 1407.6,1778.9 1429,1813.1 1393.6,1925.3 1409.7,1821.1 1374.5,1874.4 1412.8,1901.7 1399.8,1919.7 1389,1868.5 1392.5,1775.3 1422.3,1878.4 1392.1,1864.7 1402.5,1708 1389.4,1863.6 1414.6,1837.2 1385.3,1761.8 1365.9,1854.4 1386.1,1888.1 1387.1,1827.6 1394.9,1921.2 1424,1866.6 1399.3,1679.1 1379.4,1823.5 1399.2,1852 1393.4,1866.1 1405.5,1923.6 1411.9,1760.9 1420.8,1791.2 1419,1858.4 1390.3,1893.7 1384.5,1861.1 1394.1,1789.9 1365.6,1845.5 1400,1906 1412.4,1763.2 1391.2,1801.8 1422.1,1833.4 1379.3,1867.3 1396.4,1840.8 1400.6,1840.9 1392.3,1905.1 1387.9,1842.4 1406.1,1834.2 1400,1678 1377.2,1881.1 1414.1,1760.4 1392.5,1802.6 1376.6,1830.1 1397.9,1939.3 1402.9,1795.3 1388,1858.8 1391,1783.9 1394.6,1710.7 1388.7,1884.9 1395.4,1748.5 1406.5,1915.5 1405,1914.2 1404.4,1743.7 1421.9,1806.3 1376.8,1810.4 1387,1832.3 1402.9,1868.3 1418,1834.4 1401.9,1765.5 1382.8,1779 1398.9,1930.7 1391.4,1909.9 1398.7,1959.4 1391.6,1754.7 1409.6,1797.7 1389.6,1755.2 1387.8,1848.5 1377,1814.3 1398,1835 1378,1851.8 1401.8,1934.3 1408,1779.2 1380.9,1803.7 1417.5,1778.2 1400.2,1889.6 1422,1796.1 1427.7,1856.3 1418.2,1818.9 1408.6,1822.3 1403.8,1857 1385.4,1859.6 1428.4,1809.1 1364.8,1851 1402.8,1779.2 1427.8,1844.3 1400,1737.8 1390.5,1916.9 1381.5,1809.7 1397.8,1832.3 1387.8,1888.9 1406.6,1869.4 1395,1883.7 1417,1780.4 1385.7,1901.7 1424.3,1798.6 1388,1800.6 1390.2,1845.1 1395.7,1825.7 1372.4,1832.5 1379.2,1865.2 1384.2,1821.9"/>
<polyline class="d" points="1727.7,1933.1 1728.8,1822.1 1743.8,1764.7 1725,1724.1 1727.9,1844.4 1734,1818.8 1714.3,1850.8 1725.2,1708.6 1716.5,1719.3 1736.9,1793.2 1706.4,1817.2 1701.6,1799.2 1712.8,1781.4 1726.6,1723.3 1714.3,1738.6 1720.8,1825.8 1707.7,1788.5 1750.3,1855.3 1704.4,1729.6 1704.6,1740.6 1716.2,1783.8 1730.6,1917 1738.3,1706.4 1718.9,1748.3 1693.7,1802.8 1713.4,1804.2 1713.7,1691.2 1722.8,1889.4 1751.5,1813.1 1697.3,1763.6 1732.5,1778.6 1723.5,1929.5 1732.7,1681.5 1723.9,1834.2 1713.7,1820.1 1730.6,1795.9 1716.5,1874.4 1731.2,1678.9 1716.3,1788 1723.3,1699.4 1700.2,1757.9 1723,1751.2 1716.5,1716.7 1727.8,1824.6 1729.7,1797.2 1744.9,1858.2 1728.1,1725.8 1717.5,1920.4 1753.2,1823.4 1720.5,1937.2 1749.4,1845.3 1719.2,1684.6 1714.9,1695.2 1706.5,1811.7 1715.7,1686.8 1730.1,1737.1 1717.9,1742.8 1736.9,1768.2 1738.2,1697.4 1730.7,1702.3 1746.3,1877.6 1712.8,1820.1 1714.4,1904.3 1733.8,1886.2 1748.6,1839.4 1730.3,1777.4 1722,1810.6 1751.5,1837.8 1725.3,1707.2 1735.9,1807.2 1716.4,1752.4 1728.1,1876.5 1726.1,1851.2 1722.6,1733 1723.5,1634.5 1705,1881.4 1735.6,1702.8 1745.3,1787.3 1743.4,1858.8 1703.2,1862.6 1725.4,1654.9 1748.4,1839.2 1731.4,1729.1 1748.7,1763.9 1746.7,1805.6 1722.4,1651.4 1717.8,1923.6 1738.2,1720.6 1719.8,1721.6 1724.7,1873.6 1699.3,1828.4 1709.2,1854.7 1715.3,1901.3 1734.5,1720.7 1747.2,1744.7 1727.1,1778.6 1723.1,1673.3 1719.7,1675.8 1718.9,1662.4 1728.5,1756.3 1721,1902.8 1726.4,1657.9 1699.2,1861.1 1706.4,1856.2 1718,1833.8 1751.6,1794.9 1707.7,1766 1748.2,1833.2 1726.3,1842.9 1748.7,1808.6 1721.3,1888.9 1704.1,1751.5 1732.4,1693.5 1698.5,1803.4 1728.9,1749.6 1705.4,1846.8 1742.8,1760.6 1719.8,1747.6 1723.8,1769.1 1735.9,1756.8 1741.8,1863.6 1733.3,1770.5 1701.5,1828 1755.5,1842.2 1699,1782.8 1727.5,1812.3 1720.9,1643.7 1731.1,1912.5 1746.7,1824.1 1749.2,1801.9 1724.8,1705.9 1733.9,1783.8 1699.7,1806.2 1722.9,1755.3 1733.9,1775.5 1745.6,1749.9 1736.2,1898.7 1753.2,1852.8 1741.4,1884.1 1715.4,1841.7 1721.7,1653.3 1742.1,1735.7 1735.8,1817.8 1736.8,1854.9 1737.4,1823.4 1710.1,1774.5 1707.1,1748.1 1746.7,1765.7 1703.2,1743.2 1744.1,1811.6 1724.8,1750.8 1710.2,1705.2 1712.7,1715.2 1752.3,1786.2 1698.7,1767.5 1710.7,1861.3 1728,1833.6 1722.6,1780.2 1697.6,1771.9 1743.1,1807.3 1704.9,1754.1 1706.1,1741.9 1709,1774.4 1703.7,1869.9 1692.5,1797.6 1715.7,1685.5 1714.2,1827.2 1738.9,1737.5 1740.5,1894.2 1714.8,1846.1 1723.7,1713.3 1731.1,1688.4 1722.5,1838.5 1715.3,1897.4 1739.1,1818.1 1722.7,1831 1720.8,1671.5 1727.3,1809.9 1718,1814 1701.2,1833.7 1718.9,1725.8 1738.3,1852.6 1711.1,1746.7 1717.6,1667.6 1706.5,1735.9 1729.1,1836.6 1721,1658.8 1711.3,1753.6 1722.7,1855.9 1710.4,1899.7 1717.7,1719.5 1706.1,1851.8 1710.6,1782.9 1691.8,1829.4 1721.5,1762.4 1726,1867.4 1742.7,1752.8 1736.3,1890.5 1729.2,1708.8 1728.7,1740.1 1723,1758.5 1715,1895.7 1702.2,1792.3 1709.6,1739.2 1726.5,1639.9 1712.1,1698.4 1711.5,1703.9 1728,1682 1725.2,1767.9 1699.5,1857.6 1698.2,1849.8 1712,1700.2 1742.2,1848.4 1703.4,1856.7 1727.3,1866.3 1748.1,1839.9 1707.6,1844.3 1727.7,1790.4 1715.9,1861.7 1745.4,1825.9 1738,1714.7 1731.3,1750.6 1715.6,1733.7 1729.5,1903.8 1706.6,1742.2 1733.5,1703.8 1737.8,1826.7 1750.3,1826.6 1726.7,1865.5 1721.3,1712.5 1727.4,1887.2 1739.8,1811.6 1728.6,1786.8 1710.4,1710.1 1699.3,1853.7 1719.7,1887.5 1724.5,1868.5 1744.9,1860.7 1711.3,1849.8 1734.2,1794.9 1718.2,1849.1 1718.7,1663.4 1730.2,1838.3 1714,1713.6 1717.1,1928.9 1699.3,1858.1 1695.5,1820.9 1723.5,1788.9 1726.4,1813.3 1742,1894 1710.4,1736.7 1726.6,1872.4 1744,1726.6 1726,1787 1722.3,1835 1742.5,1758.7 1722.8,1923.8 1707.5,1843.8 1704.5,1799.1 1734.8,1892.4 1738.4,1798.2 1711.8,1863.3 1708.5,1732.6 1717.5,1787.8 1718.4,1705 1701.6,1738.6 1722.9,1709.6 1720.1,1736.7 1751.7,1804.9 1710.2,1701.2 1713.6,1883.3 1724.4,1811.1 1700.4,1740.5 1729.7,1843.7 1754.1,1819.1 1749.4,1777 1721.4,1699.7 1728.8,1822.5 1713.7,1881.1 1706.1,1798.1 1696.9,1854.1 1720.8,1859.9 1728.2,1842.2 1727.4,1919.3 1723.6,1898.2 1729.9,1646.4 1746.2,1815.1 1697.1,1821.5 1736.7,1871.9 1723.3,1728 1723.7,1905.6 1710.9,1852.1 1709,1777 1709.6,1818.5 1716.5,1693.5 1705.9,1821.4 1717.2,1818.2 1717.5,1755.7 1744.6,1875.5 1729,1733.2 1749.8,1776.7 1711.1,1784.2 1729,1935.2 1755.5,1803.7 1713.6,1805.8 1716.5,1878.8 1730.3,1656.7 1732,1865.9 1724.3,1640 1733.4,1724.7 1701.5,1754.4 1708.8,1803.1 1706.4,1879.2 1717.9,1768.9 1734.6,1674.2 1727.8,1936.2 1723.2,1921 1715.3,1735.3 1736.7,1775.9 1728,1808.9 1735.8,1715.9 1742.5,1741.2 1694.9,1826.9 1730.2,1717.1 1720,1776.3 1701.3,1810.3 1714.5,1763.4 1723.7,1642.8 1748.5,1785.4 1732.3,1907.1 1728.8,1859.7 1728,1836.3 1723.2,1881.7 1746.9,1827.4 1745.5,1793.5 1701.6,1790.1 1726,1625 1736.7,1899 1736.9,1840.7 1709.9,1780 1707.1,1840.3 1719.9,1932.5 1718.4,1854.5 1719.3,1880.6 1706.3,1800.3 1720.3,1670.3 1727.9,1667.6 1708.9,1833.1 1735.8,1690.3 1728.8,1748.9 1726.3,1797.4 1719.5,1772.9 1697.6,1810.8 1732.1,1730.8 1714.4,1866.5 1750.2,1778.1 1722.5,1928.1 1743.2,1731.1 1698.1,1848.3 1723.7,1785.1 1730.5,1787.6 1733.2,1743.7 1703.2,1791.5 1745,1794.3 1728.9,1849 1723.4,1767.4 1740.4,1801.4 1726.7,1632.5 1694,1825.3 1730.6,1743.6 1736.1,1885.4 1731.6,1692.8 1707.9,1879.3 1742.7,1759.6 1711.3,1906.1 1709,1788.3 1691.7,1806.4 1726.6,1945.9 1728.7,1888.5 1731.7,1763.1 1734.6,1755.4 1719.7,1649.2 1736.1,1846.1 1710.1,1785.7 1744,1824.7 1743.1,1857.9 1728.7,1762.7 1694.9,1801 1706.6,1891.4 1725.3,1671.5 1711.8,1796.3 1713.1,1805 1732.2,1718.5 1725.7,1914.9 1705.1,1815.9 1728.6,1864.3 1743.6,1745 1713.6,1722.6 1701.7,1809.4 1699.7,1815.4 1729.9,1759.6 1696.4,1800.6 1721.1,1825.9 1716.3,1799.8 1747.7,1799.9 1721.3,1784.5 1730.4,1828.4 1731.5,1752.5 1699.9,1769 1755.6,1796.6 1732.9,1816.2 1744.5,1765.3 1734.9,1686 1729.7,1813.7 1748.5,1838.9 1728.3,1835.4 1706,1871.3 1732.6,1892 1730.9,1775 1714.7,1707.7 1739.5,1802.3 1746.5,1765.2 1710.4,1804.2 1737.9,1869.3 1717.9,1846.9 1708.8,1798.9 1725.5,1781.1 1723.1,1747 1703.4,1862.2 1738.9,1830.7 1715.2,1913.6 1730.9,1931.2 1725.9,1884.6 1707.3,1771.4 1731.6,1924.9 1741.2,1876.3 1734.7,1689.2 1710.5,1772.5 1748.1,1874 1712.5,1773.3 1722.5,1942.3 1724.6,1654 1704,1794.6 1740.9,1731.8 1718,1864.4 1713,1816.4 1708.1,1868.9 1711.3,1696.5 1717,1791.6 1726.5,1918.6 1721.9,1885.4 1720.3,1767.1 1713.7,1749.2 1739.1,1836 1751.3,1812.3 1694.2,1834.6 1709.1,1819.5 1704,1822.7 1699.4,1791.9 1727.3,1831.5 1709.7,1764.6 1725.2,1687.7 1701.7,1741.5 1698.2,1781.2 1701.1,1759.9 1737,1820.4 1740,1848.1 1727.4,1701.8 1719.1,1882.7 1728.3,1761.9 1695.8,1775.6 1733.2,1807 1707.9,1853.3 1700.5,1829 1750.6,1840.5 1731.8,1913.8 1695,1784.8 1725.8,1951.3 1717.2,1761.2 1725.9,1648.8 1731.3,1766.2 1730.7,1793.2 1715.9,1690.1 1741.6,1780.7 1707.2,1873.9 1740.5,1847.9 1711.7,1753.2 1692.5,1816.9 1725.4,1722.7 1694.3,1830.3 1716.9,1729.9 1726.7,1829.9 1743.4,1808 1731,1691.7 1709,1871.3 1702.2,1859 1725.8,1878.4 1754,1801 1704.5,1837.2 1740,1771.7 1713.8,1910.4 1703.4,1840.1 1726.8,1638.1 1710.6,1897 1729.9,1666.2 1739.6,1734.7 1724.6,1884.8 1729.6,1771 1692.3,1822.7 1696.1,1796.9 1692.8,1829.2 1727.6,1877.9 1735.9,1761.8 1719.7,1789.4 1740.8,1726.7 1698,1754.7 1737.4,1789.8 1728.4,1875.8 1729.6,1941.2 1724.3,1835.1 1719.9,1910.3 1703.1,1812.6 1708.6,1886.7 1726.8,1714.3 1742.2,1882.1 1709.4,1879.8 1725,1894.9 1714.2,1870.7 1739,1853.6 1709.6,1757.5 1731.9,1867.9 1720.4,1815.9 1747.3,1777.8 1694.5,1807.6 1755.4,1817 1706.3,1808.3 1709.3,1752.1 1731.1,1905.2 1738.4,1744.8 1726.5,1677.9 1725.3,1645.7 1718.2,1756.7 1703.6,1814.5 1707.9,1729.2 1711.1,1721.9 1740.1,1865 1728.9,1821.7 1723.6,1888 1702.6,1815.4 1733,1731.3 1710.9,1746.6 1742.1,1814.6 1723.8,1673.6 1709.7,1745.6 1731.3,1665 1726.4,1809 1711.1,1847.1 1742.7,1873.2 1742.2,1867.2 1726.1,1926.5 1709.2,1725.1 1723.6,1862.3 1743.7,1832.1 1740.9,1844.7 1698.7,1863.8 1694.1,1820.5 1701.6,1860.4 1731,1661.2 1705.5,1876.9 1696.3,1769.8 1710.9,1867.8 1725.8,1951.2 1720.2,1838.1 1723.3,1711.2 1717.6,1792.4 1718.1,1715.7 1716.3,1720.2 1718.2,1806.1 1744.1,1859.2 1717.9,1845.5 1752.3,1825.2 1709,1891.3 1755.7,1792.6 1711.4,1773.5 1735,1760.3 1719.5,1734.6 1728.3,1902 1720.2,1908.8 1732.6,1916.1 1731.4,1824.6 1733.7,1843.1 1739,1865.8 1705.3,1830.3 1699.7,1841.5 1726.2,1907.9 1730.7,1718 1711.3,1711.9 1713.3,1896.4 1747.9,1744.2 1735,1830.9 1729.5,1872.4 1742.9,1782.2 1727.1,1680.7 1704.8,1793.7 1713.4,1841.4 1755.8,1795.8 1728,1909 1714.9,1728.2 1702.3,1770.2 1752,1837 1730.5,1779.1 1717.8,1727.3 1697.4,1837.3 1735.2,1857 1731,1679.7 1739.6,1766.4 1744.1,1855.7 1703,1818.9 1736.1,1869.9 1696.7,1783.2 1725,1922.4 1732,1804.7 1715.6,1846.5 1727.6,1738 1712.1,1803.3 1726,1682.7 1699.7,1773 1730.3,1710.7 1733.5,1732.5 1716.5,1663 1728.1,1893.2 1697.3,1851.2 1746.3,1781.8 1700.2,1827.9 1757,1814 1714.2,1850.4 1726.5,1660.1 1717,1683.7 1716.4,1677.7 1712.2,1790.3 1729,1748.8 1729.9,1911.5 1722.7,1739.6 1728.9,1770.1 1725.3,1698.1 1726.4,1789.5 1698.2,1758.2 1720.5,1939.8 1691.3,1809.1 1729,1695.9 1738.1,1694.7 1708.2,1895.5 1755.5,1798.5 1718.7,1786 1730.4,1874.8 1710.8,1890 1704.9,1831.7 1734.8,1835.8 1734.3,1669.3 1737.9,1774.1 1741.9,1832.5 1701.7,1832.1 1747.5,1771 1749.4,1782.4 1729.4,1882.9 1699.6,1761.1 1727.4,1901.5 1694.2,1823.7 1733.3,1676.5 1726.8,1791 1711.1,1842.9 1703.9,1779.5 1725.2,1625.3 1702.6,1795.6 1726,1650.2 1723.5,1779.5 1725.2,1850.2 1722.3,1900.7 1738.2,1757.3 1706,1870.2 1700.4,1801.7 1734.5,1746.1"/>
<polyline class="d" points="1920.7,1864.3 1887,1811.3 1906.4,1812.5 1913.2,1895 1930.4,1839.3 1883.5,1819.1 1894.6,1713.9 1920.5,1766.8 1909.7,1636.5 1935.2,1800.8 1920.1,1677.1 1901.7,1833.8 1914.6,1684.6 1893.7,1706.2 1884.9,1760.9 1916.9,1818.4 1892.4,1769.1 1887.8,1753.2 1901.5,1822.8 1878.5,1819.8 1910.7,1748.4 1878,1777.8 1913.5,1724.9 1900.2,1794.8 1898.1,1712.4 1931.1,1739 1901.4,1811.5 1908.4,1740.6 1942.4,1783.4 1893.6,1848.3 1896.9,1754 1926.9,1735.9 1880.5,1814.1 1889.2,1764.7 1912.1,1632.9 1924.6,1846.6 1920.5,1885.6 1923,1871.5 1886.6,1788.8 1928.1,1721.8 1881.3,1751.3 1902.4,1685.9 1909.3,1771.4 1906.9,1702.8 1913.5,1724.7 1915.2,1806.4 1923,1738.3 1924.2,1791.7 1917.9,1886.7 1915.8,1794.7 1916.6,1849.6 1895.8,1851.4 1915,1857.7 1909,1802.7 1881.3,1803.9 1916.8,1793.1 1910.8,1616.8 1923.8,1841.6 1905.5,1868.1 1937.3,1798.4 1891.7,1716 1894.3,1733.5 1900.8,1795.6 1911.3,1805.6 1905,1698.6 1922.4,1700.4 1942.1,1796.6 1907.1,1884.3 1929.6,1851.8 1894.2,1782.2 1913.8,1685.7 1897.2,1684.4 1925.3,1714.6 1904.2,1769.7 1913.1,1658.3 1893,1746.9 1915.1,1727.6 1899.8,1879.4 1928.4,1762 1904.7,1723.8 1916.6,1901.4 1935.6,1802.2 1926.4,1772.4 1906,1847.1 1903.8,1893.8 1889.2,1822.6 1937.6,1814.2 1903.6,1848.4 1925.7,1795 1920.5,1839.5 1900.6,1726.3 1881.5,1808.3 1901.8,1843.9 1922.9,1795.8 1882.6,1748.8 1913.4,1729.8 1922.2,1694.9 1884,1810.5 1909.9,1762.8 1921.7,1864.6 1894.4,1714.6 1900.9,1826.8 1929.4,1744.8 1927.2,1749.6 1917.8,1812.4 1913.2,1839.8 1894,1855.2 1933.3,1791.3 1911.8,1905.8 1906.3,1772.1 1882.3,1827 1909.8,1664.3 1918.9,1710.4 1921.2,1871.7 1905.9,1698.8 1888.1,1769.5 1941.4,1798.4 1913.8,1828.5 1930.3,1844.6 1915.9,1832.6 1906,1690.1 1879.9,1826 1916.2,1690.2 1899.4,1812 1886.2,1785.9 1937.9,1776.7 1917,1697.8 1903.2,1651.1 1885.4,1826.2 1882.5,1793.7 1884.2,1828.7 1907.1,1807.1 1892.8,1781.7 1921.1,1675.4 1891.8,1775.5 1884.3,1793.8 1912.7,1743.5 1919.8,1716 1923.4,1814.9 1905.9,1692.2 1908.5,1796.8 1920.3,1681.9 1916.7,1857.4 1941,1788.4 1913,1884.7 1882.5,1744.2 1907,1653.4 1922.5,1871.2 1924,1865.7 1920.2,1672.6 1908.4,1643.5 1919.6,1699.2 1913,1630.3 1908.4,1641.5 1911.2,1734.1 1910.7,1883.2 1921.7,1838.3 1926.4,1823.4 1934.1,1827.8 1894,1840.7 1915.6,1744 1916.9,1683.3 1909.2,1825.2 1922.3,1679.2 1908.8,1715.9 1886.5,1821.5 1890.7,1731.3 1904.9,1770.5 1909.3,1692 1906.7,1696.1 1929.6,1744.2 1904.1,1656.9 1922.9,1703.8 1923.3,1776.3 1918.8,1678.7 1882.8,1815.8 1913.8,1825 1882.2,1788.8 1926.4,1820.6 1894.7,1727.9 1879.5,1787.8 1901.8,1666.9 1913.2,1784.1 1910.8,1736.9 1908.7,1854.6 1932,1839.9 1877.7,1799 1912.6,1784.9 1911.9,1629 1931.2,1801.1 1927.3,1760.6 1903.4,1733.5 1925,1775.1 1900.7,1688.8 1887.6,1803.8 1894.2,1825.5 1902.1,1829 1885.6,1745.3 1878.6,1805.3 1918,1881.2 1902,1735.6 1909.2,1786 1910.8,1831.7 1919.9,1880 1922.4,1696.6 1890.7,1799.1 1910.8,1626 1938.1,1762.3 1928,1834.5 1936.8,1784.7 1920.7,1711.1 1903.4,1807.7 1916.6,1660.2 1926.1,1817.3 1904.8,1705.4 1894.3,1699.8 1918.1,1673.4 1906.2,1737.4 1922.2,1687.7 1913,1649.6 1925.4,1774.1 1902.8,1663.9 1908.9,1761.7 1935.4,1797.2 1905.4,1715.5 1899.7,1867.6 1882.1,1807.3 1913.2,1760 1929.9,1780.5 1888.7,1757.7 1901.6,1821.4 1918.4,1853 1919.7,1691 1904.9,1752.7 1928.3,1749.7 1917,1875.8 1906.8,1719 1887.1,1770.7 1929,1780.9 1940.1,1817.9 1901.6,1759.4 1914.5,1718.5 1903.6,1764.9 1921.6,1808.6 1905.8,1652.1 1898,1750.8 1880.1,1790.6 1925.2,1816.3 1925.2,1795.6 1898.7,1724 1930.8,1818.7 1913.2,1762.3 1902,1889.6 1882.4,1789 1931.3,1726.6 1890.7,1835.9 1906,1731.7 1923.6,1771.2 1912.7,1783.8 1881.8,1831 1917.7,1703.3 1918.3,1854.2 1899.8,1844.4 1936.1,1764.6 1918.6,1841.3 1899,1804.4 1908.3,1802 1934.8,1782.9 1941.8,1803.6 1921.6,1849.1 1912.5,1904.3 1939.5,1791 1882.1,1750.2 1917.4,1863.4 1919.5,1803.1 1903.2,1665.6 1892.8,1777 1915.5,1758.7 1932.6,1843.6 1918,1739.2 1885.8,1788.1 1908.4,1691.5 1916.5,1677.8 1909,1866.9 1921.9,1788.4 1910.4,1631.4 1906.9,1889.9 1936,1797.3 1905,1882.6 1928.2,1793.3 1905.4,1706.5 1891.6,1811.5 1924.4,1802.8 1901.4,1772.9 1912.4,1824.4 1916,1857.3 1910.1,1821.1 1895.2,1843 1904.4,1670.7 1903.3,1678 1912.7,1887.5 1885.6,1778.7 1908.4,1842.2 1933.6,1810.1 1909.5,1803.2 1915.5,1808.9 1917.3,1878.7 1910.5,1655.5 1888.2,1822.5 1892.4,1722.9 1895.5,1746.2 1919.2,1808.8 1910.5,1740.5 1898.6,1725.5 1942.1,1782 1929.7,1742.1 1920.1,1742.3 1918.6,1673.8 1903.2,1831.4 1908.7,1805.7 1887.1,1847.4 1930.2,1828.7 1901.8,1842.4 1894.5,1758.9 1920.5,1832 1937,1774.4 1923.9,1838.3 1910.5,1603.8 1940.2,1798.8 1911.8,1799.7 1935.1,1833.9 1909.9,1704.6 1895.8,1767.8 1920.5,1868.6 1905.4,1735.1 1921.6,1695.6 1923.2,1766.1 1904.5,1640.1 1897.7,1738.6 1886,1735.4 1885.3,1762.5 1923.7,1867.1 1902.3,1710.6 1898.9,1833.5 1902.9,1714 1939.8,1794.5 1897,1814.4 1883.7,1783.6 1922.3,1758.9 1884.3,1840.1 1939.2,1763.4 1887,1787.5 1918.1,1800.1 1894.1,1820.5 1926.9,1731.1 1897.4,1842.9 1919.3,1754.4 1921.6,1828.6 1918.8,1707.3 1891.2,1836.7 1913.1,1722.1 1905.5,1682.8 1919.4,1860.1 1921.8,1748.1 1901.7,1830.4 1937.9,1790.7 1880.4,1802.5 1888,1766.4 1905.6,1903.5 1903,1704.5 1905,1774.8 1918.9,1855.6 1922.3,1791.1 1912.4,1751.7 1921.2,1850.4 1915.6,1719.8 1904.6,1687.3 1910.3,1625.2 1911.5,1780 1893.1,1805.9 1939.4,1809.9 1882.3,1818 1901.7,1668.9 1921.6,1776.5 1926.7,1752.9 1887.5,1763.5 1929.6,1757.2 1937.4,1778.5 1919.7,1876.9 1920.5,1804.9 1918,1835.3 1920.2,1865.1 1901.7,1836.7 1932.6,1806.8 1913.6,1713.6 1904.8,1798 1915.6,1874.1 1934.5,1786.5 1912.1,1898.4 1907.3,1870.7 1926.1,1866.4 1889.9,1763.7 1923,1786.3 1915.2,1681 1932.3,1837.3 1912.9,1874.2 1915.2,1697.9 1889,1720.6 1886.9,1846.3 1905.4,1696.1 1922.8,1723.1 1884.3,1736.4 1893.9,1716.6 1908,1751 1919.1,1667.6 1925.1,1732.6 1906.7,1691.3 1897.5,1829.9 1933,1834.3 1884,1771.9 1917,1702 1910.1,1674.4 1903.6,1655.7 1916.8,1781.8 1912,1738.9 1908.6,1734.1 1890.3,1760.3 1930.7,1750.7 1927.4,1768.2 1917.4,1666.5 1892.8,1755.2 1888.9,1779.7 1924.7,1843.5 1897.1,1707.5 1902.7,1828 1908.8,1893.4 1884,1748.3 1880.6,1817.2 1910.9,1899.6 1934.5,1768.6 1916.8,1662.3 1903.1,1837.9 1925.6,1838.5 1933.6,1815.9 1913.4,1728.7 1911.5,1619.4 1903.1,1772 1905,1784 1918.5,1782.7 1897.8,1745.7 1879.6,1789.3 1898.7,1782.5 1917.7,1789.7 1884.1,1741 1914.2,1836.4 1896,1720.8 1921.5,1793.5 1908.4,1796.1 1895.5,1743.2 1899.1,1742.4 1888.9,1765.4 1909.9,1676.2 1912.6,1846.1 1910.9,1668 1922.6,1784.4 1913.3,1661 1919.1,1728.9 1911.1,1642.5 1923.2,1869.5 1905.4,1823.5 1894.3,1863.6 1888.8,1729 1931.1,1745.5 1907.9,1781.2 1922,1822.2 1888.9,1781.6 1898.9,1775.8 1907.4,1897.6 1922.7,1847 1911.9,1845.6 1900.9,1701.4 1928.7,1722.7 1915.7,1755.7 1911.7,1663 1917,1648.3 1910.7,1604.2 1916.6,1786.9 1911.7,1689.5 1932,1835.2 1912.1,1771.6 1917.2,1752.1 1914.8,1717.5 1915,1706 1912.2,1813.8 1899.2,1685.3 1912,1754.8 1921.2,1844 1889.1,1724.2 1915.8,1891.7 1907.2,1888.2 1906.8,1719.3 1921.5,1807.7 1901.5,1657.7 1893.6,1712.8 1903.8,1719.6 1920.8,1885.9 1909.7,1708.5 1914,1863.1 1907.3,1709.8 1881.2,1765.9 1938.8,1807.1 1904.2,1763.5 1912.3,1846.7 1913.6,1785.5 1938,1773.5 1927.6,1786.8 1921.1,1671.1 1887.1,1728.5 1898.5,1852.6 1905.1,1732.8 1911.7,1634.8 1924.1,1827.4 1919.9,1801.5 1904.4,1755.6 1939.9,1811 1909,1726.6 1895.7,1787.1 1927,1717.3 1910.2,1654.7 1921.1,1687.1 1938.1,1807.6 1915.4,1649.5 1899.5,1724.9 1903.5,1786.1 1916.6,1672.9 1917.2,1830.6 1892.7,1798.9 1886.9,1757.7 1920.3,1782.2 1915.8,1725.9 1901.5,1808.2 1908.8,1670 1929.2,1819 1878.9,1772.6 1910.5,1761.5 1934.4,1747.6 1927.4,1854.1 1888.7,1850.1 1903.9,1760.7 1929.1,1848.1 1910.5,1708.7 1929.5,1848.3 1914.7,1753.4 1910.8,1851.1 1909.8,1908.8 1894.9,1862.4 1893.2,1859.3 1895.5,1719.9 1935.2,1836.3 1910.8,1810.2 1918.1,1822 1895.8,1743.1 1912.8,1638.8 1909.4,1610.5 1927.8,1833.1 1901,1853.8 1911.8,1898 1938.9,1773.3 1919.2,1686.5 1917,1788 1934.1,1840.5 1906.8,1644.1 1913.3,1751.6 1905.8,1746.5 1885.4,1837.7 1929.7,1732.3 1921.4,1801.7 1908.8,1882.1 1911.5,1845.2 1901.9,1722.6 1902.8,1661.2 1923,1850.6 1912.9,1683.8 1891.5,1708.3 1896.1,1861.4 1936,1818.2 1880.3,1790.2 1922,1851.9 1921.6,1809.3 1923.7,1758 1905.9,1835 1918.5,1674.3 1938.8,1811.9 1883,1809.8 1892.1,1767.4 1888.4,1745.6 1934.5,1775.2 1906.6,1793.1 1937.4,1773.9 1908.6,1792 1881.9,1814.4 1939.6,1792.3 1909.2,1635.9 1891.5,1716.4 1915.6,1665.9 1914.6,1814.7 1881.9,1764.3 1930.5,1820 1928.5,1856.7 1902,1835.5 1901.8,1872.6 1908.2,1824.1 1911.8,1827.4 1919.1,1712.4 1907.8,1877.1 1921.1,1838.7 1922.8,1781.1 1927.9,1757.5 1897.9,1832.1 1908.5,1741.2 1892.7,1844.5 1924.3,1821.8 1910.8,1675.6 1885.7,1783.2 1918.1,1868.2 1905.4,1819.3 1936.5,1831.9 1904.5,1705.3 1894.3,1753.6 1907.3,1825.3 1911.1,1824.4 1888.2,1768.1 1892.4,1821 1899.8,1876.3 1895.2,1761.5 1897.1,1842.2 1905.8,1877.2 1904.4,1720.1 1897.2,1703.1 1926.2,1739.5 1913.3,1800.2 1887.6,1774.3 1922,1872.2 1888.1,1789.5 1914.4,1800.5 1900.3,1805 1895,1777.4 1906.9,1886.2 1906.5,1645.3 1910.5,1794 1916.9,1900.3 1930.2,1853.3 1930,1808.6 1900,1829.8 1909,1620 1881.4,1779.5 1916.5,1727.8 1892.6,1840.6 1898.9,1784.5 1881.9,1748.2 1896.8,1749.3 1889.5,1828.1 1902.3,1654.2 1917.1,1741.8 1922,1823 1916.3,1869.7 1907.9,1752.4 1879.1,1772.3 1920.7,1700.8 1934.3,1819.5 1929.8,1771.1 1937.4,1767.3 1918,1880.7 1920.6,1820.2 1906.3,1640.2 1886.6,1747.4 1925.7,1702.6 1906,1647.2 1887.1,1800.9 1908.6,1841.7 1889.3,1787.1 1889.7,1845.6 1908.7,1658.9 1938,1813 1923.6,1775.9 1896.6,1804.1 1921.2,1853.6 1912.2,1680 1917.2,1759.6 1922.9,1712 1907.4,1780.8 1882.3,1744.8 1916.8,1860.6 1920.6,1815.2 1919.7,1668.6 1890.8,1779.1 1919.4,1730.2 1911.6,1873.4 1910.5,1888.7 1902.3,1700 1941.8,1796.3 1905.7,1729.8 1883.2,1830.4 1912.3,1730.8 1938,1763.9 1916.3,1795.1 1907.7,1759.6 1908.9,1693.9 1884.4,1806.2 1931.2,1816.8 1922.7,1756.5 1901.2,1746.1 1911.1,1740.8 1918.5,1756.1 1910.1,1902.3 1914.6,1637.3 1911.1,1727.4 1897.3,1814.2 1923.7,1713 1923,1780 1898,1743.8 1926.4,1794.2 1911.5,1646 1930.5,1727.1 1919.4,1718.8 1932.4,1731.9 1896.1,1709.3 1883.2,1778.1 1938.6,1765.3 1919.8,1662.7 1928.1,1758.2 1900.8,1680.2 1920.1,1738.4 1922.7,1795.4 1935.4,1768.7 1879.3,1792.2 1936.5,1815.9 1932.9,1772.7 1885.2,1750.3 1934.3,1804.2 1910.2,1622.5 1935.7,1799.6 1918.1,1751.9 1932.3,1747.5 1918.4,1681.8 1913.3,1816.5 1907.9,1873.2 1880.9,1817 1908.3,1784 1884.9,1736.2 1905.7,1813.5 1894.2,1735.9 1898.9,1682.4 1909,1764 1912.6,1895.1 1929.9,1721.8 1904.3,1896.5 1895.2,1746.8 1917.1,1825.8 1905.8,1725.8 1899.7,1859.3 1918.1,1875.3 1925.2,1739.7 1930.6,1790.3 1908.1,1865.3 1907.8,1797.8 1896.2,1810.3 1911,1693 1914.1,1758.6 1936.8,1816.9 1882.3,1787.3 1903.7,1664.8 1928.7,1856 1912.4,1628.3 1928.9,1731.4 1913.6,1833.3 1918.4,1770.6 1891.7,1806.2 1917.7,1830.1 1912.2,1753.9 1914.6,1656.5 1894.4,1708.1 1891.8,1717.9 1878.2,1813 1890.7,1837.2 1920.9,1679.4 1900.1,1858.7 1892.8,1766.2 1903.2,1697.5 1898.8,1780.8 1927.8,1711.5 1930.3,1849.3 1886.6,1835.8 1907.4,1862.8 1904.1,1878.9 1929.8,1803 1917.8,1804.8 1906.3,1870 1929.9,1740.1 1928.9,1797 1916.3,1858.1 1935.7,1792.1 1921.3,1671.5 1901.1,1881.6 1903.1,1734.8 1928.1,1776.4 1911.7,1729.4 1896.5,1763 1919.8,1769.5 1927.4,1841.6 1920.3,1812.4 1892.6,1710.1 1921.5,1858 1923.6,1860.8 1928.9,1733.1 1905,1688.1 1900,1669.2 1911.7,1780.2 1904.2,1883.8 1906.3,1860.1 1916.5,1826.6 1931.5,1777.7 1918,1756.4 1879.2,1799.7 1880.8,1831.2 1939.7,1774.8 1884.3,1792.8 1901,1742.7 1902.5,1775.4 1913,1859.5 1901.7,1779.1 1912.7,1839 1925.5,1797.4 1912.4,1891.7 1886,1773.7 1912.9,1715 1924.1,1852.2 1904.2,1703.9 1886,1765.6 1907.2,1653 1924.9,1820.6 1882.8,1796.1 1925.6,1756.2 1912.9,1810.5 1940,1769.1 1899.8,1823.9 1912.3,1755.6 1906,1809.3 1921.4,1749.2 1911.3,1777.1 1907.5,1676.8 1886,1823.1 1909.8,1709.4 1898.4,1730.5 1916.1,1802.1 1893.1,1812.7 1895.4,1789.9 1940.1,1767.3 1931.4,1737.1 1898,1693.6 1896.8,1865.7 1879.4,1817.7 1902.9,1754.2 1912.6,1659.8 1914.6,1862 1919.2,1892.1 1937.5,1773.4 1903.2,1784.9 1921.4,1767.4 1909.3,1737.9 1906.2,1805.9 1905,1823.7 1903.8,1701.1 1928.4,1767.1 1882.3,1827.1 1916.8,1723.1 1908.2,1697 1917.3,1741.5 1913.2,1734.7 1922.8,1778.2 1922.9,1721.2 1917.1,1856.5 1925.3,1734.3 1902.6,1875.1 1902.8,1651.6 1912.3,1695.1 1906.6,1877.7 1919.8,1830.7 1924.9,1824.7 1916.1,1791.4 1910.4,1693.5 1893.4,1785.4 1892.4,1770 1899.4,1801.1 1904.6,1861.8 1897.5,1856 1882,1813.7 1922.2,1765.5 1927.9,1752.3 1901.4,1834.2 1889.5,1777.5 1899.6,1854.9 1937.7,1759.8 1896.5,1768.5 1898.4,1689.4 1893.8,1717.5 1889.6,1829.3 1910.6,1849.5 1887.7,1779.2 1879.2,1799.5 1903.5,1789.9 1899.6,1778.5 1920.8,1749.1 1912.4,1757 1917.9,1801.6 1905.7,1811.2 1879.2,1792.5 1905.1,1757.1 1900.8,1868.9 1893.4,1770.3 1927.7,1737.5 1893,1754.7 1913,1706.9 1930.9,1851.1 1914.6,1832.8 1931,1818.6 1905.3,1890.4 1930.8,1760.6 1911.1,1647.8 1912.1,1815.5 1893.8,1797.9 1882.6,1789.4"/>
</g><g class="l">
<path class="x" d="M102.5 69V623.3H473.3"/>
<path class="y" d="M102.5 71.5h24.4M102.5 163.5h24.4M102.5 255.4h24.4M102.5 347.4h24.4M102.5 439.4h24.4M102.5 531.3h24.4"/>
<path class="e" d="M256 335V501.8M238.7 335h34.6M238.7 501.8h34.6M221 418.2H291M440.9 324.2V497.5M423.6 324.2h34.6M423.6 497.5h34.6M405.9 410.8H473.3"/>
<path class="x" d="M612.8 69V623.3H983.6"/>
<path class="y" d="M612.8 71.5h24.4M612.8 163.5h24.4M612.8 255.4h24.4M612.8 347.4h24.4M612.8 439.4h24.4M612.8 531.3h24.4"/>
<path class="e" d="M766.3 306.5V463.2M749 306.5h34.6M749 463.2h34.6M731.3 385H801.3M951.2 308.8V458.2M933.9 308.8h34.6M933.9 458.2h34.6M916.2 383.2H983.6"/>
<path class="x" d="M1123.4 69V623.3H1494.2"/>
<path class="y" d="M1123.4 71.5h24.4M1123.4 181.9h24.4M1123.4 292.2h24.4M1123.4 402.6h24.4M1123.4 512.9h24.4"/>
<path class="e" d="M1276.9 221.8V397.5M1259.6 221.8h34.6M1259.6 397.5h34.6M1241.9 308.8H1311.9M1461.8 238V378M1444.5 238h34.6M1444.5 378h34.6M1426.8 307.8H1494.2"/>
<path class="x" d="M1633.2 69V623.3H2004"/>
<path class="y" d="M1633.2 71.5h24.4M1633.2 163.5h24.4M1633.2 255.4h24.4M1633.2 347.4h24.4M1633.2 439.4h24.4M1633.2 531.3h24.4"/>
<path class="e" d="M1786.7 375V605.8M1769.4 375h34.6M1769.4 605.8h34.6M1751.7 490.5H1821.7M1971.6 364.5V606.2M1954.3 364.5h34.6M1954.3 606.2h34.6M1936.6 485.8H2004"/>
<path class="x" d="M102.5 792.2V1346.5H473.3"/>
<path class="y" d="M102.5 794.8h24.4M102.5 886.7h24.4M102.5 978.7h24.4M102.5 1070.7h24.4M102.5 1162.6h24.4M102.5 1254.6h24.4"/>
<path class="e" d="M256 911.2V1107M238.7 911.2h34.6M238.7 1107h34.6M221 1008.2H291M440.9 927.5V1104.2M423.6 927.5h34.6M423.6 1104.2h34.6M405.9 1015H473.3"/>
<path class="x" d="M612.8 792.2V1346.5H983.6"/>
<path class="y" d="M612.8 794.8h24.4M612.8 905.1h24.4M612.8 1015.5h24.4M612.8 1125.8h24.4M612.8 1236.2h24.4"/>
<path class="e" d="M766.3 890.5V1121.8M749 890.5h34.6M749 1121.8h34.6M731.3 1005.2H801.3M951.2 893.8V1148M933.9 893.8h34.6M933.9 1148h34.6M916.2 1020H983.6"/>
<path class="e" d="M703.8 803H888.2"/>
<path class="x" d="M1123.4 792.2V1346.5H1494.2"/>
<path class="y" d="M1123.4 794.8h24.4M1123.4 905.1h24.4M1123.4 1015.5h24.4M1123.4 1125.8h24.4M1123.4 1236.2h24.4"/>
<path class="e" d="M1276.9 976.2V1118.8M1259.6 976.2h34.6M1259.6 1118.8h34.6M1241.9 1047.5H1311.9M1461.8 989.5V1119.5M1444.5 989.5h34.6M1444.5 1119.5h34.6M1426.8 1054.5H1494.2"/>
<path class="e" d="M1216.8 903.8H1400.8"/>
<path class="x" d="M1633.2 792.2V1346.5H2004"/>
<path class="y" d="M1633.2 794.8h24.4M1633.2 886.7h24.4M1633.2 978.7h24.4M1633.2 1070.7h24.4M1633.2 1162.6h24.4M1633.2 1254.6h24.4"/>
<path class="e" d="M1786.7 1081.8V1268M1769.4 1081.8h34.6M1769.4 1268h34.6M1751.7 1174.5H1821.7M1971.6 1060.8V1263.2M1954.3 1060.8h34.6M1954.3 1263.2h34.6M1936.6 1161.2H2004"/>
<path class="e" d="M1721.8 824.5H1906"/>
<path class="x" d="M102.5 1519.1V2073.4H473.3"/>
<path class="y" d="M102.5 1521.6h24.4M102.5 1659.6h24.4M102.5 1797.5h24.4M102.5 1935.5h24.4"/>
<path class="e" d="M256 1705.5V1886.8M238.7 1705.5h34.6M238.7 1886.8h34.6M221 1796.2H291M440.9 1664.5V1824.5M423.6 1664.5h34.6M423.6 1824.5h34.6M405.9 1744.5H473.3"/>
<path class="e" d="M193.8 1572.5H378.2"/>
<path class="x" d="M612.8 1519.1V2073.4H983.6"/>
<path class="y" d="M612.8 1521.6h24.4M612.8 1632h24.4M612.8 1742.3h24.4M612.8 1852.7h24.4M612.8 1963h24.4"/>
<path class="e" d="M766.3 1783V1985M749 1783h34.6M749 1985h34.6M731.3 1883H801.3M951.2 1759.5V1978M933.9 1759.5h34.6M933.9 1978h34.6M916.2 1868.2H983.6"/>
<path class="e" d="M707.5 1536.8H892"/>
<path class="x" d="M1123.4 1519.1V2073.4H1494.2"/>
<path class="y" d="M1123.4 1521.6h24.4M1123.4 1632h24.4M1123.4 1742.3h24.4M1123.4 1852.7h24.4M1123.4 1963h24.4"/>
<path class="e" d="M1276.9 1721.2V1918.8M1259.6 1721.2h34.6M1259.6 1918.8h34.6M1241.9 1820H1311.9M1461.8 1756.8V1907.5M1444.5 1756.8h34.6M1444.5 1907.5h34.6M1426.8 1831.8H1494.2"/>
<path class="e" d="M1220.8 1588.8H1405"/>
<path class="x" d="M1633.2 1519.1V2073.4H2004"/>
<path class="y" d="M1633.2 1521.6h24.4M1633.2 1659.6h24.4M1633.2 1797.5h24.4M1633.2 1935.5h24.4"/>
<path class="e" d="M1786.7 1714.2V1878.8M1769.4 1714.2h34.6M1769.4 1878.8h34.6M1751.7 1795.8H1821.7M1971.6 1697.8V1849.5M1954.3 1697.8h34.6M1954.3 1849.5h34.6M1936.6 1773.8H2004"/>
<path class="e" d="M1724.8 1583.2H1909"/>
</g><g class="tx">
<text class="t" x="150.2" y="30.5" textLength="263.2" lengthAdjust="spacingAndGlyphs">Cell volume (fL)</text>
<text class="k" x="91" y="83.7">1200</text>
<text class="k" x="91" y="175.7">1000</text>
<text class="k" x="91" y="267.6">800</text>
<text class="k" x="91" y="359.6">600</text>
<text class="k" x="91" y="451.6">400</text>
<text class="k" x="91" y="543.5">200</text>
<text class="k" x="91" y="635.5">0</text>
<text class="n" x="127.4" y="678.8" textLength="103.8" lengthAdjust="spacingAndGlyphs">NPM1</text>
<text class="s" x="230.8" y="688.8" textLength="36.8" lengthAdjust="spacingAndGlyphs">WT</text>
<text class="n" x="308.1" y="676.2" textLength="103.8" lengthAdjust="spacingAndGlyphs">NPM1</text>
<text class="s" x="411.5" y="686.2" textLength="52.8" lengthAdjust="spacingAndGlyphs">MUT</text>
<text class="t" x="600.2" y="30.5" textLength="379.5" lengthAdjust="spacingAndGlyphs">Cytoplasm volume (fL)</text>
<text class="k" x="601.3" y="83.7">600</text>
<text class="k" x="601.3" y="175.7">500</text>
<text class="k" x="601.3" y="267.6">400</text>
<text class="k" x="601.3" y="359.6">300</text>
<text class="k" x="601.3" y="451.6">200</text>
<text class="k" x="601.3" y="543.5">100</text>
<text class="k" x="601.3" y="635.5">0</text>
<text class="n" x="639.4" y="676.8" textLength="103.8" lengthAdjust="spacingAndGlyphs">NPM1</text>
<text class="s" x="742.8" y="686.8" textLength="36.8" lengthAdjust="spacingAndGlyphs">WT</text>
<text class="n" x="819.4" y="676.8" textLength="103.8" lengthAdjust="spacingAndGlyphs">NPM1</text>
<text class="s" x="922.8" y="686.8" textLength="52.8" lengthAdjust="spacingAndGlyphs">MUT</text>
<text class="t" x="1194" y="30.5" textLength="260.8" lengthAdjust="spacingAndGlyphs">Nucleoplasm RI</text>
<text class="k" x="1111.9" y="83.7">1.38</text>
<text class="k" x="1111.9" y="194.1">1.375</text>
<text class="k" x="1111.9" y="304.4">1.37</text>
<text class="k" x="1111.9" y="414.8">1.365</text>
<text class="k" x="1111.9" y="525.1">1.36</text>
<text class="k" x="1111.9" y="635.5">1.355</text>
<text class="n" x="1151.9" y="676.8" textLength="103.8" lengthAdjust="spacingAndGlyphs">NPM1</text>
<text class="s" x="1255.2" y="686.8" textLength="36.8" lengthAdjust="spacingAndGlyphs">WT</text>
<text class="n" x="1332.4" y="674.2" textLength="103.8" lengthAdjust="spacingAndGlyphs">NPM1</text>
<text class="s" x="1435.8" y="684.2" textLength="52.8" lengthAdjust="spacingAndGlyphs">MUT</text>
<text class="t" x="1640" y="30.5" textLength="367" lengthAdjust="spacingAndGlyphs">Nucleolus volume (fL)</text>
<text class="k" x="1621.7" y="83.7">60</text>
<text class="k" x="1621.7" y="175.7">50</text>
<text class="k" x="1621.7" y="267.6">40</text>
<text class="k" x="1621.7" y="359.6">30</text>
<text class="k" x="1621.7" y="451.6">20</text>
<text class="k" x="1621.7" y="543.5">10</text>
<text class="k" x="1621.7" y="635.5">0</text>
<text class="n" x="1663.7" y="674.2" textLength="103.8" lengthAdjust="spacingAndGlyphs">NPM1</text>
<text class="s" x="1767" y="684.2" textLength="36.8" lengthAdjust="spacingAndGlyphs">WT</text>
<text class="n" x="1843.7" y="674.2" textLength="103.8" lengthAdjust="spacingAndGlyphs">NPM1</text>
<text class="s" x="1947" y="684.2" textLength="52.8" lengthAdjust="spacingAndGlyphs">MUT</text>
<text class="t" x="171" y="758.2" textLength="246.2" lengthAdjust="spacingAndGlyphs">NC ratio (area)</text>
<text class="k" x="91" y="807">0.75</text>
<text class="k" x="91" y="898.9">0.7</text>
<text class="k" x="91" y="990.9">0.65</text>
<text class="k" x="91" y="1082.9">0.6</text>
<text class="k" x="91" y="1174.8">0.55</text>
<text class="k" x="91" y="1266.8">0.5</text>
<text class="k" x="91" y="1358.8">0.45</text>
<text class="n" x="127.4" y="1406" textLength="103.8" lengthAdjust="spacingAndGlyphs">NPM1</text>
<text class="s" x="230.8" y="1416" textLength="36.8" lengthAdjust="spacingAndGlyphs">WT</text>
<text class="n" x="308.1" y="1403.5" textLength="103.8" lengthAdjust="spacingAndGlyphs">NPM1</text>
<text class="s" x="411.5" y="1413.5" textLength="52.8" lengthAdjust="spacingAndGlyphs">MUT</text>
<text class="t" x="670.2" y="758.2" textLength="235.8" lengthAdjust="spacingAndGlyphs">Cell sphericity</text>
<text class="k" x="601.3" y="807">0.9</text>
<text class="k" x="601.3" y="917.3">0.85</text>
<text class="k" x="601.3" y="1027.7">0.8</text>
<text class="k" x="601.3" y="1138">0.75</text>
<text class="k" x="601.3" y="1248.4">0.7</text>
<text class="k" x="601.3" y="1358.8">0.65</text>
<text class="a" x="796.2" y="794.8">*</text>
<text class="n" x="639.4" y="1403.8" textLength="103.8" lengthAdjust="spacingAndGlyphs">NPM1</text>
<text class="s" x="742.8" y="1413.8" textLength="36.8" lengthAdjust="spacingAndGlyphs">WT</text>
<text class="n" x="819.4" y="1403.8" textLength="103.8" lengthAdjust="spacingAndGlyphs">NPM1</text>
<text class="s" x="922.8" y="1413.8" textLength="52.8" lengthAdjust="spacingAndGlyphs">MUT</text>
<text class="t" x="1202" y="758.2" textLength="219.8" lengthAdjust="spacingAndGlyphs">Cytoplasm RI</text>
<text class="k" x="1111.9" y="807">1.375</text>
<text class="k" x="1111.9" y="917.3">1.37</text>
<text class="k" x="1111.9" y="1027.7">1.365</text>
<text class="k" x="1111.9" y="1138">1.36</text>
<text class="k" x="1111.9" y="1248.4">1.355</text>
<text class="k" x="1111.9" y="1358.8">1.35</text>
<text class="a" x="1298.6 1318.9" y="895">**</text>
<text class="n" x="1151.9" y="1403.8" textLength="103.8" lengthAdjust="spacingAndGlyphs">NPM1</text>
<text class="s" x="1255.2" y="1413.8" textLength="36.8" lengthAdjust="spacingAndGlyphs">WT</text>
<text class="n" x="1332.4" y="1401.2" textLength="103.8" lengthAdjust="spacingAndGlyphs">NPM1</text>
<text class="s" x="1435.8" y="1411.2" textLength="52.8" lengthAdjust="spacingAndGlyphs">MUT</text>
<text class="t" x="1656.2" y="758.2" textLength="334.5" lengthAdjust="spacingAndGlyphs">Nucleus volume (fL)</text>
<text class="k" x="1621.7" y="807">600</text>
<text class="k" x="1621.7" y="898.9">500</text>
<text class="k" x="1621.7" y="990.9">400</text>
<text class="k" x="1621.7" y="1082.9">300</text>
<text class="k" x="1621.7" y="1174.8">200</text>
<text class="k" x="1621.7" y="1266.8">100</text>
<text class="k" x="1621.7" y="1358.8">0</text>
<text class="a" x="1803.4 1823.6" y="816.3">**</text>
<text class="n" x="1663.7" y="1401.2" textLength="103.8" lengthAdjust="spacingAndGlyphs">NPM1</text>
<text class="s" x="1767" y="1411.2" textLength="36.8" lengthAdjust="spacingAndGlyphs">WT</text>
<text class="n" x="1843.7" y="1401.2" textLength="103.8" lengthAdjust="spacingAndGlyphs">NPM1</text>
<text class="s" x="1947" y="1411.2" textLength="52.8" lengthAdjust="spacingAndGlyphs">MUT</text>
<text class="t" x="126.5" y="1480.8" textLength="308.2" lengthAdjust="spacingAndGlyphs">Nucleus sphericity</text>
<text class="k" x="91" y="1533.8">0.7</text>
<text class="k" x="91" y="1671.8">0.6</text>
<text class="k" x="91" y="1809.7">0.5</text>
<text class="k" x="91" y="1947.7">0.4</text>
<text class="k" x="91" y="2085.6">0.3</text>
<text class="a" x="265.2 285.5 305.8" y="1563.8">***</text>
<text class="n" x="127.4" y="2127" textLength="103.8" lengthAdjust="spacingAndGlyphs">NPM1</text>
<text class="s" x="230.8" y="2137" textLength="36.8" lengthAdjust="spacingAndGlyphs">WT</text>
<text class="n" x="308.1" y="2124.5" textLength="103.8" lengthAdjust="spacingAndGlyphs">NPM1</text>
<text class="s" x="411.5" y="2134.5" textLength="52.8" lengthAdjust="spacingAndGlyphs">MUT</text>
<text class="t" x="585.2" y="1480.8" textLength="418.2" lengthAdjust="spacingAndGlyphs">Nucleoplasm volume (fL)</text>
<text class="k" x="601.3" y="1533.8">500</text>
<text class="k" x="601.3" y="1644.2">400</text>
<text class="k" x="601.3" y="1754.5">300</text>
<text class="k" x="601.3" y="1864.9">200</text>
<text class="k" x="601.3" y="1975.2">100</text>
<text class="k" x="601.3" y="2085.6">0</text>
<text class="a" x="779.8 800 820.2" y="1527.5">***</text>
<text class="n" x="639.4" y="2124.5" textLength="103.8" lengthAdjust="spacingAndGlyphs">NPM1</text>
<text class="s" x="742.8" y="2134.5" textLength="36.8" lengthAdjust="spacingAndGlyphs">WT</text>
<text class="n" x="819.4" y="2124.5" textLength="103.8" lengthAdjust="spacingAndGlyphs">NPM1</text>
<text class="s" x="922.8" y="2134.5" textLength="52.8" lengthAdjust="spacingAndGlyphs">MUT</text>
<text class="t" x="1209" y="1481.2" textLength="207" lengthAdjust="spacingAndGlyphs">Nucleolus RI</text>
<text class="k" x="1111.9" y="1533.8">1.39</text>
<text class="k" x="1111.9" y="1644.2">1.385</text>
<text class="k" x="1111.9" y="1754.5">1.38</text>
<text class="k" x="1111.9" y="1864.9">1.375</text>
<text class="k" x="1111.9" y="1975.2">1.37</text>
<text class="k" x="1111.9" y="2085.6">1.365</text>
<text class="a" x="1292.8 1313 1333.2" y="1580">***</text>
<text class="n" x="1151.9" y="2124.5" textLength="103.8" lengthAdjust="spacingAndGlyphs">NPM1</text>
<text class="s" x="1255.2" y="2134.5" textLength="36.8" lengthAdjust="spacingAndGlyphs">WT</text>
<text class="n" x="1332.4" y="2121.8" textLength="103.8" lengthAdjust="spacingAndGlyphs">NPM1</text>
<text class="s" x="1435.8" y="2131.8" textLength="52.8" lengthAdjust="spacingAndGlyphs">MUT</text>
<text class="t" x="1665.8" y="1481.2" textLength="298.8" lengthAdjust="spacingAndGlyphs">NC ratio (volume)</text>
<text class="k" x="1621.7" y="1533.8">0.6</text>
<text class="k" x="1621.7" y="1671.8">0.5</text>
<text class="k" x="1621.7" y="1809.7">0.4</text>
<text class="k" x="1621.7" y="1947.7">0.3</text>
<text class="k" x="1621.7" y="2085.6">0.2</text>
<text class="a" x="1796.2 1816.5 1836.8" y="1575">***</text>
<text class="n" x="1663.7" y="2122" textLength="103.8" lengthAdjust="spacingAndGlyphs">NPM1</text>
<text class="s" x="1767" y="2132" textLength="36.8" lengthAdjust="spacingAndGlyphs">WT</text>
<text class="n" x="1843.7" y="2122" textLength="103.8" lengthAdjust="spacingAndGlyphs">NPM1</text>
<text class="s" x="1947" y="2132" textLength="52.8" lengthAdjust="spacingAndGlyphs">MUT</text>
</g>
</svg></body></html>
